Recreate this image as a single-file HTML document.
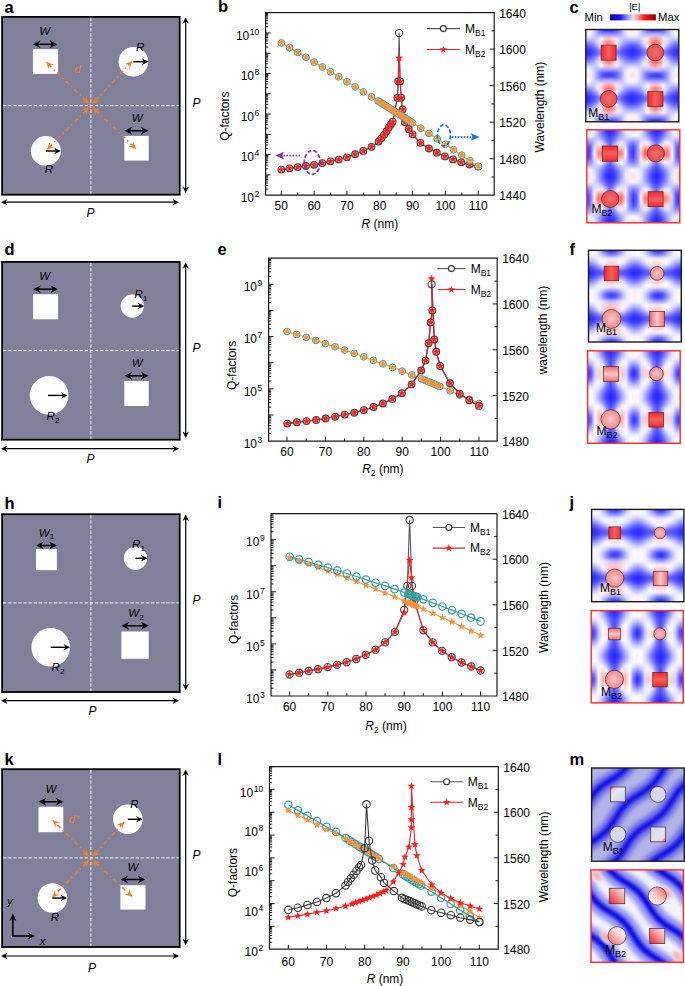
<!DOCTYPE html>
<html><head><meta charset="utf-8"><style>
html,body{margin:0;padding:0;background:#fff;}
svg{display:block;font-family:"Liberation Sans", sans-serif;}
</style></head><body>
<svg width="685" height="986" viewBox="0 0 685 986">
<defs>
<linearGradient id="gRedH" x1="0" y1="0" x2="1" y2="0"><stop offset="0" stop-color="#ff2424"/><stop offset="0.5" stop-color="#f26262"/><stop offset="1" stop-color="#ff2424"/></linearGradient>
<linearGradient id="gRedV" x1="0" y1="0" x2="0" y2="1"><stop offset="0" stop-color="#ff2424"/><stop offset="0.5" stop-color="#f26262"/><stop offset="1" stop-color="#ff2424"/></linearGradient>
<radialGradient id="gRedC"><stop offset="0" stop-color="#f27070"/><stop offset="1" stop-color="#ec4848"/></radialGradient>
<linearGradient id="gPinkH" x1="0" y1="0" x2="1" y2="0"><stop offset="0" stop-color="#f46a6a"/><stop offset="0.5" stop-color="#fbcaca"/><stop offset="1" stop-color="#f46a6a"/></linearGradient>
<linearGradient id="gPinkV" x1="0" y1="0" x2="0" y2="1"><stop offset="0" stop-color="#f46a6a"/><stop offset="0.5" stop-color="#fbcaca"/><stop offset="1" stop-color="#f46a6a"/></linearGradient>
<radialGradient id="gPinkC"><stop offset="0" stop-color="#fbc8c8"/><stop offset="1" stop-color="#f48888"/></radialGradient>
<linearGradient id="gCbar" x1="0" y1="0" x2="1" y2="0"><stop offset="0" stop-color="#00009a"/><stop offset="0.22" stop-color="#1515ff"/><stop offset="0.4" stop-color="#a0a0f2"/><stop offset="0.5" stop-color="#e6e0e0"/><stop offset="0.6" stop-color="#f7a0a0"/><stop offset="0.75" stop-color="#ff1515"/><stop offset="1" stop-color="#960010"/></linearGradient>
<clipPath id="cl0"><rect x="585.8" y="29.5" width="93" height="92.3"/></clipPath><linearGradient id="fr0" x1="0" x2="1" y1="0" y2="0"><stop offset="0.000" stop-color="#fff2f2"/><stop offset="0.038" stop-color="#ffdede"/><stop offset="0.077" stop-color="#ffefef"/><stop offset="0.115" stop-color="#d9d9ff"/><stop offset="0.154" stop-color="#9595ff"/><stop offset="0.192" stop-color="#5b5bff"/><stop offset="0.231" stop-color="#3535ff"/><stop offset="0.269" stop-color="#2828ff"/><stop offset="0.308" stop-color="#3434ff"/><stop offset="0.346" stop-color="#5959ff"/><stop offset="0.385" stop-color="#9393ff"/><stop offset="0.423" stop-color="#d7d7ff"/><stop offset="0.462" stop-color="#fff0f0"/><stop offset="0.500" stop-color="#ffdede"/><stop offset="0.538" stop-color="#fff0f0"/><stop offset="0.577" stop-color="#d8d8ff"/><stop offset="0.615" stop-color="#9494ff"/><stop offset="0.654" stop-color="#5b5bff"/><stop offset="0.692" stop-color="#3838ff"/><stop offset="0.731" stop-color="#2d2dff"/><stop offset="0.769" stop-color="#3939ff"/><stop offset="0.808" stop-color="#5d5dff"/><stop offset="0.846" stop-color="#9696ff"/><stop offset="0.885" stop-color="#dadaff"/><stop offset="0.923" stop-color="#ffefef"/><stop offset="0.962" stop-color="#ffdede"/><stop offset="1.000" stop-color="#fff2f2"/></linearGradient><linearGradient id="fr1" x1="0" x2="1" y1="0" y2="0"><stop offset="0.000" stop-color="#fff1f1"/><stop offset="0.038" stop-color="#ffdcdc"/><stop offset="0.077" stop-color="#ffeeee"/><stop offset="0.115" stop-color="#dadaff"/><stop offset="0.154" stop-color="#9595ff"/><stop offset="0.192" stop-color="#5c5cff"/><stop offset="0.231" stop-color="#3a3aff"/><stop offset="0.269" stop-color="#2e2eff"/><stop offset="0.308" stop-color="#3838ff"/><stop offset="0.346" stop-color="#5a5aff"/><stop offset="0.385" stop-color="#9393ff"/><stop offset="0.423" stop-color="#d8d8ff"/><stop offset="0.462" stop-color="#fff0f0"/><stop offset="0.500" stop-color="#ffdcdc"/><stop offset="0.538" stop-color="#ffefef"/><stop offset="0.577" stop-color="#d9d9ff"/><stop offset="0.615" stop-color="#9898ff"/><stop offset="0.654" stop-color="#6565ff"/><stop offset="0.692" stop-color="#4848ff"/><stop offset="0.731" stop-color="#4040ff"/><stop offset="0.769" stop-color="#4848ff"/><stop offset="0.808" stop-color="#6565ff"/><stop offset="0.846" stop-color="#9999ff"/><stop offset="0.885" stop-color="#dbdbff"/><stop offset="0.923" stop-color="#ffeeee"/><stop offset="0.962" stop-color="#ffdcdc"/><stop offset="1.000" stop-color="#fff1f1"/></linearGradient><linearGradient id="fr2" x1="0" x2="1" y1="0" y2="0"><stop offset="0.000" stop-color="#f6f6ff"/><stop offset="0.038" stop-color="#fffafa"/><stop offset="0.077" stop-color="#f8f8ff"/><stop offset="0.115" stop-color="#d6d6ff"/><stop offset="0.154" stop-color="#b3b3ff"/><stop offset="0.192" stop-color="#9e9eff"/><stop offset="0.231" stop-color="#9a9aff"/><stop offset="0.269" stop-color="#9a9aff"/><stop offset="0.308" stop-color="#9696ff"/><stop offset="0.346" stop-color="#9999ff"/><stop offset="0.385" stop-color="#b0b0ff"/><stop offset="0.423" stop-color="#d5d5ff"/><stop offset="0.462" stop-color="#f7f7ff"/><stop offset="0.500" stop-color="#fffafa"/><stop offset="0.538" stop-color="#f8f8ff"/><stop offset="0.577" stop-color="#d9d9ff"/><stop offset="0.615" stop-color="#bebeff"/><stop offset="0.654" stop-color="#b6b6ff"/><stop offset="0.692" stop-color="#bebeff"/><stop offset="0.731" stop-color="#c3c3ff"/><stop offset="0.769" stop-color="#babaff"/><stop offset="0.808" stop-color="#b2b2ff"/><stop offset="0.846" stop-color="#bcbcff"/><stop offset="0.885" stop-color="#d9d9ff"/><stop offset="0.923" stop-color="#f8f8ff"/><stop offset="0.962" stop-color="#fffafa"/><stop offset="1.000" stop-color="#f6f6ff"/></linearGradient><linearGradient id="fr3" x1="0" x2="1" y1="0" y2="0"><stop offset="0.000" stop-color="#c7c7ff"/><stop offset="0.038" stop-color="#c9c9ff"/><stop offset="0.077" stop-color="#c8c8ff"/><stop offset="0.115" stop-color="#c8c8ff"/><stop offset="0.154" stop-color="#d4d4ff"/><stop offset="0.192" stop-color="#fafaff"/><stop offset="0.231" stop-color="#ffd8d8"/><stop offset="0.269" stop-color="#ffc5c5"/><stop offset="0.308" stop-color="#ffe0e0"/><stop offset="0.346" stop-color="#efefff"/><stop offset="0.385" stop-color="#ceceff"/><stop offset="0.423" stop-color="#c6c6ff"/><stop offset="0.462" stop-color="#c7c7ff"/><stop offset="0.500" stop-color="#c9c9ff"/><stop offset="0.538" stop-color="#cacaff"/><stop offset="0.577" stop-color="#cfcfff"/><stop offset="0.615" stop-color="#e8e8ff"/><stop offset="0.654" stop-color="#ffe6e6"/><stop offset="0.692" stop-color="#ffb3b3"/><stop offset="0.731" stop-color="#ff9e9e"/><stop offset="0.769" stop-color="#ffbbbb"/><stop offset="0.808" stop-color="#ffefef"/><stop offset="0.846" stop-color="#e1e1ff"/><stop offset="0.885" stop-color="#cdcdff"/><stop offset="0.923" stop-color="#c9c9ff"/><stop offset="0.962" stop-color="#c9c9ff"/><stop offset="1.000" stop-color="#c7c7ff"/></linearGradient><linearGradient id="fr4" x1="0" x2="1" y1="0" y2="0"><stop offset="0.000" stop-color="#8d8dff"/><stop offset="0.038" stop-color="#8686ff"/><stop offset="0.077" stop-color="#8e8eff"/><stop offset="0.115" stop-color="#a5a5ff"/><stop offset="0.154" stop-color="#d4d4ff"/><stop offset="0.192" stop-color="#ffdcdc"/><stop offset="0.231" stop-color="#ff8888"/><stop offset="0.269" stop-color="#ff6666"/><stop offset="0.308" stop-color="#ff9797"/><stop offset="0.346" stop-color="#ffecec"/><stop offset="0.385" stop-color="#cbcbff"/><stop offset="0.423" stop-color="#a2a2ff"/><stop offset="0.462" stop-color="#8d8dff"/><stop offset="0.500" stop-color="#8787ff"/><stop offset="0.538" stop-color="#9090ff"/><stop offset="0.577" stop-color="#aeaeff"/><stop offset="0.615" stop-color="#e8e8ff"/><stop offset="0.654" stop-color="#ffc7c7"/><stop offset="0.692" stop-color="#ff7878"/><stop offset="0.731" stop-color="#ff5959"/><stop offset="0.769" stop-color="#ff8383"/><stop offset="0.808" stop-color="#ffd3d3"/><stop offset="0.846" stop-color="#dfdfff"/><stop offset="0.885" stop-color="#aaaaff"/><stop offset="0.923" stop-color="#8f8fff"/><stop offset="0.962" stop-color="#8686ff"/><stop offset="1.000" stop-color="#8d8dff"/></linearGradient><linearGradient id="fr5" x1="0" x2="1" y1="0" y2="0"><stop offset="0.000" stop-color="#5555ff"/><stop offset="0.038" stop-color="#4c4cff"/><stop offset="0.077" stop-color="#5656ff"/><stop offset="0.115" stop-color="#7272ff"/><stop offset="0.154" stop-color="#a3a3ff"/><stop offset="0.192" stop-color="#f5f5ff"/><stop offset="0.231" stop-color="#ffb8b8"/><stop offset="0.269" stop-color="#ff9898"/><stop offset="0.308" stop-color="#ffc7c7"/><stop offset="0.346" stop-color="#e2e2ff"/><stop offset="0.385" stop-color="#9a9aff"/><stop offset="0.423" stop-color="#7070ff"/><stop offset="0.462" stop-color="#5656ff"/><stop offset="0.500" stop-color="#4c4cff"/><stop offset="0.538" stop-color="#5858ff"/><stop offset="0.577" stop-color="#7a7aff"/><stop offset="0.615" stop-color="#b2b2ff"/><stop offset="0.654" stop-color="#fffefe"/><stop offset="0.692" stop-color="#ffbcbc"/><stop offset="0.731" stop-color="#ffa2a2"/><stop offset="0.769" stop-color="#ffc5c5"/><stop offset="0.808" stop-color="#f3f3ff"/><stop offset="0.846" stop-color="#a9a9ff"/><stop offset="0.885" stop-color="#7676ff"/><stop offset="0.923" stop-color="#5757ff"/><stop offset="0.962" stop-color="#4c4cff"/><stop offset="1.000" stop-color="#5555ff"/></linearGradient><linearGradient id="fr6" x1="0" x2="1" y1="0" y2="0"><stop offset="0.000" stop-color="#3232ff"/><stop offset="0.038" stop-color="#2828ff"/><stop offset="0.077" stop-color="#3131ff"/><stop offset="0.115" stop-color="#4848ff"/><stop offset="0.154" stop-color="#6767ff"/><stop offset="0.192" stop-color="#9090ff"/><stop offset="0.231" stop-color="#bdbdff"/><stop offset="0.269" stop-color="#cfcfff"/><stop offset="0.308" stop-color="#b2b2ff"/><stop offset="0.346" stop-color="#8484ff"/><stop offset="0.385" stop-color="#6161ff"/><stop offset="0.423" stop-color="#4747ff"/><stop offset="0.462" stop-color="#3232ff"/><stop offset="0.500" stop-color="#2929ff"/><stop offset="0.538" stop-color="#3333ff"/><stop offset="0.577" stop-color="#4d4dff"/><stop offset="0.615" stop-color="#6f6fff"/><stop offset="0.654" stop-color="#9696ff"/><stop offset="0.692" stop-color="#babaff"/><stop offset="0.731" stop-color="#c7c7ff"/><stop offset="0.769" stop-color="#b4b4ff"/><stop offset="0.808" stop-color="#8f8fff"/><stop offset="0.846" stop-color="#6a6aff"/><stop offset="0.885" stop-color="#4b4bff"/><stop offset="0.923" stop-color="#3232ff"/><stop offset="0.962" stop-color="#2929ff"/><stop offset="1.000" stop-color="#3232ff"/></linearGradient><linearGradient id="fr7" x1="0" x2="1" y1="0" y2="0"><stop offset="0.000" stop-color="#3131ff"/><stop offset="0.038" stop-color="#2828ff"/><stop offset="0.077" stop-color="#3131ff"/><stop offset="0.115" stop-color="#4747ff"/><stop offset="0.154" stop-color="#6464ff"/><stop offset="0.192" stop-color="#8a8aff"/><stop offset="0.231" stop-color="#b4b4ff"/><stop offset="0.269" stop-color="#c4c4ff"/><stop offset="0.308" stop-color="#aaaaff"/><stop offset="0.346" stop-color="#7f7fff"/><stop offset="0.385" stop-color="#5f5fff"/><stop offset="0.423" stop-color="#4646ff"/><stop offset="0.462" stop-color="#3131ff"/><stop offset="0.500" stop-color="#2828ff"/><stop offset="0.538" stop-color="#3232ff"/><stop offset="0.577" stop-color="#4c4cff"/><stop offset="0.615" stop-color="#6d6dff"/><stop offset="0.654" stop-color="#9292ff"/><stop offset="0.692" stop-color="#b4b4ff"/><stop offset="0.731" stop-color="#c1c1ff"/><stop offset="0.769" stop-color="#aeaeff"/><stop offset="0.808" stop-color="#8b8bff"/><stop offset="0.846" stop-color="#6868ff"/><stop offset="0.885" stop-color="#4a4aff"/><stop offset="0.923" stop-color="#3131ff"/><stop offset="0.962" stop-color="#2828ff"/><stop offset="1.000" stop-color="#3131ff"/></linearGradient><linearGradient id="fr8" x1="0" x2="1" y1="0" y2="0"><stop offset="0.000" stop-color="#5353ff"/><stop offset="0.038" stop-color="#4a4aff"/><stop offset="0.077" stop-color="#5454ff"/><stop offset="0.115" stop-color="#7070ff"/><stop offset="0.154" stop-color="#a0a0ff"/><stop offset="0.192" stop-color="#f0f0ff"/><stop offset="0.231" stop-color="#ffbebe"/><stop offset="0.269" stop-color="#ff9f9f"/><stop offset="0.308" stop-color="#ffcdcd"/><stop offset="0.346" stop-color="#ddddff"/><stop offset="0.385" stop-color="#9797ff"/><stop offset="0.423" stop-color="#6e6eff"/><stop offset="0.462" stop-color="#5454ff"/><stop offset="0.500" stop-color="#4a4aff"/><stop offset="0.538" stop-color="#5656ff"/><stop offset="0.577" stop-color="#7878ff"/><stop offset="0.615" stop-color="#afafff"/><stop offset="0.654" stop-color="#fcfcff"/><stop offset="0.692" stop-color="#ffc1c1"/><stop offset="0.731" stop-color="#ffa8a8"/><stop offset="0.769" stop-color="#ffcaca"/><stop offset="0.808" stop-color="#efefff"/><stop offset="0.846" stop-color="#a6a6ff"/><stop offset="0.885" stop-color="#7474ff"/><stop offset="0.923" stop-color="#5555ff"/><stop offset="0.962" stop-color="#4a4aff"/><stop offset="1.000" stop-color="#5353ff"/></linearGradient><linearGradient id="fr9" x1="0" x2="1" y1="0" y2="0"><stop offset="0.000" stop-color="#8b8bff"/><stop offset="0.038" stop-color="#8484ff"/><stop offset="0.077" stop-color="#8b8bff"/><stop offset="0.115" stop-color="#a3a3ff"/><stop offset="0.154" stop-color="#d3d3ff"/><stop offset="0.192" stop-color="#ffdbdb"/><stop offset="0.231" stop-color="#ff8686"/><stop offset="0.269" stop-color="#ff6363"/><stop offset="0.308" stop-color="#ff9595"/><stop offset="0.346" stop-color="#ffebeb"/><stop offset="0.385" stop-color="#cacaff"/><stop offset="0.423" stop-color="#a1a1ff"/><stop offset="0.462" stop-color="#8b8bff"/><stop offset="0.500" stop-color="#8484ff"/><stop offset="0.538" stop-color="#8e8eff"/><stop offset="0.577" stop-color="#adadff"/><stop offset="0.615" stop-color="#e7e7ff"/><stop offset="0.654" stop-color="#ffc7c7"/><stop offset="0.692" stop-color="#ff7878"/><stop offset="0.731" stop-color="#ff5959"/><stop offset="0.769" stop-color="#ff8383"/><stop offset="0.808" stop-color="#ffd4d4"/><stop offset="0.846" stop-color="#dedeff"/><stop offset="0.885" stop-color="#a9a9ff"/><stop offset="0.923" stop-color="#8d8dff"/><stop offset="0.962" stop-color="#8484ff"/><stop offset="1.000" stop-color="#8b8bff"/></linearGradient><linearGradient id="fr10" x1="0" x2="1" y1="0" y2="0"><stop offset="0.000" stop-color="#c5c5ff"/><stop offset="0.038" stop-color="#c6c6ff"/><stop offset="0.077" stop-color="#c6c6ff"/><stop offset="0.115" stop-color="#c7c7ff"/><stop offset="0.154" stop-color="#d5d5ff"/><stop offset="0.192" stop-color="#ffffff"/><stop offset="0.231" stop-color="#ffd0d0"/><stop offset="0.269" stop-color="#ffbcbc"/><stop offset="0.308" stop-color="#ffd9d9"/><stop offset="0.346" stop-color="#f3f3ff"/><stop offset="0.385" stop-color="#d0d0ff"/><stop offset="0.423" stop-color="#c5c5ff"/><stop offset="0.462" stop-color="#c5c5ff"/><stop offset="0.500" stop-color="#c7c7ff"/><stop offset="0.538" stop-color="#c8c8ff"/><stop offset="0.577" stop-color="#cfcfff"/><stop offset="0.615" stop-color="#e9e9ff"/><stop offset="0.654" stop-color="#ffe3e3"/><stop offset="0.692" stop-color="#ffaeae"/><stop offset="0.731" stop-color="#ff9999"/><stop offset="0.769" stop-color="#ffb6b6"/><stop offset="0.808" stop-color="#ffecec"/><stop offset="0.846" stop-color="#e2e2ff"/><stop offset="0.885" stop-color="#ccccff"/><stop offset="0.923" stop-color="#c7c7ff"/><stop offset="0.962" stop-color="#c7c7ff"/><stop offset="1.000" stop-color="#c5c5ff"/></linearGradient><linearGradient id="fr11" x1="0" x2="1" y1="0" y2="0"><stop offset="0.000" stop-color="#f4f4ff"/><stop offset="0.038" stop-color="#fffcfc"/><stop offset="0.077" stop-color="#f6f6ff"/><stop offset="0.115" stop-color="#d6d6ff"/><stop offset="0.154" stop-color="#b5b5ff"/><stop offset="0.192" stop-color="#a2a2ff"/><stop offset="0.231" stop-color="#a2a2ff"/><stop offset="0.269" stop-color="#a3a3ff"/><stop offset="0.308" stop-color="#9d9dff"/><stop offset="0.346" stop-color="#9e9eff"/><stop offset="0.385" stop-color="#b1b1ff"/><stop offset="0.423" stop-color="#d4d4ff"/><stop offset="0.462" stop-color="#f5f5ff"/><stop offset="0.500" stop-color="#fffcfc"/><stop offset="0.538" stop-color="#f6f6ff"/><stop offset="0.577" stop-color="#d9d9ff"/><stop offset="0.615" stop-color="#c0c0ff"/><stop offset="0.654" stop-color="#babaff"/><stop offset="0.692" stop-color="#c5c5ff"/><stop offset="0.731" stop-color="#cbcbff"/><stop offset="0.769" stop-color="#c1c1ff"/><stop offset="0.808" stop-color="#b6b6ff"/><stop offset="0.846" stop-color="#bebeff"/><stop offset="0.885" stop-color="#d9d9ff"/><stop offset="0.923" stop-color="#f7f7ff"/><stop offset="0.962" stop-color="#fffcfc"/><stop offset="1.000" stop-color="#f4f4ff"/></linearGradient><linearGradient id="fr12" x1="0" x2="1" y1="0" y2="0"><stop offset="0.000" stop-color="#fff1f1"/><stop offset="0.038" stop-color="#ffdddd"/><stop offset="0.077" stop-color="#ffefef"/><stop offset="0.115" stop-color="#dadaff"/><stop offset="0.154" stop-color="#9797ff"/><stop offset="0.192" stop-color="#6161ff"/><stop offset="0.231" stop-color="#4141ff"/><stop offset="0.269" stop-color="#3636ff"/><stop offset="0.308" stop-color="#3f3fff"/><stop offset="0.346" stop-color="#5e5eff"/><stop offset="0.385" stop-color="#9595ff"/><stop offset="0.423" stop-color="#d8d8ff"/><stop offset="0.462" stop-color="#fff0f0"/><stop offset="0.500" stop-color="#ffdddd"/><stop offset="0.538" stop-color="#fff0f0"/><stop offset="0.577" stop-color="#d9d9ff"/><stop offset="0.615" stop-color="#9999ff"/><stop offset="0.654" stop-color="#6767ff"/><stop offset="0.692" stop-color="#4d4dff"/><stop offset="0.731" stop-color="#4444ff"/><stop offset="0.769" stop-color="#4c4cff"/><stop offset="0.808" stop-color="#6767ff"/><stop offset="0.846" stop-color="#9a9aff"/><stop offset="0.885" stop-color="#dbdbff"/><stop offset="0.923" stop-color="#ffefef"/><stop offset="0.962" stop-color="#ffdddd"/><stop offset="1.000" stop-color="#fff1f1"/></linearGradient><linearGradient id="fr13" x1="0" x2="1" y1="0" y2="0"><stop offset="0.000" stop-color="#fff1f1"/><stop offset="0.038" stop-color="#ffdddd"/><stop offset="0.077" stop-color="#ffefef"/><stop offset="0.115" stop-color="#dbdbff"/><stop offset="0.154" stop-color="#9b9bff"/><stop offset="0.192" stop-color="#6868ff"/><stop offset="0.231" stop-color="#4c4cff"/><stop offset="0.269" stop-color="#4242ff"/><stop offset="0.308" stop-color="#4949ff"/><stop offset="0.346" stop-color="#6565ff"/><stop offset="0.385" stop-color="#9898ff"/><stop offset="0.423" stop-color="#d9d9ff"/><stop offset="0.462" stop-color="#fff0f0"/><stop offset="0.500" stop-color="#ffdddd"/><stop offset="0.538" stop-color="#fff0f0"/><stop offset="0.577" stop-color="#d8d8ff"/><stop offset="0.615" stop-color="#9595ff"/><stop offset="0.654" stop-color="#5f5fff"/><stop offset="0.692" stop-color="#4040ff"/><stop offset="0.731" stop-color="#3636ff"/><stop offset="0.769" stop-color="#4040ff"/><stop offset="0.808" stop-color="#6060ff"/><stop offset="0.846" stop-color="#9797ff"/><stop offset="0.885" stop-color="#dadaff"/><stop offset="0.923" stop-color="#ffefef"/><stop offset="0.962" stop-color="#ffdddd"/><stop offset="1.000" stop-color="#fff1f1"/></linearGradient><linearGradient id="fr14" x1="0" x2="1" y1="0" y2="0"><stop offset="0.000" stop-color="#f4f4ff"/><stop offset="0.038" stop-color="#fffcfc"/><stop offset="0.077" stop-color="#f7f7ff"/><stop offset="0.115" stop-color="#dadaff"/><stop offset="0.154" stop-color="#c0c0ff"/><stop offset="0.192" stop-color="#b8b8ff"/><stop offset="0.231" stop-color="#c1c1ff"/><stop offset="0.269" stop-color="#c6c6ff"/><stop offset="0.308" stop-color="#bdbdff"/><stop offset="0.346" stop-color="#b3b3ff"/><stop offset="0.385" stop-color="#bcbcff"/><stop offset="0.423" stop-color="#d8d8ff"/><stop offset="0.462" stop-color="#f6f6ff"/><stop offset="0.500" stop-color="#fffcfc"/><stop offset="0.538" stop-color="#f5f5ff"/><stop offset="0.577" stop-color="#d5d5ff"/><stop offset="0.615" stop-color="#b3b3ff"/><stop offset="0.654" stop-color="#a0a0ff"/><stop offset="0.692" stop-color="#9f9fff"/><stop offset="0.731" stop-color="#a1a1ff"/><stop offset="0.769" stop-color="#9d9dff"/><stop offset="0.808" stop-color="#9f9fff"/><stop offset="0.846" stop-color="#b3b3ff"/><stop offset="0.885" stop-color="#d6d6ff"/><stop offset="0.923" stop-color="#f6f6ff"/><stop offset="0.962" stop-color="#fffcfc"/><stop offset="1.000" stop-color="#f4f4ff"/></linearGradient><linearGradient id="fr15" x1="0" x2="1" y1="0" y2="0"><stop offset="0.000" stop-color="#c5c5ff"/><stop offset="0.038" stop-color="#c7c7ff"/><stop offset="0.077" stop-color="#c8c8ff"/><stop offset="0.115" stop-color="#ceceff"/><stop offset="0.154" stop-color="#e8e8ff"/><stop offset="0.192" stop-color="#ffe6e6"/><stop offset="0.231" stop-color="#ffb2b2"/><stop offset="0.269" stop-color="#ff9d9d"/><stop offset="0.308" stop-color="#ffb9b9"/><stop offset="0.346" stop-color="#ffeeee"/><stop offset="0.385" stop-color="#e1e1ff"/><stop offset="0.423" stop-color="#ccccff"/><stop offset="0.462" stop-color="#c7c7ff"/><stop offset="0.500" stop-color="#c7c7ff"/><stop offset="0.538" stop-color="#c6c6ff"/><stop offset="0.577" stop-color="#c7c7ff"/><stop offset="0.615" stop-color="#d4d4ff"/><stop offset="0.654" stop-color="#fbfbff"/><stop offset="0.692" stop-color="#ffd5d5"/><stop offset="0.731" stop-color="#ffc0c0"/><stop offset="0.769" stop-color="#ffdada"/><stop offset="0.808" stop-color="#f5f5ff"/><stop offset="0.846" stop-color="#d1d1ff"/><stop offset="0.885" stop-color="#c6c6ff"/><stop offset="0.923" stop-color="#c6c6ff"/><stop offset="0.962" stop-color="#c6c6ff"/><stop offset="1.000" stop-color="#c5c5ff"/></linearGradient><linearGradient id="fr16" x1="0" x2="1" y1="0" y2="0"><stop offset="0.000" stop-color="#8b8bff"/><stop offset="0.038" stop-color="#8484ff"/><stop offset="0.077" stop-color="#8e8eff"/><stop offset="0.115" stop-color="#acacff"/><stop offset="0.154" stop-color="#e6e6ff"/><stop offset="0.192" stop-color="#ffc8c8"/><stop offset="0.231" stop-color="#ff7979"/><stop offset="0.269" stop-color="#ff5a5a"/><stop offset="0.308" stop-color="#ff8383"/><stop offset="0.346" stop-color="#ffd4d4"/><stop offset="0.385" stop-color="#dedeff"/><stop offset="0.423" stop-color="#a9a9ff"/><stop offset="0.462" stop-color="#8d8dff"/><stop offset="0.500" stop-color="#8484ff"/><stop offset="0.538" stop-color="#8c8cff"/><stop offset="0.577" stop-color="#a4a4ff"/><stop offset="0.615" stop-color="#d2d2ff"/><stop offset="0.654" stop-color="#ffdfdf"/><stop offset="0.692" stop-color="#ff8b8b"/><stop offset="0.731" stop-color="#ff6565"/><stop offset="0.769" stop-color="#ff9393"/><stop offset="0.808" stop-color="#ffe7e7"/><stop offset="0.846" stop-color="#cdcdff"/><stop offset="0.885" stop-color="#a1a1ff"/><stop offset="0.923" stop-color="#8b8bff"/><stop offset="0.962" stop-color="#8484ff"/><stop offset="1.000" stop-color="#8b8bff"/></linearGradient><linearGradient id="fr17" x1="0" x2="1" y1="0" y2="0"><stop offset="0.000" stop-color="#5353ff"/><stop offset="0.038" stop-color="#4a4aff"/><stop offset="0.077" stop-color="#5656ff"/><stop offset="0.115" stop-color="#7777ff"/><stop offset="0.154" stop-color="#afafff"/><stop offset="0.192" stop-color="#fefeff"/><stop offset="0.231" stop-color="#ffbebe"/><stop offset="0.269" stop-color="#ffa5a5"/><stop offset="0.308" stop-color="#ffc7c7"/><stop offset="0.346" stop-color="#f1f1ff"/><stop offset="0.385" stop-color="#a7a7ff"/><stop offset="0.423" stop-color="#7575ff"/><stop offset="0.462" stop-color="#5656ff"/><stop offset="0.500" stop-color="#4a4aff"/><stop offset="0.538" stop-color="#5454ff"/><stop offset="0.577" stop-color="#7171ff"/><stop offset="0.615" stop-color="#a1a1ff"/><stop offset="0.654" stop-color="#f0f0ff"/><stop offset="0.692" stop-color="#ffbdbd"/><stop offset="0.731" stop-color="#ff9a9a"/><stop offset="0.769" stop-color="#ffc5c5"/><stop offset="0.808" stop-color="#e6e6ff"/><stop offset="0.846" stop-color="#9b9bff"/><stop offset="0.885" stop-color="#6e6eff"/><stop offset="0.923" stop-color="#5353ff"/><stop offset="0.962" stop-color="#4a4aff"/><stop offset="1.000" stop-color="#5353ff"/></linearGradient><linearGradient id="fr18" x1="0" x2="1" y1="0" y2="0"><stop offset="0.000" stop-color="#3131ff"/><stop offset="0.038" stop-color="#2828ff"/><stop offset="0.077" stop-color="#3232ff"/><stop offset="0.115" stop-color="#4c4cff"/><stop offset="0.154" stop-color="#6e6eff"/><stop offset="0.192" stop-color="#9595ff"/><stop offset="0.231" stop-color="#b9b9ff"/><stop offset="0.269" stop-color="#c6c6ff"/><stop offset="0.308" stop-color="#b2b2ff"/><stop offset="0.346" stop-color="#8d8dff"/><stop offset="0.385" stop-color="#6969ff"/><stop offset="0.423" stop-color="#4a4aff"/><stop offset="0.462" stop-color="#3232ff"/><stop offset="0.500" stop-color="#2828ff"/><stop offset="0.538" stop-color="#3131ff"/><stop offset="0.577" stop-color="#4848ff"/><stop offset="0.615" stop-color="#6666ff"/><stop offset="0.654" stop-color="#8d8dff"/><stop offset="0.692" stop-color="#babaff"/><stop offset="0.731" stop-color="#ceceff"/><stop offset="0.769" stop-color="#b5b5ff"/><stop offset="0.808" stop-color="#8888ff"/><stop offset="0.846" stop-color="#6262ff"/><stop offset="0.885" stop-color="#4747ff"/><stop offset="0.923" stop-color="#3131ff"/><stop offset="0.962" stop-color="#2828ff"/><stop offset="1.000" stop-color="#3131ff"/></linearGradient><linearGradient id="fr19" x1="0" x2="1" y1="0" y2="0"><stop offset="0.000" stop-color="#3232ff"/><stop offset="0.038" stop-color="#2929ff"/><stop offset="0.077" stop-color="#3333ff"/><stop offset="0.115" stop-color="#4c4cff"/><stop offset="0.154" stop-color="#6e6eff"/><stop offset="0.192" stop-color="#9393ff"/><stop offset="0.231" stop-color="#b6b6ff"/><stop offset="0.269" stop-color="#c2c2ff"/><stop offset="0.308" stop-color="#afafff"/><stop offset="0.346" stop-color="#8c8cff"/><stop offset="0.385" stop-color="#6969ff"/><stop offset="0.423" stop-color="#4b4bff"/><stop offset="0.462" stop-color="#3333ff"/><stop offset="0.500" stop-color="#2929ff"/><stop offset="0.538" stop-color="#3232ff"/><stop offset="0.577" stop-color="#4848ff"/><stop offset="0.615" stop-color="#6565ff"/><stop offset="0.654" stop-color="#8989ff"/><stop offset="0.692" stop-color="#b1b1ff"/><stop offset="0.731" stop-color="#c3c3ff"/><stop offset="0.769" stop-color="#adadff"/><stop offset="0.808" stop-color="#8484ff"/><stop offset="0.846" stop-color="#6262ff"/><stop offset="0.885" stop-color="#4747ff"/><stop offset="0.923" stop-color="#3131ff"/><stop offset="0.962" stop-color="#2828ff"/><stop offset="1.000" stop-color="#3232ff"/></linearGradient><linearGradient id="fr20" x1="0" x2="1" y1="0" y2="0"><stop offset="0.000" stop-color="#5555ff"/><stop offset="0.038" stop-color="#4c4cff"/><stop offset="0.077" stop-color="#5858ff"/><stop offset="0.115" stop-color="#7979ff"/><stop offset="0.154" stop-color="#b0b0ff"/><stop offset="0.192" stop-color="#fefeff"/><stop offset="0.231" stop-color="#ffbfbf"/><stop offset="0.269" stop-color="#ffa6a6"/><stop offset="0.308" stop-color="#ffc8c8"/><stop offset="0.346" stop-color="#f1f1ff"/><stop offset="0.385" stop-color="#a9a9ff"/><stop offset="0.423" stop-color="#7676ff"/><stop offset="0.462" stop-color="#5757ff"/><stop offset="0.500" stop-color="#4c4cff"/><stop offset="0.538" stop-color="#5656ff"/><stop offset="0.577" stop-color="#7272ff"/><stop offset="0.615" stop-color="#a2a2ff"/><stop offset="0.654" stop-color="#efefff"/><stop offset="0.692" stop-color="#ffc0c0"/><stop offset="0.731" stop-color="#ff9e9e"/><stop offset="0.769" stop-color="#ffc8c8"/><stop offset="0.808" stop-color="#e5e5ff"/><stop offset="0.846" stop-color="#9c9cff"/><stop offset="0.885" stop-color="#7070ff"/><stop offset="0.923" stop-color="#5555ff"/><stop offset="0.962" stop-color="#4c4cff"/><stop offset="1.000" stop-color="#5555ff"/></linearGradient><linearGradient id="fr21" x1="0" x2="1" y1="0" y2="0"><stop offset="0.000" stop-color="#8d8dff"/><stop offset="0.038" stop-color="#8787ff"/><stop offset="0.077" stop-color="#9090ff"/><stop offset="0.115" stop-color="#aeaeff"/><stop offset="0.154" stop-color="#e8e8ff"/><stop offset="0.192" stop-color="#ffc6c6"/><stop offset="0.231" stop-color="#ff7777"/><stop offset="0.269" stop-color="#ff5858"/><stop offset="0.308" stop-color="#ff8181"/><stop offset="0.346" stop-color="#ffd2d2"/><stop offset="0.385" stop-color="#e0e0ff"/><stop offset="0.423" stop-color="#ababff"/><stop offset="0.462" stop-color="#9090ff"/><stop offset="0.500" stop-color="#8787ff"/><stop offset="0.538" stop-color="#8e8eff"/><stop offset="0.577" stop-color="#a6a6ff"/><stop offset="0.615" stop-color="#d5d5ff"/><stop offset="0.654" stop-color="#ffdbdb"/><stop offset="0.692" stop-color="#ff8585"/><stop offset="0.731" stop-color="#ff5f5f"/><stop offset="0.769" stop-color="#ff8d8d"/><stop offset="0.808" stop-color="#ffe4e4"/><stop offset="0.846" stop-color="#cfcfff"/><stop offset="0.885" stop-color="#a3a3ff"/><stop offset="0.923" stop-color="#8d8dff"/><stop offset="0.962" stop-color="#8686ff"/><stop offset="1.000" stop-color="#8d8dff"/></linearGradient><linearGradient id="fr22" x1="0" x2="1" y1="0" y2="0"><stop offset="0.000" stop-color="#c7c7ff"/><stop offset="0.038" stop-color="#c9c9ff"/><stop offset="0.077" stop-color="#cacaff"/><stop offset="0.115" stop-color="#d0d0ff"/><stop offset="0.154" stop-color="#e9e9ff"/><stop offset="0.192" stop-color="#ffe4e4"/><stop offset="0.231" stop-color="#ffafaf"/><stop offset="0.269" stop-color="#ff9a9a"/><stop offset="0.308" stop-color="#ffb7b7"/><stop offset="0.346" stop-color="#ffeded"/><stop offset="0.385" stop-color="#e2e2ff"/><stop offset="0.423" stop-color="#cdcdff"/><stop offset="0.462" stop-color="#c9c9ff"/><stop offset="0.500" stop-color="#c9c9ff"/><stop offset="0.538" stop-color="#c8c8ff"/><stop offset="0.577" stop-color="#c8c8ff"/><stop offset="0.615" stop-color="#d6d6ff"/><stop offset="0.654" stop-color="#fffefe"/><stop offset="0.692" stop-color="#ffcece"/><stop offset="0.731" stop-color="#ffb7b7"/><stop offset="0.769" stop-color="#ffd3d3"/><stop offset="0.808" stop-color="#f9f9ff"/><stop offset="0.846" stop-color="#d3d3ff"/><stop offset="0.885" stop-color="#c7c7ff"/><stop offset="0.923" stop-color="#c8c8ff"/><stop offset="0.962" stop-color="#c9c9ff"/><stop offset="1.000" stop-color="#c7c7ff"/></linearGradient><linearGradient id="fr23" x1="0" x2="1" y1="0" y2="0"><stop offset="0.000" stop-color="#f6f6ff"/><stop offset="0.038" stop-color="#fffafa"/><stop offset="0.077" stop-color="#f9f9ff"/><stop offset="0.115" stop-color="#dbdbff"/><stop offset="0.154" stop-color="#c0c0ff"/><stop offset="0.192" stop-color="#b9b9ff"/><stop offset="0.231" stop-color="#c2c2ff"/><stop offset="0.269" stop-color="#c8c8ff"/><stop offset="0.308" stop-color="#bebeff"/><stop offset="0.346" stop-color="#b3b3ff"/><stop offset="0.385" stop-color="#bcbcff"/><stop offset="0.423" stop-color="#d9d9ff"/><stop offset="0.462" stop-color="#f8f8ff"/><stop offset="0.500" stop-color="#fffafa"/><stop offset="0.538" stop-color="#f7f7ff"/><stop offset="0.577" stop-color="#d5d5ff"/><stop offset="0.615" stop-color="#b3b3ff"/><stop offset="0.654" stop-color="#a1a1ff"/><stop offset="0.692" stop-color="#a2a2ff"/><stop offset="0.731" stop-color="#a5a5ff"/><stop offset="0.769" stop-color="#a0a0ff"/><stop offset="0.808" stop-color="#a0a0ff"/><stop offset="0.846" stop-color="#b3b3ff"/><stop offset="0.885" stop-color="#d6d6ff"/><stop offset="0.923" stop-color="#f8f8ff"/><stop offset="0.962" stop-color="#fffafa"/><stop offset="1.000" stop-color="#f6f6ff"/></linearGradient><linearGradient id="fr24" x1="0" x2="1" y1="0" y2="0"><stop offset="0.000" stop-color="#fff1f1"/><stop offset="0.038" stop-color="#ffdcdc"/><stop offset="0.077" stop-color="#ffeeee"/><stop offset="0.115" stop-color="#dbdbff"/><stop offset="0.154" stop-color="#9a9aff"/><stop offset="0.192" stop-color="#6767ff"/><stop offset="0.231" stop-color="#4b4bff"/><stop offset="0.269" stop-color="#4242ff"/><stop offset="0.308" stop-color="#4949ff"/><stop offset="0.346" stop-color="#6464ff"/><stop offset="0.385" stop-color="#9797ff"/><stop offset="0.423" stop-color="#d9d9ff"/><stop offset="0.462" stop-color="#ffefef"/><stop offset="0.500" stop-color="#ffdcdc"/><stop offset="0.538" stop-color="#fff0f0"/><stop offset="0.577" stop-color="#d8d8ff"/><stop offset="0.615" stop-color="#9494ff"/><stop offset="0.654" stop-color="#5c5cff"/><stop offset="0.692" stop-color="#3b3bff"/><stop offset="0.731" stop-color="#3131ff"/><stop offset="0.769" stop-color="#3c3cff"/><stop offset="0.808" stop-color="#5d5dff"/><stop offset="0.846" stop-color="#9696ff"/><stop offset="0.885" stop-color="#dadaff"/><stop offset="0.923" stop-color="#ffeeee"/><stop offset="0.962" stop-color="#ffdcdc"/><stop offset="1.000" stop-color="#fff1f1"/></linearGradient><linearGradient id="fr25" x1="0" x2="1" y1="0" y2="0"><stop offset="0.000" stop-color="#fff2f2"/><stop offset="0.038" stop-color="#ffdede"/><stop offset="0.077" stop-color="#ffefef"/><stop offset="0.115" stop-color="#dadaff"/><stop offset="0.154" stop-color="#9696ff"/><stop offset="0.192" stop-color="#5d5dff"/><stop offset="0.231" stop-color="#3939ff"/><stop offset="0.269" stop-color="#2d2dff"/><stop offset="0.308" stop-color="#3838ff"/><stop offset="0.346" stop-color="#5b5bff"/><stop offset="0.385" stop-color="#9494ff"/><stop offset="0.423" stop-color="#d8d8ff"/><stop offset="0.462" stop-color="#fff0f0"/><stop offset="0.500" stop-color="#ffdede"/><stop offset="0.538" stop-color="#fff0f0"/><stop offset="0.577" stop-color="#d7d7ff"/><stop offset="0.615" stop-color="#9393ff"/><stop offset="0.654" stop-color="#5959ff"/><stop offset="0.692" stop-color="#3535ff"/><stop offset="0.731" stop-color="#2929ff"/><stop offset="0.769" stop-color="#3636ff"/><stop offset="0.808" stop-color="#5b5bff"/><stop offset="0.846" stop-color="#9595ff"/><stop offset="0.885" stop-color="#d9d9ff"/><stop offset="0.923" stop-color="#ffefef"/><stop offset="0.962" stop-color="#ffdede"/><stop offset="1.000" stop-color="#fff2f2"/></linearGradient><filter id="fb0" x="-5%" y="-5%" width="110%" height="110%"><feGaussianBlur stdDeviation="0.6 1.5"/></filter><clipPath id="cl1"><rect x="586.8" y="129.8" width="93" height="93"/></clipPath><linearGradient id="fr26" x1="0" x2="1" y1="0" y2="0"><stop offset="0.000" stop-color="#ffefef"/><stop offset="0.038" stop-color="#ffdfdf"/><stop offset="0.077" stop-color="#ffeded"/><stop offset="0.115" stop-color="#e6e6ff"/><stop offset="0.154" stop-color="#a8a8ff"/><stop offset="0.192" stop-color="#6969ff"/><stop offset="0.231" stop-color="#3939ff"/><stop offset="0.269" stop-color="#2626ff"/><stop offset="0.308" stop-color="#3838ff"/><stop offset="0.346" stop-color="#6767ff"/><stop offset="0.385" stop-color="#a6a6ff"/><stop offset="0.423" stop-color="#e4e4ff"/><stop offset="0.462" stop-color="#ffeeee"/><stop offset="0.500" stop-color="#ffdfdf"/><stop offset="0.538" stop-color="#ffeeee"/><stop offset="0.577" stop-color="#e4e4ff"/><stop offset="0.615" stop-color="#a6a6ff"/><stop offset="0.654" stop-color="#6767ff"/><stop offset="0.692" stop-color="#3838ff"/><stop offset="0.731" stop-color="#2626ff"/><stop offset="0.769" stop-color="#3939ff"/><stop offset="0.808" stop-color="#6969ff"/><stop offset="0.846" stop-color="#a8a8ff"/><stop offset="0.885" stop-color="#e6e6ff"/><stop offset="0.923" stop-color="#ffeded"/><stop offset="0.962" stop-color="#ffdfdf"/><stop offset="1.000" stop-color="#ffefef"/></linearGradient><linearGradient id="fr27" x1="0" x2="1" y1="0" y2="0"><stop offset="0.000" stop-color="#ffeeee"/><stop offset="0.038" stop-color="#ffdddd"/><stop offset="0.077" stop-color="#ffecec"/><stop offset="0.115" stop-color="#e6e6ff"/><stop offset="0.154" stop-color="#a8a8ff"/><stop offset="0.192" stop-color="#6969ff"/><stop offset="0.231" stop-color="#3838ff"/><stop offset="0.269" stop-color="#2626ff"/><stop offset="0.308" stop-color="#3737ff"/><stop offset="0.346" stop-color="#6767ff"/><stop offset="0.385" stop-color="#a6a6ff"/><stop offset="0.423" stop-color="#e5e5ff"/><stop offset="0.462" stop-color="#ffeded"/><stop offset="0.500" stop-color="#ffdddd"/><stop offset="0.538" stop-color="#ffeded"/><stop offset="0.577" stop-color="#e5e5ff"/><stop offset="0.615" stop-color="#a7a7ff"/><stop offset="0.654" stop-color="#6868ff"/><stop offset="0.692" stop-color="#3838ff"/><stop offset="0.731" stop-color="#2626ff"/><stop offset="0.769" stop-color="#3939ff"/><stop offset="0.808" stop-color="#6a6aff"/><stop offset="0.846" stop-color="#a9a9ff"/><stop offset="0.885" stop-color="#e7e7ff"/><stop offset="0.923" stop-color="#ffecec"/><stop offset="0.962" stop-color="#ffdddd"/><stop offset="1.000" stop-color="#ffeeee"/></linearGradient><linearGradient id="fr28" x1="0" x2="1" y1="0" y2="0"><stop offset="0.000" stop-color="#f2f2ff"/><stop offset="0.038" stop-color="#fbfbff"/><stop offset="0.077" stop-color="#f3f3ff"/><stop offset="0.115" stop-color="#d9d9ff"/><stop offset="0.154" stop-color="#afafff"/><stop offset="0.192" stop-color="#7a7aff"/><stop offset="0.231" stop-color="#4a4aff"/><stop offset="0.269" stop-color="#3535ff"/><stop offset="0.308" stop-color="#4949ff"/><stop offset="0.346" stop-color="#7979ff"/><stop offset="0.385" stop-color="#aeaeff"/><stop offset="0.423" stop-color="#d8d8ff"/><stop offset="0.462" stop-color="#f2f2ff"/><stop offset="0.500" stop-color="#fcfcff"/><stop offset="0.538" stop-color="#f4f4ff"/><stop offset="0.577" stop-color="#dcdcff"/><stop offset="0.615" stop-color="#b3b3ff"/><stop offset="0.654" stop-color="#7d7dff"/><stop offset="0.692" stop-color="#4c4cff"/><stop offset="0.731" stop-color="#3737ff"/><stop offset="0.769" stop-color="#4e4eff"/><stop offset="0.808" stop-color="#7f7fff"/><stop offset="0.846" stop-color="#b4b4ff"/><stop offset="0.885" stop-color="#dcdcff"/><stop offset="0.923" stop-color="#f4f4ff"/><stop offset="0.962" stop-color="#fbfbff"/><stop offset="1.000" stop-color="#f2f2ff"/></linearGradient><linearGradient id="fr29" x1="0" x2="1" y1="0" y2="0"><stop offset="0.000" stop-color="#bbbbff"/><stop offset="0.038" stop-color="#b5b5ff"/><stop offset="0.077" stop-color="#bcbcff"/><stop offset="0.115" stop-color="#c8c8ff"/><stop offset="0.154" stop-color="#c2c2ff"/><stop offset="0.192" stop-color="#9d9dff"/><stop offset="0.231" stop-color="#6767ff"/><stop offset="0.269" stop-color="#4a4aff"/><stop offset="0.308" stop-color="#6666ff"/><stop offset="0.346" stop-color="#9b9bff"/><stop offset="0.385" stop-color="#c1c1ff"/><stop offset="0.423" stop-color="#c8c8ff"/><stop offset="0.462" stop-color="#bdbdff"/><stop offset="0.500" stop-color="#b8b8ff"/><stop offset="0.538" stop-color="#c4c4ff"/><stop offset="0.577" stop-color="#d6d6ff"/><stop offset="0.615" stop-color="#d2d2ff"/><stop offset="0.654" stop-color="#a8a8ff"/><stop offset="0.692" stop-color="#6d6dff"/><stop offset="0.731" stop-color="#5151ff"/><stop offset="0.769" stop-color="#7373ff"/><stop offset="0.808" stop-color="#ababff"/><stop offset="0.846" stop-color="#d0d0ff"/><stop offset="0.885" stop-color="#d1d1ff"/><stop offset="0.923" stop-color="#c0c0ff"/><stop offset="0.962" stop-color="#b6b6ff"/><stop offset="1.000" stop-color="#bcbcff"/></linearGradient><linearGradient id="fr30" x1="0" x2="1" y1="0" y2="0"><stop offset="0.000" stop-color="#8585ff"/><stop offset="0.038" stop-color="#7070ff"/><stop offset="0.077" stop-color="#8989ff"/><stop offset="0.115" stop-color="#c3c3ff"/><stop offset="0.154" stop-color="#ededff"/><stop offset="0.192" stop-color="#d9d9ff"/><stop offset="0.231" stop-color="#9191ff"/><stop offset="0.269" stop-color="#5c5cff"/><stop offset="0.308" stop-color="#9090ff"/><stop offset="0.346" stop-color="#d7d7ff"/><stop offset="0.385" stop-color="#ececff"/><stop offset="0.423" stop-color="#c4c4ff"/><stop offset="0.462" stop-color="#8c8cff"/><stop offset="0.500" stop-color="#7777ff"/><stop offset="0.538" stop-color="#9c9cff"/><stop offset="0.577" stop-color="#e4e4ff"/><stop offset="0.615" stop-color="#fff1f1"/><stop offset="0.654" stop-color="#ededff"/><stop offset="0.692" stop-color="#9999ff"/><stop offset="0.731" stop-color="#6b6bff"/><stop offset="0.769" stop-color="#a8a8ff"/><stop offset="0.808" stop-color="#f3f3ff"/><stop offset="0.846" stop-color="#fff9f9"/><stop offset="0.885" stop-color="#d5d5ff"/><stop offset="0.923" stop-color="#9292ff"/><stop offset="0.962" stop-color="#7272ff"/><stop offset="1.000" stop-color="#8686ff"/></linearGradient><linearGradient id="fr31" x1="0" x2="1" y1="0" y2="0"><stop offset="0.000" stop-color="#5d5dff"/><stop offset="0.038" stop-color="#3c3cff"/><stop offset="0.077" stop-color="#6969ff"/><stop offset="0.115" stop-color="#d4d4ff"/><stop offset="0.154" stop-color="#ffd0d0"/><stop offset="0.192" stop-color="#ffcfcf"/><stop offset="0.231" stop-color="#d1d1ff"/><stop offset="0.269" stop-color="#6e6eff"/><stop offset="0.308" stop-color="#cfcfff"/><stop offset="0.346" stop-color="#ffd0d0"/><stop offset="0.385" stop-color="#ffd0d0"/><stop offset="0.423" stop-color="#d6d6ff"/><stop offset="0.462" stop-color="#6d6dff"/><stop offset="0.500" stop-color="#4a4aff"/><stop offset="0.538" stop-color="#8c8cff"/><stop offset="0.577" stop-color="#fff3f3"/><stop offset="0.615" stop-color="#ffa7a7"/><stop offset="0.654" stop-color="#ffc3c3"/><stop offset="0.692" stop-color="#cbcbff"/><stop offset="0.731" stop-color="#8484ff"/><stop offset="0.769" stop-color="#e9e9ff"/><stop offset="0.808" stop-color="#ffbaba"/><stop offset="0.846" stop-color="#ffb8b8"/><stop offset="0.885" stop-color="#efefff"/><stop offset="0.923" stop-color="#7878ff"/><stop offset="0.962" stop-color="#4141ff"/><stop offset="1.000" stop-color="#5e5eff"/></linearGradient><linearGradient id="fr32" x1="0" x2="1" y1="0" y2="0"><stop offset="0.000" stop-color="#4848ff"/><stop offset="0.038" stop-color="#2323ff"/><stop offset="0.077" stop-color="#5d5dff"/><stop offset="0.115" stop-color="#efefff"/><stop offset="0.154" stop-color="#ff9090"/><stop offset="0.192" stop-color="#ff7f7f"/><stop offset="0.231" stop-color="#fff0f0"/><stop offset="0.269" stop-color="#8282ff"/><stop offset="0.308" stop-color="#fff2f2"/><stop offset="0.346" stop-color="#ff8080"/><stop offset="0.385" stop-color="#ff8f8f"/><stop offset="0.423" stop-color="#f2f2ff"/><stop offset="0.462" stop-color="#6363ff"/><stop offset="0.500" stop-color="#3737ff"/><stop offset="0.538" stop-color="#8d8dff"/><stop offset="0.577" stop-color="#ffd0d0"/><stop offset="0.615" stop-color="#ff6868"/><stop offset="0.654" stop-color="#ff8585"/><stop offset="0.692" stop-color="#f5f5ff"/><stop offset="0.731" stop-color="#9797ff"/><stop offset="0.769" stop-color="#ffe4e4"/><stop offset="0.808" stop-color="#ff7979"/><stop offset="0.846" stop-color="#ff8080"/><stop offset="0.885" stop-color="#fff5f5"/><stop offset="0.923" stop-color="#7070ff"/><stop offset="0.962" stop-color="#2929ff"/><stop offset="1.000" stop-color="#4a4aff"/></linearGradient><linearGradient id="fr33" x1="0" x2="1" y1="0" y2="0"><stop offset="0.000" stop-color="#4848ff"/><stop offset="0.038" stop-color="#2222ff"/><stop offset="0.077" stop-color="#5e5eff"/><stop offset="0.115" stop-color="#f5f5ff"/><stop offset="0.154" stop-color="#ff8585"/><stop offset="0.192" stop-color="#ff7070"/><stop offset="0.231" stop-color="#ffe5e5"/><stop offset="0.269" stop-color="#8787ff"/><stop offset="0.308" stop-color="#ffe7e7"/><stop offset="0.346" stop-color="#ff7272"/><stop offset="0.385" stop-color="#ff8484"/><stop offset="0.423" stop-color="#f8f8ff"/><stop offset="0.462" stop-color="#6565ff"/><stop offset="0.500" stop-color="#3737ff"/><stop offset="0.538" stop-color="#8f8fff"/><stop offset="0.577" stop-color="#ffcccc"/><stop offset="0.615" stop-color="#ff6161"/><stop offset="0.654" stop-color="#ff7d7d"/><stop offset="0.692" stop-color="#fafaff"/><stop offset="0.731" stop-color="#9b9bff"/><stop offset="0.769" stop-color="#ffdede"/><stop offset="0.808" stop-color="#ff7171"/><stop offset="0.846" stop-color="#ff7979"/><stop offset="0.885" stop-color="#fff1f1"/><stop offset="0.923" stop-color="#7171ff"/><stop offset="0.962" stop-color="#2929ff"/><stop offset="1.000" stop-color="#4949ff"/></linearGradient><linearGradient id="fr34" x1="0" x2="1" y1="0" y2="0"><stop offset="0.000" stop-color="#5c5cff"/><stop offset="0.038" stop-color="#3c3cff"/><stop offset="0.077" stop-color="#6b6bff"/><stop offset="0.115" stop-color="#e0e0ff"/><stop offset="0.154" stop-color="#ffbaba"/><stop offset="0.192" stop-color="#ffb3b3"/><stop offset="0.231" stop-color="#eaeaff"/><stop offset="0.269" stop-color="#7979ff"/><stop offset="0.308" stop-color="#e8e8ff"/><stop offset="0.346" stop-color="#ffb4b4"/><stop offset="0.385" stop-color="#ffb9b9"/><stop offset="0.423" stop-color="#e2e2ff"/><stop offset="0.462" stop-color="#7070ff"/><stop offset="0.500" stop-color="#4b4bff"/><stop offset="0.538" stop-color="#9090ff"/><stop offset="0.577" stop-color="#ffe9e9"/><stop offset="0.615" stop-color="#ff9898"/><stop offset="0.654" stop-color="#ffb3b3"/><stop offset="0.692" stop-color="#d7d7ff"/><stop offset="0.731" stop-color="#8b8bff"/><stop offset="0.769" stop-color="#f8f8ff"/><stop offset="0.808" stop-color="#ffaaaa"/><stop offset="0.846" stop-color="#ffaaaa"/><stop offset="0.885" stop-color="#f8f8ff"/><stop offset="0.923" stop-color="#7a7aff"/><stop offset="0.962" stop-color="#4141ff"/><stop offset="1.000" stop-color="#5d5dff"/></linearGradient><linearGradient id="fr35" x1="0" x2="1" y1="0" y2="0"><stop offset="0.000" stop-color="#8484ff"/><stop offset="0.038" stop-color="#6e6eff"/><stop offset="0.077" stop-color="#8a8aff"/><stop offset="0.115" stop-color="#cbcbff"/><stop offset="0.154" stop-color="#fffefe"/><stop offset="0.192" stop-color="#f1f1ff"/><stop offset="0.231" stop-color="#a3a3ff"/><stop offset="0.269" stop-color="#6363ff"/><stop offset="0.308" stop-color="#a2a2ff"/><stop offset="0.346" stop-color="#f0f0ff"/><stop offset="0.385" stop-color="#ffffff"/><stop offset="0.423" stop-color="#ccccff"/><stop offset="0.462" stop-color="#8d8dff"/><stop offset="0.500" stop-color="#7676ff"/><stop offset="0.538" stop-color="#9f9fff"/><stop offset="0.577" stop-color="#eeeeff"/><stop offset="0.615" stop-color="#ffe4e4"/><stop offset="0.654" stop-color="#fdfdff"/><stop offset="0.692" stop-color="#a3a3ff"/><stop offset="0.731" stop-color="#7171ff"/><stop offset="0.769" stop-color="#b5b5ff"/><stop offset="0.808" stop-color="#fffbfb"/><stop offset="0.846" stop-color="#ffeded"/><stop offset="0.885" stop-color="#ddddff"/><stop offset="0.923" stop-color="#9393ff"/><stop offset="0.962" stop-color="#7171ff"/><stop offset="1.000" stop-color="#8585ff"/></linearGradient><linearGradient id="fr36" x1="0" x2="1" y1="0" y2="0"><stop offset="0.000" stop-color="#babaff"/><stop offset="0.038" stop-color="#b3b3ff"/><stop offset="0.077" stop-color="#bcbcff"/><stop offset="0.115" stop-color="#cbcbff"/><stop offset="0.154" stop-color="#cacaff"/><stop offset="0.192" stop-color="#a7a7ff"/><stop offset="0.231" stop-color="#6f6fff"/><stop offset="0.269" stop-color="#4d4dff"/><stop offset="0.308" stop-color="#6d6dff"/><stop offset="0.346" stop-color="#a5a5ff"/><stop offset="0.385" stop-color="#c9c9ff"/><stop offset="0.423" stop-color="#cbcbff"/><stop offset="0.462" stop-color="#bdbdff"/><stop offset="0.500" stop-color="#b6b6ff"/><stop offset="0.538" stop-color="#c4c4ff"/><stop offset="0.577" stop-color="#dadaff"/><stop offset="0.615" stop-color="#dbdbff"/><stop offset="0.654" stop-color="#b1b1ff"/><stop offset="0.692" stop-color="#7373ff"/><stop offset="0.731" stop-color="#5555ff"/><stop offset="0.769" stop-color="#7b7bff"/><stop offset="0.808" stop-color="#b5b5ff"/><stop offset="0.846" stop-color="#d7d7ff"/><stop offset="0.885" stop-color="#d4d4ff"/><stop offset="0.923" stop-color="#c0c0ff"/><stop offset="0.962" stop-color="#b5b5ff"/><stop offset="1.000" stop-color="#babaff"/></linearGradient><linearGradient id="fr37" x1="0" x2="1" y1="0" y2="0"><stop offset="0.000" stop-color="#f0f0ff"/><stop offset="0.038" stop-color="#f9f9ff"/><stop offset="0.077" stop-color="#f2f2ff"/><stop offset="0.115" stop-color="#dadaff"/><stop offset="0.154" stop-color="#b2b2ff"/><stop offset="0.192" stop-color="#7d7dff"/><stop offset="0.231" stop-color="#4c4cff"/><stop offset="0.269" stop-color="#3636ff"/><stop offset="0.308" stop-color="#4b4bff"/><stop offset="0.346" stop-color="#7c7cff"/><stop offset="0.385" stop-color="#b0b0ff"/><stop offset="0.423" stop-color="#d9d9ff"/><stop offset="0.462" stop-color="#f1f1ff"/><stop offset="0.500" stop-color="#fafaff"/><stop offset="0.538" stop-color="#f4f4ff"/><stop offset="0.577" stop-color="#ddddff"/><stop offset="0.615" stop-color="#b6b6ff"/><stop offset="0.654" stop-color="#8181ff"/><stop offset="0.692" stop-color="#4e4eff"/><stop offset="0.731" stop-color="#3939ff"/><stop offset="0.769" stop-color="#5151ff"/><stop offset="0.808" stop-color="#8383ff"/><stop offset="0.846" stop-color="#b7b7ff"/><stop offset="0.885" stop-color="#ddddff"/><stop offset="0.923" stop-color="#f3f3ff"/><stop offset="0.962" stop-color="#fafaff"/><stop offset="1.000" stop-color="#f0f0ff"/></linearGradient><linearGradient id="fr38" x1="0" x2="1" y1="0" y2="0"><stop offset="0.000" stop-color="#ffeeee"/><stop offset="0.038" stop-color="#ffdede"/><stop offset="0.077" stop-color="#ffecec"/><stop offset="0.115" stop-color="#e6e6ff"/><stop offset="0.154" stop-color="#a9a9ff"/><stop offset="0.192" stop-color="#6a6aff"/><stop offset="0.231" stop-color="#3939ff"/><stop offset="0.269" stop-color="#2626ff"/><stop offset="0.308" stop-color="#3838ff"/><stop offset="0.346" stop-color="#6868ff"/><stop offset="0.385" stop-color="#a7a7ff"/><stop offset="0.423" stop-color="#e5e5ff"/><stop offset="0.462" stop-color="#ffeded"/><stop offset="0.500" stop-color="#ffdede"/><stop offset="0.538" stop-color="#ffeded"/><stop offset="0.577" stop-color="#e6e6ff"/><stop offset="0.615" stop-color="#a8a8ff"/><stop offset="0.654" stop-color="#6969ff"/><stop offset="0.692" stop-color="#3939ff"/><stop offset="0.731" stop-color="#2727ff"/><stop offset="0.769" stop-color="#3a3aff"/><stop offset="0.808" stop-color="#6b6bff"/><stop offset="0.846" stop-color="#a9a9ff"/><stop offset="0.885" stop-color="#e7e7ff"/><stop offset="0.923" stop-color="#ffecec"/><stop offset="0.962" stop-color="#ffdede"/><stop offset="1.000" stop-color="#ffeeee"/></linearGradient><linearGradient id="fr39" x1="0" x2="1" y1="0" y2="0"><stop offset="0.000" stop-color="#ffeeee"/><stop offset="0.038" stop-color="#ffdede"/><stop offset="0.077" stop-color="#ffecec"/><stop offset="0.115" stop-color="#e7e7ff"/><stop offset="0.154" stop-color="#aaaaff"/><stop offset="0.192" stop-color="#6b6bff"/><stop offset="0.231" stop-color="#3a3aff"/><stop offset="0.269" stop-color="#2626ff"/><stop offset="0.308" stop-color="#3939ff"/><stop offset="0.346" stop-color="#6969ff"/><stop offset="0.385" stop-color="#a8a8ff"/><stop offset="0.423" stop-color="#e6e6ff"/><stop offset="0.462" stop-color="#ffeded"/><stop offset="0.500" stop-color="#ffdede"/><stop offset="0.538" stop-color="#ffeded"/><stop offset="0.577" stop-color="#e5e5ff"/><stop offset="0.615" stop-color="#a6a6ff"/><stop offset="0.654" stop-color="#6868ff"/><stop offset="0.692" stop-color="#3838ff"/><stop offset="0.731" stop-color="#2626ff"/><stop offset="0.769" stop-color="#3939ff"/><stop offset="0.808" stop-color="#6969ff"/><stop offset="0.846" stop-color="#a8a8ff"/><stop offset="0.885" stop-color="#e6e6ff"/><stop offset="0.923" stop-color="#ffecec"/><stop offset="0.962" stop-color="#ffdede"/><stop offset="1.000" stop-color="#ffeeee"/></linearGradient><linearGradient id="fr40" x1="0" x2="1" y1="0" y2="0"><stop offset="0.000" stop-color="#f0f0ff"/><stop offset="0.038" stop-color="#fafaff"/><stop offset="0.077" stop-color="#f4f4ff"/><stop offset="0.115" stop-color="#dedeff"/><stop offset="0.154" stop-color="#b8b8ff"/><stop offset="0.192" stop-color="#8484ff"/><stop offset="0.231" stop-color="#5151ff"/><stop offset="0.269" stop-color="#3939ff"/><stop offset="0.308" stop-color="#4f4fff"/><stop offset="0.346" stop-color="#8282ff"/><stop offset="0.385" stop-color="#b7b7ff"/><stop offset="0.423" stop-color="#ddddff"/><stop offset="0.462" stop-color="#f3f3ff"/><stop offset="0.500" stop-color="#fafaff"/><stop offset="0.538" stop-color="#f1f1ff"/><stop offset="0.577" stop-color="#d8d8ff"/><stop offset="0.615" stop-color="#afafff"/><stop offset="0.654" stop-color="#7a7aff"/><stop offset="0.692" stop-color="#4a4aff"/><stop offset="0.731" stop-color="#3636ff"/><stop offset="0.769" stop-color="#4c4cff"/><stop offset="0.808" stop-color="#7c7cff"/><stop offset="0.846" stop-color="#b0b0ff"/><stop offset="0.885" stop-color="#d9d9ff"/><stop offset="0.923" stop-color="#f1f1ff"/><stop offset="0.962" stop-color="#f9f9ff"/><stop offset="1.000" stop-color="#f0f0ff"/></linearGradient><linearGradient id="fr41" x1="0" x2="1" y1="0" y2="0"><stop offset="0.000" stop-color="#babaff"/><stop offset="0.038" stop-color="#b5b5ff"/><stop offset="0.077" stop-color="#c2c2ff"/><stop offset="0.115" stop-color="#d8d8ff"/><stop offset="0.154" stop-color="#dbdbff"/><stop offset="0.192" stop-color="#b7b7ff"/><stop offset="0.231" stop-color="#7a7aff"/><stop offset="0.269" stop-color="#5353ff"/><stop offset="0.308" stop-color="#7777ff"/><stop offset="0.346" stop-color="#b5b5ff"/><stop offset="0.385" stop-color="#dcdcff"/><stop offset="0.423" stop-color="#d9d9ff"/><stop offset="0.462" stop-color="#c3c3ff"/><stop offset="0.500" stop-color="#b6b6ff"/><stop offset="0.538" stop-color="#bdbdff"/><stop offset="0.577" stop-color="#cbcbff"/><stop offset="0.615" stop-color="#c8c8ff"/><stop offset="0.654" stop-color="#a1a1ff"/><stop offset="0.692" stop-color="#6868ff"/><stop offset="0.731" stop-color="#4e4eff"/><stop offset="0.769" stop-color="#6e6eff"/><stop offset="0.808" stop-color="#a2a2ff"/><stop offset="0.846" stop-color="#c4c4ff"/><stop offset="0.885" stop-color="#c7c7ff"/><stop offset="0.923" stop-color="#babaff"/><stop offset="0.962" stop-color="#b3b3ff"/><stop offset="1.000" stop-color="#babaff"/></linearGradient><linearGradient id="fr42" x1="0" x2="1" y1="0" y2="0"><stop offset="0.000" stop-color="#8585ff"/><stop offset="0.038" stop-color="#7373ff"/><stop offset="0.077" stop-color="#9898ff"/><stop offset="0.115" stop-color="#e5e5ff"/><stop offset="0.154" stop-color="#ffe6e6"/><stop offset="0.192" stop-color="#fff8f8"/><stop offset="0.231" stop-color="#b2b2ff"/><stop offset="0.269" stop-color="#6d6dff"/><stop offset="0.308" stop-color="#adadff"/><stop offset="0.346" stop-color="#fffafa"/><stop offset="0.385" stop-color="#ffe4e4"/><stop offset="0.423" stop-color="#ebebff"/><stop offset="0.462" stop-color="#9c9cff"/><stop offset="0.500" stop-color="#7575ff"/><stop offset="0.538" stop-color="#8e8eff"/><stop offset="0.577" stop-color="#cfcfff"/><stop offset="0.615" stop-color="#ffffff"/><stop offset="0.654" stop-color="#e6e6ff"/><stop offset="0.692" stop-color="#9393ff"/><stop offset="0.731" stop-color="#6868ff"/><stop offset="0.769" stop-color="#a6a6ff"/><stop offset="0.808" stop-color="#e8e8ff"/><stop offset="0.846" stop-color="#efefff"/><stop offset="0.885" stop-color="#bfbfff"/><stop offset="0.923" stop-color="#8686ff"/><stop offset="0.962" stop-color="#6d6dff"/><stop offset="1.000" stop-color="#8484ff"/></linearGradient><linearGradient id="fr43" x1="0" x2="1" y1="0" y2="0"><stop offset="0.000" stop-color="#5e5eff"/><stop offset="0.038" stop-color="#4343ff"/><stop offset="0.077" stop-color="#8282ff"/><stop offset="0.115" stop-color="#fff9f9"/><stop offset="0.154" stop-color="#ff9f9f"/><stop offset="0.192" stop-color="#ffa7a7"/><stop offset="0.231" stop-color="#f1f1ff"/><stop offset="0.269" stop-color="#8282ff"/><stop offset="0.308" stop-color="#e7e7ff"/><stop offset="0.346" stop-color="#ffabab"/><stop offset="0.385" stop-color="#ff9a9a"/><stop offset="0.423" stop-color="#fff1f1"/><stop offset="0.462" stop-color="#8989ff"/><stop offset="0.500" stop-color="#4949ff"/><stop offset="0.538" stop-color="#7474ff"/><stop offset="0.577" stop-color="#ececff"/><stop offset="0.615" stop-color="#ffb4b4"/><stop offset="0.654" stop-color="#ffbebe"/><stop offset="0.692" stop-color="#cfcfff"/><stop offset="0.731" stop-color="#8888ff"/><stop offset="0.769" stop-color="#f7f7ff"/><stop offset="0.808" stop-color="#ffbcbc"/><stop offset="0.846" stop-color="#ffd3d3"/><stop offset="0.885" stop-color="#c8c8ff"/><stop offset="0.923" stop-color="#6262ff"/><stop offset="0.962" stop-color="#3a3aff"/><stop offset="1.000" stop-color="#5c5cff"/></linearGradient><linearGradient id="fr44" x1="0" x2="1" y1="0" y2="0"><stop offset="0.000" stop-color="#4a4aff"/><stop offset="0.038" stop-color="#2c2cff"/><stop offset="0.077" stop-color="#7a7aff"/><stop offset="0.115" stop-color="#ffe3e3"/><stop offset="0.154" stop-color="#ff6d6d"/><stop offset="0.192" stop-color="#ff7272"/><stop offset="0.231" stop-color="#ffeaea"/><stop offset="0.269" stop-color="#8d8dff"/><stop offset="0.308" stop-color="#fff5f5"/><stop offset="0.346" stop-color="#ff7676"/><stop offset="0.385" stop-color="#ff6767"/><stop offset="0.423" stop-color="#ffd8d8"/><stop offset="0.462" stop-color="#8484ff"/><stop offset="0.500" stop-color="#3535ff"/><stop offset="0.538" stop-color="#6b6bff"/><stop offset="0.577" stop-color="#fff6f6"/><stop offset="0.615" stop-color="#ff7575"/><stop offset="0.654" stop-color="#ff7878"/><stop offset="0.692" stop-color="#fefeff"/><stop offset="0.731" stop-color="#a1a1ff"/><stop offset="0.769" stop-color="#ffcfcf"/><stop offset="0.808" stop-color="#ff7676"/><stop offset="0.846" stop-color="#ffa4a4"/><stop offset="0.885" stop-color="#d5d5ff"/><stop offset="0.923" stop-color="#5252ff"/><stop offset="0.962" stop-color="#2020ff"/><stop offset="1.000" stop-color="#4848ff"/></linearGradient><linearGradient id="fr45" x1="0" x2="1" y1="0" y2="0"><stop offset="0.000" stop-color="#4a4aff"/><stop offset="0.038" stop-color="#2c2cff"/><stop offset="0.077" stop-color="#7878ff"/><stop offset="0.115" stop-color="#ffe9e9"/><stop offset="0.154" stop-color="#ff7878"/><stop offset="0.192" stop-color="#ff7d7d"/><stop offset="0.231" stop-color="#fff2f2"/><stop offset="0.269" stop-color="#8989ff"/><stop offset="0.308" stop-color="#fffcfc"/><stop offset="0.346" stop-color="#ff8181"/><stop offset="0.385" stop-color="#ff7171"/><stop offset="0.423" stop-color="#ffdfdf"/><stop offset="0.462" stop-color="#8181ff"/><stop offset="0.500" stop-color="#3434ff"/><stop offset="0.538" stop-color="#6969ff"/><stop offset="0.577" stop-color="#fffafa"/><stop offset="0.615" stop-color="#ff7e7e"/><stop offset="0.654" stop-color="#ff8282"/><stop offset="0.692" stop-color="#f6f6ff"/><stop offset="0.731" stop-color="#9c9cff"/><stop offset="0.769" stop-color="#ffd8d8"/><stop offset="0.808" stop-color="#ff8080"/><stop offset="0.846" stop-color="#ffabab"/><stop offset="0.885" stop-color="#d2d2ff"/><stop offset="0.923" stop-color="#5252ff"/><stop offset="0.962" stop-color="#2020ff"/><stop offset="1.000" stop-color="#4848ff"/></linearGradient><linearGradient id="fr46" x1="0" x2="1" y1="0" y2="0"><stop offset="0.000" stop-color="#5e5eff"/><stop offset="0.038" stop-color="#4343ff"/><stop offset="0.077" stop-color="#7d7dff"/><stop offset="0.115" stop-color="#f7f7ff"/><stop offset="0.154" stop-color="#ffb4b4"/><stop offset="0.192" stop-color="#ffc0c0"/><stop offset="0.231" stop-color="#dbdbff"/><stop offset="0.269" stop-color="#7878ff"/><stop offset="0.308" stop-color="#d3d3ff"/><stop offset="0.346" stop-color="#ffc3c3"/><stop offset="0.385" stop-color="#ffb0b0"/><stop offset="0.423" stop-color="#fffefe"/><stop offset="0.462" stop-color="#8383ff"/><stop offset="0.500" stop-color="#4848ff"/><stop offset="0.538" stop-color="#7171ff"/><stop offset="0.577" stop-color="#e2e2ff"/><stop offset="0.615" stop-color="#ffc4c4"/><stop offset="0.654" stop-color="#ffd1d1"/><stop offset="0.692" stop-color="#c0c0ff"/><stop offset="0.731" stop-color="#7f7fff"/><stop offset="0.769" stop-color="#e3e3ff"/><stop offset="0.808" stop-color="#ffcfcf"/><stop offset="0.846" stop-color="#ffe0e0"/><stop offset="0.885" stop-color="#c3c3ff"/><stop offset="0.923" stop-color="#6262ff"/><stop offset="0.962" stop-color="#3b3bff"/><stop offset="1.000" stop-color="#5d5dff"/></linearGradient><linearGradient id="fr47" x1="0" x2="1" y1="0" y2="0"><stop offset="0.000" stop-color="#8686ff"/><stop offset="0.038" stop-color="#7373ff"/><stop offset="0.077" stop-color="#9494ff"/><stop offset="0.115" stop-color="#d8d8ff"/><stop offset="0.154" stop-color="#fff9f9"/><stop offset="0.192" stop-color="#eeeeff"/><stop offset="0.231" stop-color="#a0a0ff"/><stop offset="0.269" stop-color="#6565ff"/><stop offset="0.308" stop-color="#9b9bff"/><stop offset="0.346" stop-color="#ececff"/><stop offset="0.385" stop-color="#fff7f7"/><stop offset="0.423" stop-color="#ddddff"/><stop offset="0.462" stop-color="#9898ff"/><stop offset="0.500" stop-color="#7575ff"/><stop offset="0.538" stop-color="#8d8dff"/><stop offset="0.577" stop-color="#c9c9ff"/><stop offset="0.615" stop-color="#f1f1ff"/><stop offset="0.654" stop-color="#d6d6ff"/><stop offset="0.692" stop-color="#8989ff"/><stop offset="0.731" stop-color="#6262ff"/><stop offset="0.769" stop-color="#9898ff"/><stop offset="0.808" stop-color="#d8d8ff"/><stop offset="0.846" stop-color="#e4e4ff"/><stop offset="0.885" stop-color="#bcbcff"/><stop offset="0.923" stop-color="#8686ff"/><stop offset="0.962" stop-color="#6f6fff"/><stop offset="1.000" stop-color="#8585ff"/></linearGradient><linearGradient id="fr48" x1="0" x2="1" y1="0" y2="0"><stop offset="0.000" stop-color="#bcbcff"/><stop offset="0.038" stop-color="#b7b7ff"/><stop offset="0.077" stop-color="#c1c1ff"/><stop offset="0.115" stop-color="#d2d2ff"/><stop offset="0.154" stop-color="#cfcfff"/><stop offset="0.192" stop-color="#a9a9ff"/><stop offset="0.231" stop-color="#7070ff"/><stop offset="0.269" stop-color="#4f4fff"/><stop offset="0.308" stop-color="#6e6eff"/><stop offset="0.346" stop-color="#a7a7ff"/><stop offset="0.385" stop-color="#cfcfff"/><stop offset="0.423" stop-color="#d3d3ff"/><stop offset="0.462" stop-color="#c2c2ff"/><stop offset="0.500" stop-color="#b7b7ff"/><stop offset="0.538" stop-color="#bdbdff"/><stop offset="0.577" stop-color="#c9c9ff"/><stop offset="0.615" stop-color="#c2c2ff"/><stop offset="0.654" stop-color="#9a9aff"/><stop offset="0.692" stop-color="#6464ff"/><stop offset="0.731" stop-color="#4b4bff"/><stop offset="0.769" stop-color="#6868ff"/><stop offset="0.808" stop-color="#9c9cff"/><stop offset="0.846" stop-color="#c0c0ff"/><stop offset="0.885" stop-color="#c6c6ff"/><stop offset="0.923" stop-color="#bcbcff"/><stop offset="0.962" stop-color="#b5b5ff"/><stop offset="1.000" stop-color="#bbbbff"/></linearGradient><linearGradient id="fr49" x1="0" x2="1" y1="0" y2="0"><stop offset="0.000" stop-color="#f2f2ff"/><stop offset="0.038" stop-color="#fcfcff"/><stop offset="0.077" stop-color="#f4f4ff"/><stop offset="0.115" stop-color="#dcdcff"/><stop offset="0.154" stop-color="#b4b4ff"/><stop offset="0.192" stop-color="#7f7fff"/><stop offset="0.231" stop-color="#4d4dff"/><stop offset="0.269" stop-color="#3737ff"/><stop offset="0.308" stop-color="#4c4cff"/><stop offset="0.346" stop-color="#7d7dff"/><stop offset="0.385" stop-color="#b2b2ff"/><stop offset="0.423" stop-color="#dbdbff"/><stop offset="0.462" stop-color="#f4f4ff"/><stop offset="0.500" stop-color="#fcfcff"/><stop offset="0.538" stop-color="#f2f2ff"/><stop offset="0.577" stop-color="#d8d8ff"/><stop offset="0.615" stop-color="#aeaeff"/><stop offset="0.654" stop-color="#7979ff"/><stop offset="0.692" stop-color="#4949ff"/><stop offset="0.731" stop-color="#3535ff"/><stop offset="0.769" stop-color="#4a4aff"/><stop offset="0.808" stop-color="#7a7aff"/><stop offset="0.846" stop-color="#afafff"/><stop offset="0.885" stop-color="#d9d9ff"/><stop offset="0.923" stop-color="#f3f3ff"/><stop offset="0.962" stop-color="#fbfbff"/><stop offset="1.000" stop-color="#f2f2ff"/></linearGradient><linearGradient id="fr50" x1="0" x2="1" y1="0" y2="0"><stop offset="0.000" stop-color="#ffeeee"/><stop offset="0.038" stop-color="#ffdddd"/><stop offset="0.077" stop-color="#ffecec"/><stop offset="0.115" stop-color="#e7e7ff"/><stop offset="0.154" stop-color="#a9a9ff"/><stop offset="0.192" stop-color="#6a6aff"/><stop offset="0.231" stop-color="#3939ff"/><stop offset="0.269" stop-color="#2626ff"/><stop offset="0.308" stop-color="#3838ff"/><stop offset="0.346" stop-color="#6868ff"/><stop offset="0.385" stop-color="#a7a7ff"/><stop offset="0.423" stop-color="#e5e5ff"/><stop offset="0.462" stop-color="#ffeded"/><stop offset="0.500" stop-color="#ffdddd"/><stop offset="0.538" stop-color="#ffeded"/><stop offset="0.577" stop-color="#e5e5ff"/><stop offset="0.615" stop-color="#a6a6ff"/><stop offset="0.654" stop-color="#6767ff"/><stop offset="0.692" stop-color="#3737ff"/><stop offset="0.731" stop-color="#2626ff"/><stop offset="0.769" stop-color="#3838ff"/><stop offset="0.808" stop-color="#6969ff"/><stop offset="0.846" stop-color="#a8a8ff"/><stop offset="0.885" stop-color="#e6e6ff"/><stop offset="0.923" stop-color="#ffecec"/><stop offset="0.962" stop-color="#ffdddd"/><stop offset="1.000" stop-color="#ffeeee"/></linearGradient><linearGradient id="fr51" x1="0" x2="1" y1="0" y2="0"><stop offset="0.000" stop-color="#ffefef"/><stop offset="0.038" stop-color="#ffdfdf"/><stop offset="0.077" stop-color="#ffeded"/><stop offset="0.115" stop-color="#e6e6ff"/><stop offset="0.154" stop-color="#a8a8ff"/><stop offset="0.192" stop-color="#6969ff"/><stop offset="0.231" stop-color="#3939ff"/><stop offset="0.269" stop-color="#2626ff"/><stop offset="0.308" stop-color="#3838ff"/><stop offset="0.346" stop-color="#6767ff"/><stop offset="0.385" stop-color="#a6a6ff"/><stop offset="0.423" stop-color="#e4e4ff"/><stop offset="0.462" stop-color="#ffeeee"/><stop offset="0.500" stop-color="#ffdfdf"/><stop offset="0.538" stop-color="#ffeeee"/><stop offset="0.577" stop-color="#e4e4ff"/><stop offset="0.615" stop-color="#a6a6ff"/><stop offset="0.654" stop-color="#6767ff"/><stop offset="0.692" stop-color="#3838ff"/><stop offset="0.731" stop-color="#2626ff"/><stop offset="0.769" stop-color="#3939ff"/><stop offset="0.808" stop-color="#6969ff"/><stop offset="0.846" stop-color="#a8a8ff"/><stop offset="0.885" stop-color="#e6e6ff"/><stop offset="0.923" stop-color="#ffeded"/><stop offset="0.962" stop-color="#ffdfdf"/><stop offset="1.000" stop-color="#ffefef"/></linearGradient><filter id="fb26" x="-5%" y="-5%" width="110%" height="110%"><feGaussianBlur stdDeviation="0.6 1.5"/></filter><clipPath id="cl2"><rect x="588.5" y="250.3" width="92.8" height="91.7"/></clipPath><linearGradient id="fr52" x1="0" x2="1" y1="0" y2="0"><stop offset="0.000" stop-color="#fffafa"/><stop offset="0.038" stop-color="#fff3f3"/><stop offset="0.077" stop-color="#fff9f9"/><stop offset="0.115" stop-color="#ededff"/><stop offset="0.154" stop-color="#bebeff"/><stop offset="0.192" stop-color="#8080ff"/><stop offset="0.231" stop-color="#4949ff"/><stop offset="0.269" stop-color="#3333ff"/><stop offset="0.308" stop-color="#4848ff"/><stop offset="0.346" stop-color="#7e7eff"/><stop offset="0.385" stop-color="#bcbcff"/><stop offset="0.423" stop-color="#ececff"/><stop offset="0.462" stop-color="#fffafa"/><stop offset="0.500" stop-color="#fff3f3"/><stop offset="0.538" stop-color="#fffafa"/><stop offset="0.577" stop-color="#ececff"/><stop offset="0.615" stop-color="#bcbcff"/><stop offset="0.654" stop-color="#7e7eff"/><stop offset="0.692" stop-color="#4848ff"/><stop offset="0.731" stop-color="#3333ff"/><stop offset="0.769" stop-color="#4949ff"/><stop offset="0.808" stop-color="#8080ff"/><stop offset="0.846" stop-color="#bebeff"/><stop offset="0.885" stop-color="#ededff"/><stop offset="0.923" stop-color="#fff9f9"/><stop offset="0.962" stop-color="#fff3f3"/><stop offset="1.000" stop-color="#fffafa"/></linearGradient><linearGradient id="fr53" x1="0" x2="1" y1="0" y2="0"><stop offset="0.000" stop-color="#fff9f9"/><stop offset="0.038" stop-color="#fff2f2"/><stop offset="0.077" stop-color="#fff8f8"/><stop offset="0.115" stop-color="#ececff"/><stop offset="0.154" stop-color="#bcbcff"/><stop offset="0.192" stop-color="#7d7dff"/><stop offset="0.231" stop-color="#4646ff"/><stop offset="0.269" stop-color="#2f2fff"/><stop offset="0.308" stop-color="#4545ff"/><stop offset="0.346" stop-color="#7b7bff"/><stop offset="0.385" stop-color="#babaff"/><stop offset="0.423" stop-color="#ebebff"/><stop offset="0.462" stop-color="#fff9f9"/><stop offset="0.500" stop-color="#fff2f2"/><stop offset="0.538" stop-color="#fff9f9"/><stop offset="0.577" stop-color="#ebebff"/><stop offset="0.615" stop-color="#babaff"/><stop offset="0.654" stop-color="#7b7bff"/><stop offset="0.692" stop-color="#4444ff"/><stop offset="0.731" stop-color="#2f2fff"/><stop offset="0.769" stop-color="#4545ff"/><stop offset="0.808" stop-color="#7d7dff"/><stop offset="0.846" stop-color="#bcbcff"/><stop offset="0.885" stop-color="#ececff"/><stop offset="0.923" stop-color="#fff8f8"/><stop offset="0.962" stop-color="#fff2f2"/><stop offset="1.000" stop-color="#fff9f9"/></linearGradient><linearGradient id="fr54" x1="0" x2="1" y1="0" y2="0"><stop offset="0.000" stop-color="#f5f5ff"/><stop offset="0.038" stop-color="#f4f4ff"/><stop offset="0.077" stop-color="#f5f5ff"/><stop offset="0.115" stop-color="#f0f0ff"/><stop offset="0.154" stop-color="#ddddff"/><stop offset="0.192" stop-color="#bcbcff"/><stop offset="0.231" stop-color="#9a9aff"/><stop offset="0.269" stop-color="#8c8cff"/><stop offset="0.308" stop-color="#9999ff"/><stop offset="0.346" stop-color="#babaff"/><stop offset="0.385" stop-color="#dcdcff"/><stop offset="0.423" stop-color="#f0f0ff"/><stop offset="0.462" stop-color="#f5f5ff"/><stop offset="0.500" stop-color="#f4f4ff"/><stop offset="0.538" stop-color="#f5f5ff"/><stop offset="0.577" stop-color="#f0f0ff"/><stop offset="0.615" stop-color="#dcdcff"/><stop offset="0.654" stop-color="#b9b9ff"/><stop offset="0.692" stop-color="#9797ff"/><stop offset="0.731" stop-color="#8888ff"/><stop offset="0.769" stop-color="#9797ff"/><stop offset="0.808" stop-color="#b9b9ff"/><stop offset="0.846" stop-color="#dcdcff"/><stop offset="0.885" stop-color="#f0f0ff"/><stop offset="0.923" stop-color="#f5f5ff"/><stop offset="0.962" stop-color="#f4f4ff"/><stop offset="1.000" stop-color="#f5f5ff"/></linearGradient><linearGradient id="fr55" x1="0" x2="1" y1="0" y2="0"><stop offset="0.000" stop-color="#cfcfff"/><stop offset="0.038" stop-color="#c4c4ff"/><stop offset="0.077" stop-color="#ceceff"/><stop offset="0.115" stop-color="#e5e5ff"/><stop offset="0.154" stop-color="#fafaff"/><stop offset="0.192" stop-color="#fffafa"/><stop offset="0.231" stop-color="#fff7f7"/><stop offset="0.269" stop-color="#fff6f6"/><stop offset="0.308" stop-color="#fff8f8"/><stop offset="0.346" stop-color="#fffcfc"/><stop offset="0.385" stop-color="#f9f9ff"/><stop offset="0.423" stop-color="#e6e6ff"/><stop offset="0.462" stop-color="#ceceff"/><stop offset="0.500" stop-color="#c4c4ff"/><stop offset="0.538" stop-color="#ceceff"/><stop offset="0.577" stop-color="#e6e6ff"/><stop offset="0.615" stop-color="#f9f9ff"/><stop offset="0.654" stop-color="#fffdfd"/><stop offset="0.692" stop-color="#fffcfc"/><stop offset="0.731" stop-color="#ffffff"/><stop offset="0.769" stop-color="#fbfbff"/><stop offset="0.808" stop-color="#fbfbff"/><stop offset="0.846" stop-color="#f6f6ff"/><stop offset="0.885" stop-color="#e4e4ff"/><stop offset="0.923" stop-color="#ceceff"/><stop offset="0.962" stop-color="#c4c4ff"/><stop offset="1.000" stop-color="#cfcfff"/></linearGradient><linearGradient id="fr56" x1="0" x2="1" y1="0" y2="0"><stop offset="0.000" stop-color="#9696ff"/><stop offset="0.038" stop-color="#8686ff"/><stop offset="0.077" stop-color="#9595ff"/><stop offset="0.115" stop-color="#bbbbff"/><stop offset="0.154" stop-color="#e7e7ff"/><stop offset="0.192" stop-color="#ffeeee"/><stop offset="0.231" stop-color="#ffcece"/><stop offset="0.269" stop-color="#ffc0c0"/><stop offset="0.308" stop-color="#ffd0d0"/><stop offset="0.346" stop-color="#fff0f0"/><stop offset="0.385" stop-color="#e7e7ff"/><stop offset="0.423" stop-color="#bcbcff"/><stop offset="0.462" stop-color="#9696ff"/><stop offset="0.500" stop-color="#8686ff"/><stop offset="0.538" stop-color="#9696ff"/><stop offset="0.577" stop-color="#bcbcff"/><stop offset="0.615" stop-color="#e9e9ff"/><stop offset="0.654" stop-color="#ffecec"/><stop offset="0.692" stop-color="#ffcece"/><stop offset="0.731" stop-color="#ffc8c8"/><stop offset="0.769" stop-color="#ffdede"/><stop offset="0.808" stop-color="#fffdfd"/><stop offset="0.846" stop-color="#dfdfff"/><stop offset="0.885" stop-color="#b9b9ff"/><stop offset="0.923" stop-color="#9595ff"/><stop offset="0.962" stop-color="#8686ff"/><stop offset="1.000" stop-color="#9696ff"/></linearGradient><linearGradient id="fr57" x1="0" x2="1" y1="0" y2="0"><stop offset="0.000" stop-color="#5a5aff"/><stop offset="0.038" stop-color="#4c4cff"/><stop offset="0.077" stop-color="#5959ff"/><stop offset="0.115" stop-color="#7a7aff"/><stop offset="0.154" stop-color="#a1a1ff"/><stop offset="0.192" stop-color="#c9c9ff"/><stop offset="0.231" stop-color="#efefff"/><stop offset="0.269" stop-color="#fffefe"/><stop offset="0.308" stop-color="#ececff"/><stop offset="0.346" stop-color="#c6c6ff"/><stop offset="0.385" stop-color="#a0a0ff"/><stop offset="0.423" stop-color="#7a7aff"/><stop offset="0.462" stop-color="#5a5aff"/><stop offset="0.500" stop-color="#4c4cff"/><stop offset="0.538" stop-color="#5a5aff"/><stop offset="0.577" stop-color="#7b7bff"/><stop offset="0.615" stop-color="#a3a3ff"/><stop offset="0.654" stop-color="#d0d0ff"/><stop offset="0.692" stop-color="#f9f9ff"/><stop offset="0.731" stop-color="#fffefe"/><stop offset="0.769" stop-color="#e1e1ff"/><stop offset="0.808" stop-color="#b9b9ff"/><stop offset="0.846" stop-color="#9999ff"/><stop offset="0.885" stop-color="#7878ff"/><stop offset="0.923" stop-color="#5959ff"/><stop offset="0.962" stop-color="#4c4cff"/><stop offset="1.000" stop-color="#5a5aff"/></linearGradient><linearGradient id="fr58" x1="0" x2="1" y1="0" y2="0"><stop offset="0.000" stop-color="#3232ff"/><stop offset="0.038" stop-color="#2828ff"/><stop offset="0.077" stop-color="#3131ff"/><stop offset="0.115" stop-color="#4646ff"/><stop offset="0.154" stop-color="#5a5aff"/><stop offset="0.192" stop-color="#6666ff"/><stop offset="0.231" stop-color="#6f6fff"/><stop offset="0.269" stop-color="#7272ff"/><stop offset="0.308" stop-color="#6d6dff"/><stop offset="0.346" stop-color="#6464ff"/><stop offset="0.385" stop-color="#5959ff"/><stop offset="0.423" stop-color="#4747ff"/><stop offset="0.462" stop-color="#3232ff"/><stop offset="0.500" stop-color="#2828ff"/><stop offset="0.538" stop-color="#3232ff"/><stop offset="0.577" stop-color="#4747ff"/><stop offset="0.615" stop-color="#5b5bff"/><stop offset="0.654" stop-color="#6a6aff"/><stop offset="0.692" stop-color="#7373ff"/><stop offset="0.731" stop-color="#7373ff"/><stop offset="0.769" stop-color="#6868ff"/><stop offset="0.808" stop-color="#5f5fff"/><stop offset="0.846" stop-color="#5656ff"/><stop offset="0.885" stop-color="#4545ff"/><stop offset="0.923" stop-color="#3131ff"/><stop offset="0.962" stop-color="#2828ff"/><stop offset="1.000" stop-color="#3232ff"/></linearGradient><linearGradient id="fr59" x1="0" x2="1" y1="0" y2="0"><stop offset="0.000" stop-color="#3131ff"/><stop offset="0.038" stop-color="#2727ff"/><stop offset="0.077" stop-color="#3030ff"/><stop offset="0.115" stop-color="#4545ff"/><stop offset="0.154" stop-color="#5757ff"/><stop offset="0.192" stop-color="#6161ff"/><stop offset="0.231" stop-color="#6666ff"/><stop offset="0.269" stop-color="#6868ff"/><stop offset="0.308" stop-color="#6565ff"/><stop offset="0.346" stop-color="#5f5fff"/><stop offset="0.385" stop-color="#5757ff"/><stop offset="0.423" stop-color="#4545ff"/><stop offset="0.462" stop-color="#3131ff"/><stop offset="0.500" stop-color="#2828ff"/><stop offset="0.538" stop-color="#3131ff"/><stop offset="0.577" stop-color="#4646ff"/><stop offset="0.615" stop-color="#5858ff"/><stop offset="0.654" stop-color="#6464ff"/><stop offset="0.692" stop-color="#6a6aff"/><stop offset="0.731" stop-color="#6868ff"/><stop offset="0.769" stop-color="#6060ff"/><stop offset="0.808" stop-color="#5a5aff"/><stop offset="0.846" stop-color="#5454ff"/><stop offset="0.885" stop-color="#4444ff"/><stop offset="0.923" stop-color="#3030ff"/><stop offset="0.962" stop-color="#2727ff"/><stop offset="1.000" stop-color="#3131ff"/></linearGradient><linearGradient id="fr60" x1="0" x2="1" y1="0" y2="0"><stop offset="0.000" stop-color="#5858ff"/><stop offset="0.038" stop-color="#4a4aff"/><stop offset="0.077" stop-color="#5757ff"/><stop offset="0.115" stop-color="#7777ff"/><stop offset="0.154" stop-color="#9c9cff"/><stop offset="0.192" stop-color="#c3c3ff"/><stop offset="0.231" stop-color="#e7e7ff"/><stop offset="0.269" stop-color="#f6f6ff"/><stop offset="0.308" stop-color="#e4e4ff"/><stop offset="0.346" stop-color="#c0c0ff"/><stop offset="0.385" stop-color="#9c9cff"/><stop offset="0.423" stop-color="#7777ff"/><stop offset="0.462" stop-color="#5757ff"/><stop offset="0.500" stop-color="#4a4aff"/><stop offset="0.538" stop-color="#5757ff"/><stop offset="0.577" stop-color="#7878ff"/><stop offset="0.615" stop-color="#9f9fff"/><stop offset="0.654" stop-color="#cacaff"/><stop offset="0.692" stop-color="#f0f0ff"/><stop offset="0.731" stop-color="#f7f7ff"/><stop offset="0.769" stop-color="#dadaff"/><stop offset="0.808" stop-color="#b4b4ff"/><stop offset="0.846" stop-color="#9595ff"/><stop offset="0.885" stop-color="#7575ff"/><stop offset="0.923" stop-color="#5656ff"/><stop offset="0.962" stop-color="#4a4aff"/><stop offset="1.000" stop-color="#5858ff"/></linearGradient><linearGradient id="fr61" x1="0" x2="1" y1="0" y2="0"><stop offset="0.000" stop-color="#9494ff"/><stop offset="0.038" stop-color="#8383ff"/><stop offset="0.077" stop-color="#9292ff"/><stop offset="0.115" stop-color="#b8b8ff"/><stop offset="0.154" stop-color="#e6e6ff"/><stop offset="0.192" stop-color="#ffeeee"/><stop offset="0.231" stop-color="#ffcbcb"/><stop offset="0.269" stop-color="#ffbdbd"/><stop offset="0.308" stop-color="#ffcece"/><stop offset="0.346" stop-color="#fff0f0"/><stop offset="0.385" stop-color="#e5e5ff"/><stop offset="0.423" stop-color="#b9b9ff"/><stop offset="0.462" stop-color="#9393ff"/><stop offset="0.500" stop-color="#8383ff"/><stop offset="0.538" stop-color="#9393ff"/><stop offset="0.577" stop-color="#babaff"/><stop offset="0.615" stop-color="#e7e7ff"/><stop offset="0.654" stop-color="#ffebeb"/><stop offset="0.692" stop-color="#ffcaca"/><stop offset="0.731" stop-color="#ffc3c3"/><stop offset="0.769" stop-color="#ffdcdc"/><stop offset="0.808" stop-color="#fffdfd"/><stop offset="0.846" stop-color="#ddddff"/><stop offset="0.885" stop-color="#b6b6ff"/><stop offset="0.923" stop-color="#9292ff"/><stop offset="0.962" stop-color="#8383ff"/><stop offset="1.000" stop-color="#9494ff"/></linearGradient><linearGradient id="fr62" x1="0" x2="1" y1="0" y2="0"><stop offset="0.000" stop-color="#cdcdff"/><stop offset="0.038" stop-color="#c1c1ff"/><stop offset="0.077" stop-color="#ccccff"/><stop offset="0.115" stop-color="#e4e4ff"/><stop offset="0.154" stop-color="#fbfbff"/><stop offset="0.192" stop-color="#fff7f7"/><stop offset="0.231" stop-color="#fff0f0"/><stop offset="0.269" stop-color="#ffeeee"/><stop offset="0.308" stop-color="#fff1f1"/><stop offset="0.346" stop-color="#fff8f8"/><stop offset="0.385" stop-color="#fbfbff"/><stop offset="0.423" stop-color="#e5e5ff"/><stop offset="0.462" stop-color="#ccccff"/><stop offset="0.500" stop-color="#c1c1ff"/><stop offset="0.538" stop-color="#ccccff"/><stop offset="0.577" stop-color="#e5e5ff"/><stop offset="0.615" stop-color="#fafaff"/><stop offset="0.654" stop-color="#fff9f9"/><stop offset="0.692" stop-color="#fff5f5"/><stop offset="0.731" stop-color="#fff7f7"/><stop offset="0.769" stop-color="#fffcfc"/><stop offset="0.808" stop-color="#fefeff"/><stop offset="0.846" stop-color="#f6f6ff"/><stop offset="0.885" stop-color="#e3e3ff"/><stop offset="0.923" stop-color="#cbcbff"/><stop offset="0.962" stop-color="#c1c1ff"/><stop offset="1.000" stop-color="#cdcdff"/></linearGradient><linearGradient id="fr63" x1="0" x2="1" y1="0" y2="0"><stop offset="0.000" stop-color="#f4f4ff"/><stop offset="0.038" stop-color="#f3f3ff"/><stop offset="0.077" stop-color="#f4f4ff"/><stop offset="0.115" stop-color="#f0f0ff"/><stop offset="0.154" stop-color="#dfdfff"/><stop offset="0.192" stop-color="#c0c0ff"/><stop offset="0.231" stop-color="#a1a1ff"/><stop offset="0.269" stop-color="#9494ff"/><stop offset="0.308" stop-color="#a0a0ff"/><stop offset="0.346" stop-color="#bfbfff"/><stop offset="0.385" stop-color="#dedeff"/><stop offset="0.423" stop-color="#f0f0ff"/><stop offset="0.462" stop-color="#f4f4ff"/><stop offset="0.500" stop-color="#f3f3ff"/><stop offset="0.538" stop-color="#f4f4ff"/><stop offset="0.577" stop-color="#f0f0ff"/><stop offset="0.615" stop-color="#dedeff"/><stop offset="0.654" stop-color="#bdbdff"/><stop offset="0.692" stop-color="#9d9dff"/><stop offset="0.731" stop-color="#8f8fff"/><stop offset="0.769" stop-color="#9c9cff"/><stop offset="0.808" stop-color="#bdbdff"/><stop offset="0.846" stop-color="#dedeff"/><stop offset="0.885" stop-color="#f0f0ff"/><stop offset="0.923" stop-color="#f4f4ff"/><stop offset="0.962" stop-color="#f3f3ff"/><stop offset="1.000" stop-color="#f4f4ff"/></linearGradient><linearGradient id="fr64" x1="0" x2="1" y1="0" y2="0"><stop offset="0.000" stop-color="#fffafa"/><stop offset="0.038" stop-color="#fff3f3"/><stop offset="0.077" stop-color="#fff9f9"/><stop offset="0.115" stop-color="#ededff"/><stop offset="0.154" stop-color="#bebeff"/><stop offset="0.192" stop-color="#8181ff"/><stop offset="0.231" stop-color="#4c4cff"/><stop offset="0.269" stop-color="#3636ff"/><stop offset="0.308" stop-color="#4a4aff"/><stop offset="0.346" stop-color="#7f7fff"/><stop offset="0.385" stop-color="#bcbcff"/><stop offset="0.423" stop-color="#ececff"/><stop offset="0.462" stop-color="#fff9f9"/><stop offset="0.500" stop-color="#fff3f3"/><stop offset="0.538" stop-color="#fff9f9"/><stop offset="0.577" stop-color="#ebebff"/><stop offset="0.615" stop-color="#bbbbff"/><stop offset="0.654" stop-color="#7d7dff"/><stop offset="0.692" stop-color="#4646ff"/><stop offset="0.731" stop-color="#3131ff"/><stop offset="0.769" stop-color="#4848ff"/><stop offset="0.808" stop-color="#7e7eff"/><stop offset="0.846" stop-color="#bdbdff"/><stop offset="0.885" stop-color="#ededff"/><stop offset="0.923" stop-color="#fff9f9"/><stop offset="0.962" stop-color="#fff3f3"/><stop offset="1.000" stop-color="#fffafa"/></linearGradient><linearGradient id="fr65" x1="0" x2="1" y1="0" y2="0"><stop offset="0.000" stop-color="#fffafa"/><stop offset="0.038" stop-color="#fff2f2"/><stop offset="0.077" stop-color="#fff8f8"/><stop offset="0.115" stop-color="#efefff"/><stop offset="0.154" stop-color="#c2c2ff"/><stop offset="0.192" stop-color="#8989ff"/><stop offset="0.231" stop-color="#5757ff"/><stop offset="0.269" stop-color="#4343ff"/><stop offset="0.308" stop-color="#5656ff"/><stop offset="0.346" stop-color="#8787ff"/><stop offset="0.385" stop-color="#c0c0ff"/><stop offset="0.423" stop-color="#eeeeff"/><stop offset="0.462" stop-color="#fff9f9"/><stop offset="0.500" stop-color="#fff2f2"/><stop offset="0.538" stop-color="#fff9f9"/><stop offset="0.577" stop-color="#ebebff"/><stop offset="0.615" stop-color="#bbbbff"/><stop offset="0.654" stop-color="#7d7dff"/><stop offset="0.692" stop-color="#4747ff"/><stop offset="0.731" stop-color="#3232ff"/><stop offset="0.769" stop-color="#4848ff"/><stop offset="0.808" stop-color="#7f7fff"/><stop offset="0.846" stop-color="#bdbdff"/><stop offset="0.885" stop-color="#ededff"/><stop offset="0.923" stop-color="#fff9f9"/><stop offset="0.962" stop-color="#fff3f3"/><stop offset="1.000" stop-color="#fffafa"/></linearGradient><linearGradient id="fr66" x1="0" x2="1" y1="0" y2="0"><stop offset="0.000" stop-color="#f4f4ff"/><stop offset="0.038" stop-color="#f3f3ff"/><stop offset="0.077" stop-color="#f6f6ff"/><stop offset="0.115" stop-color="#f7f7ff"/><stop offset="0.154" stop-color="#efefff"/><stop offset="0.192" stop-color="#dbdbff"/><stop offset="0.231" stop-color="#c7c7ff"/><stop offset="0.269" stop-color="#bdbdff"/><stop offset="0.308" stop-color="#c5c5ff"/><stop offset="0.346" stop-color="#d9d9ff"/><stop offset="0.385" stop-color="#ededff"/><stop offset="0.423" stop-color="#f6f6ff"/><stop offset="0.462" stop-color="#f6f6ff"/><stop offset="0.500" stop-color="#f3f3ff"/><stop offset="0.538" stop-color="#f4f4ff"/><stop offset="0.577" stop-color="#f0f0ff"/><stop offset="0.615" stop-color="#dfdfff"/><stop offset="0.654" stop-color="#c0c0ff"/><stop offset="0.692" stop-color="#a2a2ff"/><stop offset="0.731" stop-color="#9494ff"/><stop offset="0.769" stop-color="#a0a0ff"/><stop offset="0.808" stop-color="#bfbfff"/><stop offset="0.846" stop-color="#dfdfff"/><stop offset="0.885" stop-color="#f0f0ff"/><stop offset="0.923" stop-color="#f4f4ff"/><stop offset="0.962" stop-color="#f3f3ff"/><stop offset="1.000" stop-color="#f4f4ff"/></linearGradient><linearGradient id="fr67" x1="0" x2="1" y1="0" y2="0"><stop offset="0.000" stop-color="#cdcdff"/><stop offset="0.038" stop-color="#c2c2ff"/><stop offset="0.077" stop-color="#cfcfff"/><stop offset="0.115" stop-color="#f0f0ff"/><stop offset="0.154" stop-color="#ffeeee"/><stop offset="0.192" stop-color="#ffd7d7"/><stop offset="0.231" stop-color="#ffcaca"/><stop offset="0.269" stop-color="#ffc6c6"/><stop offset="0.308" stop-color="#ffcccc"/><stop offset="0.346" stop-color="#ffd9d9"/><stop offset="0.385" stop-color="#ffefef"/><stop offset="0.423" stop-color="#efefff"/><stop offset="0.462" stop-color="#d0d0ff"/><stop offset="0.500" stop-color="#c2c2ff"/><stop offset="0.538" stop-color="#cdcdff"/><stop offset="0.577" stop-color="#e6e6ff"/><stop offset="0.615" stop-color="#ffffff"/><stop offset="0.654" stop-color="#fff2f2"/><stop offset="0.692" stop-color="#ffecec"/><stop offset="0.731" stop-color="#ffeded"/><stop offset="0.769" stop-color="#fff4f4"/><stop offset="0.808" stop-color="#fffbfb"/><stop offset="0.846" stop-color="#f9f9ff"/><stop offset="0.885" stop-color="#e4e4ff"/><stop offset="0.923" stop-color="#ccccff"/><stop offset="0.962" stop-color="#c1c1ff"/><stop offset="1.000" stop-color="#cdcdff"/></linearGradient><linearGradient id="fr68" x1="0" x2="1" y1="0" y2="0"><stop offset="0.000" stop-color="#9494ff"/><stop offset="0.038" stop-color="#8484ff"/><stop offset="0.077" stop-color="#9797ff"/><stop offset="0.115" stop-color="#c4c4ff"/><stop offset="0.154" stop-color="#fcfcff"/><stop offset="0.192" stop-color="#ffd9d9"/><stop offset="0.231" stop-color="#ffbfbf"/><stop offset="0.269" stop-color="#ffb6b6"/><stop offset="0.308" stop-color="#ffc0c0"/><stop offset="0.346" stop-color="#ffdbdb"/><stop offset="0.385" stop-color="#fafaff"/><stop offset="0.423" stop-color="#c4c4ff"/><stop offset="0.462" stop-color="#9797ff"/><stop offset="0.500" stop-color="#8484ff"/><stop offset="0.538" stop-color="#9494ff"/><stop offset="0.577" stop-color="#bcbcff"/><stop offset="0.615" stop-color="#ededff"/><stop offset="0.654" stop-color="#ffe5e5"/><stop offset="0.692" stop-color="#ffc4c4"/><stop offset="0.731" stop-color="#ffbebe"/><stop offset="0.769" stop-color="#ffd5d5"/><stop offset="0.808" stop-color="#fff7f7"/><stop offset="0.846" stop-color="#e1e1ff"/><stop offset="0.885" stop-color="#b7b7ff"/><stop offset="0.923" stop-color="#9292ff"/><stop offset="0.962" stop-color="#8383ff"/><stop offset="1.000" stop-color="#9494ff"/></linearGradient><linearGradient id="fr69" x1="0" x2="1" y1="0" y2="0"><stop offset="0.000" stop-color="#5858ff"/><stop offset="0.038" stop-color="#4b4bff"/><stop offset="0.077" stop-color="#5a5aff"/><stop offset="0.115" stop-color="#7f7fff"/><stop offset="0.154" stop-color="#aaaaff"/><stop offset="0.192" stop-color="#ccccff"/><stop offset="0.231" stop-color="#e0e0ff"/><stop offset="0.269" stop-color="#e5e5ff"/><stop offset="0.308" stop-color="#dedeff"/><stop offset="0.346" stop-color="#cacaff"/><stop offset="0.385" stop-color="#a9a9ff"/><stop offset="0.423" stop-color="#7f7fff"/><stop offset="0.462" stop-color="#5a5aff"/><stop offset="0.500" stop-color="#4b4bff"/><stop offset="0.538" stop-color="#5858ff"/><stop offset="0.577" stop-color="#7a7aff"/><stop offset="0.615" stop-color="#a3a3ff"/><stop offset="0.654" stop-color="#ceceff"/><stop offset="0.692" stop-color="#efefff"/><stop offset="0.731" stop-color="#f5f5ff"/><stop offset="0.769" stop-color="#dbdbff"/><stop offset="0.808" stop-color="#b9b9ff"/><stop offset="0.846" stop-color="#9898ff"/><stop offset="0.885" stop-color="#7676ff"/><stop offset="0.923" stop-color="#5757ff"/><stop offset="0.962" stop-color="#4a4aff"/><stop offset="1.000" stop-color="#5858ff"/></linearGradient><linearGradient id="fr70" x1="0" x2="1" y1="0" y2="0"><stop offset="0.000" stop-color="#3131ff"/><stop offset="0.038" stop-color="#2828ff"/><stop offset="0.077" stop-color="#3232ff"/><stop offset="0.115" stop-color="#4949ff"/><stop offset="0.154" stop-color="#5e5eff"/><stop offset="0.192" stop-color="#6767ff"/><stop offset="0.231" stop-color="#6666ff"/><stop offset="0.269" stop-color="#6363ff"/><stop offset="0.308" stop-color="#6565ff"/><stop offset="0.346" stop-color="#6565ff"/><stop offset="0.385" stop-color="#5d5dff"/><stop offset="0.423" stop-color="#4949ff"/><stop offset="0.462" stop-color="#3232ff"/><stop offset="0.500" stop-color="#2828ff"/><stop offset="0.538" stop-color="#3131ff"/><stop offset="0.577" stop-color="#4747ff"/><stop offset="0.615" stop-color="#5a5aff"/><stop offset="0.654" stop-color="#6666ff"/><stop offset="0.692" stop-color="#6b6bff"/><stop offset="0.731" stop-color="#6868ff"/><stop offset="0.769" stop-color="#6262ff"/><stop offset="0.808" stop-color="#5d5dff"/><stop offset="0.846" stop-color="#5555ff"/><stop offset="0.885" stop-color="#4444ff"/><stop offset="0.923" stop-color="#3030ff"/><stop offset="0.962" stop-color="#2727ff"/><stop offset="1.000" stop-color="#3131ff"/></linearGradient><linearGradient id="fr71" x1="0" x2="1" y1="0" y2="0"><stop offset="0.000" stop-color="#3232ff"/><stop offset="0.038" stop-color="#2929ff"/><stop offset="0.077" stop-color="#3333ff"/><stop offset="0.115" stop-color="#4b4bff"/><stop offset="0.154" stop-color="#6161ff"/><stop offset="0.192" stop-color="#6c6cff"/><stop offset="0.231" stop-color="#6d6dff"/><stop offset="0.269" stop-color="#6b6bff"/><stop offset="0.308" stop-color="#6c6cff"/><stop offset="0.346" stop-color="#6b6bff"/><stop offset="0.385" stop-color="#6161ff"/><stop offset="0.423" stop-color="#4b4bff"/><stop offset="0.462" stop-color="#3333ff"/><stop offset="0.500" stop-color="#2929ff"/><stop offset="0.538" stop-color="#3232ff"/><stop offset="0.577" stop-color="#4848ff"/><stop offset="0.615" stop-color="#5d5dff"/><stop offset="0.654" stop-color="#6a6aff"/><stop offset="0.692" stop-color="#7171ff"/><stop offset="0.731" stop-color="#6f6fff"/><stop offset="0.769" stop-color="#6767ff"/><stop offset="0.808" stop-color="#6060ff"/><stop offset="0.846" stop-color="#5757ff"/><stop offset="0.885" stop-color="#4646ff"/><stop offset="0.923" stop-color="#3131ff"/><stop offset="0.962" stop-color="#2828ff"/><stop offset="1.000" stop-color="#3232ff"/></linearGradient><linearGradient id="fr72" x1="0" x2="1" y1="0" y2="0"><stop offset="0.000" stop-color="#5a5aff"/><stop offset="0.038" stop-color="#4d4dff"/><stop offset="0.077" stop-color="#5c5cff"/><stop offset="0.115" stop-color="#8383ff"/><stop offset="0.154" stop-color="#afafff"/><stop offset="0.192" stop-color="#d3d3ff"/><stop offset="0.231" stop-color="#e9e9ff"/><stop offset="0.269" stop-color="#f0f0ff"/><stop offset="0.308" stop-color="#e7e7ff"/><stop offset="0.346" stop-color="#d1d1ff"/><stop offset="0.385" stop-color="#aeaeff"/><stop offset="0.423" stop-color="#8383ff"/><stop offset="0.462" stop-color="#5d5dff"/><stop offset="0.500" stop-color="#4d4dff"/><stop offset="0.538" stop-color="#5a5aff"/><stop offset="0.577" stop-color="#7d7dff"/><stop offset="0.615" stop-color="#a7a7ff"/><stop offset="0.654" stop-color="#d3d3ff"/><stop offset="0.692" stop-color="#f6f6ff"/><stop offset="0.731" stop-color="#fcfcff"/><stop offset="0.769" stop-color="#e2e2ff"/><stop offset="0.808" stop-color="#bebeff"/><stop offset="0.846" stop-color="#9c9cff"/><stop offset="0.885" stop-color="#7979ff"/><stop offset="0.923" stop-color="#5959ff"/><stop offset="0.962" stop-color="#4c4cff"/><stop offset="1.000" stop-color="#5a5aff"/></linearGradient><linearGradient id="fr73" x1="0" x2="1" y1="0" y2="0"><stop offset="0.000" stop-color="#9696ff"/><stop offset="0.038" stop-color="#8787ff"/><stop offset="0.077" stop-color="#9999ff"/><stop offset="0.115" stop-color="#c7c7ff"/><stop offset="0.154" stop-color="#fefeff"/><stop offset="0.192" stop-color="#ffd7d7"/><stop offset="0.231" stop-color="#ffbdbd"/><stop offset="0.269" stop-color="#ffb4b4"/><stop offset="0.308" stop-color="#ffbebe"/><stop offset="0.346" stop-color="#ffd9d9"/><stop offset="0.385" stop-color="#fdfdff"/><stop offset="0.423" stop-color="#c7c7ff"/><stop offset="0.462" stop-color="#9a9aff"/><stop offset="0.500" stop-color="#8787ff"/><stop offset="0.538" stop-color="#9696ff"/><stop offset="0.577" stop-color="#bebeff"/><stop offset="0.615" stop-color="#efefff"/><stop offset="0.654" stop-color="#ffe4e4"/><stop offset="0.692" stop-color="#ffc5c5"/><stop offset="0.731" stop-color="#ffbfbf"/><stop offset="0.769" stop-color="#ffd5d5"/><stop offset="0.808" stop-color="#fff6f6"/><stop offset="0.846" stop-color="#e3e3ff"/><stop offset="0.885" stop-color="#babaff"/><stop offset="0.923" stop-color="#9595ff"/><stop offset="0.962" stop-color="#8686ff"/><stop offset="1.000" stop-color="#9696ff"/></linearGradient><linearGradient id="fr74" x1="0" x2="1" y1="0" y2="0"><stop offset="0.000" stop-color="#cfcfff"/><stop offset="0.038" stop-color="#c5c5ff"/><stop offset="0.077" stop-color="#d1d1ff"/><stop offset="0.115" stop-color="#f0f0ff"/><stop offset="0.154" stop-color="#fff0f0"/><stop offset="0.192" stop-color="#ffdbdb"/><stop offset="0.231" stop-color="#ffd0d0"/><stop offset="0.269" stop-color="#ffcdcd"/><stop offset="0.308" stop-color="#ffd1d1"/><stop offset="0.346" stop-color="#ffdddd"/><stop offset="0.385" stop-color="#fff1f1"/><stop offset="0.423" stop-color="#f0f0ff"/><stop offset="0.462" stop-color="#d2d2ff"/><stop offset="0.500" stop-color="#c4c4ff"/><stop offset="0.538" stop-color="#cfcfff"/><stop offset="0.577" stop-color="#e7e7ff"/><stop offset="0.615" stop-color="#fefeff"/><stop offset="0.654" stop-color="#fff5f5"/><stop offset="0.692" stop-color="#fff1f1"/><stop offset="0.731" stop-color="#fff3f3"/><stop offset="0.769" stop-color="#fff8f8"/><stop offset="0.808" stop-color="#fffdfd"/><stop offset="0.846" stop-color="#f8f8ff"/><stop offset="0.885" stop-color="#e5e5ff"/><stop offset="0.923" stop-color="#ceceff"/><stop offset="0.962" stop-color="#c4c4ff"/><stop offset="1.000" stop-color="#cfcfff"/></linearGradient><linearGradient id="fr75" x1="0" x2="1" y1="0" y2="0"><stop offset="0.000" stop-color="#f5f5ff"/><stop offset="0.038" stop-color="#f5f5ff"/><stop offset="0.077" stop-color="#f7f7ff"/><stop offset="0.115" stop-color="#f6f6ff"/><stop offset="0.154" stop-color="#ebebff"/><stop offset="0.192" stop-color="#d5d5ff"/><stop offset="0.231" stop-color="#bdbdff"/><stop offset="0.269" stop-color="#b3b3ff"/><stop offset="0.308" stop-color="#bcbcff"/><stop offset="0.346" stop-color="#d2d2ff"/><stop offset="0.385" stop-color="#e9e9ff"/><stop offset="0.423" stop-color="#f5f5ff"/><stop offset="0.462" stop-color="#f7f7ff"/><stop offset="0.500" stop-color="#f5f5ff"/><stop offset="0.538" stop-color="#f5f5ff"/><stop offset="0.577" stop-color="#f0f0ff"/><stop offset="0.615" stop-color="#ddddff"/><stop offset="0.654" stop-color="#bcbcff"/><stop offset="0.692" stop-color="#9c9cff"/><stop offset="0.731" stop-color="#8e8eff"/><stop offset="0.769" stop-color="#9b9bff"/><stop offset="0.808" stop-color="#bbbbff"/><stop offset="0.846" stop-color="#ddddff"/><stop offset="0.885" stop-color="#f0f0ff"/><stop offset="0.923" stop-color="#f5f5ff"/><stop offset="0.962" stop-color="#f4f4ff"/><stop offset="1.000" stop-color="#f5f5ff"/></linearGradient><linearGradient id="fr76" x1="0" x2="1" y1="0" y2="0"><stop offset="0.000" stop-color="#fff9f9"/><stop offset="0.038" stop-color="#fff2f2"/><stop offset="0.077" stop-color="#fff8f8"/><stop offset="0.115" stop-color="#eeeeff"/><stop offset="0.154" stop-color="#c1c1ff"/><stop offset="0.192" stop-color="#8686ff"/><stop offset="0.231" stop-color="#5353ff"/><stop offset="0.269" stop-color="#3e3eff"/><stop offset="0.308" stop-color="#5151ff"/><stop offset="0.346" stop-color="#8484ff"/><stop offset="0.385" stop-color="#bfbfff"/><stop offset="0.423" stop-color="#ededff"/><stop offset="0.462" stop-color="#fff8f8"/><stop offset="0.500" stop-color="#fff2f2"/><stop offset="0.538" stop-color="#fff9f9"/><stop offset="0.577" stop-color="#ebebff"/><stop offset="0.615" stop-color="#babaff"/><stop offset="0.654" stop-color="#7b7bff"/><stop offset="0.692" stop-color="#4545ff"/><stop offset="0.731" stop-color="#3030ff"/><stop offset="0.769" stop-color="#4646ff"/><stop offset="0.808" stop-color="#7d7dff"/><stop offset="0.846" stop-color="#bcbcff"/><stop offset="0.885" stop-color="#ececff"/><stop offset="0.923" stop-color="#fff8f8"/><stop offset="0.962" stop-color="#fff2f2"/><stop offset="1.000" stop-color="#fff9f9"/></linearGradient><linearGradient id="fr77" x1="0" x2="1" y1="0" y2="0"><stop offset="0.000" stop-color="#fffafa"/><stop offset="0.038" stop-color="#fff3f3"/><stop offset="0.077" stop-color="#fff9f9"/><stop offset="0.115" stop-color="#ededff"/><stop offset="0.154" stop-color="#bfbfff"/><stop offset="0.192" stop-color="#8282ff"/><stop offset="0.231" stop-color="#4c4cff"/><stop offset="0.269" stop-color="#3636ff"/><stop offset="0.308" stop-color="#4b4bff"/><stop offset="0.346" stop-color="#8080ff"/><stop offset="0.385" stop-color="#bdbdff"/><stop offset="0.423" stop-color="#ececff"/><stop offset="0.462" stop-color="#fff9f9"/><stop offset="0.500" stop-color="#fff3f3"/><stop offset="0.538" stop-color="#fff9f9"/><stop offset="0.577" stop-color="#ececff"/><stop offset="0.615" stop-color="#bcbcff"/><stop offset="0.654" stop-color="#7e7eff"/><stop offset="0.692" stop-color="#4848ff"/><stop offset="0.731" stop-color="#3333ff"/><stop offset="0.769" stop-color="#4949ff"/><stop offset="0.808" stop-color="#8080ff"/><stop offset="0.846" stop-color="#bebeff"/><stop offset="0.885" stop-color="#ededff"/><stop offset="0.923" stop-color="#fff9f9"/><stop offset="0.962" stop-color="#fff3f3"/><stop offset="1.000" stop-color="#fffafa"/></linearGradient><filter id="fb52" x="-5%" y="-5%" width="110%" height="110%"><feGaussianBlur stdDeviation="0.6 1.5"/></filter><clipPath id="cl3"><rect x="587.6" y="350.8" width="92.6" height="92.5"/></clipPath><linearGradient id="fr78" x1="0" x2="1" y1="0" y2="0"><stop offset="0.000" stop-color="#fffdfd"/><stop offset="0.038" stop-color="#fff2f2"/><stop offset="0.077" stop-color="#fffbfb"/><stop offset="0.115" stop-color="#e0e0ff"/><stop offset="0.154" stop-color="#a9a9ff"/><stop offset="0.192" stop-color="#6b6bff"/><stop offset="0.231" stop-color="#3939ff"/><stop offset="0.269" stop-color="#2626ff"/><stop offset="0.308" stop-color="#3838ff"/><stop offset="0.346" stop-color="#6969ff"/><stop offset="0.385" stop-color="#a7a7ff"/><stop offset="0.423" stop-color="#dedeff"/><stop offset="0.462" stop-color="#fffcfc"/><stop offset="0.500" stop-color="#fff2f2"/><stop offset="0.538" stop-color="#fffcfc"/><stop offset="0.577" stop-color="#dedeff"/><stop offset="0.615" stop-color="#a7a7ff"/><stop offset="0.654" stop-color="#6969ff"/><stop offset="0.692" stop-color="#3838ff"/><stop offset="0.731" stop-color="#2626ff"/><stop offset="0.769" stop-color="#3939ff"/><stop offset="0.808" stop-color="#6b6bff"/><stop offset="0.846" stop-color="#a9a9ff"/><stop offset="0.885" stop-color="#e0e0ff"/><stop offset="0.923" stop-color="#fffbfb"/><stop offset="0.962" stop-color="#fff2f2"/><stop offset="1.000" stop-color="#fffdfd"/></linearGradient><linearGradient id="fr79" x1="0" x2="1" y1="0" y2="0"><stop offset="0.000" stop-color="#fffdfd"/><stop offset="0.038" stop-color="#fff1f1"/><stop offset="0.077" stop-color="#fffbfb"/><stop offset="0.115" stop-color="#dfdfff"/><stop offset="0.154" stop-color="#a8a8ff"/><stop offset="0.192" stop-color="#6b6bff"/><stop offset="0.231" stop-color="#3939ff"/><stop offset="0.269" stop-color="#2525ff"/><stop offset="0.308" stop-color="#3838ff"/><stop offset="0.346" stop-color="#6969ff"/><stop offset="0.385" stop-color="#a6a6ff"/><stop offset="0.423" stop-color="#dedeff"/><stop offset="0.462" stop-color="#fffcfc"/><stop offset="0.500" stop-color="#fff1f1"/><stop offset="0.538" stop-color="#fffcfc"/><stop offset="0.577" stop-color="#dedeff"/><stop offset="0.615" stop-color="#a6a6ff"/><stop offset="0.654" stop-color="#6868ff"/><stop offset="0.692" stop-color="#3737ff"/><stop offset="0.731" stop-color="#2525ff"/><stop offset="0.769" stop-color="#3939ff"/><stop offset="0.808" stop-color="#6a6aff"/><stop offset="0.846" stop-color="#a8a8ff"/><stop offset="0.885" stop-color="#dfdfff"/><stop offset="0.923" stop-color="#fffbfb"/><stop offset="0.962" stop-color="#fff1f1"/><stop offset="1.000" stop-color="#fffdfd"/></linearGradient><linearGradient id="fr80" x1="0" x2="1" y1="0" y2="0"><stop offset="0.000" stop-color="#f9f9ff"/><stop offset="0.038" stop-color="#fdfdff"/><stop offset="0.077" stop-color="#fafaff"/><stop offset="0.115" stop-color="#e9e9ff"/><stop offset="0.154" stop-color="#c2c2ff"/><stop offset="0.192" stop-color="#8686ff"/><stop offset="0.231" stop-color="#4d4dff"/><stop offset="0.269" stop-color="#3434ff"/><stop offset="0.308" stop-color="#4c4cff"/><stop offset="0.346" stop-color="#8484ff"/><stop offset="0.385" stop-color="#c0c0ff"/><stop offset="0.423" stop-color="#e8e8ff"/><stop offset="0.462" stop-color="#f9f9ff"/><stop offset="0.500" stop-color="#fdfdff"/><stop offset="0.538" stop-color="#f9f9ff"/><stop offset="0.577" stop-color="#e8e8ff"/><stop offset="0.615" stop-color="#c0c0ff"/><stop offset="0.654" stop-color="#8484ff"/><stop offset="0.692" stop-color="#4b4bff"/><stop offset="0.731" stop-color="#3434ff"/><stop offset="0.769" stop-color="#4d4dff"/><stop offset="0.808" stop-color="#8686ff"/><stop offset="0.846" stop-color="#c1c1ff"/><stop offset="0.885" stop-color="#e9e9ff"/><stop offset="0.923" stop-color="#fafaff"/><stop offset="0.962" stop-color="#fdfdff"/><stop offset="1.000" stop-color="#f9f9ff"/></linearGradient><linearGradient id="fr81" x1="0" x2="1" y1="0" y2="0"><stop offset="0.000" stop-color="#e0e0ff"/><stop offset="0.038" stop-color="#d4d4ff"/><stop offset="0.077" stop-color="#dfdfff"/><stop offset="0.115" stop-color="#f1f1ff"/><stop offset="0.154" stop-color="#e7e7ff"/><stop offset="0.192" stop-color="#b1b1ff"/><stop offset="0.231" stop-color="#6a6aff"/><stop offset="0.269" stop-color="#4646ff"/><stop offset="0.308" stop-color="#6868ff"/><stop offset="0.346" stop-color="#afafff"/><stop offset="0.385" stop-color="#e6e6ff"/><stop offset="0.423" stop-color="#f1f1ff"/><stop offset="0.462" stop-color="#e0e0ff"/><stop offset="0.500" stop-color="#d4d4ff"/><stop offset="0.538" stop-color="#e0e0ff"/><stop offset="0.577" stop-color="#f0f0ff"/><stop offset="0.615" stop-color="#e4e4ff"/><stop offset="0.654" stop-color="#acacff"/><stop offset="0.692" stop-color="#6666ff"/><stop offset="0.731" stop-color="#4646ff"/><stop offset="0.769" stop-color="#6969ff"/><stop offset="0.808" stop-color="#aeaeff"/><stop offset="0.846" stop-color="#e4e4ff"/><stop offset="0.885" stop-color="#efefff"/><stop offset="0.923" stop-color="#dfdfff"/><stop offset="0.962" stop-color="#d4d4ff"/><stop offset="1.000" stop-color="#e0e0ff"/></linearGradient><linearGradient id="fr82" x1="0" x2="1" y1="0" y2="0"><stop offset="0.000" stop-color="#b4b4ff"/><stop offset="0.038" stop-color="#9797ff"/><stop offset="0.077" stop-color="#b2b2ff"/><stop offset="0.115" stop-color="#ececff"/><stop offset="0.154" stop-color="#fff7f7"/><stop offset="0.192" stop-color="#dfdfff"/><stop offset="0.231" stop-color="#8585ff"/><stop offset="0.269" stop-color="#4e4eff"/><stop offset="0.308" stop-color="#8080ff"/><stop offset="0.346" stop-color="#dcdcff"/><stop offset="0.385" stop-color="#fff6f6"/><stop offset="0.423" stop-color="#eeeeff"/><stop offset="0.462" stop-color="#b4b4ff"/><stop offset="0.500" stop-color="#9797ff"/><stop offset="0.538" stop-color="#b3b3ff"/><stop offset="0.577" stop-color="#ebebff"/><stop offset="0.615" stop-color="#fffafa"/><stop offset="0.654" stop-color="#d8d8ff"/><stop offset="0.692" stop-color="#7d7dff"/><stop offset="0.731" stop-color="#4f4fff"/><stop offset="0.769" stop-color="#8484ff"/><stop offset="0.808" stop-color="#d9d9ff"/><stop offset="0.846" stop-color="#fffefe"/><stop offset="0.885" stop-color="#e8e8ff"/><stop offset="0.923" stop-color="#b1b1ff"/><stop offset="0.962" stop-color="#9797ff"/><stop offset="1.000" stop-color="#b4b4ff"/></linearGradient><linearGradient id="fr83" x1="0" x2="1" y1="0" y2="0"><stop offset="0.000" stop-color="#8181ff"/><stop offset="0.038" stop-color="#5555ff"/><stop offset="0.077" stop-color="#7e7eff"/><stop offset="0.115" stop-color="#ddddff"/><stop offset="0.154" stop-color="#ffe0e0"/><stop offset="0.192" stop-color="#fff4f4"/><stop offset="0.231" stop-color="#9d9dff"/><stop offset="0.269" stop-color="#4d4dff"/><stop offset="0.308" stop-color="#9696ff"/><stop offset="0.346" stop-color="#fff6f6"/><stop offset="0.385" stop-color="#ffdcdc"/><stop offset="0.423" stop-color="#e2e2ff"/><stop offset="0.462" stop-color="#8282ff"/><stop offset="0.500" stop-color="#5555ff"/><stop offset="0.538" stop-color="#8080ff"/><stop offset="0.577" stop-color="#ddddff"/><stop offset="0.615" stop-color="#ffe1e1"/><stop offset="0.654" stop-color="#fff8f8"/><stop offset="0.692" stop-color="#9292ff"/><stop offset="0.731" stop-color="#5050ff"/><stop offset="0.769" stop-color="#a3a3ff"/><stop offset="0.808" stop-color="#fff8f8"/><stop offset="0.846" stop-color="#ffeded"/><stop offset="0.885" stop-color="#d4d4ff"/><stop offset="0.923" stop-color="#7d7dff"/><stop offset="0.962" stop-color="#5555ff"/><stop offset="1.000" stop-color="#8181ff"/></linearGradient><linearGradient id="fr84" x1="0" x2="1" y1="0" y2="0"><stop offset="0.000" stop-color="#5e5eff"/><stop offset="0.038" stop-color="#2a2aff"/><stop offset="0.077" stop-color="#5b5bff"/><stop offset="0.115" stop-color="#d2d2ff"/><stop offset="0.154" stop-color="#ffcfcf"/><stop offset="0.192" stop-color="#ffd6d6"/><stop offset="0.231" stop-color="#b0b0ff"/><stop offset="0.269" stop-color="#4949ff"/><stop offset="0.308" stop-color="#a6a6ff"/><stop offset="0.346" stop-color="#ffd9d9"/><stop offset="0.385" stop-color="#ffcaca"/><stop offset="0.423" stop-color="#d9d9ff"/><stop offset="0.462" stop-color="#5f5fff"/><stop offset="0.500" stop-color="#2a2aff"/><stop offset="0.538" stop-color="#5d5dff"/><stop offset="0.577" stop-color="#d2d2ff"/><stop offset="0.615" stop-color="#ffcece"/><stop offset="0.654" stop-color="#ffd8d8"/><stop offset="0.692" stop-color="#a3a3ff"/><stop offset="0.731" stop-color="#4f4fff"/><stop offset="0.769" stop-color="#bcbcff"/><stop offset="0.808" stop-color="#ffd9d9"/><stop offset="0.846" stop-color="#ffe2e2"/><stop offset="0.885" stop-color="#c4c4ff"/><stop offset="0.923" stop-color="#5959ff"/><stop offset="0.962" stop-color="#2a2aff"/><stop offset="1.000" stop-color="#5e5eff"/></linearGradient><linearGradient id="fr85" x1="0" x2="1" y1="0" y2="0"><stop offset="0.000" stop-color="#5d5dff"/><stop offset="0.038" stop-color="#2929ff"/><stop offset="0.077" stop-color="#5b5bff"/><stop offset="0.115" stop-color="#d2d2ff"/><stop offset="0.154" stop-color="#ffcdcd"/><stop offset="0.192" stop-color="#ffd4d4"/><stop offset="0.231" stop-color="#b2b2ff"/><stop offset="0.269" stop-color="#4a4aff"/><stop offset="0.308" stop-color="#a8a8ff"/><stop offset="0.346" stop-color="#ffd6d6"/><stop offset="0.385" stop-color="#ffc8c8"/><stop offset="0.423" stop-color="#d9d9ff"/><stop offset="0.462" stop-color="#5f5fff"/><stop offset="0.500" stop-color="#2929ff"/><stop offset="0.538" stop-color="#5c5cff"/><stop offset="0.577" stop-color="#d1d1ff"/><stop offset="0.615" stop-color="#ffcfcf"/><stop offset="0.654" stop-color="#ffd9d9"/><stop offset="0.692" stop-color="#a2a2ff"/><stop offset="0.731" stop-color="#4f4fff"/><stop offset="0.769" stop-color="#bcbcff"/><stop offset="0.808" stop-color="#ffdada"/><stop offset="0.846" stop-color="#ffe2e2"/><stop offset="0.885" stop-color="#c4c4ff"/><stop offset="0.923" stop-color="#5858ff"/><stop offset="0.962" stop-color="#2929ff"/><stop offset="1.000" stop-color="#5d5dff"/></linearGradient><linearGradient id="fr86" x1="0" x2="1" y1="0" y2="0"><stop offset="0.000" stop-color="#8080ff"/><stop offset="0.038" stop-color="#5353ff"/><stop offset="0.077" stop-color="#7d7dff"/><stop offset="0.115" stop-color="#dedeff"/><stop offset="0.154" stop-color="#ffdddd"/><stop offset="0.192" stop-color="#ffefef"/><stop offset="0.231" stop-color="#a1a1ff"/><stop offset="0.269" stop-color="#4e4eff"/><stop offset="0.308" stop-color="#9999ff"/><stop offset="0.346" stop-color="#fff1f1"/><stop offset="0.385" stop-color="#ffd9d9"/><stop offset="0.423" stop-color="#e3e3ff"/><stop offset="0.462" stop-color="#8080ff"/><stop offset="0.500" stop-color="#5353ff"/><stop offset="0.538" stop-color="#7e7eff"/><stop offset="0.577" stop-color="#dcdcff"/><stop offset="0.615" stop-color="#ffe2e2"/><stop offset="0.654" stop-color="#fff9f9"/><stop offset="0.692" stop-color="#9191ff"/><stop offset="0.731" stop-color="#4f4fff"/><stop offset="0.769" stop-color="#a1a1ff"/><stop offset="0.808" stop-color="#fffafa"/><stop offset="0.846" stop-color="#ffeeee"/><stop offset="0.885" stop-color="#d3d3ff"/><stop offset="0.923" stop-color="#7b7bff"/><stop offset="0.962" stop-color="#5353ff"/><stop offset="1.000" stop-color="#8080ff"/></linearGradient><linearGradient id="fr87" x1="0" x2="1" y1="0" y2="0"><stop offset="0.000" stop-color="#b3b3ff"/><stop offset="0.038" stop-color="#9494ff"/><stop offset="0.077" stop-color="#b0b0ff"/><stop offset="0.115" stop-color="#ececff"/><stop offset="0.154" stop-color="#fff5f5"/><stop offset="0.192" stop-color="#e3e3ff"/><stop offset="0.231" stop-color="#8888ff"/><stop offset="0.269" stop-color="#4f4fff"/><stop offset="0.308" stop-color="#8383ff"/><stop offset="0.346" stop-color="#e1e1ff"/><stop offset="0.385" stop-color="#fff3f3"/><stop offset="0.423" stop-color="#efefff"/><stop offset="0.462" stop-color="#b2b2ff"/><stop offset="0.500" stop-color="#9595ff"/><stop offset="0.538" stop-color="#b1b1ff"/><stop offset="0.577" stop-color="#ebebff"/><stop offset="0.615" stop-color="#fffafa"/><stop offset="0.654" stop-color="#d7d7ff"/><stop offset="0.692" stop-color="#7c7cff"/><stop offset="0.731" stop-color="#4e4eff"/><stop offset="0.769" stop-color="#8484ff"/><stop offset="0.808" stop-color="#d9d9ff"/><stop offset="0.846" stop-color="#fffefe"/><stop offset="0.885" stop-color="#e7e7ff"/><stop offset="0.923" stop-color="#afafff"/><stop offset="0.962" stop-color="#9494ff"/><stop offset="1.000" stop-color="#b3b3ff"/></linearGradient><linearGradient id="fr88" x1="0" x2="1" y1="0" y2="0"><stop offset="0.000" stop-color="#dfdfff"/><stop offset="0.038" stop-color="#d2d2ff"/><stop offset="0.077" stop-color="#dedeff"/><stop offset="0.115" stop-color="#f1f1ff"/><stop offset="0.154" stop-color="#e9e9ff"/><stop offset="0.192" stop-color="#b4b4ff"/><stop offset="0.231" stop-color="#6c6cff"/><stop offset="0.269" stop-color="#4747ff"/><stop offset="0.308" stop-color="#6969ff"/><stop offset="0.346" stop-color="#b2b2ff"/><stop offset="0.385" stop-color="#e8e8ff"/><stop offset="0.423" stop-color="#f2f2ff"/><stop offset="0.462" stop-color="#dfdfff"/><stop offset="0.500" stop-color="#d2d2ff"/><stop offset="0.538" stop-color="#dedeff"/><stop offset="0.577" stop-color="#f0f0ff"/><stop offset="0.615" stop-color="#e4e4ff"/><stop offset="0.654" stop-color="#adadff"/><stop offset="0.692" stop-color="#6666ff"/><stop offset="0.731" stop-color="#4646ff"/><stop offset="0.769" stop-color="#6969ff"/><stop offset="0.808" stop-color="#afafff"/><stop offset="0.846" stop-color="#e5e5ff"/><stop offset="0.885" stop-color="#efefff"/><stop offset="0.923" stop-color="#dedeff"/><stop offset="0.962" stop-color="#d2d2ff"/><stop offset="1.000" stop-color="#dfdfff"/></linearGradient><linearGradient id="fr89" x1="0" x2="1" y1="0" y2="0"><stop offset="0.000" stop-color="#f8f8ff"/><stop offset="0.038" stop-color="#fcfcff"/><stop offset="0.077" stop-color="#f9f9ff"/><stop offset="0.115" stop-color="#eaeaff"/><stop offset="0.154" stop-color="#c3c3ff"/><stop offset="0.192" stop-color="#8888ff"/><stop offset="0.231" stop-color="#4e4eff"/><stop offset="0.269" stop-color="#3535ff"/><stop offset="0.308" stop-color="#4d4dff"/><stop offset="0.346" stop-color="#8686ff"/><stop offset="0.385" stop-color="#c2c2ff"/><stop offset="0.423" stop-color="#e9e9ff"/><stop offset="0.462" stop-color="#f9f9ff"/><stop offset="0.500" stop-color="#fcfcff"/><stop offset="0.538" stop-color="#f9f9ff"/><stop offset="0.577" stop-color="#e8e8ff"/><stop offset="0.615" stop-color="#c1c1ff"/><stop offset="0.654" stop-color="#8585ff"/><stop offset="0.692" stop-color="#4c4cff"/><stop offset="0.731" stop-color="#3535ff"/><stop offset="0.769" stop-color="#4e4eff"/><stop offset="0.808" stop-color="#8787ff"/><stop offset="0.846" stop-color="#c2c2ff"/><stop offset="0.885" stop-color="#e9e9ff"/><stop offset="0.923" stop-color="#f9f9ff"/><stop offset="0.962" stop-color="#fcfcff"/><stop offset="1.000" stop-color="#f8f8ff"/></linearGradient><linearGradient id="fr90" x1="0" x2="1" y1="0" y2="0"><stop offset="0.000" stop-color="#fffdfd"/><stop offset="0.038" stop-color="#fff2f2"/><stop offset="0.077" stop-color="#fffbfb"/><stop offset="0.115" stop-color="#e0e0ff"/><stop offset="0.154" stop-color="#aaaaff"/><stop offset="0.192" stop-color="#6c6cff"/><stop offset="0.231" stop-color="#3a3aff"/><stop offset="0.269" stop-color="#2626ff"/><stop offset="0.308" stop-color="#3939ff"/><stop offset="0.346" stop-color="#6a6aff"/><stop offset="0.385" stop-color="#a8a8ff"/><stop offset="0.423" stop-color="#dfdfff"/><stop offset="0.462" stop-color="#fffcfc"/><stop offset="0.500" stop-color="#fff2f2"/><stop offset="0.538" stop-color="#fffcfc"/><stop offset="0.577" stop-color="#dedeff"/><stop offset="0.615" stop-color="#a7a7ff"/><stop offset="0.654" stop-color="#6969ff"/><stop offset="0.692" stop-color="#3838ff"/><stop offset="0.731" stop-color="#2626ff"/><stop offset="0.769" stop-color="#3939ff"/><stop offset="0.808" stop-color="#6b6bff"/><stop offset="0.846" stop-color="#a9a9ff"/><stop offset="0.885" stop-color="#e0e0ff"/><stop offset="0.923" stop-color="#fffbfb"/><stop offset="0.962" stop-color="#fff2f2"/><stop offset="1.000" stop-color="#fffdfd"/></linearGradient><linearGradient id="fr91" x1="0" x2="1" y1="0" y2="0"><stop offset="0.000" stop-color="#fffdfd"/><stop offset="0.038" stop-color="#fff1f1"/><stop offset="0.077" stop-color="#fffafa"/><stop offset="0.115" stop-color="#e2e2ff"/><stop offset="0.154" stop-color="#acacff"/><stop offset="0.192" stop-color="#6e6eff"/><stop offset="0.231" stop-color="#3b3bff"/><stop offset="0.269" stop-color="#2626ff"/><stop offset="0.308" stop-color="#3a3aff"/><stop offset="0.346" stop-color="#6c6cff"/><stop offset="0.385" stop-color="#aaaaff"/><stop offset="0.423" stop-color="#e0e0ff"/><stop offset="0.462" stop-color="#fffbfb"/><stop offset="0.500" stop-color="#fff1f1"/><stop offset="0.538" stop-color="#fffcfc"/><stop offset="0.577" stop-color="#dedeff"/><stop offset="0.615" stop-color="#a7a7ff"/><stop offset="0.654" stop-color="#6969ff"/><stop offset="0.692" stop-color="#3838ff"/><stop offset="0.731" stop-color="#2626ff"/><stop offset="0.769" stop-color="#3939ff"/><stop offset="0.808" stop-color="#6b6bff"/><stop offset="0.846" stop-color="#a9a9ff"/><stop offset="0.885" stop-color="#e0e0ff"/><stop offset="0.923" stop-color="#fffbfb"/><stop offset="0.962" stop-color="#fff2f2"/><stop offset="1.000" stop-color="#fffdfd"/></linearGradient><linearGradient id="fr92" x1="0" x2="1" y1="0" y2="0"><stop offset="0.000" stop-color="#f9f9ff"/><stop offset="0.038" stop-color="#fdfdff"/><stop offset="0.077" stop-color="#fcfcff"/><stop offset="0.115" stop-color="#f1f1ff"/><stop offset="0.154" stop-color="#ceceff"/><stop offset="0.192" stop-color="#9191ff"/><stop offset="0.231" stop-color="#5454ff"/><stop offset="0.269" stop-color="#3737ff"/><stop offset="0.308" stop-color="#5252ff"/><stop offset="0.346" stop-color="#8f8fff"/><stop offset="0.385" stop-color="#ccccff"/><stop offset="0.423" stop-color="#f0f0ff"/><stop offset="0.462" stop-color="#fcfcff"/><stop offset="0.500" stop-color="#fdfdff"/><stop offset="0.538" stop-color="#f9f9ff"/><stop offset="0.577" stop-color="#e9e9ff"/><stop offset="0.615" stop-color="#c2c2ff"/><stop offset="0.654" stop-color="#8686ff"/><stop offset="0.692" stop-color="#4d4dff"/><stop offset="0.731" stop-color="#3535ff"/><stop offset="0.769" stop-color="#4f4fff"/><stop offset="0.808" stop-color="#8888ff"/><stop offset="0.846" stop-color="#c3c3ff"/><stop offset="0.885" stop-color="#e9e9ff"/><stop offset="0.923" stop-color="#f9f9ff"/><stop offset="0.962" stop-color="#fcfcff"/><stop offset="1.000" stop-color="#f8f8ff"/></linearGradient><linearGradient id="fr93" x1="0" x2="1" y1="0" y2="0"><stop offset="0.000" stop-color="#dfdfff"/><stop offset="0.038" stop-color="#d5d5ff"/><stop offset="0.077" stop-color="#e6e6ff"/><stop offset="0.115" stop-color="#fffcfc"/><stop offset="0.154" stop-color="#fffefe"/><stop offset="0.192" stop-color="#c7c7ff"/><stop offset="0.231" stop-color="#7777ff"/><stop offset="0.269" stop-color="#4c4cff"/><stop offset="0.308" stop-color="#7575ff"/><stop offset="0.346" stop-color="#c4c4ff"/><stop offset="0.385" stop-color="#ffffff"/><stop offset="0.423" stop-color="#fffcfc"/><stop offset="0.462" stop-color="#e7e7ff"/><stop offset="0.500" stop-color="#d5d5ff"/><stop offset="0.538" stop-color="#dfdfff"/><stop offset="0.577" stop-color="#f2f2ff"/><stop offset="0.615" stop-color="#e9e9ff"/><stop offset="0.654" stop-color="#b2b2ff"/><stop offset="0.692" stop-color="#6969ff"/><stop offset="0.731" stop-color="#4848ff"/><stop offset="0.769" stop-color="#6d6dff"/><stop offset="0.808" stop-color="#b4b4ff"/><stop offset="0.846" stop-color="#e8e8ff"/><stop offset="0.885" stop-color="#f0f0ff"/><stop offset="0.923" stop-color="#dedeff"/><stop offset="0.962" stop-color="#d2d2ff"/><stop offset="1.000" stop-color="#dfdfff"/></linearGradient><linearGradient id="fr94" x1="0" x2="1" y1="0" y2="0"><stop offset="0.000" stop-color="#b3b3ff"/><stop offset="0.038" stop-color="#9999ff"/><stop offset="0.077" stop-color="#c0c0ff"/><stop offset="0.115" stop-color="#fff4f4"/><stop offset="0.154" stop-color="#ffd6d6"/><stop offset="0.192" stop-color="#fbfbff"/><stop offset="0.231" stop-color="#9393ff"/><stop offset="0.269" stop-color="#5555ff"/><stop offset="0.308" stop-color="#9090ff"/><stop offset="0.346" stop-color="#f8f8ff"/><stop offset="0.385" stop-color="#ffd6d6"/><stop offset="0.423" stop-color="#fff2f2"/><stop offset="0.462" stop-color="#c2c2ff"/><stop offset="0.500" stop-color="#9999ff"/><stop offset="0.538" stop-color="#b4b4ff"/><stop offset="0.577" stop-color="#f0f0ff"/><stop offset="0.615" stop-color="#fff1f1"/><stop offset="0.654" stop-color="#e1e1ff"/><stop offset="0.692" stop-color="#8181ff"/><stop offset="0.731" stop-color="#5252ff"/><stop offset="0.769" stop-color="#8c8cff"/><stop offset="0.808" stop-color="#e3e3ff"/><stop offset="0.846" stop-color="#fff8f8"/><stop offset="0.885" stop-color="#e9e9ff"/><stop offset="0.923" stop-color="#b0b0ff"/><stop offset="0.962" stop-color="#9494ff"/><stop offset="1.000" stop-color="#b3b3ff"/></linearGradient><linearGradient id="fr95" x1="0" x2="1" y1="0" y2="0"><stop offset="0.000" stop-color="#8181ff"/><stop offset="0.038" stop-color="#5a5aff"/><stop offset="0.077" stop-color="#9595ff"/><stop offset="0.115" stop-color="#fff5f5"/><stop offset="0.154" stop-color="#ffbaba"/><stop offset="0.192" stop-color="#ffe4e4"/><stop offset="0.231" stop-color="#a1a1ff"/><stop offset="0.269" stop-color="#5151ff"/><stop offset="0.308" stop-color="#9e9eff"/><stop offset="0.346" stop-color="#ffe7e7"/><stop offset="0.385" stop-color="#ffbaba"/><stop offset="0.423" stop-color="#fff3f3"/><stop offset="0.462" stop-color="#9898ff"/><stop offset="0.500" stop-color="#5b5bff"/><stop offset="0.538" stop-color="#8282ff"/><stop offset="0.577" stop-color="#e7e7ff"/><stop offset="0.615" stop-color="#ffd4d4"/><stop offset="0.654" stop-color="#fff1f1"/><stop offset="0.692" stop-color="#9494ff"/><stop offset="0.731" stop-color="#5454ff"/><stop offset="0.769" stop-color="#aaaaff"/><stop offset="0.808" stop-color="#ffefef"/><stop offset="0.846" stop-color="#ffe4e4"/><stop offset="0.885" stop-color="#d8d8ff"/><stop offset="0.923" stop-color="#7c7cff"/><stop offset="0.962" stop-color="#5353ff"/><stop offset="1.000" stop-color="#8080ff"/></linearGradient><linearGradient id="fr96" x1="0" x2="1" y1="0" y2="0"><stop offset="0.000" stop-color="#5f5fff"/><stop offset="0.038" stop-color="#3232ff"/><stop offset="0.077" stop-color="#7777ff"/><stop offset="0.115" stop-color="#fffafa"/><stop offset="0.154" stop-color="#ffafaf"/><stop offset="0.192" stop-color="#ffd8d8"/><stop offset="0.231" stop-color="#a4a4ff"/><stop offset="0.269" stop-color="#4949ff"/><stop offset="0.308" stop-color="#a1a1ff"/><stop offset="0.346" stop-color="#ffdada"/><stop offset="0.385" stop-color="#ffafaf"/><stop offset="0.423" stop-color="#fff7f7"/><stop offset="0.462" stop-color="#7b7bff"/><stop offset="0.500" stop-color="#3232ff"/><stop offset="0.538" stop-color="#6161ff"/><stop offset="0.577" stop-color="#dedeff"/><stop offset="0.615" stop-color="#ffc1c1"/><stop offset="0.654" stop-color="#ffd7d7"/><stop offset="0.692" stop-color="#9f9fff"/><stop offset="0.731" stop-color="#5252ff"/><stop offset="0.769" stop-color="#bebeff"/><stop offset="0.808" stop-color="#ffd5d5"/><stop offset="0.846" stop-color="#ffd9d9"/><stop offset="0.885" stop-color="#cacaff"/><stop offset="0.923" stop-color="#5959ff"/><stop offset="0.962" stop-color="#2929ff"/><stop offset="1.000" stop-color="#5d5dff"/></linearGradient><linearGradient id="fr97" x1="0" x2="1" y1="0" y2="0"><stop offset="0.000" stop-color="#5f5fff"/><stop offset="0.038" stop-color="#3232ff"/><stop offset="0.077" stop-color="#7676ff"/><stop offset="0.115" stop-color="#fffdfd"/><stop offset="0.154" stop-color="#ffb4b4"/><stop offset="0.192" stop-color="#ffdddd"/><stop offset="0.231" stop-color="#a1a1ff"/><stop offset="0.269" stop-color="#4848ff"/><stop offset="0.308" stop-color="#9d9dff"/><stop offset="0.346" stop-color="#ffdfdf"/><stop offset="0.385" stop-color="#ffb4b4"/><stop offset="0.423" stop-color="#fffafa"/><stop offset="0.462" stop-color="#7a7aff"/><stop offset="0.500" stop-color="#3232ff"/><stop offset="0.538" stop-color="#6262ff"/><stop offset="0.577" stop-color="#ddddff"/><stop offset="0.615" stop-color="#ffc6c6"/><stop offset="0.654" stop-color="#ffdcdc"/><stop offset="0.692" stop-color="#9b9bff"/><stop offset="0.731" stop-color="#5050ff"/><stop offset="0.769" stop-color="#b9b9ff"/><stop offset="0.808" stop-color="#ffdada"/><stop offset="0.846" stop-color="#ffdcdc"/><stop offset="0.885" stop-color="#c9c9ff"/><stop offset="0.923" stop-color="#5959ff"/><stop offset="0.962" stop-color="#2a2aff"/><stop offset="1.000" stop-color="#5e5eff"/></linearGradient><linearGradient id="fr98" x1="0" x2="1" y1="0" y2="0"><stop offset="0.000" stop-color="#8282ff"/><stop offset="0.038" stop-color="#5b5bff"/><stop offset="0.077" stop-color="#9393ff"/><stop offset="0.115" stop-color="#fffcfc"/><stop offset="0.154" stop-color="#ffc6c6"/><stop offset="0.192" stop-color="#fff0f0"/><stop offset="0.231" stop-color="#9999ff"/><stop offset="0.269" stop-color="#4e4eff"/><stop offset="0.308" stop-color="#9696ff"/><stop offset="0.346" stop-color="#fff2f2"/><stop offset="0.385" stop-color="#ffc6c6"/><stop offset="0.423" stop-color="#fffafa"/><stop offset="0.462" stop-color="#9595ff"/><stop offset="0.500" stop-color="#5c5cff"/><stop offset="0.538" stop-color="#8383ff"/><stop offset="0.577" stop-color="#e4e4ff"/><stop offset="0.615" stop-color="#ffdcdc"/><stop offset="0.654" stop-color="#fffbfb"/><stop offset="0.692" stop-color="#8d8dff"/><stop offset="0.731" stop-color="#5050ff"/><stop offset="0.769" stop-color="#a0a0ff"/><stop offset="0.808" stop-color="#fff9f9"/><stop offset="0.846" stop-color="#ffeaea"/><stop offset="0.885" stop-color="#d7d7ff"/><stop offset="0.923" stop-color="#7d7dff"/><stop offset="0.962" stop-color="#5555ff"/><stop offset="1.000" stop-color="#8181ff"/></linearGradient><linearGradient id="fr99" x1="0" x2="1" y1="0" y2="0"><stop offset="0.000" stop-color="#b5b5ff"/><stop offset="0.038" stop-color="#9a9aff"/><stop offset="0.077" stop-color="#bebeff"/><stop offset="0.115" stop-color="#fffbfb"/><stop offset="0.154" stop-color="#ffe2e2"/><stop offset="0.192" stop-color="#ececff"/><stop offset="0.231" stop-color="#8a8aff"/><stop offset="0.269" stop-color="#5252ff"/><stop offset="0.308" stop-color="#8888ff"/><stop offset="0.346" stop-color="#eaeaff"/><stop offset="0.385" stop-color="#ffe3e3"/><stop offset="0.423" stop-color="#fffafa"/><stop offset="0.462" stop-color="#c0c0ff"/><stop offset="0.500" stop-color="#9a9aff"/><stop offset="0.538" stop-color="#b5b5ff"/><stop offset="0.577" stop-color="#eeeeff"/><stop offset="0.615" stop-color="#fff7f7"/><stop offset="0.654" stop-color="#d7d7ff"/><stop offset="0.692" stop-color="#7b7bff"/><stop offset="0.731" stop-color="#4f4fff"/><stop offset="0.769" stop-color="#8484ff"/><stop offset="0.808" stop-color="#dadaff"/><stop offset="0.846" stop-color="#fffcfc"/><stop offset="0.885" stop-color="#e9e9ff"/><stop offset="0.923" stop-color="#b1b1ff"/><stop offset="0.962" stop-color="#9797ff"/><stop offset="1.000" stop-color="#b4b4ff"/></linearGradient><linearGradient id="fr100" x1="0" x2="1" y1="0" y2="0"><stop offset="0.000" stop-color="#e0e0ff"/><stop offset="0.038" stop-color="#d6d6ff"/><stop offset="0.077" stop-color="#e5e5ff"/><stop offset="0.115" stop-color="#fdfdff"/><stop offset="0.154" stop-color="#f6f6ff"/><stop offset="0.192" stop-color="#bcbcff"/><stop offset="0.231" stop-color="#7070ff"/><stop offset="0.269" stop-color="#4949ff"/><stop offset="0.308" stop-color="#6e6eff"/><stop offset="0.346" stop-color="#babaff"/><stop offset="0.385" stop-color="#f4f4ff"/><stop offset="0.423" stop-color="#fdfdff"/><stop offset="0.462" stop-color="#e5e5ff"/><stop offset="0.500" stop-color="#d6d6ff"/><stop offset="0.538" stop-color="#e0e0ff"/><stop offset="0.577" stop-color="#f1f1ff"/><stop offset="0.615" stop-color="#e5e5ff"/><stop offset="0.654" stop-color="#adadff"/><stop offset="0.692" stop-color="#6666ff"/><stop offset="0.731" stop-color="#4646ff"/><stop offset="0.769" stop-color="#6969ff"/><stop offset="0.808" stop-color="#afafff"/><stop offset="0.846" stop-color="#e5e5ff"/><stop offset="0.885" stop-color="#f0f0ff"/><stop offset="0.923" stop-color="#dfdfff"/><stop offset="0.962" stop-color="#d4d4ff"/><stop offset="1.000" stop-color="#e0e0ff"/></linearGradient><linearGradient id="fr101" x1="0" x2="1" y1="0" y2="0"><stop offset="0.000" stop-color="#f9f9ff"/><stop offset="0.038" stop-color="#fefeff"/><stop offset="0.077" stop-color="#fcfcff"/><stop offset="0.115" stop-color="#eeeeff"/><stop offset="0.154" stop-color="#c8c8ff"/><stop offset="0.192" stop-color="#8c8cff"/><stop offset="0.231" stop-color="#5050ff"/><stop offset="0.269" stop-color="#3636ff"/><stop offset="0.308" stop-color="#4f4fff"/><stop offset="0.346" stop-color="#8a8aff"/><stop offset="0.385" stop-color="#c6c6ff"/><stop offset="0.423" stop-color="#ededff"/><stop offset="0.462" stop-color="#fbfbff"/><stop offset="0.500" stop-color="#fefeff"/><stop offset="0.538" stop-color="#f9f9ff"/><stop offset="0.577" stop-color="#e8e8ff"/><stop offset="0.615" stop-color="#c0c0ff"/><stop offset="0.654" stop-color="#8484ff"/><stop offset="0.692" stop-color="#4b4bff"/><stop offset="0.731" stop-color="#3434ff"/><stop offset="0.769" stop-color="#4d4dff"/><stop offset="0.808" stop-color="#8686ff"/><stop offset="0.846" stop-color="#c1c1ff"/><stop offset="0.885" stop-color="#e9e9ff"/><stop offset="0.923" stop-color="#fafaff"/><stop offset="0.962" stop-color="#fdfdff"/><stop offset="1.000" stop-color="#f9f9ff"/></linearGradient><linearGradient id="fr102" x1="0" x2="1" y1="0" y2="0"><stop offset="0.000" stop-color="#fffdfd"/><stop offset="0.038" stop-color="#fff1f1"/><stop offset="0.077" stop-color="#fffbfb"/><stop offset="0.115" stop-color="#e1e1ff"/><stop offset="0.154" stop-color="#aaaaff"/><stop offset="0.192" stop-color="#6c6cff"/><stop offset="0.231" stop-color="#3a3aff"/><stop offset="0.269" stop-color="#2626ff"/><stop offset="0.308" stop-color="#3939ff"/><stop offset="0.346" stop-color="#6a6aff"/><stop offset="0.385" stop-color="#a8a8ff"/><stop offset="0.423" stop-color="#dfdfff"/><stop offset="0.462" stop-color="#fffbfb"/><stop offset="0.500" stop-color="#fff1f1"/><stop offset="0.538" stop-color="#fffcfc"/><stop offset="0.577" stop-color="#dedeff"/><stop offset="0.615" stop-color="#a6a6ff"/><stop offset="0.654" stop-color="#6868ff"/><stop offset="0.692" stop-color="#3838ff"/><stop offset="0.731" stop-color="#2525ff"/><stop offset="0.769" stop-color="#3939ff"/><stop offset="0.808" stop-color="#6a6aff"/><stop offset="0.846" stop-color="#a8a8ff"/><stop offset="0.885" stop-color="#dfdfff"/><stop offset="0.923" stop-color="#fffbfb"/><stop offset="0.962" stop-color="#fff1f1"/><stop offset="1.000" stop-color="#fffdfd"/></linearGradient><linearGradient id="fr103" x1="0" x2="1" y1="0" y2="0"><stop offset="0.000" stop-color="#fffdfd"/><stop offset="0.038" stop-color="#fff2f2"/><stop offset="0.077" stop-color="#fffbfb"/><stop offset="0.115" stop-color="#e0e0ff"/><stop offset="0.154" stop-color="#aaaaff"/><stop offset="0.192" stop-color="#6c6cff"/><stop offset="0.231" stop-color="#3a3aff"/><stop offset="0.269" stop-color="#2626ff"/><stop offset="0.308" stop-color="#3838ff"/><stop offset="0.346" stop-color="#6a6aff"/><stop offset="0.385" stop-color="#a8a8ff"/><stop offset="0.423" stop-color="#dfdfff"/><stop offset="0.462" stop-color="#fffcfc"/><stop offset="0.500" stop-color="#fff2f2"/><stop offset="0.538" stop-color="#fffcfc"/><stop offset="0.577" stop-color="#dedeff"/><stop offset="0.615" stop-color="#a7a7ff"/><stop offset="0.654" stop-color="#6969ff"/><stop offset="0.692" stop-color="#3838ff"/><stop offset="0.731" stop-color="#2626ff"/><stop offset="0.769" stop-color="#3939ff"/><stop offset="0.808" stop-color="#6b6bff"/><stop offset="0.846" stop-color="#a9a9ff"/><stop offset="0.885" stop-color="#e0e0ff"/><stop offset="0.923" stop-color="#fffbfb"/><stop offset="0.962" stop-color="#fff2f2"/><stop offset="1.000" stop-color="#fffdfd"/></linearGradient><filter id="fb78" x="-5%" y="-5%" width="110%" height="110%"><feGaussianBlur stdDeviation="0.6 1.5"/></filter><clipPath id="cl4"><rect x="591.6" y="509.4" width="92.3" height="92.3"/></clipPath><linearGradient id="fr104" x1="0" x2="1" y1="0" y2="0"><stop offset="0.000" stop-color="#fffafa"/><stop offset="0.038" stop-color="#fff3f3"/><stop offset="0.077" stop-color="#fff9f9"/><stop offset="0.115" stop-color="#ededff"/><stop offset="0.154" stop-color="#bebeff"/><stop offset="0.192" stop-color="#8080ff"/><stop offset="0.231" stop-color="#4949ff"/><stop offset="0.269" stop-color="#3333ff"/><stop offset="0.308" stop-color="#4848ff"/><stop offset="0.346" stop-color="#7e7eff"/><stop offset="0.385" stop-color="#bcbcff"/><stop offset="0.423" stop-color="#ebebff"/><stop offset="0.462" stop-color="#fff9f9"/><stop offset="0.500" stop-color="#fff3f3"/><stop offset="0.538" stop-color="#fff9f9"/><stop offset="0.577" stop-color="#ebebff"/><stop offset="0.615" stop-color="#bcbcff"/><stop offset="0.654" stop-color="#7e7eff"/><stop offset="0.692" stop-color="#4848ff"/><stop offset="0.731" stop-color="#3333ff"/><stop offset="0.769" stop-color="#4949ff"/><stop offset="0.808" stop-color="#8080ff"/><stop offset="0.846" stop-color="#bebeff"/><stop offset="0.885" stop-color="#ededff"/><stop offset="0.923" stop-color="#fff9f9"/><stop offset="0.962" stop-color="#fff3f3"/><stop offset="1.000" stop-color="#fffafa"/></linearGradient><linearGradient id="fr105" x1="0" x2="1" y1="0" y2="0"><stop offset="0.000" stop-color="#fff9f9"/><stop offset="0.038" stop-color="#fff2f2"/><stop offset="0.077" stop-color="#fff8f8"/><stop offset="0.115" stop-color="#ededff"/><stop offset="0.154" stop-color="#bcbcff"/><stop offset="0.192" stop-color="#7d7dff"/><stop offset="0.231" stop-color="#4646ff"/><stop offset="0.269" stop-color="#2f2fff"/><stop offset="0.308" stop-color="#4444ff"/><stop offset="0.346" stop-color="#7b7bff"/><stop offset="0.385" stop-color="#babaff"/><stop offset="0.423" stop-color="#ebebff"/><stop offset="0.462" stop-color="#fff9f9"/><stop offset="0.500" stop-color="#fff2f2"/><stop offset="0.538" stop-color="#fff9f9"/><stop offset="0.577" stop-color="#ebebff"/><stop offset="0.615" stop-color="#babaff"/><stop offset="0.654" stop-color="#7b7bff"/><stop offset="0.692" stop-color="#4444ff"/><stop offset="0.731" stop-color="#2f2fff"/><stop offset="0.769" stop-color="#4646ff"/><stop offset="0.808" stop-color="#7d7dff"/><stop offset="0.846" stop-color="#bcbcff"/><stop offset="0.885" stop-color="#ededff"/><stop offset="0.923" stop-color="#fff8f8"/><stop offset="0.962" stop-color="#fff2f2"/><stop offset="1.000" stop-color="#fff9f9"/></linearGradient><linearGradient id="fr106" x1="0" x2="1" y1="0" y2="0"><stop offset="0.000" stop-color="#f5f5ff"/><stop offset="0.038" stop-color="#f4f4ff"/><stop offset="0.077" stop-color="#f5f5ff"/><stop offset="0.115" stop-color="#f0f0ff"/><stop offset="0.154" stop-color="#dcdcff"/><stop offset="0.192" stop-color="#b8b8ff"/><stop offset="0.231" stop-color="#9494ff"/><stop offset="0.269" stop-color="#8484ff"/><stop offset="0.308" stop-color="#9393ff"/><stop offset="0.346" stop-color="#b7b7ff"/><stop offset="0.385" stop-color="#dbdbff"/><stop offset="0.423" stop-color="#f0f0ff"/><stop offset="0.462" stop-color="#f5f5ff"/><stop offset="0.500" stop-color="#f4f4ff"/><stop offset="0.538" stop-color="#f5f5ff"/><stop offset="0.577" stop-color="#f0f0ff"/><stop offset="0.615" stop-color="#dbdbff"/><stop offset="0.654" stop-color="#b7b7ff"/><stop offset="0.692" stop-color="#9393ff"/><stop offset="0.731" stop-color="#8484ff"/><stop offset="0.769" stop-color="#9494ff"/><stop offset="0.808" stop-color="#b8b8ff"/><stop offset="0.846" stop-color="#dcdcff"/><stop offset="0.885" stop-color="#f0f0ff"/><stop offset="0.923" stop-color="#f5f5ff"/><stop offset="0.962" stop-color="#f4f4ff"/><stop offset="1.000" stop-color="#f5f5ff"/></linearGradient><linearGradient id="fr107" x1="0" x2="1" y1="0" y2="0"><stop offset="0.000" stop-color="#cfcfff"/><stop offset="0.038" stop-color="#c3c3ff"/><stop offset="0.077" stop-color="#cdcdff"/><stop offset="0.115" stop-color="#e4e4ff"/><stop offset="0.154" stop-color="#f4f4ff"/><stop offset="0.192" stop-color="#f4f4ff"/><stop offset="0.231" stop-color="#ececff"/><stop offset="0.269" stop-color="#e8e8ff"/><stop offset="0.308" stop-color="#ececff"/><stop offset="0.346" stop-color="#f4f4ff"/><stop offset="0.385" stop-color="#f4f4ff"/><stop offset="0.423" stop-color="#e4e4ff"/><stop offset="0.462" stop-color="#ceceff"/><stop offset="0.500" stop-color="#c3c3ff"/><stop offset="0.538" stop-color="#ceceff"/><stop offset="0.577" stop-color="#e4e4ff"/><stop offset="0.615" stop-color="#f4f4ff"/><stop offset="0.654" stop-color="#f4f4ff"/><stop offset="0.692" stop-color="#ebebff"/><stop offset="0.731" stop-color="#e6e6ff"/><stop offset="0.769" stop-color="#e9e9ff"/><stop offset="0.808" stop-color="#f3f3ff"/><stop offset="0.846" stop-color="#f4f4ff"/><stop offset="0.885" stop-color="#e4e4ff"/><stop offset="0.923" stop-color="#cdcdff"/><stop offset="0.962" stop-color="#c3c3ff"/><stop offset="1.000" stop-color="#cfcfff"/></linearGradient><linearGradient id="fr108" x1="0" x2="1" y1="0" y2="0"><stop offset="0.000" stop-color="#9696ff"/><stop offset="0.038" stop-color="#8686ff"/><stop offset="0.077" stop-color="#9494ff"/><stop offset="0.115" stop-color="#b7b7ff"/><stop offset="0.154" stop-color="#dbdbff"/><stop offset="0.192" stop-color="#f7f7ff"/><stop offset="0.231" stop-color="#ffeeee"/><stop offset="0.269" stop-color="#ffe0e0"/><stop offset="0.308" stop-color="#ffecec"/><stop offset="0.346" stop-color="#f9f9ff"/><stop offset="0.385" stop-color="#ddddff"/><stop offset="0.423" stop-color="#b9b9ff"/><stop offset="0.462" stop-color="#9595ff"/><stop offset="0.500" stop-color="#8686ff"/><stop offset="0.538" stop-color="#9595ff"/><stop offset="0.577" stop-color="#b9b9ff"/><stop offset="0.615" stop-color="#ddddff"/><stop offset="0.654" stop-color="#fbfbff"/><stop offset="0.692" stop-color="#ffecec"/><stop offset="0.731" stop-color="#ffe6e6"/><stop offset="0.769" stop-color="#fff7f7"/><stop offset="0.808" stop-color="#f1f1ff"/><stop offset="0.846" stop-color="#dadaff"/><stop offset="0.885" stop-color="#b7b7ff"/><stop offset="0.923" stop-color="#9494ff"/><stop offset="0.962" stop-color="#8686ff"/><stop offset="1.000" stop-color="#9696ff"/></linearGradient><linearGradient id="fr109" x1="0" x2="1" y1="0" y2="0"><stop offset="0.000" stop-color="#5a5aff"/><stop offset="0.038" stop-color="#4c4cff"/><stop offset="0.077" stop-color="#5858ff"/><stop offset="0.115" stop-color="#7777ff"/><stop offset="0.154" stop-color="#9696ff"/><stop offset="0.192" stop-color="#b7b7ff"/><stop offset="0.231" stop-color="#e7e7ff"/><stop offset="0.269" stop-color="#fff9f9"/><stop offset="0.308" stop-color="#ececff"/><stop offset="0.346" stop-color="#bbbbff"/><stop offset="0.385" stop-color="#9898ff"/><stop offset="0.423" stop-color="#7878ff"/><stop offset="0.462" stop-color="#5959ff"/><stop offset="0.500" stop-color="#4c4cff"/><stop offset="0.538" stop-color="#5959ff"/><stop offset="0.577" stop-color="#7878ff"/><stop offset="0.615" stop-color="#9999ff"/><stop offset="0.654" stop-color="#c1c1ff"/><stop offset="0.692" stop-color="#f5f5ff"/><stop offset="0.731" stop-color="#fffafa"/><stop offset="0.769" stop-color="#dadaff"/><stop offset="0.808" stop-color="#aeaeff"/><stop offset="0.846" stop-color="#9393ff"/><stop offset="0.885" stop-color="#7676ff"/><stop offset="0.923" stop-color="#5858ff"/><stop offset="0.962" stop-color="#4c4cff"/><stop offset="1.000" stop-color="#5a5aff"/></linearGradient><linearGradient id="fr110" x1="0" x2="1" y1="0" y2="0"><stop offset="0.000" stop-color="#3232ff"/><stop offset="0.038" stop-color="#2828ff"/><stop offset="0.077" stop-color="#3131ff"/><stop offset="0.115" stop-color="#4545ff"/><stop offset="0.154" stop-color="#5555ff"/><stop offset="0.192" stop-color="#5f5fff"/><stop offset="0.231" stop-color="#7070ff"/><stop offset="0.269" stop-color="#7d7dff"/><stop offset="0.308" stop-color="#7373ff"/><stop offset="0.346" stop-color="#6161ff"/><stop offset="0.385" stop-color="#5656ff"/><stop offset="0.423" stop-color="#4646ff"/><stop offset="0.462" stop-color="#3232ff"/><stop offset="0.500" stop-color="#2828ff"/><stop offset="0.538" stop-color="#3232ff"/><stop offset="0.577" stop-color="#4646ff"/><stop offset="0.615" stop-color="#5757ff"/><stop offset="0.654" stop-color="#6565ff"/><stop offset="0.692" stop-color="#7979ff"/><stop offset="0.731" stop-color="#7d7dff"/><stop offset="0.769" stop-color="#6a6aff"/><stop offset="0.808" stop-color="#5b5bff"/><stop offset="0.846" stop-color="#5353ff"/><stop offset="0.885" stop-color="#4545ff"/><stop offset="0.923" stop-color="#3131ff"/><stop offset="0.962" stop-color="#2828ff"/><stop offset="1.000" stop-color="#3232ff"/></linearGradient><linearGradient id="fr111" x1="0" x2="1" y1="0" y2="0"><stop offset="0.000" stop-color="#3131ff"/><stop offset="0.038" stop-color="#2828ff"/><stop offset="0.077" stop-color="#3030ff"/><stop offset="0.115" stop-color="#4444ff"/><stop offset="0.154" stop-color="#5353ff"/><stop offset="0.192" stop-color="#5959ff"/><stop offset="0.231" stop-color="#6161ff"/><stop offset="0.269" stop-color="#6868ff"/><stop offset="0.308" stop-color="#6363ff"/><stop offset="0.346" stop-color="#5a5aff"/><stop offset="0.385" stop-color="#5353ff"/><stop offset="0.423" stop-color="#4444ff"/><stop offset="0.462" stop-color="#3131ff"/><stop offset="0.500" stop-color="#2828ff"/><stop offset="0.538" stop-color="#3131ff"/><stop offset="0.577" stop-color="#4545ff"/><stop offset="0.615" stop-color="#5454ff"/><stop offset="0.654" stop-color="#5d5dff"/><stop offset="0.692" stop-color="#6767ff"/><stop offset="0.731" stop-color="#6868ff"/><stop offset="0.769" stop-color="#5c5cff"/><stop offset="0.808" stop-color="#5555ff"/><stop offset="0.846" stop-color="#5252ff"/><stop offset="0.885" stop-color="#4444ff"/><stop offset="0.923" stop-color="#3030ff"/><stop offset="0.962" stop-color="#2828ff"/><stop offset="1.000" stop-color="#3131ff"/></linearGradient><linearGradient id="fr112" x1="0" x2="1" y1="0" y2="0"><stop offset="0.000" stop-color="#5858ff"/><stop offset="0.038" stop-color="#4a4aff"/><stop offset="0.077" stop-color="#5656ff"/><stop offset="0.115" stop-color="#7474ff"/><stop offset="0.154" stop-color="#9393ff"/><stop offset="0.192" stop-color="#b2b2ff"/><stop offset="0.231" stop-color="#e0e0ff"/><stop offset="0.269" stop-color="#ffffff"/><stop offset="0.308" stop-color="#e6e6ff"/><stop offset="0.346" stop-color="#b7b7ff"/><stop offset="0.385" stop-color="#9595ff"/><stop offset="0.423" stop-color="#7575ff"/><stop offset="0.462" stop-color="#5757ff"/><stop offset="0.500" stop-color="#4a4aff"/><stop offset="0.538" stop-color="#5757ff"/><stop offset="0.577" stop-color="#7676ff"/><stop offset="0.615" stop-color="#9696ff"/><stop offset="0.654" stop-color="#bdbdff"/><stop offset="0.692" stop-color="#efefff"/><stop offset="0.731" stop-color="#fefeff"/><stop offset="0.769" stop-color="#d5d5ff"/><stop offset="0.808" stop-color="#aaaaff"/><stop offset="0.846" stop-color="#9090ff"/><stop offset="0.885" stop-color="#7474ff"/><stop offset="0.923" stop-color="#5656ff"/><stop offset="0.962" stop-color="#4a4aff"/><stop offset="1.000" stop-color="#5858ff"/></linearGradient><linearGradient id="fr113" x1="0" x2="1" y1="0" y2="0"><stop offset="0.000" stop-color="#9494ff"/><stop offset="0.038" stop-color="#8383ff"/><stop offset="0.077" stop-color="#9292ff"/><stop offset="0.115" stop-color="#b5b5ff"/><stop offset="0.154" stop-color="#dadaff"/><stop offset="0.192" stop-color="#fafaff"/><stop offset="0.231" stop-color="#ffe4e4"/><stop offset="0.269" stop-color="#ffd1d1"/><stop offset="0.308" stop-color="#ffe1e1"/><stop offset="0.346" stop-color="#fdfdff"/><stop offset="0.385" stop-color="#dcdcff"/><stop offset="0.423" stop-color="#b7b7ff"/><stop offset="0.462" stop-color="#9393ff"/><stop offset="0.500" stop-color="#8383ff"/><stop offset="0.538" stop-color="#9393ff"/><stop offset="0.577" stop-color="#b7b7ff"/><stop offset="0.615" stop-color="#dcdcff"/><stop offset="0.654" stop-color="#fffefe"/><stop offset="0.692" stop-color="#ffdfdf"/><stop offset="0.731" stop-color="#ffd6d6"/><stop offset="0.769" stop-color="#ffeeee"/><stop offset="0.808" stop-color="#f3f3ff"/><stop offset="0.846" stop-color="#d8d8ff"/><stop offset="0.885" stop-color="#b5b5ff"/><stop offset="0.923" stop-color="#9292ff"/><stop offset="0.962" stop-color="#8383ff"/><stop offset="1.000" stop-color="#9494ff"/></linearGradient><linearGradient id="fr114" x1="0" x2="1" y1="0" y2="0"><stop offset="0.000" stop-color="#cdcdff"/><stop offset="0.038" stop-color="#c1c1ff"/><stop offset="0.077" stop-color="#cbcbff"/><stop offset="0.115" stop-color="#e3e3ff"/><stop offset="0.154" stop-color="#f4f4ff"/><stop offset="0.192" stop-color="#f7f7ff"/><stop offset="0.231" stop-color="#f4f4ff"/><stop offset="0.269" stop-color="#f3f3ff"/><stop offset="0.308" stop-color="#f4f4ff"/><stop offset="0.346" stop-color="#f8f8ff"/><stop offset="0.385" stop-color="#f5f5ff"/><stop offset="0.423" stop-color="#e4e4ff"/><stop offset="0.462" stop-color="#ccccff"/><stop offset="0.500" stop-color="#c1c1ff"/><stop offset="0.538" stop-color="#ccccff"/><stop offset="0.577" stop-color="#e4e4ff"/><stop offset="0.615" stop-color="#f5f5ff"/><stop offset="0.654" stop-color="#f8f8ff"/><stop offset="0.692" stop-color="#f3f3ff"/><stop offset="0.731" stop-color="#efefff"/><stop offset="0.769" stop-color="#f0f0ff"/><stop offset="0.808" stop-color="#f5f5ff"/><stop offset="0.846" stop-color="#f4f4ff"/><stop offset="0.885" stop-color="#e3e3ff"/><stop offset="0.923" stop-color="#cbcbff"/><stop offset="0.962" stop-color="#c1c1ff"/><stop offset="1.000" stop-color="#cdcdff"/></linearGradient><linearGradient id="fr115" x1="0" x2="1" y1="0" y2="0"><stop offset="0.000" stop-color="#f4f4ff"/><stop offset="0.038" stop-color="#f3f3ff"/><stop offset="0.077" stop-color="#f4f4ff"/><stop offset="0.115" stop-color="#f0f0ff"/><stop offset="0.154" stop-color="#dedeff"/><stop offset="0.192" stop-color="#bbbbff"/><stop offset="0.231" stop-color="#9898ff"/><stop offset="0.269" stop-color="#8989ff"/><stop offset="0.308" stop-color="#9797ff"/><stop offset="0.346" stop-color="#babaff"/><stop offset="0.385" stop-color="#ddddff"/><stop offset="0.423" stop-color="#f0f0ff"/><stop offset="0.462" stop-color="#f4f4ff"/><stop offset="0.500" stop-color="#f3f3ff"/><stop offset="0.538" stop-color="#f4f4ff"/><stop offset="0.577" stop-color="#f0f0ff"/><stop offset="0.615" stop-color="#ddddff"/><stop offset="0.654" stop-color="#babaff"/><stop offset="0.692" stop-color="#9797ff"/><stop offset="0.731" stop-color="#8888ff"/><stop offset="0.769" stop-color="#9898ff"/><stop offset="0.808" stop-color="#bbbbff"/><stop offset="0.846" stop-color="#dedeff"/><stop offset="0.885" stop-color="#f0f0ff"/><stop offset="0.923" stop-color="#f4f4ff"/><stop offset="0.962" stop-color="#f3f3ff"/><stop offset="1.000" stop-color="#f4f4ff"/></linearGradient><linearGradient id="fr116" x1="0" x2="1" y1="0" y2="0"><stop offset="0.000" stop-color="#fffafa"/><stop offset="0.038" stop-color="#fff3f3"/><stop offset="0.077" stop-color="#fff9f9"/><stop offset="0.115" stop-color="#ededff"/><stop offset="0.154" stop-color="#bebeff"/><stop offset="0.192" stop-color="#8080ff"/><stop offset="0.231" stop-color="#4a4aff"/><stop offset="0.269" stop-color="#3333ff"/><stop offset="0.308" stop-color="#4848ff"/><stop offset="0.346" stop-color="#7e7eff"/><stop offset="0.385" stop-color="#bbbbff"/><stop offset="0.423" stop-color="#ececff"/><stop offset="0.462" stop-color="#fff9f9"/><stop offset="0.500" stop-color="#fff3f3"/><stop offset="0.538" stop-color="#fff9f9"/><stop offset="0.577" stop-color="#ebebff"/><stop offset="0.615" stop-color="#bbbbff"/><stop offset="0.654" stop-color="#7c7cff"/><stop offset="0.692" stop-color="#4646ff"/><stop offset="0.731" stop-color="#3131ff"/><stop offset="0.769" stop-color="#4747ff"/><stop offset="0.808" stop-color="#7e7eff"/><stop offset="0.846" stop-color="#bdbdff"/><stop offset="0.885" stop-color="#ededff"/><stop offset="0.923" stop-color="#fff9f9"/><stop offset="0.962" stop-color="#fff3f3"/><stop offset="1.000" stop-color="#fffafa"/></linearGradient><linearGradient id="fr117" x1="0" x2="1" y1="0" y2="0"><stop offset="0.000" stop-color="#fffafa"/><stop offset="0.038" stop-color="#fff3f3"/><stop offset="0.077" stop-color="#fff8f8"/><stop offset="0.115" stop-color="#eeeeff"/><stop offset="0.154" stop-color="#c1c1ff"/><stop offset="0.192" stop-color="#8686ff"/><stop offset="0.231" stop-color="#5353ff"/><stop offset="0.269" stop-color="#3e3eff"/><stop offset="0.308" stop-color="#5252ff"/><stop offset="0.346" stop-color="#8484ff"/><stop offset="0.385" stop-color="#bfbfff"/><stop offset="0.423" stop-color="#ededff"/><stop offset="0.462" stop-color="#fff9f9"/><stop offset="0.500" stop-color="#fff3f3"/><stop offset="0.538" stop-color="#fff9f9"/><stop offset="0.577" stop-color="#ebebff"/><stop offset="0.615" stop-color="#bbbbff"/><stop offset="0.654" stop-color="#7d7dff"/><stop offset="0.692" stop-color="#4747ff"/><stop offset="0.731" stop-color="#3232ff"/><stop offset="0.769" stop-color="#4848ff"/><stop offset="0.808" stop-color="#7f7fff"/><stop offset="0.846" stop-color="#bdbdff"/><stop offset="0.885" stop-color="#ededff"/><stop offset="0.923" stop-color="#fff9f9"/><stop offset="0.962" stop-color="#fff3f3"/><stop offset="1.000" stop-color="#fffafa"/></linearGradient><linearGradient id="fr118" x1="0" x2="1" y1="0" y2="0"><stop offset="0.000" stop-color="#f4f4ff"/><stop offset="0.038" stop-color="#f3f3ff"/><stop offset="0.077" stop-color="#f5f5ff"/><stop offset="0.115" stop-color="#f5f5ff"/><stop offset="0.154" stop-color="#eaeaff"/><stop offset="0.192" stop-color="#d5d5ff"/><stop offset="0.231" stop-color="#c0c0ff"/><stop offset="0.269" stop-color="#b6b6ff"/><stop offset="0.308" stop-color="#bfbfff"/><stop offset="0.346" stop-color="#d5d5ff"/><stop offset="0.385" stop-color="#eaeaff"/><stop offset="0.423" stop-color="#f5f5ff"/><stop offset="0.462" stop-color="#f5f5ff"/><stop offset="0.500" stop-color="#f3f3ff"/><stop offset="0.538" stop-color="#f4f4ff"/><stop offset="0.577" stop-color="#f0f0ff"/><stop offset="0.615" stop-color="#dedeff"/><stop offset="0.654" stop-color="#bebeff"/><stop offset="0.692" stop-color="#9f9fff"/><stop offset="0.731" stop-color="#9292ff"/><stop offset="0.769" stop-color="#9f9fff"/><stop offset="0.808" stop-color="#bfbfff"/><stop offset="0.846" stop-color="#dfdfff"/><stop offset="0.885" stop-color="#f0f0ff"/><stop offset="0.923" stop-color="#f4f4ff"/><stop offset="0.962" stop-color="#f3f3ff"/><stop offset="1.000" stop-color="#f4f4ff"/></linearGradient><linearGradient id="fr119" x1="0" x2="1" y1="0" y2="0"><stop offset="0.000" stop-color="#cdcdff"/><stop offset="0.038" stop-color="#c2c2ff"/><stop offset="0.077" stop-color="#ceceff"/><stop offset="0.115" stop-color="#ececff"/><stop offset="0.154" stop-color="#fff3f3"/><stop offset="0.192" stop-color="#ffdddd"/><stop offset="0.231" stop-color="#ffcfcf"/><stop offset="0.269" stop-color="#ffcaca"/><stop offset="0.308" stop-color="#ffcece"/><stop offset="0.346" stop-color="#ffdcdc"/><stop offset="0.385" stop-color="#fff1f1"/><stop offset="0.423" stop-color="#eeeeff"/><stop offset="0.462" stop-color="#cfcfff"/><stop offset="0.500" stop-color="#c2c2ff"/><stop offset="0.538" stop-color="#ccccff"/><stop offset="0.577" stop-color="#e5e5ff"/><stop offset="0.615" stop-color="#fbfbff"/><stop offset="0.654" stop-color="#fff7f7"/><stop offset="0.692" stop-color="#fff2f2"/><stop offset="0.731" stop-color="#fff1f1"/><stop offset="0.769" stop-color="#fff4f4"/><stop offset="0.808" stop-color="#fffafa"/><stop offset="0.846" stop-color="#f9f9ff"/><stop offset="0.885" stop-color="#e4e4ff"/><stop offset="0.923" stop-color="#ccccff"/><stop offset="0.962" stop-color="#c1c1ff"/><stop offset="1.000" stop-color="#cdcdff"/></linearGradient><linearGradient id="fr120" x1="0" x2="1" y1="0" y2="0"><stop offset="0.000" stop-color="#9494ff"/><stop offset="0.038" stop-color="#8484ff"/><stop offset="0.077" stop-color="#9595ff"/><stop offset="0.115" stop-color="#c1c1ff"/><stop offset="0.154" stop-color="#f7f7ff"/><stop offset="0.192" stop-color="#ffdddd"/><stop offset="0.231" stop-color="#ffc1c1"/><stop offset="0.269" stop-color="#ffb6b6"/><stop offset="0.308" stop-color="#ffc0c0"/><stop offset="0.346" stop-color="#ffdcdc"/><stop offset="0.385" stop-color="#f9f9ff"/><stop offset="0.423" stop-color="#c3c3ff"/><stop offset="0.462" stop-color="#9696ff"/><stop offset="0.500" stop-color="#8484ff"/><stop offset="0.538" stop-color="#9393ff"/><stop offset="0.577" stop-color="#babaff"/><stop offset="0.615" stop-color="#e8e8ff"/><stop offset="0.654" stop-color="#ffecec"/><stop offset="0.692" stop-color="#ffcbcb"/><stop offset="0.731" stop-color="#ffbfbf"/><stop offset="0.769" stop-color="#ffd1d1"/><stop offset="0.808" stop-color="#fff3f3"/><stop offset="0.846" stop-color="#e3e3ff"/><stop offset="0.885" stop-color="#b8b8ff"/><stop offset="0.923" stop-color="#9292ff"/><stop offset="0.962" stop-color="#8383ff"/><stop offset="1.000" stop-color="#9494ff"/></linearGradient><linearGradient id="fr121" x1="0" x2="1" y1="0" y2="0"><stop offset="0.000" stop-color="#5858ff"/><stop offset="0.038" stop-color="#4b4bff"/><stop offset="0.077" stop-color="#5959ff"/><stop offset="0.115" stop-color="#7d7dff"/><stop offset="0.154" stop-color="#a6a6ff"/><stop offset="0.192" stop-color="#c8c8ff"/><stop offset="0.231" stop-color="#dedeff"/><stop offset="0.269" stop-color="#e6e6ff"/><stop offset="0.308" stop-color="#dfdfff"/><stop offset="0.346" stop-color="#c9c9ff"/><stop offset="0.385" stop-color="#a8a8ff"/><stop offset="0.423" stop-color="#7f7fff"/><stop offset="0.462" stop-color="#5a5aff"/><stop offset="0.500" stop-color="#4b4bff"/><stop offset="0.538" stop-color="#5858ff"/><stop offset="0.577" stop-color="#7878ff"/><stop offset="0.615" stop-color="#9f9fff"/><stop offset="0.654" stop-color="#c6c6ff"/><stop offset="0.692" stop-color="#eaeaff"/><stop offset="0.731" stop-color="#f7f7ff"/><stop offset="0.769" stop-color="#e3e3ff"/><stop offset="0.808" stop-color="#bebeff"/><stop offset="0.846" stop-color="#9a9aff"/><stop offset="0.885" stop-color="#7676ff"/><stop offset="0.923" stop-color="#5757ff"/><stop offset="0.962" stop-color="#4a4aff"/><stop offset="1.000" stop-color="#5858ff"/></linearGradient><linearGradient id="fr122" x1="0" x2="1" y1="0" y2="0"><stop offset="0.000" stop-color="#3131ff"/><stop offset="0.038" stop-color="#2828ff"/><stop offset="0.077" stop-color="#3131ff"/><stop offset="0.115" stop-color="#4848ff"/><stop offset="0.154" stop-color="#5c5cff"/><stop offset="0.192" stop-color="#6464ff"/><stop offset="0.231" stop-color="#6363ff"/><stop offset="0.269" stop-color="#6262ff"/><stop offset="0.308" stop-color="#6363ff"/><stop offset="0.346" stop-color="#6464ff"/><stop offset="0.385" stop-color="#5c5cff"/><stop offset="0.423" stop-color="#4949ff"/><stop offset="0.462" stop-color="#3232ff"/><stop offset="0.500" stop-color="#2828ff"/><stop offset="0.538" stop-color="#3131ff"/><stop offset="0.577" stop-color="#4646ff"/><stop offset="0.615" stop-color="#5858ff"/><stop offset="0.654" stop-color="#6262ff"/><stop offset="0.692" stop-color="#6868ff"/><stop offset="0.731" stop-color="#6969ff"/><stop offset="0.769" stop-color="#6565ff"/><stop offset="0.808" stop-color="#5f5fff"/><stop offset="0.846" stop-color="#5656ff"/><stop offset="0.885" stop-color="#4545ff"/><stop offset="0.923" stop-color="#3030ff"/><stop offset="0.962" stop-color="#2828ff"/><stop offset="1.000" stop-color="#3131ff"/></linearGradient><linearGradient id="fr123" x1="0" x2="1" y1="0" y2="0"><stop offset="0.000" stop-color="#3232ff"/><stop offset="0.038" stop-color="#2929ff"/><stop offset="0.077" stop-color="#3232ff"/><stop offset="0.115" stop-color="#4a4aff"/><stop offset="0.154" stop-color="#6060ff"/><stop offset="0.192" stop-color="#6c6cff"/><stop offset="0.231" stop-color="#6f6fff"/><stop offset="0.269" stop-color="#6f6fff"/><stop offset="0.308" stop-color="#6f6fff"/><stop offset="0.346" stop-color="#6d6dff"/><stop offset="0.385" stop-color="#6161ff"/><stop offset="0.423" stop-color="#4b4bff"/><stop offset="0.462" stop-color="#3333ff"/><stop offset="0.500" stop-color="#2929ff"/><stop offset="0.538" stop-color="#3232ff"/><stop offset="0.577" stop-color="#4747ff"/><stop offset="0.615" stop-color="#5a5aff"/><stop offset="0.654" stop-color="#6767ff"/><stop offset="0.692" stop-color="#6f6fff"/><stop offset="0.731" stop-color="#7171ff"/><stop offset="0.769" stop-color="#6b6bff"/><stop offset="0.808" stop-color="#6363ff"/><stop offset="0.846" stop-color="#5858ff"/><stop offset="0.885" stop-color="#4646ff"/><stop offset="0.923" stop-color="#3131ff"/><stop offset="0.962" stop-color="#2828ff"/><stop offset="1.000" stop-color="#3232ff"/></linearGradient><linearGradient id="fr124" x1="0" x2="1" y1="0" y2="0"><stop offset="0.000" stop-color="#5a5aff"/><stop offset="0.038" stop-color="#4c4cff"/><stop offset="0.077" stop-color="#5b5bff"/><stop offset="0.115" stop-color="#8080ff"/><stop offset="0.154" stop-color="#acacff"/><stop offset="0.192" stop-color="#d2d2ff"/><stop offset="0.231" stop-color="#ebebff"/><stop offset="0.269" stop-color="#f5f5ff"/><stop offset="0.308" stop-color="#ececff"/><stop offset="0.346" stop-color="#d3d3ff"/><stop offset="0.385" stop-color="#aeaeff"/><stop offset="0.423" stop-color="#8282ff"/><stop offset="0.462" stop-color="#5c5cff"/><stop offset="0.500" stop-color="#4c4cff"/><stop offset="0.538" stop-color="#5a5aff"/><stop offset="0.577" stop-color="#7b7bff"/><stop offset="0.615" stop-color="#a2a2ff"/><stop offset="0.654" stop-color="#cbcbff"/><stop offset="0.692" stop-color="#f1f1ff"/><stop offset="0.731" stop-color="#ffffff"/><stop offset="0.769" stop-color="#e9e9ff"/><stop offset="0.808" stop-color="#c3c3ff"/><stop offset="0.846" stop-color="#9d9dff"/><stop offset="0.885" stop-color="#7979ff"/><stop offset="0.923" stop-color="#5959ff"/><stop offset="0.962" stop-color="#4c4cff"/><stop offset="1.000" stop-color="#5a5aff"/></linearGradient><linearGradient id="fr125" x1="0" x2="1" y1="0" y2="0"><stop offset="0.000" stop-color="#9696ff"/><stop offset="0.038" stop-color="#8686ff"/><stop offset="0.077" stop-color="#9797ff"/><stop offset="0.115" stop-color="#c3c3ff"/><stop offset="0.154" stop-color="#f9f9ff"/><stop offset="0.192" stop-color="#ffdcdc"/><stop offset="0.231" stop-color="#ffc0c0"/><stop offset="0.269" stop-color="#ffb5b5"/><stop offset="0.308" stop-color="#ffbfbf"/><stop offset="0.346" stop-color="#ffdbdb"/><stop offset="0.385" stop-color="#fbfbff"/><stop offset="0.423" stop-color="#c5c5ff"/><stop offset="0.462" stop-color="#9999ff"/><stop offset="0.500" stop-color="#8686ff"/><stop offset="0.538" stop-color="#9696ff"/><stop offset="0.577" stop-color="#bcbcff"/><stop offset="0.615" stop-color="#e9e9ff"/><stop offset="0.654" stop-color="#ffecec"/><stop offset="0.692" stop-color="#ffcccc"/><stop offset="0.731" stop-color="#ffc1c1"/><stop offset="0.769" stop-color="#ffd3d3"/><stop offset="0.808" stop-color="#fff3f3"/><stop offset="0.846" stop-color="#e4e4ff"/><stop offset="0.885" stop-color="#babaff"/><stop offset="0.923" stop-color="#9494ff"/><stop offset="0.962" stop-color="#8686ff"/><stop offset="1.000" stop-color="#9696ff"/></linearGradient><linearGradient id="fr126" x1="0" x2="1" y1="0" y2="0"><stop offset="0.000" stop-color="#cfcfff"/><stop offset="0.038" stop-color="#c4c4ff"/><stop offset="0.077" stop-color="#d0d0ff"/><stop offset="0.115" stop-color="#ececff"/><stop offset="0.154" stop-color="#fff5f5"/><stop offset="0.192" stop-color="#ffe3e3"/><stop offset="0.231" stop-color="#ffd9d9"/><stop offset="0.269" stop-color="#ffd6d6"/><stop offset="0.308" stop-color="#ffd9d9"/><stop offset="0.346" stop-color="#ffe3e3"/><stop offset="0.385" stop-color="#fff4f4"/><stop offset="0.423" stop-color="#ededff"/><stop offset="0.462" stop-color="#d1d1ff"/><stop offset="0.500" stop-color="#c4c4ff"/><stop offset="0.538" stop-color="#ceceff"/><stop offset="0.577" stop-color="#e6e6ff"/><stop offset="0.615" stop-color="#fafaff"/><stop offset="0.654" stop-color="#fffafa"/><stop offset="0.692" stop-color="#fff7f7"/><stop offset="0.731" stop-color="#fff7f7"/><stop offset="0.769" stop-color="#fff9f9"/><stop offset="0.808" stop-color="#fffdfd"/><stop offset="0.846" stop-color="#f9f9ff"/><stop offset="0.885" stop-color="#e5e5ff"/><stop offset="0.923" stop-color="#cdcdff"/><stop offset="0.962" stop-color="#c3c3ff"/><stop offset="1.000" stop-color="#cfcfff"/></linearGradient><linearGradient id="fr127" x1="0" x2="1" y1="0" y2="0"><stop offset="0.000" stop-color="#f5f5ff"/><stop offset="0.038" stop-color="#f5f5ff"/><stop offset="0.077" stop-color="#f6f6ff"/><stop offset="0.115" stop-color="#f4f4ff"/><stop offset="0.154" stop-color="#e6e6ff"/><stop offset="0.192" stop-color="#cdcdff"/><stop offset="0.231" stop-color="#b3b3ff"/><stop offset="0.269" stop-color="#a7a7ff"/><stop offset="0.308" stop-color="#b2b2ff"/><stop offset="0.346" stop-color="#ccccff"/><stop offset="0.385" stop-color="#e5e5ff"/><stop offset="0.423" stop-color="#f4f4ff"/><stop offset="0.462" stop-color="#f6f6ff"/><stop offset="0.500" stop-color="#f5f5ff"/><stop offset="0.538" stop-color="#f5f5ff"/><stop offset="0.577" stop-color="#f0f0ff"/><stop offset="0.615" stop-color="#dcdcff"/><stop offset="0.654" stop-color="#bbbbff"/><stop offset="0.692" stop-color="#9a9aff"/><stop offset="0.731" stop-color="#8c8cff"/><stop offset="0.769" stop-color="#9a9aff"/><stop offset="0.808" stop-color="#bbbbff"/><stop offset="0.846" stop-color="#ddddff"/><stop offset="0.885" stop-color="#f0f0ff"/><stop offset="0.923" stop-color="#f5f5ff"/><stop offset="0.962" stop-color="#f4f4ff"/><stop offset="1.000" stop-color="#f5f5ff"/></linearGradient><linearGradient id="fr128" x1="0" x2="1" y1="0" y2="0"><stop offset="0.000" stop-color="#fff9f9"/><stop offset="0.038" stop-color="#fff2f2"/><stop offset="0.077" stop-color="#fff8f8"/><stop offset="0.115" stop-color="#eeeeff"/><stop offset="0.154" stop-color="#bfbfff"/><stop offset="0.192" stop-color="#8282ff"/><stop offset="0.231" stop-color="#4e4eff"/><stop offset="0.269" stop-color="#3838ff"/><stop offset="0.308" stop-color="#4c4cff"/><stop offset="0.346" stop-color="#8080ff"/><stop offset="0.385" stop-color="#bdbdff"/><stop offset="0.423" stop-color="#ececff"/><stop offset="0.462" stop-color="#fff9f9"/><stop offset="0.500" stop-color="#fff2f2"/><stop offset="0.538" stop-color="#fff9f9"/><stop offset="0.577" stop-color="#ebebff"/><stop offset="0.615" stop-color="#babaff"/><stop offset="0.654" stop-color="#7b7bff"/><stop offset="0.692" stop-color="#4545ff"/><stop offset="0.731" stop-color="#2f2fff"/><stop offset="0.769" stop-color="#4646ff"/><stop offset="0.808" stop-color="#7d7dff"/><stop offset="0.846" stop-color="#bcbcff"/><stop offset="0.885" stop-color="#ededff"/><stop offset="0.923" stop-color="#fff8f8"/><stop offset="0.962" stop-color="#fff2f2"/><stop offset="1.000" stop-color="#fff9f9"/></linearGradient><linearGradient id="fr129" x1="0" x2="1" y1="0" y2="0"><stop offset="0.000" stop-color="#fffafa"/><stop offset="0.038" stop-color="#fff3f3"/><stop offset="0.077" stop-color="#fff9f9"/><stop offset="0.115" stop-color="#ededff"/><stop offset="0.154" stop-color="#bebeff"/><stop offset="0.192" stop-color="#8181ff"/><stop offset="0.231" stop-color="#4a4aff"/><stop offset="0.269" stop-color="#3434ff"/><stop offset="0.308" stop-color="#4949ff"/><stop offset="0.346" stop-color="#7e7eff"/><stop offset="0.385" stop-color="#bcbcff"/><stop offset="0.423" stop-color="#ececff"/><stop offset="0.462" stop-color="#fff9f9"/><stop offset="0.500" stop-color="#fff3f3"/><stop offset="0.538" stop-color="#fff9f9"/><stop offset="0.577" stop-color="#ebebff"/><stop offset="0.615" stop-color="#bcbcff"/><stop offset="0.654" stop-color="#7e7eff"/><stop offset="0.692" stop-color="#4848ff"/><stop offset="0.731" stop-color="#3333ff"/><stop offset="0.769" stop-color="#4949ff"/><stop offset="0.808" stop-color="#8080ff"/><stop offset="0.846" stop-color="#bebeff"/><stop offset="0.885" stop-color="#ededff"/><stop offset="0.923" stop-color="#fff9f9"/><stop offset="0.962" stop-color="#fff3f3"/><stop offset="1.000" stop-color="#fffafa"/></linearGradient><filter id="fb104" x="-5%" y="-5%" width="110%" height="110%"><feGaussianBlur stdDeviation="0.6 1.5"/></filter><clipPath id="cl5"><rect x="591.2" y="610.6" width="92.1" height="92.3"/></clipPath><linearGradient id="fr130" x1="0" x2="1" y1="0" y2="0"><stop offset="0.000" stop-color="#fffdfd"/><stop offset="0.038" stop-color="#fff2f2"/><stop offset="0.077" stop-color="#fffbfb"/><stop offset="0.115" stop-color="#e0e0ff"/><stop offset="0.154" stop-color="#a9a9ff"/><stop offset="0.192" stop-color="#6c6cff"/><stop offset="0.231" stop-color="#3a3aff"/><stop offset="0.269" stop-color="#2626ff"/><stop offset="0.308" stop-color="#3838ff"/><stop offset="0.346" stop-color="#6969ff"/><stop offset="0.385" stop-color="#a7a7ff"/><stop offset="0.423" stop-color="#dedeff"/><stop offset="0.462" stop-color="#fffcfc"/><stop offset="0.500" stop-color="#fff2f2"/><stop offset="0.538" stop-color="#fffcfc"/><stop offset="0.577" stop-color="#dedeff"/><stop offset="0.615" stop-color="#a7a7ff"/><stop offset="0.654" stop-color="#6969ff"/><stop offset="0.692" stop-color="#3838ff"/><stop offset="0.731" stop-color="#2626ff"/><stop offset="0.769" stop-color="#3a3aff"/><stop offset="0.808" stop-color="#6c6cff"/><stop offset="0.846" stop-color="#a9a9ff"/><stop offset="0.885" stop-color="#e0e0ff"/><stop offset="0.923" stop-color="#fffbfb"/><stop offset="0.962" stop-color="#fff2f2"/><stop offset="1.000" stop-color="#fffdfd"/></linearGradient><linearGradient id="fr131" x1="0" x2="1" y1="0" y2="0"><stop offset="0.000" stop-color="#fffdfd"/><stop offset="0.038" stop-color="#fff1f1"/><stop offset="0.077" stop-color="#fffbfb"/><stop offset="0.115" stop-color="#e0e0ff"/><stop offset="0.154" stop-color="#a8a8ff"/><stop offset="0.192" stop-color="#6a6aff"/><stop offset="0.231" stop-color="#3939ff"/><stop offset="0.269" stop-color="#2525ff"/><stop offset="0.308" stop-color="#3737ff"/><stop offset="0.346" stop-color="#6868ff"/><stop offset="0.385" stop-color="#a6a6ff"/><stop offset="0.423" stop-color="#dedeff"/><stop offset="0.462" stop-color="#fffcfc"/><stop offset="0.500" stop-color="#fff1f1"/><stop offset="0.538" stop-color="#fffcfc"/><stop offset="0.577" stop-color="#dedeff"/><stop offset="0.615" stop-color="#a6a6ff"/><stop offset="0.654" stop-color="#6868ff"/><stop offset="0.692" stop-color="#3737ff"/><stop offset="0.731" stop-color="#2525ff"/><stop offset="0.769" stop-color="#3939ff"/><stop offset="0.808" stop-color="#6a6aff"/><stop offset="0.846" stop-color="#a8a8ff"/><stop offset="0.885" stop-color="#e0e0ff"/><stop offset="0.923" stop-color="#fffbfb"/><stop offset="0.962" stop-color="#fff1f1"/><stop offset="1.000" stop-color="#fffdfd"/></linearGradient><linearGradient id="fr132" x1="0" x2="1" y1="0" y2="0"><stop offset="0.000" stop-color="#f9f9ff"/><stop offset="0.038" stop-color="#fdfdff"/><stop offset="0.077" stop-color="#fafaff"/><stop offset="0.115" stop-color="#e9e9ff"/><stop offset="0.154" stop-color="#c1c1ff"/><stop offset="0.192" stop-color="#8585ff"/><stop offset="0.231" stop-color="#4c4cff"/><stop offset="0.269" stop-color="#3434ff"/><stop offset="0.308" stop-color="#4a4aff"/><stop offset="0.346" stop-color="#8383ff"/><stop offset="0.385" stop-color="#bfbfff"/><stop offset="0.423" stop-color="#e8e8ff"/><stop offset="0.462" stop-color="#f9f9ff"/><stop offset="0.500" stop-color="#fdfdff"/><stop offset="0.538" stop-color="#f9f9ff"/><stop offset="0.577" stop-color="#e8e8ff"/><stop offset="0.615" stop-color="#bfbfff"/><stop offset="0.654" stop-color="#8383ff"/><stop offset="0.692" stop-color="#4b4bff"/><stop offset="0.731" stop-color="#3434ff"/><stop offset="0.769" stop-color="#4c4cff"/><stop offset="0.808" stop-color="#8585ff"/><stop offset="0.846" stop-color="#c1c1ff"/><stop offset="0.885" stop-color="#e9e9ff"/><stop offset="0.923" stop-color="#fafaff"/><stop offset="0.962" stop-color="#fdfdff"/><stop offset="1.000" stop-color="#f9f9ff"/></linearGradient><linearGradient id="fr133" x1="0" x2="1" y1="0" y2="0"><stop offset="0.000" stop-color="#e0e0ff"/><stop offset="0.038" stop-color="#d4d4ff"/><stop offset="0.077" stop-color="#dfdfff"/><stop offset="0.115" stop-color="#efefff"/><stop offset="0.154" stop-color="#e1e1ff"/><stop offset="0.192" stop-color="#aaaaff"/><stop offset="0.231" stop-color="#6565ff"/><stop offset="0.269" stop-color="#4545ff"/><stop offset="0.308" stop-color="#6363ff"/><stop offset="0.346" stop-color="#a7a7ff"/><stop offset="0.385" stop-color="#e0e0ff"/><stop offset="0.423" stop-color="#efefff"/><stop offset="0.462" stop-color="#e0e0ff"/><stop offset="0.500" stop-color="#d4d4ff"/><stop offset="0.538" stop-color="#e0e0ff"/><stop offset="0.577" stop-color="#efefff"/><stop offset="0.615" stop-color="#e0e0ff"/><stop offset="0.654" stop-color="#a8a8ff"/><stop offset="0.692" stop-color="#6363ff"/><stop offset="0.731" stop-color="#4545ff"/><stop offset="0.769" stop-color="#6666ff"/><stop offset="0.808" stop-color="#ababff"/><stop offset="0.846" stop-color="#e2e2ff"/><stop offset="0.885" stop-color="#efefff"/><stop offset="0.923" stop-color="#dfdfff"/><stop offset="0.962" stop-color="#d4d4ff"/><stop offset="1.000" stop-color="#e0e0ff"/></linearGradient><linearGradient id="fr134" x1="0" x2="1" y1="0" y2="0"><stop offset="0.000" stop-color="#b5b5ff"/><stop offset="0.038" stop-color="#9797ff"/><stop offset="0.077" stop-color="#b1b1ff"/><stop offset="0.115" stop-color="#e5e5ff"/><stop offset="0.154" stop-color="#f7f7ff"/><stop offset="0.192" stop-color="#cacaff"/><stop offset="0.231" stop-color="#7979ff"/><stop offset="0.269" stop-color="#4a4aff"/><stop offset="0.308" stop-color="#7575ff"/><stop offset="0.346" stop-color="#c8c8ff"/><stop offset="0.385" stop-color="#f7f7ff"/><stop offset="0.423" stop-color="#e7e7ff"/><stop offset="0.462" stop-color="#b3b3ff"/><stop offset="0.500" stop-color="#9797ff"/><stop offset="0.538" stop-color="#b3b3ff"/><stop offset="0.577" stop-color="#e7e7ff"/><stop offset="0.615" stop-color="#f9f9ff"/><stop offset="0.654" stop-color="#ccccff"/><stop offset="0.692" stop-color="#7777ff"/><stop offset="0.731" stop-color="#4b4bff"/><stop offset="0.769" stop-color="#7c7cff"/><stop offset="0.808" stop-color="#cdcdff"/><stop offset="0.846" stop-color="#f8f8ff"/><stop offset="0.885" stop-color="#e5e5ff"/><stop offset="0.923" stop-color="#b1b1ff"/><stop offset="0.962" stop-color="#9797ff"/><stop offset="1.000" stop-color="#b5b5ff"/></linearGradient><linearGradient id="fr135" x1="0" x2="1" y1="0" y2="0"><stop offset="0.000" stop-color="#8282ff"/><stop offset="0.038" stop-color="#5555ff"/><stop offset="0.077" stop-color="#7c7cff"/><stop offset="0.115" stop-color="#ceceff"/><stop offset="0.154" stop-color="#fffefe"/><stop offset="0.192" stop-color="#efefff"/><stop offset="0.231" stop-color="#9494ff"/><stop offset="0.269" stop-color="#4848ff"/><stop offset="0.308" stop-color="#8c8cff"/><stop offset="0.346" stop-color="#f0f0ff"/><stop offset="0.385" stop-color="#fffafa"/><stop offset="0.423" stop-color="#d2d2ff"/><stop offset="0.462" stop-color="#7f7fff"/><stop offset="0.500" stop-color="#5555ff"/><stop offset="0.538" stop-color="#7f7fff"/><stop offset="0.577" stop-color="#d4d4ff"/><stop offset="0.615" stop-color="#fff4f4"/><stop offset="0.654" stop-color="#f7f7ff"/><stop offset="0.692" stop-color="#8e8eff"/><stop offset="0.731" stop-color="#4b4bff"/><stop offset="0.769" stop-color="#9a9aff"/><stop offset="0.808" stop-color="#f4f4ff"/><stop offset="0.846" stop-color="#fffbfb"/><stop offset="0.885" stop-color="#cfcfff"/><stop offset="0.923" stop-color="#7c7cff"/><stop offset="0.962" stop-color="#5555ff"/><stop offset="1.000" stop-color="#8282ff"/></linearGradient><linearGradient id="fr136" x1="0" x2="1" y1="0" y2="0"><stop offset="0.000" stop-color="#5e5eff"/><stop offset="0.038" stop-color="#2a2aff"/><stop offset="0.077" stop-color="#5757ff"/><stop offset="0.115" stop-color="#bcbcff"/><stop offset="0.154" stop-color="#fff7f7"/><stop offset="0.192" stop-color="#ffe8e8"/><stop offset="0.231" stop-color="#bbbbff"/><stop offset="0.269" stop-color="#4949ff"/><stop offset="0.308" stop-color="#adadff"/><stop offset="0.346" stop-color="#ffe3e3"/><stop offset="0.385" stop-color="#ffefef"/><stop offset="0.423" stop-color="#c1c1ff"/><stop offset="0.462" stop-color="#5b5bff"/><stop offset="0.500" stop-color="#2a2aff"/><stop offset="0.538" stop-color="#5b5bff"/><stop offset="0.577" stop-color="#c3c3ff"/><stop offset="0.615" stop-color="#ffe7e7"/><stop offset="0.654" stop-color="#ffdede"/><stop offset="0.692" stop-color="#aaaaff"/><stop offset="0.731" stop-color="#4d4dff"/><stop offset="0.769" stop-color="#bfbfff"/><stop offset="0.808" stop-color="#ffe5e5"/><stop offset="0.846" stop-color="#fff5f5"/><stop offset="0.885" stop-color="#bcbcff"/><stop offset="0.923" stop-color="#5757ff"/><stop offset="0.962" stop-color="#2a2aff"/><stop offset="1.000" stop-color="#5e5eff"/></linearGradient><linearGradient id="fr137" x1="0" x2="1" y1="0" y2="0"><stop offset="0.000" stop-color="#5d5dff"/><stop offset="0.038" stop-color="#2929ff"/><stop offset="0.077" stop-color="#5757ff"/><stop offset="0.115" stop-color="#bbbbff"/><stop offset="0.154" stop-color="#fff6f6"/><stop offset="0.192" stop-color="#ffe2e2"/><stop offset="0.231" stop-color="#c2c2ff"/><stop offset="0.269" stop-color="#4b4bff"/><stop offset="0.308" stop-color="#b2b2ff"/><stop offset="0.346" stop-color="#ffdede"/><stop offset="0.385" stop-color="#ffeded"/><stop offset="0.423" stop-color="#c1c1ff"/><stop offset="0.462" stop-color="#5a5aff"/><stop offset="0.500" stop-color="#2929ff"/><stop offset="0.538" stop-color="#5a5aff"/><stop offset="0.577" stop-color="#c3c3ff"/><stop offset="0.615" stop-color="#ffe6e6"/><stop offset="0.654" stop-color="#ffdbdb"/><stop offset="0.692" stop-color="#acacff"/><stop offset="0.731" stop-color="#4d4dff"/><stop offset="0.769" stop-color="#c1c1ff"/><stop offset="0.808" stop-color="#ffe3e3"/><stop offset="0.846" stop-color="#fff4f4"/><stop offset="0.885" stop-color="#bcbcff"/><stop offset="0.923" stop-color="#5757ff"/><stop offset="0.962" stop-color="#2929ff"/><stop offset="1.000" stop-color="#5d5dff"/></linearGradient><linearGradient id="fr138" x1="0" x2="1" y1="0" y2="0"><stop offset="0.000" stop-color="#8080ff"/><stop offset="0.038" stop-color="#5353ff"/><stop offset="0.077" stop-color="#7a7aff"/><stop offset="0.115" stop-color="#ceceff"/><stop offset="0.154" stop-color="#fffbfb"/><stop offset="0.192" stop-color="#f9f9ff"/><stop offset="0.231" stop-color="#9e9eff"/><stop offset="0.269" stop-color="#4a4aff"/><stop offset="0.308" stop-color="#9494ff"/><stop offset="0.346" stop-color="#fbfbff"/><stop offset="0.385" stop-color="#fff7f7"/><stop offset="0.423" stop-color="#d2d2ff"/><stop offset="0.462" stop-color="#7d7dff"/><stop offset="0.500" stop-color="#5353ff"/><stop offset="0.538" stop-color="#7d7dff"/><stop offset="0.577" stop-color="#d3d3ff"/><stop offset="0.615" stop-color="#fff3f3"/><stop offset="0.654" stop-color="#fcfcff"/><stop offset="0.692" stop-color="#9191ff"/><stop offset="0.731" stop-color="#4c4cff"/><stop offset="0.769" stop-color="#9e9eff"/><stop offset="0.808" stop-color="#f9f9ff"/><stop offset="0.846" stop-color="#fffafa"/><stop offset="0.885" stop-color="#ceceff"/><stop offset="0.923" stop-color="#7a7aff"/><stop offset="0.962" stop-color="#5353ff"/><stop offset="1.000" stop-color="#8080ff"/></linearGradient><linearGradient id="fr139" x1="0" x2="1" y1="0" y2="0"><stop offset="0.000" stop-color="#b3b3ff"/><stop offset="0.038" stop-color="#9494ff"/><stop offset="0.077" stop-color="#afafff"/><stop offset="0.115" stop-color="#e5e5ff"/><stop offset="0.154" stop-color="#f8f8ff"/><stop offset="0.192" stop-color="#cfcfff"/><stop offset="0.231" stop-color="#7d7dff"/><stop offset="0.269" stop-color="#4b4bff"/><stop offset="0.308" stop-color="#7979ff"/><stop offset="0.346" stop-color="#cdcdff"/><stop offset="0.385" stop-color="#f9f9ff"/><stop offset="0.423" stop-color="#e7e7ff"/><stop offset="0.462" stop-color="#b1b1ff"/><stop offset="0.500" stop-color="#9494ff"/><stop offset="0.538" stop-color="#b1b1ff"/><stop offset="0.577" stop-color="#e7e7ff"/><stop offset="0.615" stop-color="#fbfbff"/><stop offset="0.654" stop-color="#cfcfff"/><stop offset="0.692" stop-color="#7979ff"/><stop offset="0.731" stop-color="#4c4cff"/><stop offset="0.769" stop-color="#7e7eff"/><stop offset="0.808" stop-color="#d0d0ff"/><stop offset="0.846" stop-color="#f9f9ff"/><stop offset="0.885" stop-color="#e5e5ff"/><stop offset="0.923" stop-color="#afafff"/><stop offset="0.962" stop-color="#9494ff"/><stop offset="1.000" stop-color="#b3b3ff"/></linearGradient><linearGradient id="fr140" x1="0" x2="1" y1="0" y2="0"><stop offset="0.000" stop-color="#dfdfff"/><stop offset="0.038" stop-color="#d2d2ff"/><stop offset="0.077" stop-color="#ddddff"/><stop offset="0.115" stop-color="#efefff"/><stop offset="0.154" stop-color="#e3e3ff"/><stop offset="0.192" stop-color="#acacff"/><stop offset="0.231" stop-color="#6767ff"/><stop offset="0.269" stop-color="#4545ff"/><stop offset="0.308" stop-color="#6464ff"/><stop offset="0.346" stop-color="#a9a9ff"/><stop offset="0.385" stop-color="#e1e1ff"/><stop offset="0.423" stop-color="#efefff"/><stop offset="0.462" stop-color="#dedeff"/><stop offset="0.500" stop-color="#d2d2ff"/><stop offset="0.538" stop-color="#dedeff"/><stop offset="0.577" stop-color="#efefff"/><stop offset="0.615" stop-color="#e2e2ff"/><stop offset="0.654" stop-color="#aaaaff"/><stop offset="0.692" stop-color="#6464ff"/><stop offset="0.731" stop-color="#4545ff"/><stop offset="0.769" stop-color="#6767ff"/><stop offset="0.808" stop-color="#acacff"/><stop offset="0.846" stop-color="#e3e3ff"/><stop offset="0.885" stop-color="#efefff"/><stop offset="0.923" stop-color="#ddddff"/><stop offset="0.962" stop-color="#d2d2ff"/><stop offset="1.000" stop-color="#dfdfff"/></linearGradient><linearGradient id="fr141" x1="0" x2="1" y1="0" y2="0"><stop offset="0.000" stop-color="#f8f8ff"/><stop offset="0.038" stop-color="#fcfcff"/><stop offset="0.077" stop-color="#f9f9ff"/><stop offset="0.115" stop-color="#e9e9ff"/><stop offset="0.154" stop-color="#c2c2ff"/><stop offset="0.192" stop-color="#8787ff"/><stop offset="0.231" stop-color="#4d4dff"/><stop offset="0.269" stop-color="#3535ff"/><stop offset="0.308" stop-color="#4b4bff"/><stop offset="0.346" stop-color="#8484ff"/><stop offset="0.385" stop-color="#c0c0ff"/><stop offset="0.423" stop-color="#e8e8ff"/><stop offset="0.462" stop-color="#f9f9ff"/><stop offset="0.500" stop-color="#fcfcff"/><stop offset="0.538" stop-color="#f9f9ff"/><stop offset="0.577" stop-color="#e8e8ff"/><stop offset="0.615" stop-color="#c0c0ff"/><stop offset="0.654" stop-color="#8484ff"/><stop offset="0.692" stop-color="#4b4bff"/><stop offset="0.731" stop-color="#3535ff"/><stop offset="0.769" stop-color="#4d4dff"/><stop offset="0.808" stop-color="#8787ff"/><stop offset="0.846" stop-color="#c2c2ff"/><stop offset="0.885" stop-color="#e9e9ff"/><stop offset="0.923" stop-color="#f9f9ff"/><stop offset="0.962" stop-color="#fcfcff"/><stop offset="1.000" stop-color="#f8f8ff"/></linearGradient><linearGradient id="fr142" x1="0" x2="1" y1="0" y2="0"><stop offset="0.000" stop-color="#fffdfd"/><stop offset="0.038" stop-color="#fff2f2"/><stop offset="0.077" stop-color="#fffbfb"/><stop offset="0.115" stop-color="#e0e0ff"/><stop offset="0.154" stop-color="#a9a9ff"/><stop offset="0.192" stop-color="#6b6bff"/><stop offset="0.231" stop-color="#3939ff"/><stop offset="0.269" stop-color="#2626ff"/><stop offset="0.308" stop-color="#3838ff"/><stop offset="0.346" stop-color="#6969ff"/><stop offset="0.385" stop-color="#a7a7ff"/><stop offset="0.423" stop-color="#dedeff"/><stop offset="0.462" stop-color="#fffcfc"/><stop offset="0.500" stop-color="#fff2f2"/><stop offset="0.538" stop-color="#fffcfc"/><stop offset="0.577" stop-color="#dedeff"/><stop offset="0.615" stop-color="#a7a7ff"/><stop offset="0.654" stop-color="#6969ff"/><stop offset="0.692" stop-color="#3838ff"/><stop offset="0.731" stop-color="#2525ff"/><stop offset="0.769" stop-color="#3939ff"/><stop offset="0.808" stop-color="#6b6bff"/><stop offset="0.846" stop-color="#a9a9ff"/><stop offset="0.885" stop-color="#e0e0ff"/><stop offset="0.923" stop-color="#fffbfb"/><stop offset="0.962" stop-color="#fff2f2"/><stop offset="1.000" stop-color="#fffdfd"/></linearGradient><linearGradient id="fr143" x1="0" x2="1" y1="0" y2="0"><stop offset="0.000" stop-color="#fffdfd"/><stop offset="0.038" stop-color="#fff2f2"/><stop offset="0.077" stop-color="#fffbfb"/><stop offset="0.115" stop-color="#e1e1ff"/><stop offset="0.154" stop-color="#ababff"/><stop offset="0.192" stop-color="#6d6dff"/><stop offset="0.231" stop-color="#3a3aff"/><stop offset="0.269" stop-color="#2626ff"/><stop offset="0.308" stop-color="#3939ff"/><stop offset="0.346" stop-color="#6b6bff"/><stop offset="0.385" stop-color="#a8a8ff"/><stop offset="0.423" stop-color="#dfdfff"/><stop offset="0.462" stop-color="#fffcfc"/><stop offset="0.500" stop-color="#fff2f2"/><stop offset="0.538" stop-color="#fffcfc"/><stop offset="0.577" stop-color="#dedeff"/><stop offset="0.615" stop-color="#a7a7ff"/><stop offset="0.654" stop-color="#6969ff"/><stop offset="0.692" stop-color="#3838ff"/><stop offset="0.731" stop-color="#2626ff"/><stop offset="0.769" stop-color="#3939ff"/><stop offset="0.808" stop-color="#6b6bff"/><stop offset="0.846" stop-color="#a9a9ff"/><stop offset="0.885" stop-color="#e0e0ff"/><stop offset="0.923" stop-color="#fffbfb"/><stop offset="0.962" stop-color="#fff2f2"/><stop offset="1.000" stop-color="#fffdfd"/></linearGradient><linearGradient id="fr144" x1="0" x2="1" y1="0" y2="0"><stop offset="0.000" stop-color="#f8f8ff"/><stop offset="0.038" stop-color="#fcfcff"/><stop offset="0.077" stop-color="#fafaff"/><stop offset="0.115" stop-color="#ededff"/><stop offset="0.154" stop-color="#cacaff"/><stop offset="0.192" stop-color="#8e8eff"/><stop offset="0.231" stop-color="#5252ff"/><stop offset="0.269" stop-color="#3737ff"/><stop offset="0.308" stop-color="#5050ff"/><stop offset="0.346" stop-color="#8b8bff"/><stop offset="0.385" stop-color="#c8c8ff"/><stop offset="0.423" stop-color="#ededff"/><stop offset="0.462" stop-color="#fafaff"/><stop offset="0.500" stop-color="#fcfcff"/><stop offset="0.538" stop-color="#f9f9ff"/><stop offset="0.577" stop-color="#e9e9ff"/><stop offset="0.615" stop-color="#c1c1ff"/><stop offset="0.654" stop-color="#8585ff"/><stop offset="0.692" stop-color="#4c4cff"/><stop offset="0.731" stop-color="#3535ff"/><stop offset="0.769" stop-color="#4e4eff"/><stop offset="0.808" stop-color="#8888ff"/><stop offset="0.846" stop-color="#c3c3ff"/><stop offset="0.885" stop-color="#eaeaff"/><stop offset="0.923" stop-color="#f9f9ff"/><stop offset="0.962" stop-color="#fcfcff"/><stop offset="1.000" stop-color="#f8f8ff"/></linearGradient><linearGradient id="fr145" x1="0" x2="1" y1="0" y2="0"><stop offset="0.000" stop-color="#dfdfff"/><stop offset="0.038" stop-color="#d3d3ff"/><stop offset="0.077" stop-color="#e2e2ff"/><stop offset="0.115" stop-color="#fbfbff"/><stop offset="0.154" stop-color="#f8f8ff"/><stop offset="0.192" stop-color="#c1c1ff"/><stop offset="0.231" stop-color="#7474ff"/><stop offset="0.269" stop-color="#4a4aff"/><stop offset="0.308" stop-color="#7070ff"/><stop offset="0.346" stop-color="#bebeff"/><stop offset="0.385" stop-color="#f7f7ff"/><stop offset="0.423" stop-color="#fdfdff"/><stop offset="0.462" stop-color="#e3e3ff"/><stop offset="0.500" stop-color="#d3d3ff"/><stop offset="0.538" stop-color="#dfdfff"/><stop offset="0.577" stop-color="#f1f1ff"/><stop offset="0.615" stop-color="#e7e7ff"/><stop offset="0.654" stop-color="#b0b0ff"/><stop offset="0.692" stop-color="#6868ff"/><stop offset="0.731" stop-color="#4747ff"/><stop offset="0.769" stop-color="#6b6bff"/><stop offset="0.808" stop-color="#b3b3ff"/><stop offset="0.846" stop-color="#e7e7ff"/><stop offset="0.885" stop-color="#f0f0ff"/><stop offset="0.923" stop-color="#dedeff"/><stop offset="0.962" stop-color="#d2d2ff"/><stop offset="1.000" stop-color="#dfdfff"/></linearGradient><linearGradient id="fr146" x1="0" x2="1" y1="0" y2="0"><stop offset="0.000" stop-color="#b3b3ff"/><stop offset="0.038" stop-color="#9696ff"/><stop offset="0.077" stop-color="#b9b9ff"/><stop offset="0.115" stop-color="#fffefe"/><stop offset="0.154" stop-color="#ffdfdf"/><stop offset="0.192" stop-color="#f5f5ff"/><stop offset="0.231" stop-color="#9191ff"/><stop offset="0.269" stop-color="#5454ff"/><stop offset="0.308" stop-color="#8b8bff"/><stop offset="0.346" stop-color="#f1f1ff"/><stop offset="0.385" stop-color="#ffdede"/><stop offset="0.423" stop-color="#fffafa"/><stop offset="0.462" stop-color="#bcbcff"/><stop offset="0.500" stop-color="#9797ff"/><stop offset="0.538" stop-color="#b2b2ff"/><stop offset="0.577" stop-color="#ededff"/><stop offset="0.615" stop-color="#fff5f5"/><stop offset="0.654" stop-color="#dedeff"/><stop offset="0.692" stop-color="#8181ff"/><stop offset="0.731" stop-color="#4f4fff"/><stop offset="0.769" stop-color="#8787ff"/><stop offset="0.808" stop-color="#e1e1ff"/><stop offset="0.846" stop-color="#fff7f7"/><stop offset="0.885" stop-color="#eaeaff"/><stop offset="0.923" stop-color="#b0b0ff"/><stop offset="0.962" stop-color="#9494ff"/><stop offset="1.000" stop-color="#b3b3ff"/></linearGradient><linearGradient id="fr147" x1="0" x2="1" y1="0" y2="0"><stop offset="0.000" stop-color="#8080ff"/><stop offset="0.038" stop-color="#5757ff"/><stop offset="0.077" stop-color="#8b8bff"/><stop offset="0.115" stop-color="#fcfcff"/><stop offset="0.154" stop-color="#ffc3c3"/><stop offset="0.192" stop-color="#ffe6e6"/><stop offset="0.231" stop-color="#a3a3ff"/><stop offset="0.269" stop-color="#5151ff"/><stop offset="0.308" stop-color="#9a9aff"/><stop offset="0.346" stop-color="#ffebeb"/><stop offset="0.385" stop-color="#ffc0c0"/><stop offset="0.423" stop-color="#fffbfb"/><stop offset="0.462" stop-color="#9090ff"/><stop offset="0.500" stop-color="#5858ff"/><stop offset="0.538" stop-color="#8080ff"/><stop offset="0.577" stop-color="#e1e1ff"/><stop offset="0.615" stop-color="#ffdbdb"/><stop offset="0.654" stop-color="#fff3f3"/><stop offset="0.692" stop-color="#9898ff"/><stop offset="0.731" stop-color="#4e4eff"/><stop offset="0.769" stop-color="#a2a2ff"/><stop offset="0.808" stop-color="#fff0f0"/><stop offset="0.846" stop-color="#ffe1e1"/><stop offset="0.885" stop-color="#d9d9ff"/><stop offset="0.923" stop-color="#7c7cff"/><stop offset="0.962" stop-color="#5353ff"/><stop offset="1.000" stop-color="#8080ff"/></linearGradient><linearGradient id="fr148" x1="0" x2="1" y1="0" y2="0"><stop offset="0.000" stop-color="#5e5eff"/><stop offset="0.038" stop-color="#2d2dff"/><stop offset="0.077" stop-color="#6c6cff"/><stop offset="0.115" stop-color="#f6f6ff"/><stop offset="0.154" stop-color="#ffb5b5"/><stop offset="0.192" stop-color="#ffd5d5"/><stop offset="0.231" stop-color="#a9a9ff"/><stop offset="0.269" stop-color="#4b4bff"/><stop offset="0.308" stop-color="#9f9fff"/><stop offset="0.346" stop-color="#ffdada"/><stop offset="0.385" stop-color="#ffb2b2"/><stop offset="0.423" stop-color="#ffffff"/><stop offset="0.462" stop-color="#7373ff"/><stop offset="0.500" stop-color="#2f2fff"/><stop offset="0.538" stop-color="#5f5fff"/><stop offset="0.577" stop-color="#d6d6ff"/><stop offset="0.615" stop-color="#ffcaca"/><stop offset="0.654" stop-color="#ffd6d6"/><stop offset="0.692" stop-color="#a7a7ff"/><stop offset="0.731" stop-color="#4b4bff"/><stop offset="0.769" stop-color="#b5b5ff"/><stop offset="0.808" stop-color="#ffd4d4"/><stop offset="0.846" stop-color="#ffd4d4"/><stop offset="0.885" stop-color="#ccccff"/><stop offset="0.923" stop-color="#5959ff"/><stop offset="0.962" stop-color="#2929ff"/><stop offset="1.000" stop-color="#5d5dff"/></linearGradient><linearGradient id="fr149" x1="0" x2="1" y1="0" y2="0"><stop offset="0.000" stop-color="#5f5fff"/><stop offset="0.038" stop-color="#2e2eff"/><stop offset="0.077" stop-color="#6c6cff"/><stop offset="0.115" stop-color="#f4f4ff"/><stop offset="0.154" stop-color="#ffb8b8"/><stop offset="0.192" stop-color="#ffd8d8"/><stop offset="0.231" stop-color="#a7a7ff"/><stop offset="0.269" stop-color="#4a4aff"/><stop offset="0.308" stop-color="#9d9dff"/><stop offset="0.346" stop-color="#ffdddd"/><stop offset="0.385" stop-color="#ffb5b5"/><stop offset="0.423" stop-color="#fefeff"/><stop offset="0.462" stop-color="#7373ff"/><stop offset="0.500" stop-color="#2f2fff"/><stop offset="0.538" stop-color="#5f5fff"/><stop offset="0.577" stop-color="#d6d6ff"/><stop offset="0.615" stop-color="#ffcccc"/><stop offset="0.654" stop-color="#ffd9d9"/><stop offset="0.692" stop-color="#a5a5ff"/><stop offset="0.731" stop-color="#4b4bff"/><stop offset="0.769" stop-color="#b3b3ff"/><stop offset="0.808" stop-color="#ffd7d7"/><stop offset="0.846" stop-color="#ffd5d5"/><stop offset="0.885" stop-color="#ccccff"/><stop offset="0.923" stop-color="#5a5aff"/><stop offset="0.962" stop-color="#2a2aff"/><stop offset="1.000" stop-color="#5e5eff"/></linearGradient><linearGradient id="fr150" x1="0" x2="1" y1="0" y2="0"><stop offset="0.000" stop-color="#8282ff"/><stop offset="0.038" stop-color="#5858ff"/><stop offset="0.077" stop-color="#8b8bff"/><stop offset="0.115" stop-color="#f8f8ff"/><stop offset="0.154" stop-color="#ffcaca"/><stop offset="0.192" stop-color="#ffeded"/><stop offset="0.231" stop-color="#9d9dff"/><stop offset="0.269" stop-color="#5050ff"/><stop offset="0.308" stop-color="#9595ff"/><stop offset="0.346" stop-color="#fff2f2"/><stop offset="0.385" stop-color="#ffc8c8"/><stop offset="0.423" stop-color="#ffffff"/><stop offset="0.462" stop-color="#9090ff"/><stop offset="0.500" stop-color="#5959ff"/><stop offset="0.538" stop-color="#8282ff"/><stop offset="0.577" stop-color="#e0e0ff"/><stop offset="0.615" stop-color="#ffe0e0"/><stop offset="0.654" stop-color="#fff9f9"/><stop offset="0.692" stop-color="#9393ff"/><stop offset="0.731" stop-color="#4d4dff"/><stop offset="0.769" stop-color="#9d9dff"/><stop offset="0.808" stop-color="#fff6f6"/><stop offset="0.846" stop-color="#ffe5e5"/><stop offset="0.885" stop-color="#d9d9ff"/><stop offset="0.923" stop-color="#7d7dff"/><stop offset="0.962" stop-color="#5555ff"/><stop offset="1.000" stop-color="#8282ff"/></linearGradient><linearGradient id="fr151" x1="0" x2="1" y1="0" y2="0"><stop offset="0.000" stop-color="#b5b5ff"/><stop offset="0.038" stop-color="#9999ff"/><stop offset="0.077" stop-color="#b9b9ff"/><stop offset="0.115" stop-color="#fcfcff"/><stop offset="0.154" stop-color="#ffe6e6"/><stop offset="0.192" stop-color="#ececff"/><stop offset="0.231" stop-color="#8b8bff"/><stop offset="0.269" stop-color="#5252ff"/><stop offset="0.308" stop-color="#8686ff"/><stop offset="0.346" stop-color="#e8e8ff"/><stop offset="0.385" stop-color="#ffe5e5"/><stop offset="0.423" stop-color="#fffefe"/><stop offset="0.462" stop-color="#bcbcff"/><stop offset="0.500" stop-color="#9999ff"/><stop offset="0.538" stop-color="#b4b4ff"/><stop offset="0.577" stop-color="#ededff"/><stop offset="0.615" stop-color="#fff9f9"/><stop offset="0.654" stop-color="#d9d9ff"/><stop offset="0.692" stop-color="#7e7eff"/><stop offset="0.731" stop-color="#4e4eff"/><stop offset="0.769" stop-color="#8383ff"/><stop offset="0.808" stop-color="#dcdcff"/><stop offset="0.846" stop-color="#fffafa"/><stop offset="0.885" stop-color="#eaeaff"/><stop offset="0.923" stop-color="#b1b1ff"/><stop offset="0.962" stop-color="#9797ff"/><stop offset="1.000" stop-color="#b5b5ff"/></linearGradient><linearGradient id="fr152" x1="0" x2="1" y1="0" y2="0"><stop offset="0.000" stop-color="#e0e0ff"/><stop offset="0.038" stop-color="#d5d5ff"/><stop offset="0.077" stop-color="#e2e2ff"/><stop offset="0.115" stop-color="#f9f9ff"/><stop offset="0.154" stop-color="#f2f2ff"/><stop offset="0.192" stop-color="#bbbbff"/><stop offset="0.231" stop-color="#7070ff"/><stop offset="0.269" stop-color="#4949ff"/><stop offset="0.308" stop-color="#6c6cff"/><stop offset="0.346" stop-color="#b8b8ff"/><stop offset="0.385" stop-color="#f1f1ff"/><stop offset="0.423" stop-color="#fafaff"/><stop offset="0.462" stop-color="#e4e4ff"/><stop offset="0.500" stop-color="#d5d5ff"/><stop offset="0.538" stop-color="#e0e0ff"/><stop offset="0.577" stop-color="#f1f1ff"/><stop offset="0.615" stop-color="#e4e4ff"/><stop offset="0.654" stop-color="#adadff"/><stop offset="0.692" stop-color="#6666ff"/><stop offset="0.731" stop-color="#4646ff"/><stop offset="0.769" stop-color="#6969ff"/><stop offset="0.808" stop-color="#b0b0ff"/><stop offset="0.846" stop-color="#e5e5ff"/><stop offset="0.885" stop-color="#f0f0ff"/><stop offset="0.923" stop-color="#dfdfff"/><stop offset="0.962" stop-color="#d4d4ff"/><stop offset="1.000" stop-color="#e0e0ff"/></linearGradient><linearGradient id="fr153" x1="0" x2="1" y1="0" y2="0"><stop offset="0.000" stop-color="#f9f9ff"/><stop offset="0.038" stop-color="#fdfdff"/><stop offset="0.077" stop-color="#fbfbff"/><stop offset="0.115" stop-color="#ececff"/><stop offset="0.154" stop-color="#c6c6ff"/><stop offset="0.192" stop-color="#8b8bff"/><stop offset="0.231" stop-color="#5050ff"/><stop offset="0.269" stop-color="#3535ff"/><stop offset="0.308" stop-color="#4e4eff"/><stop offset="0.346" stop-color="#8888ff"/><stop offset="0.385" stop-color="#c4c4ff"/><stop offset="0.423" stop-color="#ebebff"/><stop offset="0.462" stop-color="#fbfbff"/><stop offset="0.500" stop-color="#fdfdff"/><stop offset="0.538" stop-color="#f9f9ff"/><stop offset="0.577" stop-color="#e8e8ff"/><stop offset="0.615" stop-color="#c0c0ff"/><stop offset="0.654" stop-color="#8484ff"/><stop offset="0.692" stop-color="#4b4bff"/><stop offset="0.731" stop-color="#3434ff"/><stop offset="0.769" stop-color="#4d4dff"/><stop offset="0.808" stop-color="#8686ff"/><stop offset="0.846" stop-color="#c2c2ff"/><stop offset="0.885" stop-color="#e9e9ff"/><stop offset="0.923" stop-color="#fafaff"/><stop offset="0.962" stop-color="#fdfdff"/><stop offset="1.000" stop-color="#f9f9ff"/></linearGradient><linearGradient id="fr154" x1="0" x2="1" y1="0" y2="0"><stop offset="0.000" stop-color="#fffdfd"/><stop offset="0.038" stop-color="#fff1f1"/><stop offset="0.077" stop-color="#fffbfb"/><stop offset="0.115" stop-color="#e0e0ff"/><stop offset="0.154" stop-color="#aaaaff"/><stop offset="0.192" stop-color="#6c6cff"/><stop offset="0.231" stop-color="#3a3aff"/><stop offset="0.269" stop-color="#2626ff"/><stop offset="0.308" stop-color="#3838ff"/><stop offset="0.346" stop-color="#6a6aff"/><stop offset="0.385" stop-color="#a7a7ff"/><stop offset="0.423" stop-color="#dfdfff"/><stop offset="0.462" stop-color="#fffcfc"/><stop offset="0.500" stop-color="#fff1f1"/><stop offset="0.538" stop-color="#fffcfc"/><stop offset="0.577" stop-color="#dedeff"/><stop offset="0.615" stop-color="#a6a6ff"/><stop offset="0.654" stop-color="#6868ff"/><stop offset="0.692" stop-color="#3737ff"/><stop offset="0.731" stop-color="#2525ff"/><stop offset="0.769" stop-color="#3939ff"/><stop offset="0.808" stop-color="#6b6bff"/><stop offset="0.846" stop-color="#a8a8ff"/><stop offset="0.885" stop-color="#e0e0ff"/><stop offset="0.923" stop-color="#fffbfb"/><stop offset="0.962" stop-color="#fff1f1"/><stop offset="1.000" stop-color="#fffdfd"/></linearGradient><linearGradient id="fr155" x1="0" x2="1" y1="0" y2="0"><stop offset="0.000" stop-color="#fffdfd"/><stop offset="0.038" stop-color="#fff2f2"/><stop offset="0.077" stop-color="#fffbfb"/><stop offset="0.115" stop-color="#e0e0ff"/><stop offset="0.154" stop-color="#aaaaff"/><stop offset="0.192" stop-color="#6c6cff"/><stop offset="0.231" stop-color="#3a3aff"/><stop offset="0.269" stop-color="#2626ff"/><stop offset="0.308" stop-color="#3838ff"/><stop offset="0.346" stop-color="#6a6aff"/><stop offset="0.385" stop-color="#a7a7ff"/><stop offset="0.423" stop-color="#dedeff"/><stop offset="0.462" stop-color="#fffcfc"/><stop offset="0.500" stop-color="#fff2f2"/><stop offset="0.538" stop-color="#fffcfc"/><stop offset="0.577" stop-color="#dedeff"/><stop offset="0.615" stop-color="#a7a7ff"/><stop offset="0.654" stop-color="#6969ff"/><stop offset="0.692" stop-color="#3838ff"/><stop offset="0.731" stop-color="#2626ff"/><stop offset="0.769" stop-color="#3a3aff"/><stop offset="0.808" stop-color="#6c6cff"/><stop offset="0.846" stop-color="#a9a9ff"/><stop offset="0.885" stop-color="#e0e0ff"/><stop offset="0.923" stop-color="#fffbfb"/><stop offset="0.962" stop-color="#fff2f2"/><stop offset="1.000" stop-color="#fffdfd"/></linearGradient><filter id="fb130" x="-5%" y="-5%" width="110%" height="110%"><feGaussianBlur stdDeviation="0.6 1.5"/></filter><filter id="blr" x="-20%" y="-20%" width="140%" height="140%"><feGaussianBlur stdDeviation="2.6"/></filter>
<filter id="blr2" x="-20%" y="-20%" width="140%" height="140%"><feGaussianBlur stdDeviation="1.6"/></filter>
<radialGradient id="gP"><stop offset="0" stop-color="#f3aaaa" stop-opacity="1"/><stop offset="0.5" stop-color="#f6c4c4" stop-opacity="0.85"/><stop offset="1" stop-color="#fbe6e6" stop-opacity="0"/></radialGradient>
<linearGradient id="gM1a" x1="0" y1="0" x2="1" y2="1"><stop offset="0" stop-color="#ff2a2a"/><stop offset="0.18" stop-color="#ecd2dc"/><stop offset="0.4" stop-color="#e6e6f2"/><stop offset="1" stop-color="#cfd0ea"/></linearGradient>
<linearGradient id="gM1b" x1="1" y1="1" x2="0" y2="0"><stop offset="0" stop-color="#ff2a2a"/><stop offset="0.18" stop-color="#ecd2dc"/><stop offset="0.4" stop-color="#e6e6f2"/><stop offset="1" stop-color="#cfd0ea"/></linearGradient>
<linearGradient id="gM2s" x1="0" y1="1" x2="1" y2="0"><stop offset="0" stop-color="#ff1a1a"/><stop offset="0.6" stop-color="#f7a4a4"/><stop offset="1" stop-color="#fde8e8"/></linearGradient>
<linearGradient id="gM2c" x1="0.1" y1="0.9" x2="0.9" y2="0.1"><stop offset="0" stop-color="#ffffff"/><stop offset="0.4" stop-color="#fad6d6"/><stop offset="1" stop-color="#ee6a6a"/></linearGradient>
<linearGradient id="gM2c2" x1="0.9" y1="0.1" x2="0.1" y2="0.9"><stop offset="0" stop-color="#ffffff"/><stop offset="0.4" stop-color="#fad6d6"/><stop offset="1" stop-color="#ee6a6a"/></linearGradient>
<clipPath id="cl6"><rect x="591.6" y="768" width="92.6" height="93.2"/></clipPath><clipPath id="cl7"><rect x="591" y="869.9" width="92.4" height="92.4"/></clipPath></defs>
<rect x="2.1" y="16.9" width="177.6" height="177.8" fill="#80809b" stroke="#000" stroke-width="1.8"/>
<line x1="90.9" y1="17.8" x2="90.9" y2="193.8" stroke="#fff" stroke-width="0.9" stroke-dasharray="3.4,1.7"/>
<line x1="3" y1="105.6" x2="178.8" y2="105.6" stroke="#fff" stroke-width="0.9" stroke-dasharray="3.4,1.7"/>
<line x1="185.7" y1="21.1" x2="185.7" y2="189.1" stroke="#000" stroke-width="1.2"/>
<path d="M185.7,193L182.45,186.5L185.7,188.45L188.95,186.5Z" fill="#000"/>
<path d="M185.7,17.2L188.95,23.7L185.7,21.75L182.45,23.7Z" fill="#000"/>
<line x1="4.9" y1="202.2" x2="175.1" y2="202.2" stroke="#000" stroke-width="1.2"/>
<path d="M179,202.2L172.5,205.45L174.45,202.2L172.5,198.95Z" fill="#000"/>
<path d="M1,202.2L7.5,198.95L5.55,202.2L7.5,205.45Z" fill="#000"/>
<text x="196.5" y="107" font-size="12" text-anchor="middle" font-weight="normal" font-style="italic" fill="#000">P</text>
<text x="90.5" y="217" font-size="12" text-anchor="middle" font-weight="normal" font-style="italic" fill="#000">P</text>
<rect x="2.1" y="261.9" width="177.6" height="177.8" fill="#80809b" stroke="#000" stroke-width="1.8"/>
<line x1="90.9" y1="262.8" x2="90.9" y2="438.8" stroke="#fff" stroke-width="0.9" stroke-dasharray="3.4,1.7"/>
<line x1="3" y1="350.6" x2="178.8" y2="350.6" stroke="#fff" stroke-width="0.9" stroke-dasharray="3.4,1.7"/>
<line x1="185.7" y1="266.1" x2="185.7" y2="434.1" stroke="#000" stroke-width="1.2"/>
<path d="M185.7,438L182.45,431.5L185.7,433.45L188.95,431.5Z" fill="#000"/>
<path d="M185.7,262.2L188.95,268.7L185.7,266.75L182.45,268.7Z" fill="#000"/>
<line x1="4.9" y1="448.7" x2="175.1" y2="448.7" stroke="#000" stroke-width="1.2"/>
<path d="M179,448.7L172.5,451.95L174.45,448.7L172.5,445.45Z" fill="#000"/>
<path d="M1,448.7L7.5,445.45L5.55,448.7L7.5,451.95Z" fill="#000"/>
<text x="196.5" y="352" font-size="12" text-anchor="middle" font-weight="normal" font-style="italic" fill="#000">P</text>
<text x="90.5" y="463.3" font-size="12" text-anchor="middle" font-weight="normal" font-style="italic" fill="#000">P</text>
<rect x="2.1" y="514.2" width="177.6" height="177.8" fill="#80809b" stroke="#000" stroke-width="1.8"/>
<line x1="90.9" y1="515.1" x2="90.9" y2="691.1" stroke="#fff" stroke-width="0.9" stroke-dasharray="3.4,1.7"/>
<line x1="3" y1="602.9" x2="178.8" y2="602.9" stroke="#fff" stroke-width="0.9" stroke-dasharray="3.4,1.7"/>
<line x1="185.7" y1="518.4" x2="185.7" y2="686.4" stroke="#000" stroke-width="1.2"/>
<path d="M185.7,690.3L182.45,683.8L185.7,685.75L188.95,683.8Z" fill="#000"/>
<path d="M185.7,514.5L188.95,521L185.7,519.05L182.45,521Z" fill="#000"/>
<line x1="4.9" y1="700.7" x2="175.1" y2="700.7" stroke="#000" stroke-width="1.2"/>
<path d="M179,700.7L172.5,703.95L174.45,700.7L172.5,697.45Z" fill="#000"/>
<path d="M1,700.7L7.5,697.45L5.55,700.7L7.5,703.95Z" fill="#000"/>
<text x="196.5" y="604.3" font-size="12" text-anchor="middle" font-weight="normal" font-style="italic" fill="#000">P</text>
<text x="92.5" y="715.3" font-size="12" text-anchor="middle" font-weight="normal" font-style="italic" fill="#000">P</text>
<rect x="2.1" y="769.2" width="177.6" height="177.8" fill="#80809b" stroke="#000" stroke-width="1.8"/>
<line x1="90.9" y1="770.1" x2="90.9" y2="946.1" stroke="#fff" stroke-width="0.9" stroke-dasharray="3.4,1.7"/>
<line x1="3" y1="857.9" x2="178.8" y2="857.9" stroke="#fff" stroke-width="0.9" stroke-dasharray="3.4,1.7"/>
<line x1="185.7" y1="773.4" x2="185.7" y2="941.4" stroke="#000" stroke-width="1.2"/>
<path d="M185.7,945.3L182.45,938.8L185.7,940.75L188.95,938.8Z" fill="#000"/>
<path d="M185.7,769.5L188.95,776L185.7,774.05L182.45,776Z" fill="#000"/>
<line x1="4.9" y1="956" x2="175.1" y2="956" stroke="#000" stroke-width="1.2"/>
<path d="M179,956L172.5,959.25L174.45,956L172.5,952.75Z" fill="#000"/>
<path d="M1,956L7.5,952.75L5.55,956L7.5,959.25Z" fill="#000"/>
<text x="196.5" y="859.3" font-size="12" text-anchor="middle" font-weight="normal" font-style="italic" fill="#000">P</text>
<text x="92" y="971.5" font-size="12" text-anchor="middle" font-weight="normal" font-style="italic" fill="#000">P</text>
<rect x="32.9" y="49.2" width="25.2" height="24.7" fill="#fff"/>
<circle cx="133.4" cy="61.7" r="14.8" fill="#fff"/>
<circle cx="45.9" cy="151" r="15" fill="#fff"/>
<rect x="124.3" y="135.9" width="24.4" height="24.7" fill="#fff"/>
<line x1="85.96" y1="100.75" x2="49.24" y2="64.95" stroke="#ef7f2a" stroke-width="1.6" stroke-dasharray="4.2,3.2,1.4,3.2" stroke-linecap="butt"/>
<path d="M45.8,61.6L53.97,64.68L49.24,64.95L49.09,69.69Z" fill="#ef7f2a"/>
<path d="M89.4,104.1L81.23,101.02L85.96,100.75L86.11,96.01Z" fill="#ef7f2a"/>
<line x1="95.66" y1="100.58" x2="129.24" y2="64.32" stroke="#ef7f2a" stroke-width="1.6" stroke-dasharray="4.2,3.2,1.4,3.2" stroke-linecap="butt"/>
<path d="M132.5,60.8L129.63,69.05L129.24,64.32L124.5,64.29Z" fill="#ef7f2a"/>
<path d="M92.4,104.1L95.27,95.85L95.66,100.58L100.4,100.61Z" fill="#ef7f2a"/>
<line x1="86.01" y1="110.5" x2="49.99" y2="146.7" stroke="#ef7f2a" stroke-width="1.6" stroke-dasharray="4.2,3.2,1.4,3.2" stroke-linecap="butt"/>
<path d="M46.6,150.1L49.76,141.96L49.99,146.7L54.72,146.9Z" fill="#ef7f2a"/>
<path d="M89.4,107.1L86.24,115.24L86.01,110.5L81.28,110.3Z" fill="#ef7f2a"/>
<line x1="95.87" y1="110.41" x2="133.03" y2="145.89" stroke="#ef7f2a" stroke-width="1.6" stroke-dasharray="4.2,3.2,1.4,3.2" stroke-linecap="butt"/>
<path d="M136.5,149.2L128.3,146.21L133.03,145.89L133.13,141.14Z" fill="#ef7f2a"/>
<path d="M92.4,107.1L100.6,110.09L95.87,110.41L95.77,115.16Z" fill="#ef7f2a"/>
<line x1="37.6" y1="44.3" x2="52.6" y2="44.3" stroke="#000" stroke-width="1.5"/>
<path d="M57.1,44.3L49.6,48.3L51.85,44.3L49.6,40.3Z" fill="#000"/>
<path d="M33.1,44.3L40.6,40.3L38.35,44.3L40.6,48.3Z" fill="#000"/>
<line x1="129.1" y1="130.8" x2="143.9" y2="130.8" stroke="#000" stroke-width="1.5"/>
<path d="M148.4,130.8L140.9,134.8L143.15,130.8L140.9,126.8Z" fill="#000"/>
<path d="M124.6,130.8L132.1,126.8L129.85,130.8L132.1,134.8Z" fill="#000"/>
<line x1="133.4" y1="61.7" x2="144.6" y2="61.7" stroke="#000" stroke-width="1.45"/>
<path d="M148.5,61.7L142,64.95L143.95,61.7L142,58.45Z" fill="#000"/>
<line x1="45.9" y1="151" x2="56.9" y2="151" stroke="#000" stroke-width="1.45"/>
<path d="M60.8,151L54.3,154.25L56.25,151L54.3,147.75Z" fill="#000"/>
<text x="44.7" y="35.2" font-size="11.5" text-anchor="middle" font-weight="normal" font-style="italic" fill="#000">W</text>
<text x="137.2" y="121.7" font-size="11.5" text-anchor="middle" font-weight="normal" font-style="italic" fill="#000">W</text>
<text x="140.2" y="50.5" font-size="11.5" text-anchor="middle" font-weight="normal" font-style="italic" fill="#000">R</text>
<text x="49" y="173" font-size="11.5" text-anchor="middle" font-weight="normal" font-style="italic" fill="#000">R</text>
<text x="77.5" y="72.5" font-size="11.5" text-anchor="middle" font-weight="normal" font-style="italic" fill="#ef7f2a">d</text>
<rect x="33.1" y="294.2" width="25" height="25.1" fill="#fff"/>
<circle cx="132.3" cy="306.1" r="11.6" fill="#fff"/>
<circle cx="49.1" cy="395.4" r="19.3" fill="#fff"/>
<rect x="124.3" y="381" width="24.4" height="25" fill="#fff"/>
<line x1="37.8" y1="289.2" x2="53.4" y2="289.2" stroke="#000" stroke-width="1.5"/>
<path d="M57.9,289.2L50.4,293.2L52.65,289.2L50.4,285.2Z" fill="#000"/>
<path d="M33.3,289.2L40.8,285.2L38.55,289.2L40.8,293.2Z" fill="#000"/>
<line x1="129.1" y1="375.8" x2="143.9" y2="375.8" stroke="#000" stroke-width="1.5"/>
<path d="M148.4,375.8L140.9,379.8L143.15,375.8L140.9,371.8Z" fill="#000"/>
<path d="M124.6,375.8L132.1,371.8L129.85,375.8L132.1,379.8Z" fill="#000"/>
<line x1="132.3" y1="306.1" x2="140.4" y2="306.1" stroke="#000" stroke-width="1.45"/>
<path d="M144.3,306.1L137.8,309.35L139.75,306.1L137.8,302.85Z" fill="#000"/>
<line x1="48" y1="395.4" x2="63.6" y2="395.4" stroke="#000" stroke-width="1.45"/>
<path d="M67.5,395.4L61,398.65L62.95,395.4L61,392.15Z" fill="#000"/>
<text x="44.7" y="280" font-size="11.5" text-anchor="middle" font-weight="normal" font-style="italic" fill="#000">W</text>
<text x="137.2" y="366.7" font-size="11.5" text-anchor="middle" font-weight="normal" font-style="italic" fill="#000">W</text>
<text x="141" y="298" font-size="11.5" text-anchor="middle" font-weight="normal" font-style="italic" fill="#000">R<tspan font-size="8" font-style="normal" dy="2.5">1</tspan></text>
<text x="53" y="420" font-size="11.5" text-anchor="middle" font-weight="normal" font-style="italic" fill="#000">R<tspan font-size="8" font-style="normal" dy="2.5">2</tspan></text>
<rect x="36" y="549" width="20.9" height="21.2" fill="#fff"/>
<circle cx="135.5" cy="558.3" r="11.6" fill="#fff"/>
<circle cx="50.7" cy="647.3" r="19.3" fill="#fff"/>
<rect x="121.4" y="631.5" width="27.3" height="27.3" fill="#fff"/>
<line x1="40.7" y1="545.5" x2="52.2" y2="545.5" stroke="#000" stroke-width="1.5"/>
<path d="M56.7,545.5L49.2,549.5L51.45,545.5L49.2,541.5Z" fill="#000"/>
<path d="M36.2,545.5L43.7,541.5L41.45,545.5L43.7,549.5Z" fill="#000"/>
<line x1="126.1" y1="625.8" x2="144" y2="625.8" stroke="#000" stroke-width="1.5"/>
<path d="M148.5,625.8L141,629.8L143.25,625.8L141,621.8Z" fill="#000"/>
<path d="M121.6,625.8L129.1,621.8L126.85,625.8L129.1,629.8Z" fill="#000"/>
<line x1="135.5" y1="558.3" x2="143.6" y2="558.3" stroke="#000" stroke-width="1.45"/>
<path d="M147.5,558.3L141,561.55L142.95,558.3L141,555.05Z" fill="#000"/>
<line x1="50.7" y1="647.3" x2="66.1" y2="647.3" stroke="#000" stroke-width="1.45"/>
<path d="M70,647.3L63.5,650.55L65.45,647.3L63.5,644.05Z" fill="#000"/>
<text x="46.5" y="536.5" font-size="11.5" text-anchor="middle" font-weight="normal" font-style="italic" fill="#000">W<tspan font-size="8" font-style="normal" dy="2.5">1</tspan></text>
<text x="136" y="617" font-size="11.5" text-anchor="middle" font-weight="normal" font-style="italic" fill="#000">W<tspan font-size="8" font-style="normal" dy="2.5">2</tspan></text>
<text x="138.5" y="548.2" font-size="11.5" text-anchor="middle" font-weight="normal" font-style="italic" fill="#000">R<tspan font-size="8" font-style="normal" dy="2.5">1</tspan></text>
<text x="58" y="671" font-size="11.5" text-anchor="middle" font-weight="normal" font-style="italic" fill="#000">R<tspan font-size="8" font-style="normal" dy="2.5">2</tspan></text>
<rect x="38.5" y="806.8" width="24.8" height="25.4" fill="#fff"/>
<circle cx="127.8" cy="819.3" r="14.8" fill="#fff"/>
<circle cx="52.4" cy="898" r="14.8" fill="#fff"/>
<rect x="120.4" y="885.2" width="25.1" height="24.4" fill="#fff"/>
<line x1="86" y1="853.31" x2="55.8" y2="823.19" stroke="#ef7f2a" stroke-width="1.6" stroke-dasharray="4.2,3.2,1.4,3.2" stroke-linecap="butt"/>
<path d="M52.4,819.8L60.54,822.97L55.8,823.19L55.59,827.93Z" fill="#ef7f2a"/>
<path d="M89.4,856.7L81.26,853.53L86,853.31L86.21,848.57Z" fill="#ef7f2a"/>
<line x1="95.64" y1="853.16" x2="121.36" y2="825.04" stroke="#ef7f2a" stroke-width="1.6" stroke-dasharray="4.2,3.2,1.4,3.2" stroke-linecap="butt"/>
<path d="M124.6,821.5L121.78,829.77L121.36,825.04L116.62,825.04Z" fill="#ef7f2a"/>
<path d="M92.4,856.7L95.22,848.43L95.64,853.16L100.38,853.16Z" fill="#ef7f2a"/>
<line x1="86.03" y1="863.12" x2="55.27" y2="894.28" stroke="#ef7f2a" stroke-width="1.6" stroke-dasharray="4.2,3.2,1.4,3.2" stroke-linecap="butt"/>
<path d="M51.9,897.7L55.03,889.55L55.27,894.28L60.01,894.46Z" fill="#ef7f2a"/>
<path d="M89.4,859.7L86.27,867.85L86.03,863.12L81.29,862.94Z" fill="#ef7f2a"/>
<line x1="95.92" y1="862.96" x2="128.98" y2="893.64" stroke="#ef7f2a" stroke-width="1.6" stroke-dasharray="4.2,3.2,1.4,3.2" stroke-linecap="butt"/>
<path d="M132.5,896.9L124.25,894.03L128.98,893.64L129.02,888.89Z" fill="#ef7f2a"/>
<path d="M92.4,859.7L100.65,862.57L95.92,862.96L95.88,867.71Z" fill="#ef7f2a"/>
<line x1="43.2" y1="801.8" x2="58.6" y2="801.8" stroke="#000" stroke-width="1.5"/>
<path d="M63.1,801.8L55.6,805.8L57.85,801.8L55.6,797.8Z" fill="#000"/>
<path d="M38.7,801.8L46.2,797.8L43.95,801.8L46.2,805.8Z" fill="#000"/>
<line x1="125.1" y1="879.5" x2="140.8" y2="879.5" stroke="#000" stroke-width="1.5"/>
<path d="M145.3,879.5L137.8,883.5L140.05,879.5L137.8,875.5Z" fill="#000"/>
<path d="M120.6,879.5L128.1,875.5L125.85,879.5L128.1,883.5Z" fill="#000"/>
<line x1="127.8" y1="819.3" x2="138.6" y2="819.3" stroke="#000" stroke-width="1.45"/>
<path d="M142.5,819.3L136,822.55L137.95,819.3L136,816.05Z" fill="#000"/>
<line x1="52.4" y1="898" x2="63.1" y2="898" stroke="#000" stroke-width="1.45"/>
<path d="M67,898L60.5,901.25L62.45,898L60.5,894.75Z" fill="#000"/>
<text x="51" y="793" font-size="11.5" text-anchor="middle" font-weight="normal" font-style="italic" fill="#000">W</text>
<text x="133" y="871" font-size="11.5" text-anchor="middle" font-weight="normal" font-style="italic" fill="#000">W</text>
<text x="134.5" y="808" font-size="11.5" text-anchor="middle" font-weight="normal" font-style="italic" fill="#000">R</text>
<text x="55" y="921" font-size="11.5" text-anchor="middle" font-weight="normal" font-style="italic" fill="#000">R</text>
<text x="74" y="823" font-size="11.5" text-anchor="middle" font-weight="normal" font-style="italic" fill="#ef7f2a">d*</text>
<line x1="12.8" y1="936.5" x2="12.8" y2="918.1" stroke="#000" stroke-width="1.6"/>
<path d="M12.8,913.6L16.3,921.1L12.8,918.85L9.3,921.1Z" fill="#000"/>
<line x1="12" y1="936" x2="30.7" y2="936" stroke="#000" stroke-width="1.6"/>
<path d="M35.2,936L27.7,939.5L29.95,936L27.7,932.5Z" fill="#000"/>
<text x="9.8" y="904.5" font-size="11.5" text-anchor="middle" font-weight="normal" font-style="italic" fill="#000">y</text>
<text x="42.5" y="944.5" font-size="11.5" text-anchor="middle" font-weight="normal" font-style="italic" fill="#000">x</text>
<text x="4.5" y="12.5" font-size="16.5" text-anchor="start" font-weight="bold" font-style="normal" fill="#000">a</text>
<text x="4.5" y="254.6" font-size="16.5" text-anchor="start" font-weight="bold" font-style="normal" fill="#000">d</text>
<text x="4.5" y="508.5" font-size="16.5" text-anchor="start" font-weight="bold" font-style="normal" fill="#000">h</text>
<text x="4.5" y="765" font-size="16.5" text-anchor="start" font-weight="bold" font-style="normal" fill="#000">k</text>
<text x="218" y="12.2" font-size="16.5" text-anchor="start" font-weight="bold" font-style="normal" fill="#000">b</text>
<text x="217.5" y="255" font-size="16.5" text-anchor="start" font-weight="bold" font-style="normal" fill="#000">e</text>
<text x="217.5" y="508" font-size="16.5" text-anchor="start" font-weight="bold" font-style="normal" fill="#000">i</text>
<text x="217.5" y="764.5" font-size="16.5" text-anchor="start" font-weight="bold" font-style="normal" fill="#000">l</text>
<text x="569.5" y="12.5" font-size="16.5" text-anchor="start" font-weight="bold" font-style="normal" fill="#000">c</text>
<text x="569.5" y="254.5" font-size="16.5" text-anchor="start" font-weight="bold" font-style="normal" fill="#000">f</text>
<text x="569.5" y="508" font-size="16.5" text-anchor="start" font-weight="bold" font-style="normal" fill="#000">j</text>
<text x="569.5" y="764.5" font-size="16.5" text-anchor="start" font-weight="bold" font-style="normal" fill="#000">m</text>
<path d="M265.6,12.6H494.2V195.2H265.6Z" fill="none" stroke="#1a1a1a" stroke-width="1.2"/>
<path d="M265.6,189.09h2.6M265.6,185.52h2.6M265.6,182.98h2.6M265.6,181.02h2.6M265.6,179.41h2.6M265.6,178.05h2.6M265.6,176.88h2.6M265.6,175.84h2.6M265.6,174.91h5.0M265.6,168.8h2.6M265.6,165.23h2.6M265.6,162.7h2.6M265.6,160.73h2.6M265.6,159.12h2.6M265.6,157.77h2.6M265.6,156.59h2.6M265.6,155.55h2.6M265.6,154.62h5.0M265.6,148.51h2.6M265.6,144.94h2.6M265.6,142.41h2.6M265.6,140.44h2.6M265.6,138.83h2.6M265.6,137.48h2.6M265.6,136.3h2.6M265.6,135.26h2.6M265.6,134.33h5.0M265.6,128.23h2.6M265.6,124.65h2.6M265.6,122.12h2.6M265.6,120.15h2.6M265.6,118.55h2.6M265.6,117.19h2.6M265.6,116.01h2.6M265.6,114.97h2.6M265.6,114.04h5.0M265.6,107.94h2.6M265.6,104.36h2.6M265.6,101.83h2.6M265.6,99.86h2.6M265.6,98.26h2.6M265.6,96.9h2.6M265.6,95.72h2.6M265.6,94.68h2.6M265.6,93.76h5.0M265.6,87.65h2.6M265.6,84.08h2.6M265.6,81.54h2.6M265.6,79.57h2.6M265.6,77.97h2.6M265.6,76.61h2.6M265.6,75.43h2.6M265.6,74.4h2.6M265.6,73.47h5.0M265.6,67.36h2.6M265.6,63.79h2.6M265.6,61.25h2.6M265.6,59.29h2.6M265.6,57.68h2.6M265.6,56.32h2.6M265.6,55.14h2.6M265.6,54.11h2.6M265.6,53.18h5.0M265.6,47.07h2.6M265.6,43.5h2.6M265.6,40.96h2.6M265.6,39h2.6M265.6,37.39h2.6M265.6,36.03h2.6M265.6,34.86h2.6M265.6,33.82h2.6M265.6,32.89h5.0M265.6,26.78h2.6M265.6,23.21h2.6M265.6,20.67h2.6M265.6,18.71h2.6M265.6,17.1h2.6M265.6,15.74h2.6M265.6,14.57h2.6M265.6,13.53h2.6M494.2,176.94h-2.8M494.2,158.68h-4.5M494.2,140.42h-2.8M494.2,122.16h-4.5M494.2,103.9h-2.8M494.2,85.64h-4.5M494.2,67.38h-2.8M494.2,49.12h-4.5M494.2,30.86h-2.8M281.3,195.2v-4.5M314.12,195.2v-4.5M346.94,195.2v-4.5M379.76,195.2v-4.5M412.58,195.2v-4.5M445.4,195.2v-4.5M478.22,195.2v-4.5M297.71,195.2v-2.8M330.53,195.2v-2.8M363.35,195.2v-2.8M396.17,195.2v-2.8M428.99,195.2v-2.8M461.81,195.2v-2.8" fill="none" stroke="#1a1a1a" stroke-width="1"/>
<text x="281.3" y="210.2" font-size="12" text-anchor="middle" font-weight="normal" font-style="normal" fill="#000">50</text>
<text x="314.12" y="210.2" font-size="12" text-anchor="middle" font-weight="normal" font-style="normal" fill="#000">60</text>
<text x="346.94" y="210.2" font-size="12" text-anchor="middle" font-weight="normal" font-style="normal" fill="#000">70</text>
<text x="379.76" y="210.2" font-size="12" text-anchor="middle" font-weight="normal" font-style="normal" fill="#000">80</text>
<text x="412.58" y="210.2" font-size="12" text-anchor="middle" font-weight="normal" font-style="normal" fill="#000">90</text>
<text x="445.4" y="210.2" font-size="12" text-anchor="middle" font-weight="normal" font-style="normal" fill="#000">100</text>
<text x="478.22" y="210.2" font-size="12" text-anchor="middle" font-weight="normal" font-style="normal" fill="#000">110</text>
<text x="259.4" y="202" font-size="12" text-anchor="end" font-weight="normal" font-style="normal" fill="#000">10<tspan font-size="8.6" dy="-5" dx="0.6">2</tspan></text>
<text x="259.4" y="161.42" font-size="12" text-anchor="end" font-weight="normal" font-style="normal" fill="#000">10<tspan font-size="8.6" dy="-5" dx="0.6">4</tspan></text>
<text x="259.4" y="120.84" font-size="12" text-anchor="end" font-weight="normal" font-style="normal" fill="#000">10<tspan font-size="8.6" dy="-5" dx="0.6">6</tspan></text>
<text x="259.4" y="80.27" font-size="12" text-anchor="end" font-weight="normal" font-style="normal" fill="#000">10<tspan font-size="8.6" dy="-5" dx="0.6">8</tspan></text>
<text x="259.4" y="39.69" font-size="12" text-anchor="end" font-weight="normal" font-style="normal" fill="#000">10<tspan font-size="8.6" dy="-5" dx="0.6">10</tspan></text>
<text x="499.2" y="200.4" font-size="12" text-anchor="start" font-weight="normal" font-style="normal" fill="#000">1440</text>
<text x="499.2" y="163.88" font-size="12" text-anchor="start" font-weight="normal" font-style="normal" fill="#000">1480</text>
<text x="499.2" y="127.36" font-size="12" text-anchor="start" font-weight="normal" font-style="normal" fill="#000">1520</text>
<text x="499.2" y="90.84" font-size="12" text-anchor="start" font-weight="normal" font-style="normal" fill="#000">1560</text>
<text x="499.2" y="54.32" font-size="12" text-anchor="start" font-weight="normal" font-style="normal" fill="#000">1600</text>
<text x="499.2" y="17.8" font-size="12" text-anchor="start" font-weight="normal" font-style="normal" fill="#000">1640</text>
<text x="229" y="116.2" font-size="12" text-anchor="middle" font-weight="normal" font-style="normal" fill="#000" transform="rotate(-90 229 116.2)">Q-factors</text>
<text x="544" y="107.1" font-size="12" text-anchor="middle" font-weight="normal" font-style="normal" fill="#000" transform="rotate(-90 544 107.1)">Wavelength (nm)</text>
<text x="379.9" y="227.8" font-size="12" text-anchor="middle" font-weight="normal" font-style="normal" fill="#000"><tspan font-style="italic">R</tspan> (nm)</text>
<polyline points="281.3,42.94 289.5,47.67 297.71,52.43 305.92,57.23 314.12,62.07 322.32,66.94 330.53,71.84 338.74,76.78 346.94,81.76 355.14,86.77 363.35,91.82 371.56,96.9 378.12,101 379.92,102.13 381.73,103.26 383.53,104.39 385.34,105.53 387.14,106.66 388.95,107.8 390.75,108.94 392.56,110.08 394.36,111.23 396.17,112.37 397.98,113.52 399.78,114.67 401.59,115.82 403.39,116.97 405.2,118.12 407,119.28 408.81,120.44 410.61,121.59 412.58,122.86 420.79,128.16 428.99,133.49 437.2,138.86 445.4,144.27 453.61,149.71 461.81,155.19 470.01,160.7 478.22,166.25" fill="none" stroke="#f7a04e" stroke-width="1.3" stroke-linejoin="round"/>
<polyline points="281.3,169.6 289.5,168.3 297.7,167.1 305.9,166 314.1,164.8 322.3,163.1 330.5,161.3 338.7,159.6 346.9,157.3 355.1,154.2 363.3,150.9 371.5,146.8 378.6,141.6 381.4,138.3 384.1,134.8 386.6,131.2 388.8,127.6 390.8,124.5 392.7,121.6 397.4,97.8 398.2,81.3 399.1,33.1 400.2,81.3 401.2,97.8 402.6,109.5 404.8,122.2 408.7,129 412.6,134.3 420.4,142.8 428.9,148.5 436.8,152.7 444.9,156.4 453.1,159.4 461.3,162.3 469.5,164.6 478.2,166.6" fill="none" stroke="#555" stroke-width="1.1" stroke-linejoin="round"/>
<polyline points="281.3,169.6 289.5,168.3 297.7,167.1 305.9,166 314.1,164.8 322.3,163.1 330.5,161.3 338.7,159.6 346.9,157.3 355.1,154.2 363.3,150.9 371.5,146.8 378.6,141.6 381.4,138.3 384.1,134.8 386.6,131.2 388.8,127.6 390.8,124.5 392.7,121.6 397.4,97.8 398.2,81.3 399.1,58 400.2,81.3 401.2,97.8 402.6,109.5 404.8,122.2 408.7,129 412.6,134.3 420.4,142.8 428.9,148.5 436.8,152.7 444.9,156.4 453.1,159.4 461.3,162.3 469.5,164.6 478.2,166.6" fill="none" stroke="#e3262b" stroke-width="1.1" stroke-linejoin="round"/>
<g fill="none" stroke="#404040" stroke-width="1.1"><circle cx="399.1" cy="33.1" r="3.6"/></g>
<g fill="#f9b7b7" stroke="#404040" stroke-width="1.15"><circle cx="281.3" cy="169.6" r="3.35"/><circle cx="289.5" cy="168.3" r="3.35"/><circle cx="297.7" cy="167.1" r="3.35"/><circle cx="305.9" cy="166" r="3.35"/><circle cx="314.1" cy="164.8" r="3.35"/><circle cx="322.3" cy="163.1" r="3.35"/><circle cx="330.5" cy="161.3" r="3.35"/><circle cx="338.7" cy="159.6" r="3.35"/><circle cx="346.9" cy="157.3" r="3.35"/><circle cx="355.1" cy="154.2" r="3.35"/><circle cx="363.3" cy="150.9" r="3.35"/><circle cx="371.5" cy="146.8" r="3.35"/><circle cx="378.6" cy="141.6" r="3.35"/><circle cx="381.4" cy="138.3" r="3.35"/><circle cx="384.1" cy="134.8" r="3.35"/><circle cx="386.6" cy="131.2" r="3.35"/><circle cx="388.8" cy="127.6" r="3.35"/><circle cx="390.8" cy="124.5" r="3.35"/><circle cx="392.7" cy="121.6" r="3.35"/><circle cx="397.4" cy="97.8" r="3.35"/><circle cx="398.2" cy="81.3" r="3.35"/><circle cx="400.2" cy="81.3" r="3.35"/><circle cx="401.2" cy="97.8" r="3.35"/><circle cx="402.6" cy="109.5" r="3.35"/><circle cx="404.8" cy="122.2" r="3.35"/><circle cx="408.7" cy="129" r="3.35"/><circle cx="412.6" cy="134.3" r="3.35"/><circle cx="420.4" cy="142.8" r="3.35"/><circle cx="428.9" cy="148.5" r="3.35"/><circle cx="436.8" cy="152.7" r="3.35"/><circle cx="444.9" cy="156.4" r="3.35"/><circle cx="453.1" cy="159.4" r="3.35"/><circle cx="461.3" cy="162.3" r="3.35"/><circle cx="469.5" cy="164.6" r="3.35"/><circle cx="478.2" cy="166.6" r="3.35"/></g>
<path d="M281.3,165.7L282.3,168.22L285.01,168.39L282.92,170.13L283.59,172.76L281.3,171.3L279.01,172.76L279.68,170.13L277.59,168.39L280.3,168.22ZM289.5,164.4L290.5,166.92L293.21,167.09L291.12,168.83L291.79,171.46L289.5,170L287.21,171.46L287.88,168.83L285.79,167.09L288.5,166.92ZM297.7,163.2L298.7,165.72L301.41,165.89L299.32,167.63L299.99,170.26L297.7,168.8L295.41,170.26L296.08,167.63L293.99,165.89L296.7,165.72ZM305.9,162.1L306.9,164.62L309.61,164.79L307.52,166.53L308.19,169.16L305.9,167.7L303.61,169.16L304.28,166.53L302.19,164.79L304.9,164.62ZM314.1,160.9L315.1,163.42L317.81,163.59L315.72,165.33L316.39,167.96L314.1,166.5L311.81,167.96L312.48,165.33L310.39,163.59L313.1,163.42ZM322.3,159.2L323.3,161.72L326.01,161.89L323.92,163.63L324.59,166.26L322.3,164.8L320.01,166.26L320.68,163.63L318.59,161.89L321.3,161.72ZM330.5,157.4L331.5,159.92L334.21,160.09L332.12,161.83L332.79,164.46L330.5,163L328.21,164.46L328.88,161.83L326.79,160.09L329.5,159.92ZM338.7,155.7L339.7,158.22L342.41,158.39L340.32,160.13L340.99,162.76L338.7,161.3L336.41,162.76L337.08,160.13L334.99,158.39L337.7,158.22ZM346.9,153.4L347.9,155.92L350.61,156.09L348.52,157.83L349.19,160.46L346.9,159L344.61,160.46L345.28,157.83L343.19,156.09L345.9,155.92ZM355.1,150.3L356.1,152.82L358.81,152.99L356.72,154.73L357.39,157.36L355.1,155.9L352.81,157.36L353.48,154.73L351.39,152.99L354.1,152.82ZM363.3,147L364.3,149.52L367.01,149.69L364.92,151.43L365.59,154.06L363.3,152.6L361.01,154.06L361.68,151.43L359.59,149.69L362.3,149.52ZM371.5,142.9L372.5,145.42L375.21,145.59L373.12,147.33L373.79,149.96L371.5,148.5L369.21,149.96L369.88,147.33L367.79,145.59L370.5,145.42ZM378.6,137.7L379.6,140.22L382.31,140.39L380.22,142.13L380.89,144.76L378.6,143.3L376.31,144.76L376.98,142.13L374.89,140.39L377.6,140.22ZM381.4,134.4L382.4,136.92L385.11,137.09L383.02,138.83L383.69,141.46L381.4,140L379.11,141.46L379.78,138.83L377.69,137.09L380.4,136.92ZM384.1,130.9L385.1,133.42L387.81,133.59L385.72,135.33L386.39,137.96L384.1,136.5L381.81,137.96L382.48,135.33L380.39,133.59L383.1,133.42ZM386.6,127.3L387.6,129.82L390.31,129.99L388.22,131.73L388.89,134.36L386.6,132.9L384.31,134.36L384.98,131.73L382.89,129.99L385.6,129.82ZM388.8,123.7L389.8,126.22L392.51,126.39L390.42,128.13L391.09,130.76L388.8,129.3L386.51,130.76L387.18,128.13L385.09,126.39L387.8,126.22ZM390.8,120.6L391.8,123.12L394.51,123.29L392.42,125.03L393.09,127.66L390.8,126.2L388.51,127.66L389.18,125.03L387.09,123.29L389.8,123.12ZM392.7,117.7L393.7,120.22L396.41,120.39L394.32,122.13L394.99,124.76L392.7,123.3L390.41,124.76L391.08,122.13L388.99,120.39L391.7,120.22ZM397.4,93.9L398.4,96.42L401.11,96.59L399.02,98.33L399.69,100.96L397.4,99.5L395.11,100.96L395.78,98.33L393.69,96.59L396.4,96.42ZM398.2,77.4L399.2,79.92L401.91,80.09L399.82,81.83L400.49,84.46L398.2,83L395.91,84.46L396.58,81.83L394.49,80.09L397.2,79.92ZM400.2,77.4L401.2,79.92L403.91,80.09L401.82,81.83L402.49,84.46L400.2,83L397.91,84.46L398.58,81.83L396.49,80.09L399.2,79.92ZM401.2,93.9L402.2,96.42L404.91,96.59L402.82,98.33L403.49,100.96L401.2,99.5L398.91,100.96L399.58,98.33L397.49,96.59L400.2,96.42ZM402.6,105.6L403.6,108.12L406.31,108.29L404.22,110.03L404.89,112.66L402.6,111.2L400.31,112.66L400.98,110.03L398.89,108.29L401.6,108.12ZM404.8,118.3L405.8,120.82L408.51,120.99L406.42,122.73L407.09,125.36L404.8,123.9L402.51,125.36L403.18,122.73L401.09,120.99L403.8,120.82ZM408.7,125.1L409.7,127.62L412.41,127.79L410.32,129.53L410.99,132.16L408.7,130.7L406.41,132.16L407.08,129.53L404.99,127.79L407.7,127.62ZM412.6,130.4L413.6,132.92L416.31,133.09L414.22,134.83L414.89,137.46L412.6,136L410.31,137.46L410.98,134.83L408.89,133.09L411.6,132.92ZM420.4,138.9L421.4,141.42L424.11,141.59L422.02,143.33L422.69,145.96L420.4,144.5L418.11,145.96L418.78,143.33L416.69,141.59L419.4,141.42ZM428.9,144.6L429.9,147.12L432.61,147.29L430.52,149.03L431.19,151.66L428.9,150.2L426.61,151.66L427.28,149.03L425.19,147.29L427.9,147.12ZM436.8,148.8L437.8,151.32L440.51,151.49L438.42,153.23L439.09,155.86L436.8,154.4L434.51,155.86L435.18,153.23L433.09,151.49L435.8,151.32ZM444.9,152.5L445.9,155.02L448.61,155.19L446.52,156.93L447.19,159.56L444.9,158.1L442.61,159.56L443.28,156.93L441.19,155.19L443.9,155.02ZM453.1,155.5L454.1,158.02L456.81,158.19L454.72,159.93L455.39,162.56L453.1,161.1L450.81,162.56L451.48,159.93L449.39,158.19L452.1,158.02ZM461.3,158.4L462.3,160.92L465.01,161.09L462.92,162.83L463.59,165.46L461.3,164L459.01,165.46L459.68,162.83L457.59,161.09L460.3,160.92ZM469.5,160.7L470.5,163.22L473.21,163.39L471.12,165.13L471.79,167.76L469.5,166.3L467.21,167.76L467.88,165.13L465.79,163.39L468.5,163.22ZM478.2,162.7L479.2,165.22L481.91,165.39L479.82,167.13L480.49,169.76L478.2,168.3L475.91,169.76L476.58,167.13L474.49,165.39L477.2,165.22Z" fill="#ff1f1f"/>
<path d="M399.1,53.8L400.16,56.54L403.09,56.7L400.81,58.56L401.57,61.4L399.1,59.8L396.63,61.4L397.39,58.56L395.11,56.7L398.04,56.54Z" fill="#ff1f1f"/>
<g fill="#fcd9b0" stroke="#2e9fa2" stroke-width="1.0"><circle cx="281.3" cy="42.94" r="3.35"/><circle cx="289.5" cy="47.67" r="3.35"/><circle cx="297.71" cy="52.43" r="3.35"/><circle cx="305.92" cy="57.23" r="3.35"/><circle cx="314.12" cy="62.07" r="3.35"/><circle cx="322.32" cy="66.94" r="3.35"/><circle cx="330.53" cy="71.84" r="3.35"/><circle cx="338.74" cy="76.78" r="3.35"/><circle cx="346.94" cy="81.76" r="3.35"/><circle cx="355.14" cy="86.77" r="3.35"/><circle cx="363.35" cy="91.82" r="3.35"/><circle cx="371.56" cy="96.9" r="3.35"/><circle cx="378.12" cy="101" r="3.35"/><circle cx="379.92" cy="102.13" r="3.35"/><circle cx="381.73" cy="103.26" r="3.35"/><circle cx="383.53" cy="104.39" r="3.35"/><circle cx="385.34" cy="105.53" r="3.35"/><circle cx="387.14" cy="106.66" r="3.35"/><circle cx="388.95" cy="107.8" r="3.35"/><circle cx="390.75" cy="108.94" r="3.35"/><circle cx="392.56" cy="110.08" r="3.35"/><circle cx="394.36" cy="111.23" r="3.35"/><circle cx="396.17" cy="112.37" r="3.35"/><circle cx="397.98" cy="113.52" r="3.35"/><circle cx="399.78" cy="114.67" r="3.35"/><circle cx="401.59" cy="115.82" r="3.35"/><circle cx="403.39" cy="116.97" r="3.35"/><circle cx="405.2" cy="118.12" r="3.35"/><circle cx="407" cy="119.28" r="3.35"/><circle cx="408.81" cy="120.44" r="3.35"/><circle cx="410.61" cy="121.59" r="3.35"/><circle cx="412.58" cy="122.86" r="3.35"/><circle cx="420.79" cy="128.16" r="3.35"/><circle cx="428.99" cy="133.49" r="3.35"/><circle cx="437.2" cy="138.86" r="3.35"/><circle cx="445.4" cy="144.27" r="3.35"/><circle cx="453.61" cy="149.71" r="3.35"/><circle cx="461.81" cy="155.19" r="3.35"/><circle cx="470.01" cy="160.7" r="3.35"/><circle cx="478.22" cy="166.25" r="3.35"/></g>
<path d="M281.3,39.04L282.3,41.57L285.01,41.74L282.92,43.47L283.59,46.1L281.3,44.64L279.01,46.1L279.68,43.47L277.59,41.74L280.3,41.57ZM289.5,43.77L290.5,46.29L293.21,46.46L291.12,48.2L291.8,50.82L289.5,49.37L287.21,50.82L287.89,48.2L285.8,46.46L288.51,46.29ZM297.71,48.53L298.71,51.06L301.42,51.23L299.33,52.96L300,55.59L297.71,54.13L295.42,55.59L296.09,52.96L294,51.23L296.71,51.06ZM305.92,53.33L306.91,55.86L309.62,56.03L307.53,57.76L308.21,60.39L305.92,58.93L303.62,60.39L304.3,57.76L302.21,56.03L304.92,55.86ZM314.12,58.17L315.12,60.69L317.83,60.86L315.74,62.59L316.41,65.22L314.12,63.77L311.83,65.22L312.5,62.59L310.41,60.86L313.12,60.69ZM322.32,63.04L323.32,65.56L326.03,65.73L323.94,67.46L324.62,70.09L322.32,68.64L320.03,70.09L320.71,67.46L318.62,65.73L321.33,65.56ZM330.53,67.94L331.53,70.47L334.24,70.64L332.15,72.37L332.82,75L330.53,73.54L328.24,75L328.91,72.37L326.82,70.64L329.53,70.47ZM338.74,72.88L339.73,75.41L342.44,75.58L340.35,77.31L341.03,79.94L338.74,78.48L336.44,79.94L337.12,77.31L335.03,75.58L337.74,75.41ZM346.94,77.86L347.94,80.38L350.65,80.55L348.56,82.28L349.23,84.91L346.94,83.46L344.65,84.91L345.32,82.28L343.23,80.55L345.94,80.38ZM355.14,82.87L356.14,85.4L358.85,85.57L356.76,87.3L357.44,89.93L355.14,88.47L352.85,89.93L353.53,87.3L351.44,85.57L354.15,85.4ZM363.35,87.92L364.35,90.45L367.06,90.62L364.97,92.35L365.64,94.98L363.35,93.52L361.06,94.98L361.73,92.35L359.64,90.62L362.35,90.45ZM371.56,93L372.55,95.53L375.26,95.7L373.17,97.43L373.85,100.06L371.56,98.6L369.26,100.06L369.94,97.43L367.85,95.7L370.56,95.53ZM378.12,97.1L379.12,99.62L381.83,99.79L379.74,101.52L380.41,104.15L378.12,102.7L375.83,104.15L376.5,101.52L374.41,99.79L377.12,99.62ZM379.92,98.23L380.92,100.75L383.63,100.92L381.54,102.65L382.22,105.28L379.92,103.83L377.63,105.28L378.31,102.65L376.21,100.92L378.92,100.75ZM381.73,99.36L382.73,101.88L385.44,102.05L383.35,103.78L384.02,106.41L381.73,104.96L379.44,106.41L380.11,103.78L378.02,102.05L380.73,101.88ZM383.53,100.49L384.53,103.02L387.24,103.19L385.15,104.92L385.83,107.55L383.53,106.09L381.24,107.55L381.92,104.92L379.83,103.19L382.54,103.02ZM385.34,101.63L386.34,104.15L389.05,104.32L386.96,106.05L387.63,108.68L385.34,107.23L383.05,108.68L383.72,106.05L381.63,104.32L384.34,104.15ZM387.14,102.76L388.14,105.29L390.85,105.46L388.76,107.19L389.44,109.82L387.14,108.36L384.85,109.82L385.53,107.19L383.44,105.46L386.15,105.29ZM388.95,103.9L389.95,106.43L392.66,106.6L390.57,108.33L391.24,110.96L388.95,109.5L386.66,110.96L387.33,108.33L385.24,106.6L387.95,106.43ZM390.75,105.04L391.75,107.57L394.46,107.74L392.37,109.47L393.05,112.1L390.75,110.64L388.46,112.1L389.14,109.47L387.05,107.74L389.76,107.57ZM392.56,106.18L393.56,108.71L396.27,108.88L394.18,110.61L394.85,113.24L392.56,111.78L390.27,113.24L390.94,110.61L388.85,108.88L391.56,108.71ZM394.36,107.33L395.36,109.85L398.07,110.02L395.98,111.75L396.66,114.38L394.36,112.93L392.07,114.38L392.75,111.75L390.66,110.02L393.37,109.85ZM396.17,108.47L397.17,111L399.88,111.17L397.79,112.9L398.46,115.53L396.17,114.07L393.88,115.53L394.55,112.9L392.46,111.17L395.17,111ZM397.98,109.62L398.97,112.14L401.68,112.31L399.59,114.04L400.27,116.67L397.98,115.22L395.68,116.67L396.36,114.04L394.27,112.31L396.98,112.14ZM399.78,110.77L400.78,113.29L403.49,113.46L401.4,115.19L402.07,117.82L399.78,116.37L397.49,117.82L398.16,115.19L396.07,113.46L398.78,113.29ZM401.59,111.92L402.58,114.44L405.29,114.61L403.2,116.34L403.88,118.97L401.59,117.52L399.29,118.97L399.97,116.34L397.88,114.61L400.59,114.44ZM403.39,113.07L404.39,115.59L407.1,115.76L405.01,117.49L405.68,120.12L403.39,118.67L401.1,120.12L401.77,117.49L399.68,115.76L402.39,115.59ZM405.2,114.22L406.19,116.75L408.9,116.92L406.81,118.65L407.49,121.28L405.2,119.82L402.9,121.28L403.58,118.65L401.49,116.92L404.2,116.75ZM407,115.38L408,117.9L410.71,118.07L408.62,119.8L409.29,122.43L407,120.98L404.71,122.43L405.38,119.8L403.29,118.07L406,117.9ZM408.81,116.54L409.8,119.06L412.51,119.23L410.42,120.96L411.1,123.59L408.81,122.14L406.51,123.59L407.19,120.96L405.1,119.23L407.81,119.06ZM410.61,117.69L411.61,120.22L414.32,120.39L412.23,122.12L412.9,124.75L410.61,123.29L408.32,124.75L408.99,122.12L406.9,120.39L409.61,120.22ZM412.58,118.96L413.58,121.49L416.29,121.66L414.2,123.39L414.87,126.02L412.58,124.56L410.29,126.02L410.96,123.39L408.87,121.66L411.58,121.49ZM420.79,124.26L421.78,126.78L424.49,126.95L422.4,128.68L423.08,131.31L420.79,129.86L418.49,131.31L419.17,128.68L417.08,126.95L419.79,126.78ZM428.99,129.59L429.99,132.12L432.7,132.29L430.61,134.02L431.28,136.65L428.99,135.19L426.7,136.65L427.37,134.02L425.28,132.29L427.99,132.12ZM437.2,134.96L438.19,137.49L440.9,137.66L438.81,139.39L439.49,142.02L437.2,140.56L434.9,142.02L435.58,139.39L433.49,137.66L436.2,137.49ZM445.4,140.37L446.4,142.89L449.11,143.06L447.02,144.79L447.69,147.42L445.4,145.97L443.11,147.42L443.78,144.79L441.69,143.06L444.4,142.89ZM453.61,145.81L454.6,148.33L457.31,148.5L455.22,150.23L455.9,152.86L453.61,151.41L451.31,152.86L451.99,150.23L449.9,148.5L452.61,148.33ZM461.81,151.29L462.81,153.81L465.52,153.98L463.43,155.71L464.1,158.34L461.81,156.89L459.52,158.34L460.19,155.71L458.1,153.98L460.81,153.81ZM470.01,156.8L471.01,159.32L473.72,159.49L471.63,161.22L472.31,163.85L470.01,162.4L467.72,163.85L468.4,161.22L466.31,159.49L469.02,159.32ZM478.22,162.35L479.22,164.87L481.93,165.04L479.84,166.77L480.51,169.4L478.22,167.95L475.93,169.4L476.6,166.77L474.51,165.04L477.22,164.87Z" fill="#fa923a"/>
<ellipse cx="312.2" cy="162.4" rx="7.9" ry="11.9" fill="none" stroke="#7b35b3" stroke-width="1.7" stroke-dasharray="4,2"/>
<line x1="283.5" y1="155.6" x2="300.2" y2="155.6" stroke="#7b35b3" stroke-width="1.8" stroke-dasharray="1.6,1.4"/>
<path d="M275.3,155.6L284,151.8L282.4,155.6L284,159.4Z" fill="#7b35b3"/>
<ellipse cx="443.9" cy="135.3" rx="6.5" ry="10.6" fill="none" stroke="#1677cc" stroke-width="1.7" stroke-dasharray="4,2"/>
<line x1="451.7" y1="137" x2="471" y2="137" stroke="#1677cc" stroke-width="1.8" stroke-dasharray="1.6,1.4"/>
<path d="M479.5,137L470.8,133.2L472.4,137L470.8,140.8Z" fill="#1677cc"/>
<polyline points="426.8,28.6 459.9,28.6" fill="none" stroke="#555" stroke-width="1.1" stroke-linejoin="round"/>
<g fill="#fff" stroke="#333" stroke-width="1.1"><circle cx="443.35" cy="28.6" r="3.0"/></g>
<polyline points="426.8,49.5 459.9,49.5" fill="none" stroke="#e3262b" stroke-width="1.1" stroke-linejoin="round"/>
<path d="M443.35,45.5L444.29,48.21L447.15,48.26L444.87,49.99L445.7,52.74L443.35,51.1L441,52.74L441.83,49.99L439.55,48.26L442.41,48.21Z" fill="#ff1f1f"/>
<text x="465" y="32.9" font-size="12" text-anchor="start" font-weight="normal" font-style="normal" fill="#000">M<tspan font-size="8.5" dy="3">B1</tspan></text>
<text x="465" y="53.8" font-size="12" text-anchor="start" font-weight="normal" font-style="normal" fill="#000">M<tspan font-size="8.5" dy="3">B2</tspan></text>
<path d="M268.6,258.2H497.2V441.2H268.6Z" fill="none" stroke="#1a1a1a" stroke-width="1.2"/>
<path d="M268.6,433.33h2.6M268.6,428.73h2.6M268.6,425.46h2.6M268.6,422.93h2.6M268.6,420.86h2.6M268.6,419.11h2.6M268.6,417.59h2.6M268.6,416.25h2.6M268.6,415.06h5.0M268.6,407.19h2.6M268.6,402.58h2.6M268.6,399.32h2.6M268.6,396.78h2.6M268.6,394.71h2.6M268.6,392.96h2.6M268.6,391.45h2.6M268.6,390.11h2.6M268.6,388.91h5.0M268.6,381.04h2.6M268.6,376.44h2.6M268.6,373.17h2.6M268.6,370.64h2.6M268.6,368.57h2.6M268.6,366.82h2.6M268.6,365.3h2.6M268.6,363.97h2.6M268.6,362.77h5.0M268.6,354.9h2.6M268.6,350.3h2.6M268.6,347.03h2.6M268.6,344.5h2.6M268.6,342.43h2.6M268.6,340.68h2.6M268.6,339.16h2.6M268.6,337.82h2.6M268.6,336.63h5.0M268.6,328.76h2.6M268.6,324.16h2.6M268.6,320.89h2.6M268.6,318.36h2.6M268.6,316.29h2.6M268.6,314.54h2.6M268.6,313.02h2.6M268.6,311.68h2.6M268.6,310.49h5.0M268.6,302.62h2.6M268.6,298.01h2.6M268.6,294.75h2.6M268.6,292.21h2.6M268.6,290.14h2.6M268.6,288.39h2.6M268.6,286.88h2.6M268.6,285.54h2.6M268.6,284.34h5.0M268.6,276.47h2.6M268.6,271.87h2.6M268.6,268.6h2.6M268.6,266.07h2.6M268.6,264h2.6M268.6,262.25h2.6M268.6,260.73h2.6M268.6,259.4h2.6M497.2,418.32h-2.8M497.2,395.45h-4.5M497.2,372.57h-2.8M497.2,349.7h-4.5M497.2,326.82h-2.8M497.2,303.95h-4.5M497.2,281.07h-2.8M287,441.2v-4.5M325.4,441.2v-4.5M363.8,441.2v-4.5M402.2,441.2v-4.5M440.6,441.2v-4.5M479,441.2v-4.5M306.2,441.2v-2.8M344.6,441.2v-2.8M383,441.2v-2.8M421.4,441.2v-2.8M459.8,441.2v-2.8" fill="none" stroke="#1a1a1a" stroke-width="1"/>
<text x="287" y="456.2" font-size="12" text-anchor="middle" font-weight="normal" font-style="normal" fill="#000">60</text>
<text x="325.4" y="456.2" font-size="12" text-anchor="middle" font-weight="normal" font-style="normal" fill="#000">70</text>
<text x="363.8" y="456.2" font-size="12" text-anchor="middle" font-weight="normal" font-style="normal" fill="#000">80</text>
<text x="402.2" y="456.2" font-size="12" text-anchor="middle" font-weight="normal" font-style="normal" fill="#000">90</text>
<text x="440.6" y="456.2" font-size="12" text-anchor="middle" font-weight="normal" font-style="normal" fill="#000">100</text>
<text x="479" y="456.2" font-size="12" text-anchor="middle" font-weight="normal" font-style="normal" fill="#000">110</text>
<text x="262.4" y="448" font-size="12" text-anchor="end" font-weight="normal" font-style="normal" fill="#000">10<tspan font-size="8.6" dy="-5" dx="0.6">3</tspan></text>
<text x="262.4" y="395.71" font-size="12" text-anchor="end" font-weight="normal" font-style="normal" fill="#000">10<tspan font-size="8.6" dy="-5" dx="0.6">5</tspan></text>
<text x="262.4" y="343.43" font-size="12" text-anchor="end" font-weight="normal" font-style="normal" fill="#000">10<tspan font-size="8.6" dy="-5" dx="0.6">7</tspan></text>
<text x="262.4" y="291.14" font-size="12" text-anchor="end" font-weight="normal" font-style="normal" fill="#000">10<tspan font-size="8.6" dy="-5" dx="0.6">9</tspan></text>
<text x="502.2" y="446.4" font-size="12" text-anchor="start" font-weight="normal" font-style="normal" fill="#000">1480</text>
<text x="502.2" y="400.65" font-size="12" text-anchor="start" font-weight="normal" font-style="normal" fill="#000">1520</text>
<text x="502.2" y="354.9" font-size="12" text-anchor="start" font-weight="normal" font-style="normal" fill="#000">1560</text>
<text x="502.2" y="309.15" font-size="12" text-anchor="start" font-weight="normal" font-style="normal" fill="#000">1600</text>
<text x="502.2" y="263.4" font-size="12" text-anchor="start" font-weight="normal" font-style="normal" fill="#000">1640</text>
<text x="236.5" y="365.3" font-size="12" text-anchor="middle" font-weight="normal" font-style="normal" fill="#000" transform="rotate(-90 236.5 365.3)">Q-factors</text>
<text x="547.3" y="330" font-size="12" text-anchor="middle" font-weight="normal" font-style="normal" fill="#000" transform="rotate(-90 547.3 330)">wavelength (nm)</text>
<text x="382.9" y="473" font-size="12" text-anchor="middle" font-weight="normal" font-style="normal" fill="#000"><tspan font-style="italic">R</tspan><tspan font-size="8.5" dy="3">2</tspan><tspan dy="-3"> (nm)</tspan></text>
<polyline points="287,331.54 296.6,334.44 306.2,337.41 315.8,340.46 325.4,343.58 335,346.77 344.6,350.03 354.2,353.37 363.8,356.79 373.4,360.28 383,363.84 392.6,367.47 402.2,371.18 411.8,374.96 421.4,378.82 423.7,379.75 426.01,380.7 428.31,381.64 430.62,382.59 432.92,383.54 435.22,384.5 437.53,385.46 439.83,386.43 450.2,390.83 459.8,394.98 469.4,399.2 479,403.5" fill="none" stroke="#f7a04e" stroke-width="1.3" stroke-linejoin="round"/>
<g fill="#fcd9b0" stroke="#2e9fa2" stroke-width="1.0"><circle cx="287" cy="331.54" r="3.35"/><circle cx="296.6" cy="334.44" r="3.35"/><circle cx="306.2" cy="337.41" r="3.35"/><circle cx="315.8" cy="340.46" r="3.35"/><circle cx="325.4" cy="343.58" r="3.35"/><circle cx="335" cy="346.77" r="3.35"/><circle cx="344.6" cy="350.03" r="3.35"/><circle cx="354.2" cy="353.37" r="3.35"/><circle cx="363.8" cy="356.79" r="3.35"/><circle cx="373.4" cy="360.28" r="3.35"/><circle cx="383" cy="363.84" r="3.35"/><circle cx="392.6" cy="367.47" r="3.35"/><circle cx="402.2" cy="371.18" r="3.35"/><circle cx="411.8" cy="374.96" r="3.35"/><circle cx="421.4" cy="378.82" r="3.35"/><circle cx="423.7" cy="379.75" r="3.35"/><circle cx="426.01" cy="380.7" r="3.35"/><circle cx="428.31" cy="381.64" r="3.35"/><circle cx="430.62" cy="382.59" r="3.35"/><circle cx="432.92" cy="383.54" r="3.35"/><circle cx="435.22" cy="384.5" r="3.35"/><circle cx="437.53" cy="385.46" r="3.35"/><circle cx="439.83" cy="386.43" r="3.35"/><circle cx="450.2" cy="390.83" r="3.35"/><circle cx="459.8" cy="394.98" r="3.35"/><circle cx="469.4" cy="399.2" r="3.35"/><circle cx="479" cy="403.5" r="3.35"/></g>
<path d="M287,327.64L288,330.17L290.71,330.34L288.62,332.07L289.29,334.7L287,333.24L284.71,334.7L285.38,332.07L283.29,330.34L286,330.17ZM296.6,330.54L297.6,333.06L300.31,333.23L298.22,334.96L298.89,337.59L296.6,336.14L294.31,337.59L294.98,334.96L292.89,333.23L295.6,333.06ZM306.2,333.51L307.2,336.04L309.91,336.21L307.82,337.94L308.49,340.57L306.2,339.11L303.91,340.57L304.58,337.94L302.49,336.21L305.2,336.04ZM315.8,336.56L316.8,339.08L319.51,339.25L317.42,340.98L318.09,343.61L315.8,342.16L313.51,343.61L314.18,340.98L312.09,339.25L314.8,339.08ZM325.4,339.68L326.4,342.2L329.11,342.37L327.02,344.1L327.69,346.73L325.4,345.28L323.11,346.73L323.78,344.1L321.69,342.37L324.4,342.2ZM335,342.87L336,345.39L338.71,345.56L336.62,347.29L337.29,349.92L335,348.47L332.71,349.92L333.38,347.29L331.29,345.56L334,345.39ZM344.6,346.13L345.6,348.66L348.31,348.83L346.22,350.56L346.89,353.19L344.6,351.73L342.31,353.19L342.98,350.56L340.89,348.83L343.6,348.66ZM354.2,349.47L355.2,352L357.91,352.17L355.82,353.9L356.49,356.53L354.2,355.07L351.91,356.53L352.58,353.9L350.49,352.17L353.2,352ZM363.8,352.89L364.8,355.41L367.51,355.58L365.42,357.31L366.09,359.94L363.8,358.49L361.51,359.94L362.18,357.31L360.09,355.58L362.8,355.41ZM373.4,356.38L374.4,358.9L377.11,359.07L375.02,360.8L375.69,363.43L373.4,361.98L371.11,363.43L371.78,360.8L369.69,359.07L372.4,358.9ZM383,359.94L384,362.46L386.71,362.63L384.62,364.36L385.29,366.99L383,365.54L380.71,366.99L381.38,364.36L379.29,362.63L382,362.46ZM392.6,363.57L393.6,366.1L396.31,366.27L394.22,368L394.89,370.63L392.6,369.17L390.31,370.63L390.98,368L388.89,366.27L391.6,366.1ZM402.2,367.28L403.2,369.81L405.91,369.98L403.82,371.71L404.49,374.34L402.2,372.88L399.91,374.34L400.58,371.71L398.49,369.98L401.2,369.81ZM411.8,371.06L412.8,373.59L415.51,373.76L413.42,375.49L414.09,378.12L411.8,376.66L409.51,378.12L410.18,375.49L408.09,373.76L410.8,373.59ZM421.4,374.92L422.4,377.44L425.11,377.61L423.02,379.34L423.69,381.97L421.4,380.52L419.11,381.97L419.78,379.34L417.69,377.61L420.4,377.44ZM423.7,375.85L424.7,378.38L427.41,378.55L425.32,380.28L426,382.91L423.7,381.45L421.41,382.91L422.09,380.28L419.99,378.55L422.7,378.38ZM426.01,376.8L427.01,379.32L429.72,379.49L427.62,381.22L428.3,383.85L426.01,382.4L423.72,383.85L424.39,381.22L422.3,379.49L425.01,379.32ZM428.31,377.74L429.31,380.27L432.02,380.44L429.93,382.17L430.6,384.8L428.31,383.34L426.02,384.8L426.7,382.17L424.6,380.44L427.31,380.27ZM430.62,378.69L431.62,381.21L434.33,381.38L432.23,383.11L432.91,385.74L430.62,384.29L428.32,385.74L429,383.11L426.91,381.38L429.62,381.21ZM432.92,379.64L433.92,382.17L436.63,382.34L434.54,384.07L435.21,386.7L432.92,385.24L430.63,386.7L431.3,384.07L429.21,382.34L431.92,382.17ZM435.22,380.6L436.22,383.13L438.93,383.3L436.84,385.03L437.52,387.66L435.22,386.2L432.93,387.66L433.61,385.03L431.51,383.3L434.22,383.13ZM437.53,381.56L438.53,384.09L441.24,384.26L439.14,385.99L439.82,388.62L437.53,387.16L435.24,388.62L435.91,385.99L433.82,384.26L436.53,384.09ZM439.83,382.53L440.83,385.05L443.54,385.22L441.45,386.95L442.12,389.58L439.83,388.13L437.54,389.58L438.22,386.95L436.12,385.22L438.83,385.05ZM450.2,386.93L451.2,389.45L453.91,389.62L451.82,391.35L452.49,393.98L450.2,392.53L447.91,393.98L448.58,391.35L446.49,389.62L449.2,389.45ZM459.8,391.08L460.8,393.6L463.51,393.77L461.42,395.5L462.09,398.13L459.8,396.68L457.51,398.13L458.18,395.5L456.09,393.77L458.8,393.6ZM469.4,395.3L470.4,397.83L473.11,398L471.02,399.73L471.69,402.36L469.4,400.9L467.11,402.36L467.78,399.73L465.69,398L468.4,397.83ZM479,399.6L480,402.12L482.71,402.29L480.62,404.03L481.29,406.66L479,405.2L476.71,406.66L477.38,404.03L475.29,402.29L478,402.12Z" fill="#fa923a"/>
<polyline points="287.3,423.6 296.9,422.3 306.5,421.1 316.1,420 325.7,418.5 335.2,416.7 344.7,414.6 354.3,412.7 363.8,410.1 373.5,407 382.9,403.5 392.3,398.9 401.9,393.3 411.6,384.4 421.2,370.4 425.5,360.6 428.6,343.2 430.6,322.4 432.3,310.5 431.6,284.3 434.3,339.5 436.3,351.8 440.2,366 450,383.2 459.7,393.7 469.3,400.3 479,405.9" fill="none" stroke="#555" stroke-width="1.1" stroke-linejoin="round"/>
<polyline points="287.3,423.6 296.9,422.3 306.5,421.1 316.1,420 325.7,418.5 335.2,416.7 344.7,414.6 354.3,412.7 363.8,410.1 373.5,407 382.9,403.5 392.3,398.9 401.9,393.3 411.6,384.4 421.2,370.4 425.5,360.6 428.6,343.2 430.6,322.4 432.3,310.5 431.6,278.8 434.3,339.5 436.3,351.8 440.2,366 450,383.2 459.7,393.7 469.3,400.3 479,405.9" fill="none" stroke="#c8262b" stroke-width="1.3" stroke-linejoin="round"/>
<g fill="none" stroke="#404040" stroke-width="1.1"><circle cx="431.6" cy="284.3" r="3.6"/></g>
<g fill="#f9b7b7" stroke="#404040" stroke-width="1.15"><circle cx="287.3" cy="423.6" r="3.35"/><circle cx="296.9" cy="422.3" r="3.35"/><circle cx="306.5" cy="421.1" r="3.35"/><circle cx="316.1" cy="420" r="3.35"/><circle cx="325.7" cy="418.5" r="3.35"/><circle cx="335.2" cy="416.7" r="3.35"/><circle cx="344.7" cy="414.6" r="3.35"/><circle cx="354.3" cy="412.7" r="3.35"/><circle cx="363.8" cy="410.1" r="3.35"/><circle cx="373.5" cy="407" r="3.35"/><circle cx="382.9" cy="403.5" r="3.35"/><circle cx="392.3" cy="398.9" r="3.35"/><circle cx="401.9" cy="393.3" r="3.35"/><circle cx="411.6" cy="384.4" r="3.35"/><circle cx="421.2" cy="370.4" r="3.35"/><circle cx="425.5" cy="360.6" r="3.35"/><circle cx="428.6" cy="343.2" r="3.35"/><circle cx="430.6" cy="322.4" r="3.35"/><circle cx="432.3" cy="310.5" r="3.35"/><circle cx="434.3" cy="339.5" r="3.35"/><circle cx="436.3" cy="351.8" r="3.35"/><circle cx="440.2" cy="366" r="3.35"/><circle cx="450" cy="383.2" r="3.35"/><circle cx="459.7" cy="393.7" r="3.35"/><circle cx="469.3" cy="400.3" r="3.35"/><circle cx="479" cy="405.9" r="3.35"/></g>
<path d="M287.3,419.7L288.3,422.22L291.01,422.39L288.92,424.13L289.59,426.76L287.3,425.3L285.01,426.76L285.68,424.13L283.59,422.39L286.3,422.22ZM296.9,418.4L297.9,420.92L300.61,421.09L298.52,422.83L299.19,425.46L296.9,424L294.61,425.46L295.28,422.83L293.19,421.09L295.9,420.92ZM306.5,417.2L307.5,419.72L310.21,419.89L308.12,421.63L308.79,424.26L306.5,422.8L304.21,424.26L304.88,421.63L302.79,419.89L305.5,419.72ZM316.1,416.1L317.1,418.62L319.81,418.79L317.72,420.53L318.39,423.16L316.1,421.7L313.81,423.16L314.48,420.53L312.39,418.79L315.1,418.62ZM325.7,414.6L326.7,417.12L329.41,417.29L327.32,419.03L327.99,421.66L325.7,420.2L323.41,421.66L324.08,419.03L321.99,417.29L324.7,417.12ZM335.2,412.8L336.2,415.32L338.91,415.49L336.82,417.23L337.49,419.86L335.2,418.4L332.91,419.86L333.58,417.23L331.49,415.49L334.2,415.32ZM344.7,410.7L345.7,413.22L348.41,413.39L346.32,415.13L346.99,417.76L344.7,416.3L342.41,417.76L343.08,415.13L340.99,413.39L343.7,413.22ZM354.3,408.8L355.3,411.32L358.01,411.49L355.92,413.23L356.59,415.86L354.3,414.4L352.01,415.86L352.68,413.23L350.59,411.49L353.3,411.32ZM363.8,406.2L364.8,408.72L367.51,408.89L365.42,410.63L366.09,413.26L363.8,411.8L361.51,413.26L362.18,410.63L360.09,408.89L362.8,408.72ZM373.5,403.1L374.5,405.62L377.21,405.79L375.12,407.53L375.79,410.16L373.5,408.7L371.21,410.16L371.88,407.53L369.79,405.79L372.5,405.62ZM382.9,399.6L383.9,402.12L386.61,402.29L384.52,404.03L385.19,406.66L382.9,405.2L380.61,406.66L381.28,404.03L379.19,402.29L381.9,402.12ZM392.3,395L393.3,397.52L396.01,397.69L393.92,399.43L394.59,402.06L392.3,400.6L390.01,402.06L390.68,399.43L388.59,397.69L391.3,397.52ZM401.9,389.4L402.9,391.92L405.61,392.09L403.52,393.83L404.19,396.46L401.9,395L399.61,396.46L400.28,393.83L398.19,392.09L400.9,391.92ZM411.6,380.5L412.6,383.02L415.31,383.19L413.22,384.93L413.89,387.56L411.6,386.1L409.31,387.56L409.98,384.93L407.89,383.19L410.6,383.02ZM421.2,366.5L422.2,369.02L424.91,369.19L422.82,370.93L423.49,373.56L421.2,372.1L418.91,373.56L419.58,370.93L417.49,369.19L420.2,369.02ZM425.5,356.7L426.5,359.22L429.21,359.39L427.12,361.13L427.79,363.76L425.5,362.3L423.21,363.76L423.88,361.13L421.79,359.39L424.5,359.22ZM428.6,339.3L429.6,341.82L432.31,341.99L430.22,343.73L430.89,346.36L428.6,344.9L426.31,346.36L426.98,343.73L424.89,341.99L427.6,341.82ZM430.6,318.5L431.6,321.02L434.31,321.19L432.22,322.93L432.89,325.56L430.6,324.1L428.31,325.56L428.98,322.93L426.89,321.19L429.6,321.02ZM432.3,306.6L433.3,309.12L436.01,309.29L433.92,311.03L434.59,313.66L432.3,312.2L430.01,313.66L430.68,311.03L428.59,309.29L431.3,309.12ZM434.3,335.6L435.3,338.12L438.01,338.29L435.92,340.03L436.59,342.66L434.3,341.2L432.01,342.66L432.68,340.03L430.59,338.29L433.3,338.12ZM436.3,347.9L437.3,350.42L440.01,350.59L437.92,352.33L438.59,354.96L436.3,353.5L434.01,354.96L434.68,352.33L432.59,350.59L435.3,350.42ZM440.2,362.1L441.2,364.62L443.91,364.79L441.82,366.53L442.49,369.16L440.2,367.7L437.91,369.16L438.58,366.53L436.49,364.79L439.2,364.62ZM450,379.3L451,381.82L453.71,381.99L451.62,383.73L452.29,386.36L450,384.9L447.71,386.36L448.38,383.73L446.29,381.99L449,381.82ZM459.7,389.8L460.7,392.32L463.41,392.49L461.32,394.23L461.99,396.86L459.7,395.4L457.41,396.86L458.08,394.23L455.99,392.49L458.7,392.32ZM469.3,396.4L470.3,398.92L473.01,399.09L470.92,400.83L471.59,403.46L469.3,402L467.01,403.46L467.68,400.83L465.59,399.09L468.3,398.92ZM479,402L480,404.52L482.71,404.69L480.62,406.43L481.29,409.06L479,407.6L476.71,409.06L477.38,406.43L475.29,404.69L478,404.52Z" fill="#ff1f1f"/>
<path d="M431.6,274.6L432.66,277.34L435.59,277.5L433.31,279.36L434.07,282.2L431.6,280.6L429.13,282.2L429.89,279.36L427.61,277.5L430.54,277.34Z" fill="#ff1f1f"/>
<polyline points="437.4,268.6 465.4,268.6" fill="none" stroke="#555" stroke-width="1.1" stroke-linejoin="round"/>
<g fill="#fff" stroke="#333" stroke-width="1.1"><circle cx="451.4" cy="268.6" r="3.0"/></g>
<polyline points="437.4,289.5 465.4,289.5" fill="none" stroke="#e3262b" stroke-width="1.1" stroke-linejoin="round"/>
<path d="M451.4,285.5L452.34,288.21L455.2,288.26L452.92,289.99L453.75,292.74L451.4,291.1L449.05,292.74L449.88,289.99L447.6,288.26L450.46,288.21Z" fill="#ff1f1f"/>
<text x="470.7" y="272.9" font-size="12" text-anchor="start" font-weight="normal" font-style="normal" fill="#000">M<tspan font-size="8.5" dy="3">B1</tspan></text>
<text x="470.7" y="293.8" font-size="12" text-anchor="start" font-weight="normal" font-style="normal" fill="#000">M<tspan font-size="8.5" dy="3">B2</tspan></text>
<path d="M271,513.6H497V696H271Z" fill="none" stroke="#1a1a1a" stroke-width="1.2"/>
<path d="M271,688.16h2.6M271,683.57h2.6M271,680.31h2.6M271,677.79h2.6M271,675.72h2.6M271,673.98h2.6M271,672.47h2.6M271,671.14h2.6M271,669.94h5.0M271,662.1h2.6M271,657.51h2.6M271,654.25h2.6M271,651.73h2.6M271,649.67h2.6M271,647.92h2.6M271,646.41h2.6M271,645.08h2.6M271,643.89h5.0M271,636.04h2.6M271,631.45h2.6M271,628.2h2.6M271,625.67h2.6M271,623.61h2.6M271,621.86h2.6M271,620.35h2.6M271,619.02h2.6M271,617.83h5.0M271,609.98h2.6M271,605.4h2.6M271,602.14h2.6M271,599.62h2.6M271,597.55h2.6M271,595.81h2.6M271,594.3h2.6M271,592.96h2.6M271,591.77h5.0M271,583.93h2.6M271,579.34h2.6M271,576.08h2.6M271,573.56h2.6M271,571.5h2.6M271,569.75h2.6M271,568.24h2.6M271,566.91h2.6M271,565.71h5.0M271,557.87h2.6M271,553.28h2.6M271,550.03h2.6M271,547.5h2.6M271,545.44h2.6M271,543.69h2.6M271,542.18h2.6M271,540.85h2.6M271,539.66h5.0M271,531.81h2.6M271,527.22h2.6M271,523.97h2.6M271,521.44h2.6M271,519.38h2.6M271,517.64h2.6M271,516.13h2.6M271,514.79h2.6M497,673.2h-2.8M497,650.4h-4.5M497,627.6h-2.8M497,604.8h-4.5M497,582h-2.8M497,559.2h-4.5M497,536.4h-2.8M289.6,696v-4.5M327.8,696v-4.5M366,696v-4.5M404.2,696v-4.5M442.4,696v-4.5M480.6,696v-4.5M308.7,696v-2.8M346.9,696v-2.8M385.1,696v-2.8M423.3,696v-2.8M461.5,696v-2.8" fill="none" stroke="#1a1a1a" stroke-width="1"/>
<text x="289.6" y="711" font-size="12" text-anchor="middle" font-weight="normal" font-style="normal" fill="#000">60</text>
<text x="327.8" y="711" font-size="12" text-anchor="middle" font-weight="normal" font-style="normal" fill="#000">70</text>
<text x="366" y="711" font-size="12" text-anchor="middle" font-weight="normal" font-style="normal" fill="#000">80</text>
<text x="404.2" y="711" font-size="12" text-anchor="middle" font-weight="normal" font-style="normal" fill="#000">90</text>
<text x="442.4" y="711" font-size="12" text-anchor="middle" font-weight="normal" font-style="normal" fill="#000">100</text>
<text x="480.6" y="711" font-size="12" text-anchor="middle" font-weight="normal" font-style="normal" fill="#000">110</text>
<text x="264.8" y="702.8" font-size="12" text-anchor="end" font-weight="normal" font-style="normal" fill="#000">10<tspan font-size="8.6" dy="-5" dx="0.6">3</tspan></text>
<text x="264.8" y="650.69" font-size="12" text-anchor="end" font-weight="normal" font-style="normal" fill="#000">10<tspan font-size="8.6" dy="-5" dx="0.6">5</tspan></text>
<text x="264.8" y="598.57" font-size="12" text-anchor="end" font-weight="normal" font-style="normal" fill="#000">10<tspan font-size="8.6" dy="-5" dx="0.6">7</tspan></text>
<text x="264.8" y="546.46" font-size="12" text-anchor="end" font-weight="normal" font-style="normal" fill="#000">10<tspan font-size="8.6" dy="-5" dx="0.6">9</tspan></text>
<text x="502" y="701.2" font-size="12" text-anchor="start" font-weight="normal" font-style="normal" fill="#000">1480</text>
<text x="502" y="655.6" font-size="12" text-anchor="start" font-weight="normal" font-style="normal" fill="#000">1520</text>
<text x="502" y="610" font-size="12" text-anchor="start" font-weight="normal" font-style="normal" fill="#000">1560</text>
<text x="502" y="564.4" font-size="12" text-anchor="start" font-weight="normal" font-style="normal" fill="#000">1600</text>
<text x="502" y="518.8" font-size="12" text-anchor="start" font-weight="normal" font-style="normal" fill="#000">1640</text>
<text x="238.5" y="619.3" font-size="12" text-anchor="middle" font-weight="normal" font-style="normal" fill="#000" transform="rotate(-90 238.5 619.3)">Q-factors</text>
<text x="547.5" y="607.5" font-size="12" text-anchor="middle" font-weight="normal" font-style="normal" fill="#000" transform="rotate(-90 547.5 607.5)">Wavelength (nm)</text>
<text x="386" y="729.6" font-size="12" text-anchor="middle" font-weight="normal" font-style="normal" fill="#000"><tspan font-style="italic">R</tspan><tspan font-size="8.5" dy="3">2</tspan><tspan dy="-3"> (nm)</tspan></text>
<polyline points="289.6,674.5 299.1,672.7 308.6,671 318.1,669.2 327.6,667.1 337.1,664.8 346.6,662.2 356.2,659 365.7,654.8 375.5,649.7 385.1,642.4 394.9,631.9 404.2,610 407.3,585.9 409.6,520 412,585.9 414.3,600.7 423.4,630.3 432.7,642.4 442.1,650.9 451.7,657.2 461.5,662.5 471.3,666.5 480.6,670.5" fill="none" stroke="#555" stroke-width="1.1" stroke-linejoin="round"/>
<polyline points="289.6,674.5 299.1,672.7 308.6,671 318.1,669.2 327.6,667.1 337.1,664.8 346.6,662.2 356.2,659 365.7,654.8 375.5,649.7 385.1,642.4 394.9,631.9 404.2,612.8 409.6,560.2 411.5,577.7 414.3,600.7 423.4,630.3 432.7,642.4 442.1,650.9 451.7,657.2 461.5,662.5 471.3,666.5 480.6,670.5" fill="none" stroke="#e3262b" stroke-width="1.1" stroke-linejoin="round"/>
<g fill="none" stroke="#404040" stroke-width="1.1"><circle cx="289.6" cy="674.5" r="3.6"/><circle cx="299.1" cy="672.7" r="3.6"/><circle cx="308.6" cy="671" r="3.6"/><circle cx="318.1" cy="669.2" r="3.6"/><circle cx="327.6" cy="667.1" r="3.6"/><circle cx="337.1" cy="664.8" r="3.6"/><circle cx="346.6" cy="662.2" r="3.6"/><circle cx="356.2" cy="659" r="3.6"/><circle cx="365.7" cy="654.8" r="3.6"/><circle cx="375.5" cy="649.7" r="3.6"/><circle cx="385.1" cy="642.4" r="3.6"/><circle cx="394.9" cy="631.9" r="3.6"/><circle cx="414.3" cy="600.7" r="3.6"/><circle cx="423.4" cy="630.3" r="3.6"/><circle cx="432.7" cy="642.4" r="3.6"/><circle cx="442.1" cy="650.9" r="3.6"/><circle cx="451.7" cy="657.2" r="3.6"/><circle cx="461.5" cy="662.5" r="3.6"/><circle cx="471.3" cy="666.5" r="3.6"/><circle cx="480.6" cy="670.5" r="3.6"/><circle cx="404.2" cy="610" r="3.6"/><circle cx="407.3" cy="585.9" r="3.6"/><circle cx="412" cy="585.9" r="3.6"/><circle cx="409.6" cy="520" r="3.6"/></g>
<path d="M289.6,670.5L290.6,673.12L293.4,673.26L291.22,675.03L291.95,677.74L289.6,676.2L287.25,677.74L287.98,675.03L285.8,673.26L288.6,673.12ZM299.1,668.7L300.1,671.32L302.9,671.46L300.72,673.23L301.45,675.94L299.1,674.4L296.75,675.94L297.48,673.23L295.3,671.46L298.1,671.32ZM308.6,667L309.6,669.62L312.4,669.76L310.22,671.53L310.95,674.24L308.6,672.7L306.25,674.24L306.98,671.53L304.8,669.76L307.6,669.62ZM318.1,665.2L319.1,667.82L321.9,667.96L319.72,669.73L320.45,672.44L318.1,670.9L315.75,672.44L316.48,669.73L314.3,667.96L317.1,667.82ZM327.6,663.1L328.6,665.72L331.4,665.86L329.22,667.63L329.95,670.34L327.6,668.8L325.25,670.34L325.98,667.63L323.8,665.86L326.6,665.72ZM337.1,660.8L338.1,663.42L340.9,663.56L338.72,665.33L339.45,668.04L337.1,666.5L334.75,668.04L335.48,665.33L333.3,663.56L336.1,663.42ZM346.6,658.2L347.6,660.82L350.4,660.96L348.22,662.73L348.95,665.44L346.6,663.9L344.25,665.44L344.98,662.73L342.8,660.96L345.6,660.82ZM356.2,655L357.2,657.62L360,657.76L357.82,659.53L358.55,662.24L356.2,660.7L353.85,662.24L354.58,659.53L352.4,657.76L355.2,657.62ZM365.7,650.8L366.7,653.42L369.5,653.56L367.32,655.33L368.05,658.04L365.7,656.5L363.35,658.04L364.08,655.33L361.9,653.56L364.7,653.42ZM375.5,645.7L376.5,648.32L379.3,648.46L377.12,650.23L377.85,652.94L375.5,651.4L373.15,652.94L373.88,650.23L371.7,648.46L374.5,648.32ZM385.1,638.4L386.1,641.02L388.9,641.16L386.72,642.93L387.45,645.64L385.1,644.1L382.75,645.64L383.48,642.93L381.3,641.16L384.1,641.02ZM394.9,627.9L395.9,630.52L398.7,630.66L396.52,632.43L397.25,635.14L394.9,633.6L392.55,635.14L393.28,632.43L391.1,630.66L393.9,630.52ZM414.3,596.7L415.3,599.32L418.1,599.46L415.92,601.23L416.65,603.94L414.3,602.4L411.95,603.94L412.68,601.23L410.5,599.46L413.3,599.32ZM423.4,626.3L424.4,628.92L427.2,629.06L425.02,630.83L425.75,633.54L423.4,632L421.05,633.54L421.78,630.83L419.6,629.06L422.4,628.92ZM432.7,638.4L433.7,641.02L436.5,641.16L434.32,642.93L435.05,645.64L432.7,644.1L430.35,645.64L431.08,642.93L428.9,641.16L431.7,641.02ZM442.1,646.9L443.1,649.52L445.9,649.66L443.72,651.43L444.45,654.14L442.1,652.6L439.75,654.14L440.48,651.43L438.3,649.66L441.1,649.52ZM451.7,653.2L452.7,655.82L455.5,655.96L453.32,657.73L454.05,660.44L451.7,658.9L449.35,660.44L450.08,657.73L447.9,655.96L450.7,655.82ZM461.5,658.5L462.5,661.12L465.3,661.26L463.12,663.03L463.85,665.74L461.5,664.2L459.15,665.74L459.88,663.03L457.7,661.26L460.5,661.12ZM471.3,662.5L472.3,665.12L475.1,665.26L472.92,667.03L473.65,669.74L471.3,668.2L468.95,669.74L469.68,667.03L467.5,665.26L470.3,665.12ZM480.6,666.5L481.6,669.12L484.4,669.26L482.22,671.03L482.95,673.74L480.6,672.2L478.25,673.74L478.98,671.03L476.8,669.26L479.6,669.12ZM404.2,608.8L405.2,611.42L408,611.56L405.82,613.33L406.55,616.04L404.2,614.5L401.85,616.04L402.58,613.33L400.4,611.56L403.2,611.42ZM409.6,556.2L410.6,558.82L413.4,558.96L411.22,560.73L411.95,563.44L409.6,561.9L407.25,563.44L407.98,560.73L405.8,558.96L408.6,558.82ZM411.5,573.7L412.5,576.32L415.3,576.46L413.12,578.23L413.85,580.94L411.5,579.4L409.15,580.94L409.88,578.23L407.7,576.46L410.5,576.32Z" fill="#ff1f1f"/>
<polyline points="289.6,557.53 299.15,560.75 308.7,564.04 318.25,567.39 327.8,570.82 337.35,574.32 346.9,577.9 356.45,581.54 366,585.26 375.55,589.04 385.1,592.9 394.65,596.83 404.2,600.83 408.02,602.45 409.36,603.02 410.69,603.59 412.03,604.16 413.37,604.74 414.71,605.31 416.04,605.89 417.38,606.47 423.3,609.04 432.85,613.26 442.4,617.54 451.95,621.9 461.5,626.33 471.05,630.83 480.6,635.4" fill="none" stroke="#f7a04e" stroke-width="1.2" stroke-linejoin="round"/>
<polyline points="289.6,556.71 299.15,559.34 308.7,562.04 318.25,564.8 327.8,567.63 337.35,570.52 346.9,573.47 356.45,576.48 366,579.56 375.55,582.7 385.1,585.9 394.65,589.17 404.2,592.5 408.02,593.84 409.36,594.32 410.69,594.8 412.03,595.27 413.37,595.75 414.71,596.23 416.04,596.71 417.38,597.19 423.3,599.34 432.85,602.86 442.4,606.44 451.95,610.09 461.5,613.8 471.05,617.57 480.6,621.4" fill="none" stroke="#2e9fa2" stroke-width="1.2" stroke-linejoin="round"/>
<path d="M289.6,553.43L290.63,556.12L293.5,556.27L291.26,558.07L292.01,560.85L289.6,559.28L287.19,560.85L287.94,558.07L285.7,556.27L288.57,556.12ZM299.15,556.65L300.18,559.33L303.05,559.48L300.81,561.29L301.56,564.07L299.15,562.5L296.74,564.07L297.49,561.29L295.25,559.48L298.12,559.33ZM308.7,559.94L309.73,562.62L312.6,562.77L310.36,564.58L311.11,567.35L308.7,565.79L306.29,567.35L307.04,564.58L304.8,562.77L307.67,562.62ZM318.25,563.29L319.28,565.98L322.15,566.13L319.91,567.93L320.66,570.71L318.25,569.14L315.84,570.71L316.59,567.93L314.35,566.13L317.22,565.98ZM327.8,566.72L328.83,569.41L331.7,569.56L329.46,571.36L330.21,574.14L327.8,572.57L325.39,574.14L326.14,571.36L323.9,569.56L326.77,569.41ZM337.35,570.22L338.38,572.91L341.25,573.06L339.01,574.87L339.76,577.64L337.35,576.07L334.94,577.64L335.69,574.87L333.45,573.06L336.32,572.91ZM346.9,573.8L347.93,576.48L350.8,576.63L348.56,578.44L349.31,581.21L346.9,579.65L344.49,581.21L345.24,578.44L343,576.63L345.87,576.48ZM356.45,577.44L357.48,580.13L360.35,580.27L358.11,582.08L358.86,584.86L356.45,583.29L354.04,584.86L354.79,582.08L352.55,580.27L355.42,580.13ZM366,581.16L367.03,583.84L369.9,583.99L367.66,585.8L368.41,588.57L366,587.01L363.59,588.57L364.34,585.8L362.1,583.99L364.97,583.84ZM375.55,584.94L376.58,587.63L379.45,587.78L377.21,589.58L377.96,592.36L375.55,590.79L373.14,592.36L373.89,589.58L371.65,587.78L374.52,587.63ZM385.1,588.8L386.13,591.48L389,591.63L386.76,593.44L387.51,596.22L385.1,594.65L382.69,596.22L383.44,593.44L381.2,591.63L384.07,591.48ZM394.65,592.73L395.68,595.41L398.55,595.56L396.31,597.37L397.06,600.15L394.65,598.58L392.24,600.15L392.99,597.37L390.75,595.56L393.62,595.41ZM404.2,596.73L405.23,599.41L408.1,599.56L405.86,601.37L406.61,604.15L404.2,602.58L401.79,604.15L402.54,601.37L400.3,599.56L403.17,599.41ZM408.02,598.35L409.05,601.03L411.92,601.18L409.68,602.99L410.43,605.77L408.02,604.2L405.61,605.77L406.36,602.99L404.12,601.18L406.99,601.03ZM409.36,598.92L410.39,601.6L413.26,601.75L411.02,603.56L411.77,606.34L409.36,604.77L406.95,606.34L407.69,603.56L405.46,601.75L408.33,601.6ZM410.69,599.49L411.72,602.17L414.59,602.32L412.36,604.13L413.1,606.91L410.69,605.34L408.28,606.91L409.03,604.13L406.79,602.32L409.67,602.17ZM412.03,600.06L413.06,602.75L415.93,602.9L413.7,604.7L414.44,607.48L412.03,605.91L409.62,607.48L410.37,604.7L408.13,602.9L411,602.75ZM413.37,600.64L414.4,603.32L417.27,603.47L415.03,605.28L415.78,608.05L413.37,606.49L410.96,608.05L411.7,605.28L409.47,603.47L412.34,603.32ZM414.71,601.21L415.73,603.9L418.6,604.05L416.37,605.85L417.11,608.63L414.71,607.06L412.3,608.63L413.04,605.85L410.81,604.05L413.68,603.9ZM416.04,601.79L417.07,604.47L419.94,604.62L417.71,606.43L418.45,609.21L416.04,607.64L413.63,609.21L414.38,606.43L412.14,604.62L415.01,604.47ZM417.38,602.37L418.41,605.05L421.28,605.2L419.04,607.01L419.79,609.78L417.38,608.22L414.97,609.78L415.71,607.01L413.48,605.2L416.35,605.05ZM423.3,604.94L424.33,607.63L427.2,607.78L424.96,609.58L425.71,612.36L423.3,610.79L420.89,612.36L421.64,609.58L419.4,607.78L422.27,607.63ZM432.85,609.16L433.88,611.84L436.75,611.99L434.51,613.8L435.26,616.58L432.85,615.01L430.44,616.58L431.19,613.8L428.95,611.99L431.82,611.84ZM442.4,613.44L443.43,616.13L446.3,616.28L444.06,618.08L444.81,620.86L442.4,619.29L439.99,620.86L440.74,618.08L438.5,616.28L441.37,616.13ZM451.95,617.8L452.98,620.49L455.85,620.63L453.61,622.44L454.36,625.22L451.95,623.65L449.54,625.22L450.29,622.44L448.05,620.63L450.92,620.49ZM461.5,622.23L462.53,624.91L465.4,625.06L463.16,626.87L463.91,629.65L461.5,628.08L459.09,629.65L459.84,626.87L457.6,625.06L460.47,624.91ZM471.05,626.73L472.08,629.41L474.95,629.56L472.71,631.37L473.46,634.15L471.05,632.58L468.64,634.15L469.39,631.37L467.15,629.56L470.02,629.41ZM480.6,631.3L481.63,633.98L484.5,634.13L482.26,635.94L483.01,638.72L480.6,637.15L478.19,638.72L478.94,635.94L476.7,634.13L479.57,633.98Z" fill="#fa923a"/>
<g fill="none" stroke="#2e9fa2" stroke-width="1.2"><circle cx="289.6" cy="556.71" r="3.7"/><circle cx="299.15" cy="559.34" r="3.7"/><circle cx="308.7" cy="562.04" r="3.7"/><circle cx="318.25" cy="564.8" r="3.7"/><circle cx="327.8" cy="567.63" r="3.7"/><circle cx="337.35" cy="570.52" r="3.7"/><circle cx="346.9" cy="573.47" r="3.7"/><circle cx="356.45" cy="576.48" r="3.7"/><circle cx="366" cy="579.56" r="3.7"/><circle cx="375.55" cy="582.7" r="3.7"/><circle cx="385.1" cy="585.9" r="3.7"/><circle cx="394.65" cy="589.17" r="3.7"/><circle cx="404.2" cy="592.5" r="3.7"/><circle cx="408.02" cy="593.84" r="3.7"/><circle cx="409.36" cy="594.32" r="3.7"/><circle cx="410.69" cy="594.8" r="3.7"/><circle cx="412.03" cy="595.27" r="3.7"/><circle cx="413.37" cy="595.75" r="3.7"/><circle cx="414.71" cy="596.23" r="3.7"/><circle cx="416.04" cy="596.71" r="3.7"/><circle cx="417.38" cy="597.19" r="3.7"/><circle cx="423.3" cy="599.34" r="3.7"/><circle cx="432.85" cy="602.86" r="3.7"/><circle cx="442.4" cy="606.44" r="3.7"/><circle cx="451.95" cy="610.09" r="3.7"/><circle cx="461.5" cy="613.8" r="3.7"/><circle cx="471.05" cy="617.57" r="3.7"/><circle cx="480.6" cy="621.4" r="3.7"/></g>
<polyline points="432.7,527.5 465,527.5" fill="none" stroke="#555" stroke-width="1.1" stroke-linejoin="round"/>
<g fill="#fff" stroke="#333" stroke-width="1.1"><circle cx="448.85" cy="527.5" r="3.0"/></g>
<polyline points="432.7,548.1 465,548.1" fill="none" stroke="#e3262b" stroke-width="1.1" stroke-linejoin="round"/>
<path d="M448.85,544.1L449.79,546.81L452.65,546.86L450.37,548.59L451.2,551.34L448.85,549.7L446.5,551.34L447.33,548.59L445.05,546.86L447.91,546.81Z" fill="#ff1f1f"/>
<text x="470.1" y="531.8" font-size="12" text-anchor="start" font-weight="normal" font-style="normal" fill="#000">M<tspan font-size="8.5" dy="3">B1</tspan></text>
<text x="470.1" y="552.4" font-size="12" text-anchor="start" font-weight="normal" font-style="normal" fill="#000">M<tspan font-size="8.5" dy="3">B2</tspan></text>
<path d="M269.5,766.6H498.3V949.2H269.5Z" fill="none" stroke="#1a1a1a" stroke-width="1.2"/>
<path d="M269.5,942.33h2.6M269.5,938.31h2.6M269.5,935.46h2.6M269.5,933.25h2.6M269.5,931.44h2.6M269.5,929.91h2.6M269.5,928.59h2.6M269.5,927.42h2.6M269.5,926.38h5.0M269.5,919.5h2.6M269.5,915.48h2.6M269.5,912.63h2.6M269.5,910.42h2.6M269.5,908.61h2.6M269.5,907.09h2.6M269.5,905.76h2.6M269.5,904.59h2.6M269.5,903.55h5.0M269.5,896.68h2.6M269.5,892.66h2.6M269.5,889.81h2.6M269.5,887.6h2.6M269.5,885.79h2.6M269.5,884.26h2.6M269.5,882.94h2.6M269.5,881.77h2.6M269.5,880.73h5.0M269.5,873.85h2.6M269.5,869.83h2.6M269.5,866.98h2.6M269.5,864.77h2.6M269.5,862.96h2.6M269.5,861.44h2.6M269.5,860.11h2.6M269.5,858.94h2.6M269.5,857.9h5.0M269.5,851.03h2.6M269.5,847.01h2.6M269.5,844.16h2.6M269.5,841.95h2.6M269.5,840.14h2.6M269.5,838.61h2.6M269.5,837.29h2.6M269.5,836.12h2.6M269.5,835.08h5.0M269.5,828.2h2.6M269.5,824.18h2.6M269.5,821.33h2.6M269.5,819.12h2.6M269.5,817.31h2.6M269.5,815.79h2.6M269.5,814.46h2.6M269.5,813.29h2.6M269.5,812.25h5.0M269.5,805.38h2.6M269.5,801.36h2.6M269.5,798.51h2.6M269.5,796.3h2.6M269.5,794.49h2.6M269.5,792.96h2.6M269.5,791.64h2.6M269.5,790.47h2.6M269.5,789.42h5.0M269.5,782.55h2.6M269.5,778.53h2.6M269.5,775.68h2.6M269.5,773.47h2.6M269.5,771.66h2.6M269.5,770.14h2.6M269.5,768.81h2.6M269.5,767.64h2.6M498.3,926.38h-2.8M498.3,903.55h-4.5M498.3,880.73h-2.8M498.3,857.9h-4.5M498.3,835.08h-2.8M498.3,812.25h-4.5M498.3,789.43h-2.8M288.3,949.2v-4.5M326.5,949.2v-4.5M364.7,949.2v-4.5M402.9,949.2v-4.5M441.1,949.2v-4.5M479.3,949.2v-4.5M307.4,949.2v-2.8M345.6,949.2v-2.8M383.8,949.2v-2.8M422,949.2v-2.8M460.2,949.2v-2.8" fill="none" stroke="#1a1a1a" stroke-width="1"/>
<text x="288.3" y="965.5" font-size="12" text-anchor="middle" font-weight="normal" font-style="normal" fill="#000">60</text>
<text x="326.5" y="965.5" font-size="12" text-anchor="middle" font-weight="normal" font-style="normal" fill="#000">70</text>
<text x="364.7" y="965.5" font-size="12" text-anchor="middle" font-weight="normal" font-style="normal" fill="#000">80</text>
<text x="402.9" y="965.5" font-size="12" text-anchor="middle" font-weight="normal" font-style="normal" fill="#000">90</text>
<text x="441.1" y="965.5" font-size="12" text-anchor="middle" font-weight="normal" font-style="normal" fill="#000">100</text>
<text x="479.3" y="965.5" font-size="12" text-anchor="middle" font-weight="normal" font-style="normal" fill="#000">110</text>
<text x="263.3" y="955.9" font-size="12" text-anchor="end" font-weight="normal" font-style="normal" fill="#000">10<tspan font-size="8.6" dy="-5" dx="0.6">2</tspan></text>
<text x="263.3" y="916.1" font-size="12" text-anchor="end" font-weight="normal" font-style="normal" fill="#000">10<tspan font-size="8.6" dy="-5" dx="0.6">4</tspan></text>
<text x="263.3" y="876.2" font-size="12" text-anchor="end" font-weight="normal" font-style="normal" fill="#000">10<tspan font-size="8.6" dy="-5" dx="0.6">6</tspan></text>
<text x="263.3" y="836.4" font-size="12" text-anchor="end" font-weight="normal" font-style="normal" fill="#000">10<tspan font-size="8.6" dy="-5" dx="0.6">8</tspan></text>
<text x="263.3" y="796.5" font-size="12" text-anchor="end" font-weight="normal" font-style="normal" fill="#000">10<tspan font-size="8.6" dy="-5" dx="0.6">10</tspan></text>
<text x="503.3" y="954.4" font-size="12" text-anchor="start" font-weight="normal" font-style="normal" fill="#000">1480</text>
<text x="503.3" y="908.75" font-size="12" text-anchor="start" font-weight="normal" font-style="normal" fill="#000">1520</text>
<text x="503.3" y="863.1" font-size="12" text-anchor="start" font-weight="normal" font-style="normal" fill="#000">1560</text>
<text x="503.3" y="817.45" font-size="12" text-anchor="start" font-weight="normal" font-style="normal" fill="#000">1600</text>
<text x="503.3" y="771.8" font-size="12" text-anchor="start" font-weight="normal" font-style="normal" fill="#000">1640</text>
<text x="237.5" y="872.6" font-size="12" text-anchor="middle" font-weight="normal" font-style="normal" fill="#000" transform="rotate(-90 237.5 872.6)">Q-factors</text>
<text x="548" y="856.9" font-size="12" text-anchor="middle" font-weight="normal" font-style="normal" fill="#000" transform="rotate(-90 548 856.9)">Wavelength (nm)</text>
<text x="385" y="983.2" font-size="12" text-anchor="middle" font-weight="normal" font-style="normal" fill="#000"><tspan font-style="italic">R</tspan> (nm)</text>
<polyline points="288.3,810.4 297.85,815.18 307.4,820 316.95,824.68 326.5,829.5 336.05,833.24 345.6,838.81 349.42,841.06 352.09,842.62 354.77,844.19 357.44,845.76 360.12,847.33 362.79,848.9 365.46,850.47 368.14,852.04 370.81,853.61 373.49,855.18 376.16,856.74 378.83,858.31 393.35,866.83 402.9,872.29 405.19,873.6 407.48,874.92 409.78,876.23 412.07,877.54 414.36,878.82 416.65,880.11 418.94,881.39 421.24,882.68 431.55,888.46 441.1,893.35 450.65,898.47 460.2,905.23 469.75,911.22 479.3,917.63" fill="none" stroke="#f7a04e" stroke-width="1.2" stroke-linejoin="round"/>
<polyline points="288.3,804.8 297.85,810.37 307.4,815.88 316.95,821.16 326.5,826.86 336.05,831.92 345.6,837.98 349.42,840.39 352.09,842.07 354.77,843.75 357.44,845.44 360.12,847.12 362.79,848.8 365.46,850.48 368.14,852.17 370.81,853.85 373.49,855.53 376.16,857.21 378.83,858.9 393.35,868.03 402.9,874.16 405.19,875.63 407.48,877.1 409.78,878.57 412.07,880.04 414.36,881.42 416.65,882.8 418.94,884.17 421.24,885.55 431.55,891.76 441.1,897.74 450.65,903.84 460.2,910.13 469.75,916.12 479.3,921.84" fill="none" stroke="#2e9fa2" stroke-width="1.2" stroke-linejoin="round"/>
<g fill="none" stroke="#2e9fa2" stroke-width="1.2"><circle cx="288.3" cy="804.8" r="3.7"/><circle cx="297.85" cy="810.37" r="3.7"/><circle cx="307.4" cy="815.88" r="3.7"/><circle cx="316.95" cy="821.16" r="3.7"/><circle cx="326.5" cy="826.86" r="3.7"/><circle cx="336.05" cy="831.92" r="3.7"/><circle cx="345.6" cy="837.98" r="3.7"/><circle cx="349.42" cy="840.39" r="3.7"/><circle cx="352.09" cy="842.07" r="3.7"/><circle cx="354.77" cy="843.75" r="3.7"/><circle cx="357.44" cy="845.44" r="3.7"/><circle cx="360.12" cy="847.12" r="3.7"/><circle cx="362.79" cy="848.8" r="3.7"/><circle cx="365.46" cy="850.48" r="3.7"/><circle cx="368.14" cy="852.17" r="3.7"/><circle cx="370.81" cy="853.85" r="3.7"/><circle cx="373.49" cy="855.53" r="3.7"/><circle cx="376.16" cy="857.21" r="3.7"/><circle cx="378.83" cy="858.9" r="3.7"/><circle cx="393.35" cy="868.03" r="3.7"/><circle cx="402.9" cy="874.16" r="3.7"/><circle cx="405.19" cy="875.63" r="3.7"/><circle cx="407.48" cy="877.1" r="3.7"/><circle cx="409.78" cy="878.57" r="3.7"/><circle cx="412.07" cy="880.04" r="3.7"/><circle cx="414.36" cy="881.42" r="3.7"/><circle cx="416.65" cy="882.8" r="3.7"/><circle cx="418.94" cy="884.17" r="3.7"/><circle cx="421.24" cy="885.55" r="3.7"/><circle cx="431.55" cy="891.76" r="3.7"/><circle cx="441.1" cy="897.74" r="3.7"/><circle cx="450.65" cy="903.84" r="3.7"/><circle cx="460.2" cy="910.13" r="3.7"/><circle cx="469.75" cy="916.12" r="3.7"/><circle cx="479.3" cy="921.84" r="3.7"/></g>
<path d="M288.3,806.4L289.3,809.02L292.1,809.16L289.92,810.93L290.65,813.64L288.3,812.1L285.95,813.64L286.68,810.93L284.5,809.16L287.3,809.02ZM297.85,811.18L298.85,813.8L301.65,813.94L299.47,815.7L300.2,818.41L297.85,816.88L295.5,818.41L296.23,815.7L294.05,813.94L296.85,813.8ZM307.4,816L308.4,818.62L311.2,818.76L309.02,820.52L309.75,823.24L307.4,821.7L305.05,823.24L305.78,820.52L303.6,818.76L306.4,818.62ZM316.95,820.68L317.95,823.3L320.75,823.44L318.57,825.2L319.3,827.91L316.95,826.38L314.6,827.91L315.33,825.2L313.15,823.44L315.95,823.3ZM326.5,825.5L327.5,828.12L330.3,828.26L328.12,830.02L328.85,832.73L326.5,831.2L324.15,832.73L324.88,830.02L322.7,828.26L325.5,828.12ZM336.05,829.24L337.05,831.87L339.85,832.01L337.67,833.77L338.4,836.48L336.05,834.94L333.7,836.48L334.43,833.77L332.25,832.01L335.05,831.87ZM345.6,834.81L346.6,837.44L349.4,837.58L347.22,839.34L347.95,842.05L345.6,840.51L343.25,842.05L343.98,839.34L341.8,837.58L344.6,837.44ZM349.42,837.06L350.42,839.68L353.22,839.82L351.04,841.58L351.77,844.29L349.42,842.76L347.07,844.29L347.8,841.58L345.62,839.82L348.42,839.68ZM352.09,838.62L353.09,841.25L355.9,841.39L353.71,843.15L354.45,845.86L352.09,844.32L349.74,845.86L350.48,843.15L348.29,841.39L351.09,841.25ZM354.77,840.19L355.77,842.82L358.57,842.96L356.38,844.72L357.12,847.43L354.77,845.89L352.42,847.43L353.15,844.72L350.96,842.96L353.77,842.82ZM357.44,841.76L358.44,844.39L361.25,844.53L359.06,846.29L359.79,849L357.44,847.46L355.09,849L355.83,846.29L353.64,844.53L356.44,844.39ZM360.12,843.33L361.12,845.96L363.92,846.1L361.73,847.86L362.47,850.57L360.12,849.03L357.76,850.57L358.5,847.86L356.31,846.1L359.12,845.96ZM362.79,844.9L363.79,847.52L366.59,847.66L364.41,849.43L365.14,852.14L362.79,850.6L360.44,852.14L361.17,849.43L358.99,847.66L361.79,847.52ZM365.46,846.47L366.46,849.09L369.27,849.23L367.08,850.99L367.82,853.7L365.46,852.17L363.11,853.7L363.85,850.99L361.66,849.23L364.46,849.09ZM368.14,848.04L369.14,850.66L371.94,850.8L369.75,852.56L370.49,855.27L368.14,853.74L365.79,855.27L366.52,852.56L364.33,850.8L367.14,850.66ZM370.81,849.61L371.81,852.23L374.62,852.37L372.43,854.13L373.16,856.84L370.81,855.31L368.46,856.84L369.2,854.13L367.01,852.37L369.81,852.23ZM373.49,851.18L374.49,853.8L377.29,853.94L375.1,855.7L375.84,858.41L373.49,856.88L371.13,858.41L371.87,855.7L369.68,853.94L372.49,853.8ZM376.16,852.74L377.16,855.37L379.96,855.51L377.78,857.27L378.51,859.98L376.16,858.44L373.81,859.98L374.54,857.27L372.36,855.51L375.16,855.37ZM378.83,854.31L379.83,856.94L382.64,857.08L380.45,858.84L381.19,861.55L378.83,860.01L376.48,861.55L377.22,858.84L375.03,857.08L377.83,856.94ZM393.35,862.83L394.35,865.45L397.15,865.59L394.97,867.35L395.7,870.06L393.35,868.53L391,870.06L391.73,867.35L389.55,865.59L392.35,865.45ZM402.9,868.29L403.9,870.92L406.7,871.06L404.52,872.82L405.25,875.53L402.9,873.99L400.55,875.53L401.28,872.82L399.1,871.06L401.9,870.92ZM405.19,869.6L406.19,872.23L409,872.37L406.81,874.13L407.54,876.84L405.19,875.3L402.84,876.84L403.58,874.13L401.39,872.37L404.19,872.23ZM407.48,870.92L408.48,873.54L411.29,873.68L409.1,875.44L409.84,878.15L407.48,876.62L405.13,878.15L405.87,875.44L403.68,873.68L406.48,873.54ZM409.78,872.23L410.78,874.85L413.58,874.99L411.39,876.75L412.13,879.46L409.78,877.93L407.42,879.46L408.16,876.75L405.97,874.99L408.78,874.85ZM412.07,873.54L413.07,876.16L415.87,876.3L413.68,878.06L414.42,880.77L412.07,879.24L409.72,880.77L410.45,878.06L408.26,876.3L411.07,876.16ZM414.36,874.82L415.36,877.45L418.16,877.59L415.98,879.35L416.71,882.06L414.36,880.52L412.01,882.06L412.74,879.35L410.56,877.59L413.36,877.45ZM416.65,876.11L417.65,878.73L420.46,878.87L418.27,880.63L419,883.34L416.65,881.81L414.3,883.34L415.04,880.63L412.85,878.87L415.65,878.73ZM418.94,877.39L419.94,880.02L422.75,880.16L420.56,881.92L421.3,884.63L418.94,883.09L416.59,884.63L417.33,881.92L415.14,880.16L417.94,880.02ZM421.24,878.68L422.24,881.3L425.04,881.44L422.85,883.2L423.59,885.91L421.24,884.38L418.88,885.91L419.62,883.2L417.43,881.44L420.24,881.3ZM431.55,884.46L432.55,887.08L435.35,887.22L433.17,888.99L433.9,891.7L431.55,890.16L429.2,891.7L429.93,888.99L427.75,887.22L430.55,887.08ZM441.1,889.35L442.1,891.97L444.9,892.11L442.72,893.87L443.45,896.59L441.1,895.05L438.75,896.59L439.48,893.87L437.3,892.11L440.1,891.97ZM450.65,894.47L451.65,897.09L454.45,897.23L452.27,898.99L453,901.7L450.65,900.17L448.3,901.7L449.03,898.99L446.85,897.23L449.65,897.09ZM460.2,901.23L461.2,903.85L464,903.99L461.82,905.75L462.55,908.46L460.2,906.93L457.85,908.46L458.58,905.75L456.4,903.99L459.2,903.85ZM469.75,907.22L470.75,909.84L473.55,909.98L471.37,911.74L472.1,914.45L469.75,912.92L467.4,914.45L468.13,911.74L465.95,909.98L468.75,909.84ZM479.3,913.63L480.3,916.26L483.1,916.4L480.92,918.16L481.65,920.87L479.3,919.33L476.95,920.87L477.68,918.16L475.5,916.4L478.3,916.26Z" fill="#fa923a"/>
<polyline points="288.3,909.8 297.8,907.7 307.4,904.9 316.9,901.9 326.4,898.1 336,893.2 345.5,885.4 348,882 350.8,878.34 353.6,874.68 356.4,871.02 359.2,867.35 361,865 364.7,848.2 366.5,804.3 369,840.7 372.2,860.6 375.2,870.5 380.9,877.2 384.1,882.9 393.8,891.1 402,897.8 404.5,898.9 407,900 409.5,901.1 412,902.19 414.5,903.29 417,904.39 419.5,905.49 421.8,906.5 431.3,910.2 441.2,912.7 450.9,915.2 460.3,917.7 470.2,919.7 479.4,921.9" fill="none" stroke="#3a3a3a" stroke-width="1.1" stroke-linejoin="round"/>
<g fill="none" stroke="#333" stroke-width="1.1"><circle cx="288.3" cy="909.8" r="3.7"/><circle cx="297.8" cy="907.7" r="3.7"/><circle cx="307.4" cy="904.9" r="3.7"/><circle cx="316.9" cy="901.9" r="3.7"/><circle cx="326.4" cy="898.1" r="3.7"/><circle cx="336" cy="893.2" r="3.7"/><circle cx="345.5" cy="885.4" r="3.7"/><circle cx="348" cy="882" r="3.7"/><circle cx="350.8" cy="878.34" r="3.7"/><circle cx="353.6" cy="874.68" r="3.7"/><circle cx="356.4" cy="871.02" r="3.7"/><circle cx="359.2" cy="867.35" r="3.7"/><circle cx="361" cy="865" r="3.7"/><circle cx="364.7" cy="848.2" r="3.7"/><circle cx="366.5" cy="804.3" r="3.7"/><circle cx="369" cy="840.7" r="3.7"/><circle cx="372.2" cy="860.6" r="3.7"/><circle cx="375.2" cy="870.5" r="3.7"/><circle cx="380.9" cy="877.2" r="3.7"/><circle cx="384.1" cy="882.9" r="3.7"/><circle cx="393.8" cy="891.1" r="3.7"/><circle cx="402" cy="897.8" r="3.7"/><circle cx="404.5" cy="898.9" r="3.7"/><circle cx="407" cy="900" r="3.7"/><circle cx="409.5" cy="901.1" r="3.7"/><circle cx="412" cy="902.19" r="3.7"/><circle cx="414.5" cy="903.29" r="3.7"/><circle cx="417" cy="904.39" r="3.7"/><circle cx="419.5" cy="905.49" r="3.7"/><circle cx="421.8" cy="906.5" r="3.7"/><circle cx="431.3" cy="910.2" r="3.7"/><circle cx="441.2" cy="912.7" r="3.7"/><circle cx="450.9" cy="915.2" r="3.7"/><circle cx="460.3" cy="917.7" r="3.7"/><circle cx="470.2" cy="919.7" r="3.7"/><circle cx="479.4" cy="921.9" r="3.7"/></g>
<polyline points="288.3,917.3 297.8,915.9 307.4,914.2 316.9,912.4 326.4,910.7 336,908.6 345.5,906 352,904 355.5,902.75 359,901.5 362.5,900.25 366,899 369.5,897.69 373,896.38 376.5,895.06 380,893.5 383.5,891.75 386,890.5 393.3,881.7 398.5,873 403.2,864.3 405,856.9 408.9,847 411.4,827.6 411.4,819.6 411.4,807.2 411.4,786.1 414.9,844.5 416.9,855.6 421.8,870.5 431.8,884.7 441.2,892.9 450.9,898.6 460.3,902.8 470.2,906 479.4,909" fill="none" stroke="#e3262b" stroke-width="1.1" stroke-linejoin="round"/>
<path d="M288.3,913.3L289.3,915.92L292.1,916.06L289.92,917.83L290.65,920.54L288.3,919L285.95,920.54L286.68,917.83L284.5,916.06L287.3,915.92ZM297.8,911.9L298.8,914.52L301.6,914.66L299.42,916.43L300.15,919.14L297.8,917.6L295.45,919.14L296.18,916.43L294,914.66L296.8,914.52ZM307.4,910.2L308.4,912.82L311.2,912.96L309.02,914.73L309.75,917.44L307.4,915.9L305.05,917.44L305.78,914.73L303.6,912.96L306.4,912.82ZM316.9,908.4L317.9,911.02L320.7,911.16L318.52,912.93L319.25,915.64L316.9,914.1L314.55,915.64L315.28,912.93L313.1,911.16L315.9,911.02ZM326.4,906.7L327.4,909.32L330.2,909.46L328.02,911.23L328.75,913.94L326.4,912.4L324.05,913.94L324.78,911.23L322.6,909.46L325.4,909.32ZM336,904.6L337,907.22L339.8,907.36L337.62,909.13L338.35,911.84L336,910.3L333.65,911.84L334.38,909.13L332.2,907.36L335,907.22ZM345.5,902L346.5,904.62L349.3,904.76L347.12,906.53L347.85,909.24L345.5,907.7L343.15,909.24L343.88,906.53L341.7,904.76L344.5,904.62ZM352,900L353,902.62L355.8,902.76L353.62,904.53L354.35,907.24L352,905.7L349.65,907.24L350.38,904.53L348.2,902.76L351,902.62ZM355.5,898.75L356.5,901.37L359.3,901.51L357.12,903.28L357.85,905.99L355.5,904.45L353.15,905.99L353.88,903.28L351.7,901.51L354.5,901.37ZM359,897.5L360,900.12L362.8,900.26L360.62,902.03L361.35,904.74L359,903.2L356.65,904.74L357.38,902.03L355.2,900.26L358,900.12ZM362.5,896.25L363.5,898.87L366.3,899.01L364.12,900.78L364.85,903.49L362.5,901.95L360.15,903.49L360.88,900.78L358.7,899.01L361.5,898.87ZM366,895L367,897.62L369.8,897.76L367.62,899.53L368.35,902.24L366,900.7L363.65,902.24L364.38,899.53L362.2,897.76L365,897.62ZM369.5,893.69L370.5,896.31L373.3,896.45L371.12,898.21L371.85,900.92L369.5,899.39L367.15,900.92L367.88,898.21L365.7,896.45L368.5,896.31ZM373,892.38L374,895L376.8,895.14L374.62,896.9L375.35,899.61L373,898.08L370.65,899.61L371.38,896.9L369.2,895.14L372,895ZM376.5,891.06L377.5,893.69L380.3,893.83L378.12,895.59L378.85,898.3L376.5,896.76L374.15,898.3L374.88,895.59L372.7,893.83L375.5,893.69ZM380,889.5L381,892.12L383.8,892.26L381.62,894.03L382.35,896.74L380,895.2L377.65,896.74L378.38,894.03L376.2,892.26L379,892.12ZM383.5,887.75L384.5,890.37L387.3,890.51L385.12,892.28L385.85,894.99L383.5,893.45L381.15,894.99L381.88,892.28L379.7,890.51L382.5,890.37ZM386,886.5L387,889.12L389.8,889.26L387.62,891.03L388.35,893.74L386,892.2L383.65,893.74L384.38,891.03L382.2,889.26L385,889.12ZM393.3,877.7L394.3,880.32L397.1,880.46L394.92,882.23L395.65,884.94L393.3,883.4L390.95,884.94L391.68,882.23L389.5,880.46L392.3,880.32ZM398.5,869L399.5,871.62L402.3,871.76L400.12,873.53L400.85,876.24L398.5,874.7L396.15,876.24L396.88,873.53L394.7,871.76L397.5,871.62ZM403.2,860.3L404.2,862.92L407,863.06L404.82,864.83L405.55,867.54L403.2,866L400.85,867.54L401.58,864.83L399.4,863.06L402.2,862.92ZM405,852.9L406,855.52L408.8,855.66L406.62,857.43L407.35,860.14L405,858.6L402.65,860.14L403.38,857.43L401.2,855.66L404,855.52ZM408.9,843L409.9,845.62L412.7,845.76L410.52,847.53L411.25,850.24L408.9,848.7L406.55,850.24L407.28,847.53L405.1,845.76L407.9,845.62ZM411.4,823.6L412.4,826.22L415.2,826.36L413.02,828.13L413.75,830.84L411.4,829.3L409.05,830.84L409.78,828.13L407.6,826.36L410.4,826.22ZM411.4,815.6L412.4,818.22L415.2,818.36L413.02,820.13L413.75,822.84L411.4,821.3L409.05,822.84L409.78,820.13L407.6,818.36L410.4,818.22ZM411.4,803.2L412.4,805.82L415.2,805.96L413.02,807.73L413.75,810.44L411.4,808.9L409.05,810.44L409.78,807.73L407.6,805.96L410.4,805.82ZM411.4,782.1L412.4,784.72L415.2,784.86L413.02,786.63L413.75,789.34L411.4,787.8L409.05,789.34L409.78,786.63L407.6,784.86L410.4,784.72ZM414.9,840.5L415.9,843.12L418.7,843.26L416.52,845.03L417.25,847.74L414.9,846.2L412.55,847.74L413.28,845.03L411.1,843.26L413.9,843.12ZM416.9,851.6L417.9,854.22L420.7,854.36L418.52,856.13L419.25,858.84L416.9,857.3L414.55,858.84L415.28,856.13L413.1,854.36L415.9,854.22ZM421.8,866.5L422.8,869.12L425.6,869.26L423.42,871.03L424.15,873.74L421.8,872.2L419.45,873.74L420.18,871.03L418,869.26L420.8,869.12ZM431.8,880.7L432.8,883.32L435.6,883.46L433.42,885.23L434.15,887.94L431.8,886.4L429.45,887.94L430.18,885.23L428,883.46L430.8,883.32ZM441.2,888.9L442.2,891.52L445,891.66L442.82,893.43L443.55,896.14L441.2,894.6L438.85,896.14L439.58,893.43L437.4,891.66L440.2,891.52ZM450.9,894.6L451.9,897.22L454.7,897.36L452.52,899.13L453.25,901.84L450.9,900.3L448.55,901.84L449.28,899.13L447.1,897.36L449.9,897.22ZM460.3,898.8L461.3,901.42L464.1,901.56L461.92,903.33L462.65,906.04L460.3,904.5L457.95,906.04L458.68,903.33L456.5,901.56L459.3,901.42ZM470.2,902L471.2,904.62L474,904.76L471.82,906.53L472.55,909.24L470.2,907.7L467.85,909.24L468.58,906.53L466.4,904.76L469.2,904.62ZM479.4,905L480.4,907.62L483.2,907.76L481.02,909.53L481.75,912.24L479.4,910.7L477.05,912.24L477.78,909.53L475.6,907.76L478.4,907.62Z" fill="#ff1f1f"/>
<polyline points="430.5,781.7 462.8,781.7" fill="none" stroke="#555" stroke-width="1.1" stroke-linejoin="round"/>
<g fill="#fff" stroke="#333" stroke-width="1.1"><circle cx="446.65" cy="781.7" r="3.0"/></g>
<polyline points="430.5,802.3 462.8,802.3" fill="none" stroke="#e3262b" stroke-width="1.1" stroke-linejoin="round"/>
<path d="M446.65,798.3L447.59,801.01L450.45,801.06L448.17,802.79L449,805.54L446.65,803.9L444.3,805.54L445.13,802.79L442.85,801.06L445.71,801.01Z" fill="#ff1f1f"/>
<text x="467.8" y="786" font-size="12" text-anchor="start" font-weight="normal" font-style="normal" fill="#000">M<tspan font-size="8.5" dy="3">B1</tspan></text>
<text x="467.8" y="806.6" font-size="12" text-anchor="start" font-weight="normal" font-style="normal" fill="#000">M<tspan font-size="8.5" dy="3">B2</tspan></text>
<g clip-path="url(#cl0)">
<g filter="url(#fb0)"><rect x="581.8" y="25.2" width="101" height="4.46" fill="url(#fr0)"/><rect x="581.8" y="29.06" width="101" height="4.46" fill="url(#fr1)"/><rect x="581.8" y="32.92" width="101" height="4.46" fill="url(#fr2)"/><rect x="581.8" y="36.77" width="101" height="4.46" fill="url(#fr3)"/><rect x="581.8" y="40.63" width="101" height="4.46" fill="url(#fr4)"/><rect x="581.8" y="44.49" width="101" height="4.46" fill="url(#fr5)"/><rect x="581.8" y="48.35" width="101" height="4.46" fill="url(#fr6)"/><rect x="581.8" y="52.2" width="101" height="4.46" fill="url(#fr7)"/><rect x="581.8" y="56.06" width="101" height="4.46" fill="url(#fr8)"/><rect x="581.8" y="59.92" width="101" height="4.46" fill="url(#fr9)"/><rect x="581.8" y="63.78" width="101" height="4.46" fill="url(#fr10)"/><rect x="581.8" y="67.63" width="101" height="4.46" fill="url(#fr11)"/><rect x="581.8" y="71.49" width="101" height="4.46" fill="url(#fr12)"/><rect x="581.8" y="75.35" width="101" height="4.46" fill="url(#fr13)"/><rect x="581.8" y="79.21" width="101" height="4.46" fill="url(#fr14)"/><rect x="581.8" y="83.07" width="101" height="4.46" fill="url(#fr15)"/><rect x="581.8" y="86.92" width="101" height="4.46" fill="url(#fr16)"/><rect x="581.8" y="90.78" width="101" height="4.46" fill="url(#fr17)"/><rect x="581.8" y="94.64" width="101" height="4.46" fill="url(#fr18)"/><rect x="581.8" y="98.5" width="101" height="4.46" fill="url(#fr19)"/><rect x="581.8" y="102.35" width="101" height="4.46" fill="url(#fr20)"/><rect x="581.8" y="106.21" width="101" height="4.46" fill="url(#fr21)"/><rect x="581.8" y="110.07" width="101" height="4.46" fill="url(#fr22)"/><rect x="581.8" y="113.93" width="101" height="4.46" fill="url(#fr23)"/><rect x="581.8" y="117.78" width="101" height="4.46" fill="url(#fr24)"/><rect x="581.8" y="121.64" width="101" height="4.46" fill="url(#fr25)"/></g>
<rect x="601.1" y="45.15" width="15" height="15" fill="url(#gRedH)" stroke="#5a2020" stroke-width="0.7"/>
<circle cx="655.3" cy="52.6" r="8.4" fill="url(#gRedC)" stroke="#5a2020" stroke-width="0.7"/>
<circle cx="608.7" cy="98.9" r="8.4" fill="url(#gRedC)" stroke="#5a2020" stroke-width="0.7"/>
<rect x="647.8" y="91.4" width="15.2" height="15.2" fill="url(#gRedH)" stroke="#5a2020" stroke-width="0.7"/>
</g>
<rect x="585.8" y="29.5" width="93" height="92.3" fill="none" stroke="#1a1a1a" stroke-width="1.4"/>
<text x="588.3" y="116.8" font-size="12" text-anchor="start" font-weight="normal" font-style="normal" fill="#000">M<tspan font-size="9" dy="3">B1</tspan></text>
<g clip-path="url(#cl1)">
<g filter="url(#fb26)"><rect x="582.8" y="125.5" width="101" height="4.48" fill="url(#fr26)"/><rect x="582.8" y="129.38" width="101" height="4.48" fill="url(#fr27)"/><rect x="582.8" y="133.27" width="101" height="4.48" fill="url(#fr28)"/><rect x="582.8" y="137.15" width="101" height="4.48" fill="url(#fr29)"/><rect x="582.8" y="141.04" width="101" height="4.48" fill="url(#fr30)"/><rect x="582.8" y="144.92" width="101" height="4.48" fill="url(#fr31)"/><rect x="582.8" y="148.81" width="101" height="4.48" fill="url(#fr32)"/><rect x="582.8" y="152.69" width="101" height="4.48" fill="url(#fr33)"/><rect x="582.8" y="156.58" width="101" height="4.48" fill="url(#fr34)"/><rect x="582.8" y="160.46" width="101" height="4.48" fill="url(#fr35)"/><rect x="582.8" y="164.35" width="101" height="4.48" fill="url(#fr36)"/><rect x="582.8" y="168.23" width="101" height="4.48" fill="url(#fr37)"/><rect x="582.8" y="172.12" width="101" height="4.48" fill="url(#fr38)"/><rect x="582.8" y="176" width="101" height="4.48" fill="url(#fr39)"/><rect x="582.8" y="179.88" width="101" height="4.48" fill="url(#fr40)"/><rect x="582.8" y="183.77" width="101" height="4.48" fill="url(#fr41)"/><rect x="582.8" y="187.65" width="101" height="4.48" fill="url(#fr42)"/><rect x="582.8" y="191.54" width="101" height="4.48" fill="url(#fr43)"/><rect x="582.8" y="195.42" width="101" height="4.48" fill="url(#fr44)"/><rect x="582.8" y="199.31" width="101" height="4.48" fill="url(#fr45)"/><rect x="582.8" y="203.19" width="101" height="4.48" fill="url(#fr46)"/><rect x="582.8" y="207.08" width="101" height="4.48" fill="url(#fr47)"/><rect x="582.8" y="210.96" width="101" height="4.48" fill="url(#fr48)"/><rect x="582.8" y="214.85" width="101" height="4.48" fill="url(#fr49)"/><rect x="582.8" y="218.73" width="101" height="4.48" fill="url(#fr50)"/><rect x="582.8" y="222.62" width="101" height="4.48" fill="url(#fr51)"/></g>
<rect x="602.35" y="145.95" width="15.3" height="15.3" fill="url(#gRedV)" stroke="#5a2020" stroke-width="0.7"/>
<circle cx="655.8" cy="153.4" r="8.6" fill="url(#gRedC)" stroke="#5a2020" stroke-width="0.7"/>
<circle cx="610.2" cy="199" r="8.6" fill="url(#gRedC)" stroke="#5a2020" stroke-width="0.7"/>
<rect x="648.1" y="191.7" width="15" height="15" fill="url(#gRedV)" stroke="#5a2020" stroke-width="0.7"/>
</g>
<rect x="586.8" y="129.8" width="93" height="93" fill="none" stroke="#ff2a2a" stroke-width="1.4"/>
<text x="591.4" y="213.3" font-size="12" text-anchor="start" font-weight="normal" font-style="normal" fill="#000">M<tspan font-size="9" dy="3">B2</tspan></text>
<g clip-path="url(#cl2)">
<g filter="url(#fb52)"><rect x="584.5" y="246" width="100.8" height="4.43" fill="url(#fr52)"/><rect x="584.5" y="249.83" width="100.8" height="4.43" fill="url(#fr53)"/><rect x="584.5" y="253.67" width="100.8" height="4.43" fill="url(#fr54)"/><rect x="584.5" y="257.5" width="100.8" height="4.43" fill="url(#fr55)"/><rect x="584.5" y="261.34" width="100.8" height="4.43" fill="url(#fr56)"/><rect x="584.5" y="265.17" width="100.8" height="4.43" fill="url(#fr57)"/><rect x="584.5" y="269.01" width="100.8" height="4.43" fill="url(#fr58)"/><rect x="584.5" y="272.84" width="100.8" height="4.43" fill="url(#fr59)"/><rect x="584.5" y="276.68" width="100.8" height="4.43" fill="url(#fr60)"/><rect x="584.5" y="280.51" width="100.8" height="4.43" fill="url(#fr61)"/><rect x="584.5" y="284.35" width="100.8" height="4.43" fill="url(#fr62)"/><rect x="584.5" y="288.18" width="100.8" height="4.43" fill="url(#fr63)"/><rect x="584.5" y="292.02" width="100.8" height="4.43" fill="url(#fr64)"/><rect x="584.5" y="295.85" width="100.8" height="4.43" fill="url(#fr65)"/><rect x="584.5" y="299.68" width="100.8" height="4.43" fill="url(#fr66)"/><rect x="584.5" y="303.52" width="100.8" height="4.43" fill="url(#fr67)"/><rect x="584.5" y="307.35" width="100.8" height="4.43" fill="url(#fr68)"/><rect x="584.5" y="311.19" width="100.8" height="4.43" fill="url(#fr69)"/><rect x="584.5" y="315.02" width="100.8" height="4.43" fill="url(#fr70)"/><rect x="584.5" y="318.86" width="100.8" height="4.43" fill="url(#fr71)"/><rect x="584.5" y="322.69" width="100.8" height="4.43" fill="url(#fr72)"/><rect x="584.5" y="326.53" width="100.8" height="4.43" fill="url(#fr73)"/><rect x="584.5" y="330.36" width="100.8" height="4.43" fill="url(#fr74)"/><rect x="584.5" y="334.2" width="100.8" height="4.43" fill="url(#fr75)"/><rect x="584.5" y="338.03" width="100.8" height="4.43" fill="url(#fr76)"/><rect x="584.5" y="341.87" width="100.8" height="4.43" fill="url(#fr77)"/></g>
<rect x="604.2" y="266.1" width="14.6" height="14.6" fill="url(#gRedH)" stroke="#5a2020" stroke-width="0.7"/>
<circle cx="657.1" cy="273.4" r="6.9" fill="url(#gPinkC)" stroke="#5a2020" stroke-width="0.7"/>
<circle cx="611.5" cy="318.9" r="9.5" fill="url(#gPinkC)" stroke="#5a2020" stroke-width="0.7"/>
<rect x="649.7" y="311.6" width="14.8" height="14.8" fill="url(#gPinkH)" stroke="#5a2020" stroke-width="0.7"/>
</g>
<rect x="588.5" y="250.3" width="92.8" height="91.7" fill="none" stroke="#1a1a1a" stroke-width="1.4"/>
<text x="596.1" y="332.2" font-size="12" text-anchor="start" font-weight="normal" font-style="normal" fill="#000">M<tspan font-size="9" dy="3">B1</tspan></text>
<g clip-path="url(#cl3)">
<g filter="url(#fb78)"><rect x="583.6" y="346.5" width="100.6" height="4.47" fill="url(#fr78)"/><rect x="583.6" y="350.37" width="100.6" height="4.47" fill="url(#fr79)"/><rect x="583.6" y="354.23" width="100.6" height="4.47" fill="url(#fr80)"/><rect x="583.6" y="358.1" width="100.6" height="4.47" fill="url(#fr81)"/><rect x="583.6" y="361.96" width="100.6" height="4.47" fill="url(#fr82)"/><rect x="583.6" y="365.83" width="100.6" height="4.47" fill="url(#fr83)"/><rect x="583.6" y="369.69" width="100.6" height="4.47" fill="url(#fr84)"/><rect x="583.6" y="373.56" width="100.6" height="4.47" fill="url(#fr85)"/><rect x="583.6" y="377.42" width="100.6" height="4.47" fill="url(#fr86)"/><rect x="583.6" y="381.29" width="100.6" height="4.47" fill="url(#fr87)"/><rect x="583.6" y="385.15" width="100.6" height="4.47" fill="url(#fr88)"/><rect x="583.6" y="389.02" width="100.6" height="4.47" fill="url(#fr89)"/><rect x="583.6" y="392.88" width="100.6" height="4.47" fill="url(#fr90)"/><rect x="583.6" y="396.75" width="100.6" height="4.47" fill="url(#fr91)"/><rect x="583.6" y="400.62" width="100.6" height="4.47" fill="url(#fr92)"/><rect x="583.6" y="404.48" width="100.6" height="4.47" fill="url(#fr93)"/><rect x="583.6" y="408.35" width="100.6" height="4.47" fill="url(#fr94)"/><rect x="583.6" y="412.21" width="100.6" height="4.47" fill="url(#fr95)"/><rect x="583.6" y="416.08" width="100.6" height="4.47" fill="url(#fr96)"/><rect x="583.6" y="419.94" width="100.6" height="4.47" fill="url(#fr97)"/><rect x="583.6" y="423.81" width="100.6" height="4.47" fill="url(#fr98)"/><rect x="583.6" y="427.67" width="100.6" height="4.47" fill="url(#fr99)"/><rect x="583.6" y="431.54" width="100.6" height="4.47" fill="url(#fr100)"/><rect x="583.6" y="435.4" width="100.6" height="4.47" fill="url(#fr101)"/><rect x="583.6" y="439.27" width="100.6" height="4.47" fill="url(#fr102)"/><rect x="583.6" y="443.13" width="100.6" height="4.47" fill="url(#fr103)"/></g>
<rect x="603.4" y="366.6" width="15" height="15" fill="url(#gPinkV)" stroke="#5a2020" stroke-width="0.7"/>
<circle cx="656.4" cy="373.8" r="6.9" fill="url(#gPinkC)" stroke="#5a2020" stroke-width="0.7"/>
<circle cx="610.7" cy="419.4" r="9.7" fill="url(#gPinkC)" stroke="#5a2020" stroke-width="0.7"/>
<rect x="648.85" y="412.35" width="14.7" height="14.7" fill="url(#gRedV)" stroke="#5a2020" stroke-width="0.7"/>
</g>
<rect x="587.6" y="350.8" width="92.6" height="92.5" fill="none" stroke="#ff2a2a" stroke-width="1.4"/>
<text x="596.5" y="434.9" font-size="12" text-anchor="start" font-weight="normal" font-style="normal" fill="#000">M<tspan font-size="9" dy="3">B2</tspan></text>
<g clip-path="url(#cl4)">
<g filter="url(#fb104)"><rect x="587.6" y="505.1" width="100.3" height="4.46" fill="url(#fr104)"/><rect x="587.6" y="508.96" width="100.3" height="4.46" fill="url(#fr105)"/><rect x="587.6" y="512.82" width="100.3" height="4.46" fill="url(#fr106)"/><rect x="587.6" y="516.67" width="100.3" height="4.46" fill="url(#fr107)"/><rect x="587.6" y="520.53" width="100.3" height="4.46" fill="url(#fr108)"/><rect x="587.6" y="524.39" width="100.3" height="4.46" fill="url(#fr109)"/><rect x="587.6" y="528.25" width="100.3" height="4.46" fill="url(#fr110)"/><rect x="587.6" y="532.1" width="100.3" height="4.46" fill="url(#fr111)"/><rect x="587.6" y="535.96" width="100.3" height="4.46" fill="url(#fr112)"/><rect x="587.6" y="539.82" width="100.3" height="4.46" fill="url(#fr113)"/><rect x="587.6" y="543.68" width="100.3" height="4.46" fill="url(#fr114)"/><rect x="587.6" y="547.53" width="100.3" height="4.46" fill="url(#fr115)"/><rect x="587.6" y="551.39" width="100.3" height="4.46" fill="url(#fr116)"/><rect x="587.6" y="555.25" width="100.3" height="4.46" fill="url(#fr117)"/><rect x="587.6" y="559.11" width="100.3" height="4.46" fill="url(#fr118)"/><rect x="587.6" y="562.97" width="100.3" height="4.46" fill="url(#fr119)"/><rect x="587.6" y="566.82" width="100.3" height="4.46" fill="url(#fr120)"/><rect x="587.6" y="570.68" width="100.3" height="4.46" fill="url(#fr121)"/><rect x="587.6" y="574.54" width="100.3" height="4.46" fill="url(#fr122)"/><rect x="587.6" y="578.4" width="100.3" height="4.46" fill="url(#fr123)"/><rect x="587.6" y="582.25" width="100.3" height="4.46" fill="url(#fr124)"/><rect x="587.6" y="586.11" width="100.3" height="4.46" fill="url(#fr125)"/><rect x="587.6" y="589.97" width="100.3" height="4.46" fill="url(#fr126)"/><rect x="587.6" y="593.83" width="100.3" height="4.46" fill="url(#fr127)"/><rect x="587.6" y="597.68" width="100.3" height="4.46" fill="url(#fr128)"/><rect x="587.6" y="601.54" width="100.3" height="4.46" fill="url(#fr129)"/></g>
<rect x="608.85" y="526.95" width="11.9" height="11.9" fill="url(#gRedH)" stroke="#5a2020" stroke-width="0.7"/>
<circle cx="660" cy="532.9" r="5.8" fill="url(#gPinkC)" stroke="#5a2020" stroke-width="0.7"/>
<circle cx="614.7" cy="578.2" r="9.1" fill="url(#gPinkC)" stroke="#5a2020" stroke-width="0.7"/>
<rect x="653.25" y="571.25" width="14.5" height="14.5" fill="url(#gPinkH)" stroke="#5a2020" stroke-width="0.7"/>
</g>
<rect x="591.6" y="509.4" width="92.3" height="92.3" fill="none" stroke="#1a1a1a" stroke-width="1.4"/>
<text x="600.1" y="592.2" font-size="12" text-anchor="start" font-weight="normal" font-style="normal" fill="#000">M<tspan font-size="9" dy="3">B1</tspan></text>
<g clip-path="url(#cl5)">
<g filter="url(#fb130)"><rect x="587.2" y="606.3" width="100.1" height="4.46" fill="url(#fr130)"/><rect x="587.2" y="610.16" width="100.1" height="4.46" fill="url(#fr131)"/><rect x="587.2" y="614.02" width="100.1" height="4.46" fill="url(#fr132)"/><rect x="587.2" y="617.87" width="100.1" height="4.46" fill="url(#fr133)"/><rect x="587.2" y="621.73" width="100.1" height="4.46" fill="url(#fr134)"/><rect x="587.2" y="625.59" width="100.1" height="4.46" fill="url(#fr135)"/><rect x="587.2" y="629.45" width="100.1" height="4.46" fill="url(#fr136)"/><rect x="587.2" y="633.3" width="100.1" height="4.46" fill="url(#fr137)"/><rect x="587.2" y="637.16" width="100.1" height="4.46" fill="url(#fr138)"/><rect x="587.2" y="641.02" width="100.1" height="4.46" fill="url(#fr139)"/><rect x="587.2" y="644.88" width="100.1" height="4.46" fill="url(#fr140)"/><rect x="587.2" y="648.73" width="100.1" height="4.46" fill="url(#fr141)"/><rect x="587.2" y="652.59" width="100.1" height="4.46" fill="url(#fr142)"/><rect x="587.2" y="656.45" width="100.1" height="4.46" fill="url(#fr143)"/><rect x="587.2" y="660.31" width="100.1" height="4.46" fill="url(#fr144)"/><rect x="587.2" y="664.17" width="100.1" height="4.46" fill="url(#fr145)"/><rect x="587.2" y="668.02" width="100.1" height="4.46" fill="url(#fr146)"/><rect x="587.2" y="671.88" width="100.1" height="4.46" fill="url(#fr147)"/><rect x="587.2" y="675.74" width="100.1" height="4.46" fill="url(#fr148)"/><rect x="587.2" y="679.6" width="100.1" height="4.46" fill="url(#fr149)"/><rect x="587.2" y="683.45" width="100.1" height="4.46" fill="url(#fr150)"/><rect x="587.2" y="687.31" width="100.1" height="4.46" fill="url(#fr151)"/><rect x="587.2" y="691.17" width="100.1" height="4.46" fill="url(#fr152)"/><rect x="587.2" y="695.03" width="100.1" height="4.46" fill="url(#fr153)"/><rect x="587.2" y="698.88" width="100.1" height="4.46" fill="url(#fr154)"/><rect x="587.2" y="702.74" width="100.1" height="4.46" fill="url(#fr155)"/></g>
<rect x="608.7" y="628.2" width="11.6" height="11.6" fill="url(#gPinkV)" stroke="#5a2020" stroke-width="0.7"/>
<circle cx="659.8" cy="633.8" r="6" fill="url(#gPinkC)" stroke="#5a2020" stroke-width="0.7"/>
<circle cx="614.4" cy="679.4" r="9.1" fill="url(#gPinkC)" stroke="#5a2020" stroke-width="0.7"/>
<rect x="652.75" y="672.35" width="14.5" height="14.5" fill="url(#gRedV)" stroke="#5a2020" stroke-width="0.7"/>
</g>
<rect x="591.2" y="610.6" width="92.1" height="92.3" fill="none" stroke="#ff2a2a" stroke-width="1.4"/>
<text x="601" y="695.8" font-size="12" text-anchor="start" font-weight="normal" font-style="normal" fill="#000">M<tspan font-size="9" dy="3">B2</tspan></text>
<text x="584.6" y="20.8" font-size="11.3" text-anchor="start" font-weight="normal" font-style="normal" fill="#000">Min</text>
<rect x="609.9" y="14.3" width="46" height="6.1" fill="url(#gCbar)"/>
<text x="658" y="20.8" font-size="11.3" text-anchor="start" font-weight="normal" font-style="normal" fill="#000">Max</text>
<text x="634.8" y="10.2" font-size="9.5" text-anchor="middle" font-weight="normal" font-style="normal" fill="#000">|E|</text>
<g clip-path="url(#cl6)">
<rect x="591.6" y="768" width="92.6" height="92.6" fill="#b3b4e6"/>
<g filter="url(#blr)"><path d="M573.14,820.54L575.07,818.92L576.9,817.2L578.63,815.38L580.27,813.47L581.81,811.46L583.28,809.38L584.69,807.24L586.07,805.07L587.42,802.87L588.79,800.69L590.18,798.53L591.64,796.44L593.16,794.41L594.77,792.47L596.48,790.63L598.28,788.88L600.19,787.24L602.18,785.68L604.26,784.21L606.39,782.79L608.57,781.42L610.76,780.06L612.95,778.7L615.1,777.3L617.21,775.86L619.24,774.34L621.19,772.74L623.05,771.05L624.8,769.25L626.45,767.35L628.02,765.37L629.5,763.3L630.92,761.17L632.3,759L633.65,756.8L635.02,754.62L636.41,752.46L637.84,750.34L639.35,748.3L640.95,746.35M571.04,861.44L573.31,858.01L575.74,854.74L578.41,851.71L581.33,848.93L584.49,846.39L587.85,844.05L591.34,841.84L594.86,839.66L598.31,837.41L601.6,835L604.68,832.38L607.5,829.5L610.08,826.38L612.44,823.04L614.67,819.57L616.85,816.05L619.08,812.58L621.45,809.25L624.04,806.14L626.88,803.28L629.97,800.67L633.27,798.27L636.73,796.03L640.25,793.85L643.73,791.63L647.08,789.28L650.24,786.74L653.14,783.94L655.79,780.89L658.21,777.61L660.47,774.17L662.66,770.66L664.86,767.16L667.18,763.78L669.7,760.6L672.45,757.65L675.46,754.96L678.71,752.51L682.13,750.23L685.64,748.04M573.08,902.48L576.25,898L579.21,893.31L582.17,888.62L585.38,884.18L588.98,880.13L593.03,876.53L597.49,873.34L602.17,870.37L606.86,867.41L611.34,864.24L615.42,860.67L619.05,856.65L622.27,852.22L625.25,847.55L628.2,842.85L631.35,838.35L634.88,834.23L638.87,830.57L643.27,827.32L647.93,824.33L652.64,821.39L657.16,818.26L661.31,814.76L665.01,810.81L668.29,806.44L671.29,801.79L674.23,797.08L677.33,792.53L680.8,788.35L684.71,784.61L689.05,781.3L693.69,778.29L698.41,775.36L702.97,772.27L707.19,768.84L710.96,764.96L714.3,760.65L717.33,756.03L720.26,751.31L723.33,746.73M571.79,946.19L577.78,942.28L583.24,937.84L587.95,932.65L592.01,926.81L595.81,920.71L599.85,914.85L604.51,909.61L609.92,905.12L615.88,901.18L621.96,897.36L627.67,893.17L632.68,888.28L636.97,882.67L640.81,876.61L644.7,870.6L649.08,865.08L654.2,860.3L659.99,856.19L666.09,852.39L671.99,848.39L677.3,843.8L681.85,838.45L685.82,832.52L689.63,826.43L693.77,820.67L698.59,815.59L704.15,811.25L710.18,807.38L716.22,803.52L721.8,799.2L726.65,794.15L730.81,788.41L734.62,782.32L738.57,776.37L743.1,771L748.38,766.38L754.27,762.37L760.37,758.57L766.18,754.48L771.33,749.73" fill="none" stroke="#6464e8" stroke-width="15"/></g>
<g filter="url(#blr2)"><path d="M573.14,820.54L575.07,818.92L576.9,817.2L578.63,815.38L580.27,813.47L581.81,811.46L583.28,809.38L584.69,807.24L586.07,805.07L587.42,802.87L588.79,800.69L590.18,798.53L591.64,796.44L593.16,794.41L594.77,792.47L596.48,790.63L598.28,788.88L600.19,787.24L602.18,785.68L604.26,784.21L606.39,782.79L608.57,781.42L610.76,780.06L612.95,778.7L615.1,777.3L617.21,775.86L619.24,774.34L621.19,772.74L623.05,771.05L624.8,769.25L626.45,767.35L628.02,765.37L629.5,763.3L630.92,761.17L632.3,759L633.65,756.8L635.02,754.62L636.41,752.46L637.84,750.34L639.35,748.3L640.95,746.35M571.04,861.44L573.31,858.01L575.74,854.74L578.41,851.71L581.33,848.93L584.49,846.39L587.85,844.05L591.34,841.84L594.86,839.66L598.31,837.41L601.6,835L604.68,832.38L607.5,829.5L610.08,826.38L612.44,823.04L614.67,819.57L616.85,816.05L619.08,812.58L621.45,809.25L624.04,806.14L626.88,803.28L629.97,800.67L633.27,798.27L636.73,796.03L640.25,793.85L643.73,791.63L647.08,789.28L650.24,786.74L653.14,783.94L655.79,780.89L658.21,777.61L660.47,774.17L662.66,770.66L664.86,767.16L667.18,763.78L669.7,760.6L672.45,757.65L675.46,754.96L678.71,752.51L682.13,750.23L685.64,748.04M573.08,902.48L576.25,898L579.21,893.31L582.17,888.62L585.38,884.18L588.98,880.13L593.03,876.53L597.49,873.34L602.17,870.37L606.86,867.41L611.34,864.24L615.42,860.67L619.05,856.65L622.27,852.22L625.25,847.55L628.2,842.85L631.35,838.35L634.88,834.23L638.87,830.57L643.27,827.32L647.93,824.33L652.64,821.39L657.16,818.26L661.31,814.76L665.01,810.81L668.29,806.44L671.29,801.79L674.23,797.08L677.33,792.53L680.8,788.35L684.71,784.61L689.05,781.3L693.69,778.29L698.41,775.36L702.97,772.27L707.19,768.84L710.96,764.96L714.3,760.65L717.33,756.03L720.26,751.31L723.33,746.73M571.79,946.19L577.78,942.28L583.24,937.84L587.95,932.65L592.01,926.81L595.81,920.71L599.85,914.85L604.51,909.61L609.92,905.12L615.88,901.18L621.96,897.36L627.67,893.17L632.68,888.28L636.97,882.67L640.81,876.61L644.7,870.6L649.08,865.08L654.2,860.3L659.99,856.19L666.09,852.39L671.99,848.39L677.3,843.8L681.85,838.45L685.82,832.52L689.63,826.43L693.77,820.67L698.59,815.59L704.15,811.25L710.18,807.38L716.22,803.52L721.8,799.2L726.65,794.15L730.81,788.41L734.62,782.32L738.57,776.37L743.1,771L748.38,766.38L754.27,762.37L760.37,758.57L766.18,754.48L771.33,749.73" fill="none" stroke="#0c0ce6" stroke-width="5"/></g>
<rect x="610.5" y="787" width="14.8" height="14.8" fill="url(#gM1a)" stroke="#3a2a3a" stroke-width="0.7"/>
<circle cx="658" cy="794.4" r="8" fill="#d8d8ea" stroke="#3a2a3a" stroke-width="0.7"/>
<circle cx="617.8" cy="834.3" r="8" fill="#d8d8ea" stroke="#3a2a3a" stroke-width="0.7"/>
<rect x="650.7" y="827" width="14.8" height="14.8" fill="url(#gM1b)" stroke="#3a2a3a" stroke-width="0.7"/>
</g>
<rect x="591.6" y="768" width="92.6" height="93.2" fill="none" stroke="#1a1a1a" stroke-width="1.4"/>
<text x="602.7" y="851.3" font-size="12" text-anchor="start" font-weight="normal" font-style="normal" fill="#000">M<tspan font-size="9" dy="3">B1</tspan></text>
<g clip-path="url(#cl7)">
<rect x="591" y="869.9" width="92.4" height="92.4" fill="#f4f4fc"/>
<g filter="url(#blr)"><path d="M569.75,918.15L572.65,921.87L575.88,925.26L579.46,928.3L583.32,931.06L587.36,933.64L591.44,936.18L595.41,938.83L599.13,941.73L602.53,944.95L605.58,948.52L608.35,952.37L610.93,956.41L613.47,960.49L616.11,964.47L619,968.2L622.22,971.6L625.78,974.66L629.63,977.43L633.66,980.02L637.75,982.55L641.72,985.2L645.46,988.08L648.87,991.29L651.94,994.84L654.72,998.68L657.3,1002.72L659.84,1006.8L662.48,1010.78L665.36,1014.52L668.56,1017.94L672.1,1021.02L675.93,1023.81L679.97,1026.39L684.05,1028.93L688.03,1031.57L691.79,1034.43L695.22,1037.62L698.3,1041.16L701.09,1044.99L703.68,1049.02M572.46,871.44L576.04,874.48L579.29,877.85L582.2,881.56L584.87,885.51L587.41,889.59L589.98,893.64L592.72,897.52L595.75,901.11L599.12,904.36L602.81,907.29L606.76,909.96L610.84,912.5L614.89,915.07L618.78,917.8L622.38,920.82L625.64,924.18L628.57,927.87L631.25,931.81L633.79,935.89L636.35,939.95L639.08,943.84L642.1,947.44L645.45,950.71L649.13,953.65L653.07,956.33L657.14,958.88L661.2,961.44L665.09,964.17L668.71,967.17L671.99,970.51L674.93,974.19L677.62,978.12L680.17,982.19L682.73,986.25L685.45,990.15L688.44,993.78L691.78,997.06L695.44,1000.02L699.37,1002.71L703.44,1005.26M569.49,829.41L573.33,832.19L577.37,834.77L581.45,837.31L585.43,839.95L589.18,842.82L592.61,846.01L595.69,849.55L598.47,853.39L601.06,857.42L603.6,861.5L606.23,865.49L609.1,869.24L612.28,872.68L615.81,875.77L619.64,878.56L623.67,881.15L627.76,883.68L631.75,886.31L635.51,889.17L638.95,892.35L642.05,895.87L644.84,899.7L647.44,903.72L649.97,907.81L652.6,911.8L655.45,915.57L658.62,919.02L662.14,922.12L665.95,924.93L669.97,927.53L674.06,930.06L678.06,932.68L681.83,935.53L685.29,938.69L688.4,942.2L691.21,946.01L693.81,950.03L696.35,954.11L698.97,958.11L701.81,961.89M570.54,780.36L574.63,782.89L578.65,785.49L582.47,788.29L585.99,791.39L589.16,794.84L592.02,798.6L594.64,802.6L597.18,806.68L599.77,810.71L602.57,814.53L605.66,818.06L609.1,821.24L612.86,824.1L616.85,826.73L620.93,829.27L624.96,831.86L628.79,834.65L632.33,837.73L635.51,841.17L638.38,844.92L641.02,848.9L643.56,852.98L646.14,857.02L648.93,860.85L652.01,864.39L655.43,867.59L659.17,870.47L663.15,873.11L667.23,875.65L671.27,878.23L675.11,881.01L678.66,884.08L681.87,887.49L684.75,891.23L687.4,895.2L689.93,899.29L692.52,903.32L695.29,907.17L698.35,910.73L701.75,913.95" fill="none" stroke="#8c8cf2" stroke-width="19"/></g>
<g filter="url(#blr2)"><path d="M569.75,918.15L572.65,921.87L575.88,925.26L579.46,928.3L583.32,931.06L587.36,933.64L591.44,936.18L595.41,938.83L599.13,941.73L602.53,944.95L605.58,948.52L608.35,952.37L610.93,956.41L613.47,960.49L616.11,964.47L619,968.2L622.22,971.6L625.78,974.66L629.63,977.43L633.66,980.02L637.75,982.55L641.72,985.2L645.46,988.08L648.87,991.29L651.94,994.84L654.72,998.68L657.3,1002.72L659.84,1006.8L662.48,1010.78L665.36,1014.52L668.56,1017.94L672.1,1021.02L675.93,1023.81L679.97,1026.39L684.05,1028.93L688.03,1031.57L691.79,1034.43L695.22,1037.62L698.3,1041.16L701.09,1044.99L703.68,1049.02M572.46,871.44L576.04,874.48L579.29,877.85L582.2,881.56L584.87,885.51L587.41,889.59L589.98,893.64L592.72,897.52L595.75,901.11L599.12,904.36L602.81,907.29L606.76,909.96L610.84,912.5L614.89,915.07L618.78,917.8L622.38,920.82L625.64,924.18L628.57,927.87L631.25,931.81L633.79,935.89L636.35,939.95L639.08,943.84L642.1,947.44L645.45,950.71L649.13,953.65L653.07,956.33L657.14,958.88L661.2,961.44L665.09,964.17L668.71,967.17L671.99,970.51L674.93,974.19L677.62,978.12L680.17,982.19L682.73,986.25L685.45,990.15L688.44,993.78L691.78,997.06L695.44,1000.02L699.37,1002.71L703.44,1005.26M569.49,829.41L573.33,832.19L577.37,834.77L581.45,837.31L585.43,839.95L589.18,842.82L592.61,846.01L595.69,849.55L598.47,853.39L601.06,857.42L603.6,861.5L606.23,865.49L609.1,869.24L612.28,872.68L615.81,875.77L619.64,878.56L623.67,881.15L627.76,883.68L631.75,886.31L635.51,889.17L638.95,892.35L642.05,895.87L644.84,899.7L647.44,903.72L649.97,907.81L652.6,911.8L655.45,915.57L658.62,919.02L662.14,922.12L665.95,924.93L669.97,927.53L674.06,930.06L678.06,932.68L681.83,935.53L685.29,938.69L688.4,942.2L691.21,946.01L693.81,950.03L696.35,954.11L698.97,958.11L701.81,961.89M570.54,780.36L574.63,782.89L578.65,785.49L582.47,788.29L585.99,791.39L589.16,794.84L592.02,798.6L594.64,802.6L597.18,806.68L599.77,810.71L602.57,814.53L605.66,818.06L609.1,821.24L612.86,824.1L616.85,826.73L620.93,829.27L624.96,831.86L628.79,834.65L632.33,837.73L635.51,841.17L638.38,844.92L641.02,848.9L643.56,852.98L646.14,857.02L648.93,860.85L652.01,864.39L655.43,867.59L659.17,870.47L663.15,873.11L667.23,875.65L671.27,878.23L675.11,881.01L678.66,884.08L681.87,887.49L684.75,891.23L687.4,895.2L689.93,899.29L692.52,903.32L695.29,907.17L698.35,910.73L701.75,913.95" fill="none" stroke="#0e0ee8" stroke-width="6"/></g>
<ellipse cx="597" cy="875.9" rx="6" ry="10" fill="url(#gP)" opacity="1" transform="rotate(-40 597 875.9)"/>
<ellipse cx="677.4" cy="956.3" rx="6" ry="10" fill="url(#gP)" opacity="1" transform="rotate(-40 677.4 956.3)"/>
<ellipse cx="667" cy="892.9" rx="6" ry="10" fill="url(#gP)" opacity="1" transform="rotate(-40 667 892.9)"/>
<ellipse cx="606" cy="937.4" rx="6" ry="10" fill="url(#gP)" opacity="1" transform="rotate(-40 606 937.4)"/>
<rect x="609.25" y="888.25" width="15.5" height="15.5" fill="url(#gM2s)" stroke="#3a2a3a" stroke-width="0.7"/>
<circle cx="657.3" cy="896" r="9.1" fill="url(#gM2c)" stroke="#3a2a3a" stroke-width="0.7"/>
<circle cx="617.1" cy="935.8" r="9.1" fill="url(#gM2c2)" stroke="#3a2a3a" stroke-width="0.7"/>
<rect x="649.6" y="928.4" width="15.2" height="15.2" fill="url(#gM2s)" stroke="#3a2a3a" stroke-width="0.7"/>
</g>
<rect x="591" y="869.9" width="92.4" height="92.4" fill="none" stroke="#ff2a2a" stroke-width="1.4"/>
<text x="604.9" y="954" font-size="12" text-anchor="start" font-weight="normal" font-style="normal" fill="#000">M<tspan font-size="9" dy="3">B2</tspan></text>
</svg></body></html>
